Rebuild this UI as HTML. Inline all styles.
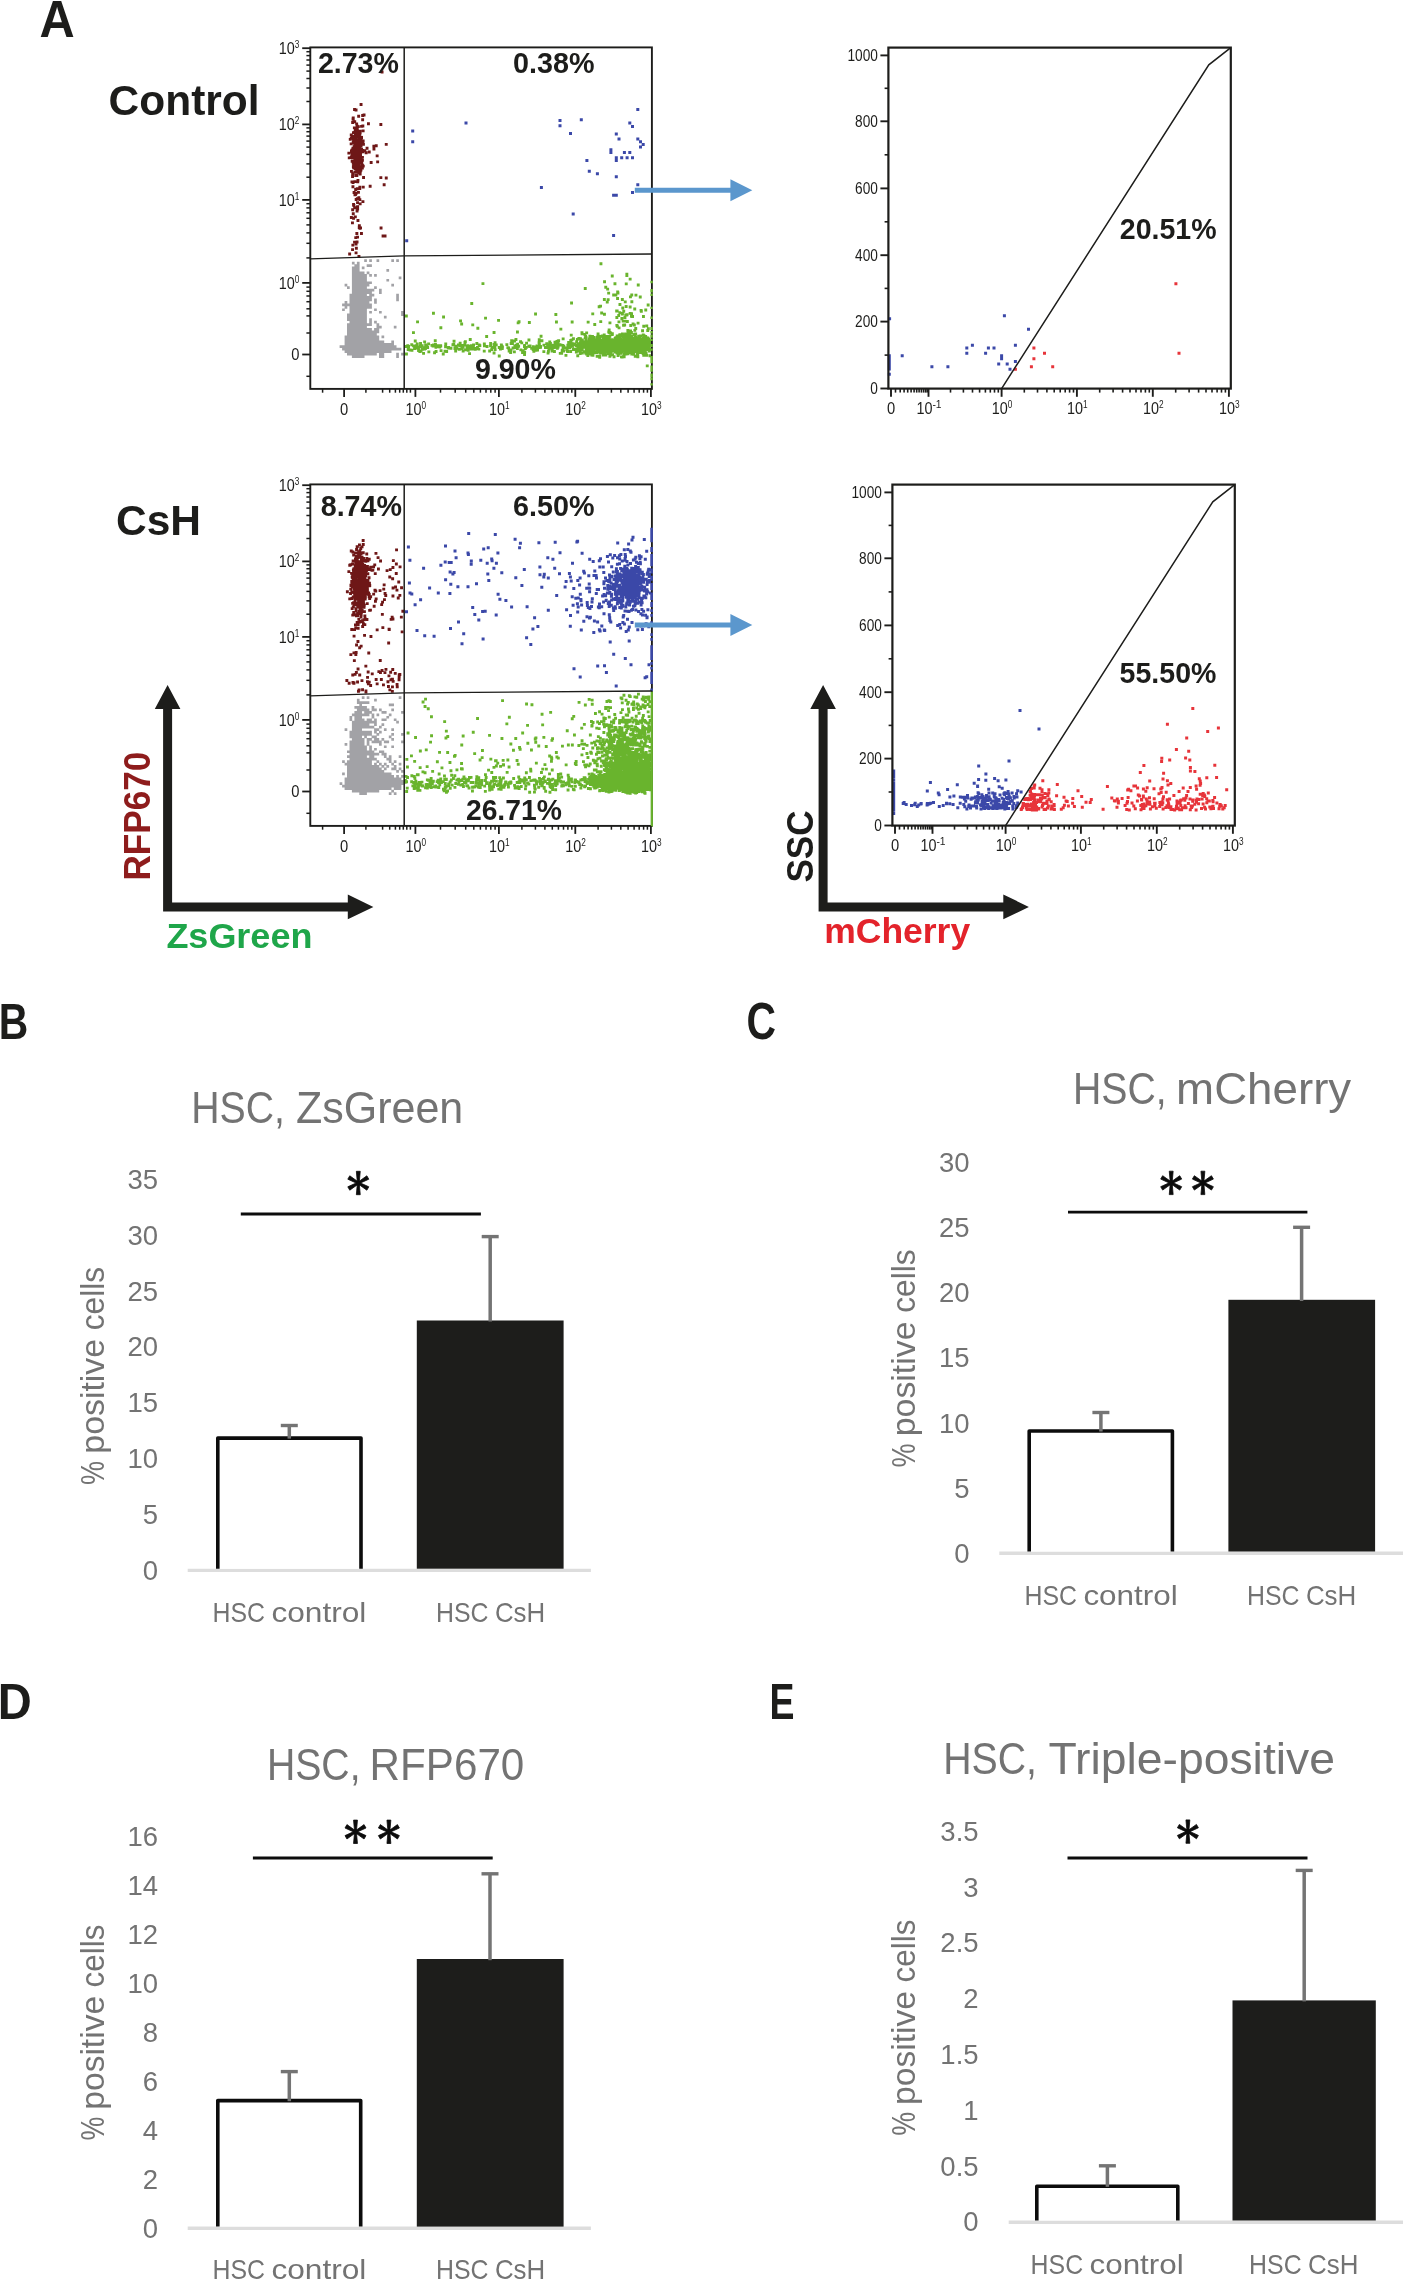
<!DOCTYPE html>
<html><head><meta charset="utf-8"><title>Figure</title>
<style>html,body{margin:0;padding:0;background:#fff}svg{display:block;will-change:transform;opacity:0.999}text{font-family:"Liberation Sans",sans-serif}</style>
</head><body>
<svg width="1403" height="2280" viewBox="0 0 1403 2280">
<rect width="1403" height="2280" fill="#fff"/>
<text x="39.4" y="36.8" font-size="51" fill="#1d1d1b" font-weight="bold" textLength="35.2" lengthAdjust="spacingAndGlyphs">A</text>
<text x="108.6" y="115.3" font-size="42.5" fill="#1d1d1b" font-weight="bold" textLength="151" lengthAdjust="spacingAndGlyphs">Control</text>
<text x="116" y="535" font-size="42.5" fill="#1d1d1b" font-weight="bold" textLength="85" lengthAdjust="spacingAndGlyphs">CsH</text>
<path fill="#a2a2a6" d="M364.2 259.2h2.7v2.7h-2.7zM369.2 259.2h2.7v2.7h-2.7zM376.5 259.2h2.7v2.7h-2.7zM391.3 259.2h2.7v2.7h-2.7zM396.2 259.2h2.7v2.7h-2.7zM351.9 261.7h2.7v2.7h-2.7zM356.9 261.7h2.7v2.7h-2.7zM354.4 264.2h2.7v2.7h-2.7zM356.9 264.2h2.7v2.7h-2.7zM366.7 264.2h2.7v2.7h-2.7zM369.2 264.2h2.7v2.7h-2.7zM351.9 266.6h2.7v2.7h-2.7zM354.4 266.6h2.7v2.7h-2.7zM356.9 266.6h2.7v2.7h-2.7zM361.8 266.6h2.7v2.7h-2.7zM351.9 269.1h2.7v2.7h-2.7zM354.4 269.1h2.7v2.7h-2.7zM356.9 269.1h2.7v2.7h-2.7zM386.4 269.1h2.7v2.7h-2.7zM351.9 271.5h2.7v2.7h-2.7zM354.4 271.5h2.7v2.7h-2.7zM356.9 271.5h2.7v2.7h-2.7zM359.3 271.5h2.7v2.7h-2.7zM361.8 271.5h2.7v2.7h-2.7zM366.7 271.5h2.7v2.7h-2.7zM351.9 274h2.7v2.7h-2.7zM354.4 274h2.7v2.7h-2.7zM356.9 274h2.7v2.7h-2.7zM359.3 274h2.7v2.7h-2.7zM361.8 274h2.7v2.7h-2.7zM364.2 274h2.7v2.7h-2.7zM369.2 274h2.7v2.7h-2.7zM374.1 274h2.7v2.7h-2.7zM351.9 276.5h2.7v2.7h-2.7zM354.4 276.5h2.7v2.7h-2.7zM356.9 276.5h2.7v2.7h-2.7zM359.3 276.5h2.7v2.7h-2.7zM361.8 276.5h2.7v2.7h-2.7zM364.2 276.5h2.7v2.7h-2.7zM398.7 276.5h2.7v2.7h-2.7zM351.9 278.9h2.7v2.7h-2.7zM354.4 278.9h2.7v2.7h-2.7zM356.9 278.9h2.7v2.7h-2.7zM359.3 278.9h2.7v2.7h-2.7zM361.8 278.9h2.7v2.7h-2.7zM364.2 278.9h2.7v2.7h-2.7zM386.4 278.9h2.7v2.7h-2.7zM351.9 281.4h2.7v2.7h-2.7zM354.4 281.4h2.7v2.7h-2.7zM356.9 281.4h2.7v2.7h-2.7zM359.3 281.4h2.7v2.7h-2.7zM361.8 281.4h2.7v2.7h-2.7zM364.2 281.4h2.7v2.7h-2.7zM366.7 281.4h2.7v2.7h-2.7zM369.2 281.4h2.7v2.7h-2.7zM344.6 283.8h2.7v2.7h-2.7zM351.9 283.8h2.7v2.7h-2.7zM354.4 283.8h2.7v2.7h-2.7zM356.9 283.8h2.7v2.7h-2.7zM359.3 283.8h2.7v2.7h-2.7zM361.8 283.8h2.7v2.7h-2.7zM364.2 283.8h2.7v2.7h-2.7zM366.7 283.8h2.7v2.7h-2.7zM391.3 283.8h2.7v2.7h-2.7zM347 286.3h2.7v2.7h-2.7zM351.9 286.3h2.7v2.7h-2.7zM354.4 286.3h2.7v2.7h-2.7zM356.9 286.3h2.7v2.7h-2.7zM359.3 286.3h2.7v2.7h-2.7zM361.8 286.3h2.7v2.7h-2.7zM364.2 286.3h2.7v2.7h-2.7zM374.1 286.3h2.7v2.7h-2.7zM351.9 288.8h2.7v2.7h-2.7zM354.4 288.8h2.7v2.7h-2.7zM356.9 288.8h2.7v2.7h-2.7zM359.3 288.8h2.7v2.7h-2.7zM361.8 288.8h2.7v2.7h-2.7zM364.2 288.8h2.7v2.7h-2.7zM366.7 288.8h2.7v2.7h-2.7zM369.2 288.8h2.7v2.7h-2.7zM371.6 288.8h2.7v2.7h-2.7zM379 288.8h2.7v2.7h-2.7zM351.9 291.2h2.7v2.7h-2.7zM354.4 291.2h2.7v2.7h-2.7zM356.9 291.2h2.7v2.7h-2.7zM359.3 291.2h2.7v2.7h-2.7zM361.8 291.2h2.7v2.7h-2.7zM364.2 291.2h2.7v2.7h-2.7zM366.7 291.2h2.7v2.7h-2.7zM369.2 291.2h2.7v2.7h-2.7zM379 291.2h2.7v2.7h-2.7zM349.5 293.7h2.7v2.7h-2.7zM351.9 293.7h2.7v2.7h-2.7zM354.4 293.7h2.7v2.7h-2.7zM356.9 293.7h2.7v2.7h-2.7zM359.3 293.7h2.7v2.7h-2.7zM361.8 293.7h2.7v2.7h-2.7zM364.2 293.7h2.7v2.7h-2.7zM369.2 293.7h2.7v2.7h-2.7zM371.6 293.7h2.7v2.7h-2.7zM396.2 293.7h2.7v2.7h-2.7zM349.5 296.1h2.7v2.7h-2.7zM351.9 296.1h2.7v2.7h-2.7zM354.4 296.1h2.7v2.7h-2.7zM356.9 296.1h2.7v2.7h-2.7zM359.3 296.1h2.7v2.7h-2.7zM361.8 296.1h2.7v2.7h-2.7zM364.2 296.1h2.7v2.7h-2.7zM366.7 296.1h2.7v2.7h-2.7zM369.2 296.1h2.7v2.7h-2.7zM396.2 296.1h2.7v2.7h-2.7zM349.5 298.6h2.7v2.7h-2.7zM351.9 298.6h2.7v2.7h-2.7zM354.4 298.6h2.7v2.7h-2.7zM356.9 298.6h2.7v2.7h-2.7zM359.3 298.6h2.7v2.7h-2.7zM361.8 298.6h2.7v2.7h-2.7zM364.2 298.6h2.7v2.7h-2.7zM366.7 298.6h2.7v2.7h-2.7zM369.2 298.6h2.7v2.7h-2.7zM374.1 298.6h2.7v2.7h-2.7zM396.2 298.6h2.7v2.7h-2.7zM344.6 301.1h2.7v2.7h-2.7zM349.5 301.1h2.7v2.7h-2.7zM351.9 301.1h2.7v2.7h-2.7zM354.4 301.1h2.7v2.7h-2.7zM356.9 301.1h2.7v2.7h-2.7zM359.3 301.1h2.7v2.7h-2.7zM361.8 301.1h2.7v2.7h-2.7zM364.2 301.1h2.7v2.7h-2.7zM366.7 301.1h2.7v2.7h-2.7zM374.1 301.1h2.7v2.7h-2.7zM342.1 303.5h2.7v2.7h-2.7zM344.6 303.5h2.7v2.7h-2.7zM347 303.5h2.7v2.7h-2.7zM349.5 303.5h2.7v2.7h-2.7zM351.9 303.5h2.7v2.7h-2.7zM354.4 303.5h2.7v2.7h-2.7zM356.9 303.5h2.7v2.7h-2.7zM359.3 303.5h2.7v2.7h-2.7zM361.8 303.5h2.7v2.7h-2.7zM364.2 303.5h2.7v2.7h-2.7zM366.7 303.5h2.7v2.7h-2.7zM369.2 303.5h2.7v2.7h-2.7zM344.6 306h2.7v2.7h-2.7zM349.5 306h2.7v2.7h-2.7zM351.9 306h2.7v2.7h-2.7zM354.4 306h2.7v2.7h-2.7zM356.9 306h2.7v2.7h-2.7zM359.3 306h2.7v2.7h-2.7zM361.8 306h2.7v2.7h-2.7zM364.2 306h2.7v2.7h-2.7zM366.7 306h2.7v2.7h-2.7zM369.2 306h2.7v2.7h-2.7zM342.1 308.4h2.7v2.7h-2.7zM349.5 308.4h2.7v2.7h-2.7zM351.9 308.4h2.7v2.7h-2.7zM354.4 308.4h2.7v2.7h-2.7zM356.9 308.4h2.7v2.7h-2.7zM359.3 308.4h2.7v2.7h-2.7zM361.8 308.4h2.7v2.7h-2.7zM364.2 308.4h2.7v2.7h-2.7zM374.1 308.4h2.7v2.7h-2.7zM349.5 310.9h2.7v2.7h-2.7zM351.9 310.9h2.7v2.7h-2.7zM354.4 310.9h2.7v2.7h-2.7zM356.9 310.9h2.7v2.7h-2.7zM359.3 310.9h2.7v2.7h-2.7zM361.8 310.9h2.7v2.7h-2.7zM364.2 310.9h2.7v2.7h-2.7zM369.2 310.9h2.7v2.7h-2.7zM379 310.9h2.7v2.7h-2.7zM401.1 310.9h2.7v2.7h-2.7zM347 313.4h2.7v2.7h-2.7zM349.5 313.4h2.7v2.7h-2.7zM351.9 313.4h2.7v2.7h-2.7zM354.4 313.4h2.7v2.7h-2.7zM356.9 313.4h2.7v2.7h-2.7zM359.3 313.4h2.7v2.7h-2.7zM361.8 313.4h2.7v2.7h-2.7zM364.2 313.4h2.7v2.7h-2.7zM401.1 313.4h2.7v2.7h-2.7zM347 315.8h2.7v2.7h-2.7zM349.5 315.8h2.7v2.7h-2.7zM351.9 315.8h2.7v2.7h-2.7zM354.4 315.8h2.7v2.7h-2.7zM356.9 315.8h2.7v2.7h-2.7zM359.3 315.8h2.7v2.7h-2.7zM361.8 315.8h2.7v2.7h-2.7zM364.2 315.8h2.7v2.7h-2.7zM383.9 315.8h2.7v2.7h-2.7zM347 318.3h2.7v2.7h-2.7zM349.5 318.3h2.7v2.7h-2.7zM351.9 318.3h2.7v2.7h-2.7zM354.4 318.3h2.7v2.7h-2.7zM356.9 318.3h2.7v2.7h-2.7zM359.3 318.3h2.7v2.7h-2.7zM361.8 318.3h2.7v2.7h-2.7zM364.2 318.3h2.7v2.7h-2.7zM369.2 318.3h2.7v2.7h-2.7zM349.5 320.7h2.7v2.7h-2.7zM351.9 320.7h2.7v2.7h-2.7zM354.4 320.7h2.7v2.7h-2.7zM356.9 320.7h2.7v2.7h-2.7zM359.3 320.7h2.7v2.7h-2.7zM361.8 320.7h2.7v2.7h-2.7zM364.2 320.7h2.7v2.7h-2.7zM369.2 320.7h2.7v2.7h-2.7zM374.1 320.7h2.7v2.7h-2.7zM347 323.2h2.7v2.7h-2.7zM349.5 323.2h2.7v2.7h-2.7zM351.9 323.2h2.7v2.7h-2.7zM354.4 323.2h2.7v2.7h-2.7zM356.9 323.2h2.7v2.7h-2.7zM359.3 323.2h2.7v2.7h-2.7zM361.8 323.2h2.7v2.7h-2.7zM364.2 323.2h2.7v2.7h-2.7zM366.7 323.2h2.7v2.7h-2.7zM369.2 323.2h2.7v2.7h-2.7zM376.5 323.2h2.7v2.7h-2.7zM347 325.7h2.7v2.7h-2.7zM349.5 325.7h2.7v2.7h-2.7zM351.9 325.7h2.7v2.7h-2.7zM354.4 325.7h2.7v2.7h-2.7zM356.9 325.7h2.7v2.7h-2.7zM359.3 325.7h2.7v2.7h-2.7zM361.8 325.7h2.7v2.7h-2.7zM364.2 325.7h2.7v2.7h-2.7zM376.5 325.7h2.7v2.7h-2.7zM379 325.7h2.7v2.7h-2.7zM393.8 325.7h2.7v2.7h-2.7zM347 328.1h2.7v2.7h-2.7zM349.5 328.1h2.7v2.7h-2.7zM351.9 328.1h2.7v2.7h-2.7zM354.4 328.1h2.7v2.7h-2.7zM356.9 328.1h2.7v2.7h-2.7zM359.3 328.1h2.7v2.7h-2.7zM361.8 328.1h2.7v2.7h-2.7zM364.2 328.1h2.7v2.7h-2.7zM366.7 328.1h2.7v2.7h-2.7zM369.2 328.1h2.7v2.7h-2.7zM374.1 328.1h2.7v2.7h-2.7zM376.5 328.1h2.7v2.7h-2.7zM347 330.6h2.7v2.7h-2.7zM349.5 330.6h2.7v2.7h-2.7zM351.9 330.6h2.7v2.7h-2.7zM354.4 330.6h2.7v2.7h-2.7zM356.9 330.6h2.7v2.7h-2.7zM359.3 330.6h2.7v2.7h-2.7zM361.8 330.6h2.7v2.7h-2.7zM364.2 330.6h2.7v2.7h-2.7zM366.7 330.6h2.7v2.7h-2.7zM369.2 330.6h2.7v2.7h-2.7zM371.6 330.6h2.7v2.7h-2.7zM374.1 330.6h2.7v2.7h-2.7zM376.5 330.6h2.7v2.7h-2.7zM347 333h2.7v2.7h-2.7zM349.5 333h2.7v2.7h-2.7zM351.9 333h2.7v2.7h-2.7zM354.4 333h2.7v2.7h-2.7zM356.9 333h2.7v2.7h-2.7zM359.3 333h2.7v2.7h-2.7zM361.8 333h2.7v2.7h-2.7zM364.2 333h2.7v2.7h-2.7zM366.7 333h2.7v2.7h-2.7zM369.2 333h2.7v2.7h-2.7zM371.6 333h2.7v2.7h-2.7zM374.1 333h2.7v2.7h-2.7zM344.6 335.5h2.7v2.7h-2.7zM347 335.5h2.7v2.7h-2.7zM349.5 335.5h2.7v2.7h-2.7zM351.9 335.5h2.7v2.7h-2.7zM354.4 335.5h2.7v2.7h-2.7zM356.9 335.5h2.7v2.7h-2.7zM359.3 335.5h2.7v2.7h-2.7zM361.8 335.5h2.7v2.7h-2.7zM364.2 335.5h2.7v2.7h-2.7zM366.7 335.5h2.7v2.7h-2.7zM369.2 335.5h2.7v2.7h-2.7zM371.6 335.5h2.7v2.7h-2.7zM374.1 335.5h2.7v2.7h-2.7zM376.5 335.5h2.7v2.7h-2.7zM381.5 335.5h2.7v2.7h-2.7zM344.6 338h2.7v2.7h-2.7zM347 338h2.7v2.7h-2.7zM349.5 338h2.7v2.7h-2.7zM351.9 338h2.7v2.7h-2.7zM354.4 338h2.7v2.7h-2.7zM356.9 338h2.7v2.7h-2.7zM359.3 338h2.7v2.7h-2.7zM361.8 338h2.7v2.7h-2.7zM364.2 338h2.7v2.7h-2.7zM366.7 338h2.7v2.7h-2.7zM369.2 338h2.7v2.7h-2.7zM371.6 338h2.7v2.7h-2.7zM374.1 338h2.7v2.7h-2.7zM376.5 338h2.7v2.7h-2.7zM344.6 340.4h2.7v2.7h-2.7zM347 340.4h2.7v2.7h-2.7zM349.5 340.4h2.7v2.7h-2.7zM351.9 340.4h2.7v2.7h-2.7zM354.4 340.4h2.7v2.7h-2.7zM356.9 340.4h2.7v2.7h-2.7zM359.3 340.4h2.7v2.7h-2.7zM361.8 340.4h2.7v2.7h-2.7zM364.2 340.4h2.7v2.7h-2.7zM366.7 340.4h2.7v2.7h-2.7zM369.2 340.4h2.7v2.7h-2.7zM371.6 340.4h2.7v2.7h-2.7zM374.1 340.4h2.7v2.7h-2.7zM376.5 340.4h2.7v2.7h-2.7zM379 340.4h2.7v2.7h-2.7zM381.5 340.4h2.7v2.7h-2.7zM391.3 340.4h2.7v2.7h-2.7zM344.6 342.9h2.7v2.7h-2.7zM347 342.9h2.7v2.7h-2.7zM349.5 342.9h2.7v2.7h-2.7zM351.9 342.9h2.7v2.7h-2.7zM354.4 342.9h2.7v2.7h-2.7zM356.9 342.9h2.7v2.7h-2.7zM359.3 342.9h2.7v2.7h-2.7zM361.8 342.9h2.7v2.7h-2.7zM364.2 342.9h2.7v2.7h-2.7zM366.7 342.9h2.7v2.7h-2.7zM369.2 342.9h2.7v2.7h-2.7zM371.6 342.9h2.7v2.7h-2.7zM374.1 342.9h2.7v2.7h-2.7zM376.5 342.9h2.7v2.7h-2.7zM379 342.9h2.7v2.7h-2.7zM381.5 342.9h2.7v2.7h-2.7zM383.9 342.9h2.7v2.7h-2.7zM386.4 342.9h2.7v2.7h-2.7zM388.8 342.9h2.7v2.7h-2.7zM391.3 342.9h2.7v2.7h-2.7zM339.6 345.3h2.7v2.7h-2.7zM342.1 345.3h2.7v2.7h-2.7zM344.6 345.3h2.7v2.7h-2.7zM347 345.3h2.7v2.7h-2.7zM349.5 345.3h2.7v2.7h-2.7zM351.9 345.3h2.7v2.7h-2.7zM354.4 345.3h2.7v2.7h-2.7zM356.9 345.3h2.7v2.7h-2.7zM359.3 345.3h2.7v2.7h-2.7zM361.8 345.3h2.7v2.7h-2.7zM364.2 345.3h2.7v2.7h-2.7zM366.7 345.3h2.7v2.7h-2.7zM369.2 345.3h2.7v2.7h-2.7zM371.6 345.3h2.7v2.7h-2.7zM374.1 345.3h2.7v2.7h-2.7zM376.5 345.3h2.7v2.7h-2.7zM379 345.3h2.7v2.7h-2.7zM381.5 345.3h2.7v2.7h-2.7zM383.9 345.3h2.7v2.7h-2.7zM386.4 345.3h2.7v2.7h-2.7zM388.8 345.3h2.7v2.7h-2.7zM391.3 345.3h2.7v2.7h-2.7zM393.8 345.3h2.7v2.7h-2.7zM342.1 347.8h2.7v2.7h-2.7zM344.6 347.8h2.7v2.7h-2.7zM347 347.8h2.7v2.7h-2.7zM349.5 347.8h2.7v2.7h-2.7zM351.9 347.8h2.7v2.7h-2.7zM354.4 347.8h2.7v2.7h-2.7zM356.9 347.8h2.7v2.7h-2.7zM359.3 347.8h2.7v2.7h-2.7zM361.8 347.8h2.7v2.7h-2.7zM364.2 347.8h2.7v2.7h-2.7zM366.7 347.8h2.7v2.7h-2.7zM369.2 347.8h2.7v2.7h-2.7zM371.6 347.8h2.7v2.7h-2.7zM374.1 347.8h2.7v2.7h-2.7zM376.5 347.8h2.7v2.7h-2.7zM379 347.8h2.7v2.7h-2.7zM381.5 347.8h2.7v2.7h-2.7zM383.9 347.8h2.7v2.7h-2.7zM386.4 347.8h2.7v2.7h-2.7zM388.8 347.8h2.7v2.7h-2.7zM391.3 347.8h2.7v2.7h-2.7zM393.8 347.8h2.7v2.7h-2.7zM396.2 347.8h2.7v2.7h-2.7zM398.7 347.8h2.7v2.7h-2.7zM344.6 350.3h2.7v2.7h-2.7zM347 350.3h2.7v2.7h-2.7zM349.5 350.3h2.7v2.7h-2.7zM351.9 350.3h2.7v2.7h-2.7zM354.4 350.3h2.7v2.7h-2.7zM356.9 350.3h2.7v2.7h-2.7zM359.3 350.3h2.7v2.7h-2.7zM361.8 350.3h2.7v2.7h-2.7zM364.2 350.3h2.7v2.7h-2.7zM366.7 350.3h2.7v2.7h-2.7zM369.2 350.3h2.7v2.7h-2.7zM371.6 350.3h2.7v2.7h-2.7zM374.1 350.3h2.7v2.7h-2.7zM376.5 350.3h2.7v2.7h-2.7zM379 350.3h2.7v2.7h-2.7zM381.5 350.3h2.7v2.7h-2.7zM383.9 350.3h2.7v2.7h-2.7zM386.4 350.3h2.7v2.7h-2.7zM388.8 350.3h2.7v2.7h-2.7zM347 352.7h2.7v2.7h-2.7zM349.5 352.7h2.7v2.7h-2.7zM351.9 352.7h2.7v2.7h-2.7zM354.4 352.7h2.7v2.7h-2.7zM356.9 352.7h2.7v2.7h-2.7zM359.3 352.7h2.7v2.7h-2.7zM361.8 352.7h2.7v2.7h-2.7zM364.2 352.7h2.7v2.7h-2.7zM366.7 352.7h2.7v2.7h-2.7zM369.2 352.7h2.7v2.7h-2.7zM371.6 352.7h2.7v2.7h-2.7zM374.1 352.7h2.7v2.7h-2.7zM379 352.7h2.7v2.7h-2.7zM381.5 352.7h2.7v2.7h-2.7zM396.2 352.7h2.7v2.7h-2.7zM401.1 352.7h2.7v2.7h-2.7zM351.9 355.2h2.7v2.7h-2.7zM354.4 355.2h2.7v2.7h-2.7zM356.9 355.2h2.7v2.7h-2.7zM359.3 355.2h2.7v2.7h-2.7zM361.8 355.2h2.7v2.7h-2.7zM379 355.2h2.7v2.7h-2.7zM381.5 355.2h2.7v2.7h-2.7zM396.2 355.2h2.7v2.7h-2.7z"/>
<path fill="#6e1717" d="M356.8 150.2h2.9v2.9h-2.9zM356.1 150.5h2.9v2.9h-2.9zM357.4 161.7h2.9v2.9h-2.9zM354.6 145.3h2.9v2.9h-2.9zM348.8 137.9h2.9v2.9h-2.9zM350.7 159.9h2.9v2.9h-2.9zM352.1 140.5h2.9v2.9h-2.9zM357.2 164.4h2.9v2.9h-2.9zM359.3 138.3h2.9v2.9h-2.9zM356.2 165.5h2.9v2.9h-2.9zM352.8 147.1h2.9v2.9h-2.9zM351.7 141.3h2.9v2.9h-2.9zM357.7 151.7h2.9v2.9h-2.9zM354.4 142.4h2.9v2.9h-2.9zM360.3 161h2.9v2.9h-2.9zM351.6 181h2.9v2.9h-2.9zM354.2 148.2h2.9v2.9h-2.9zM354 142.3h2.9v2.9h-2.9zM357.5 129.9h2.9v2.9h-2.9zM355.6 145.8h2.9v2.9h-2.9zM361 155.9h2.9v2.9h-2.9zM356.9 157.8h2.9v2.9h-2.9zM357.4 152.1h2.9v2.9h-2.9zM347.8 156.4h2.9v2.9h-2.9zM354.5 160.3h2.9v2.9h-2.9zM356.5 142.7h2.9v2.9h-2.9zM352.7 136h2.9v2.9h-2.9zM356.4 148.9h2.9v2.9h-2.9zM352.7 145.2h2.9v2.9h-2.9zM356.6 141h2.9v2.9h-2.9zM355.1 141.8h2.9v2.9h-2.9zM347.4 151.7h2.9v2.9h-2.9zM355.7 161.8h2.9v2.9h-2.9zM359.6 140.2h2.9v2.9h-2.9zM357.4 154.2h2.9v2.9h-2.9zM355.8 162.1h2.9v2.9h-2.9zM358.2 132.5h2.9v2.9h-2.9zM360.1 147.9h2.9v2.9h-2.9zM353.4 140.6h2.9v2.9h-2.9zM354.8 134.6h2.9v2.9h-2.9zM358.9 156.4h2.9v2.9h-2.9zM352.7 162h2.9v2.9h-2.9zM356.3 151.6h2.9v2.9h-2.9zM358.5 149.1h2.9v2.9h-2.9zM354.7 157.5h2.9v2.9h-2.9zM349.8 133.5h2.9v2.9h-2.9zM357.1 165.5h2.9v2.9h-2.9zM350.3 150.6h2.9v2.9h-2.9zM353.4 146.4h2.9v2.9h-2.9zM357.4 171.4h2.9v2.9h-2.9zM361 163.7h2.9v2.9h-2.9zM357.5 152.4h2.9v2.9h-2.9zM349.7 156h2.9v2.9h-2.9zM351.8 134.7h2.9v2.9h-2.9zM355.9 128.2h2.9v2.9h-2.9zM361 158.9h2.9v2.9h-2.9zM356.7 157.2h2.9v2.9h-2.9zM356.3 151.3h2.9v2.9h-2.9zM357.7 141h2.9v2.9h-2.9zM356.4 152.8h2.9v2.9h-2.9zM357.9 134.9h2.9v2.9h-2.9zM356.3 148.6h2.9v2.9h-2.9zM357.5 158h2.9v2.9h-2.9zM356.1 156.9h2.9v2.9h-2.9zM356.9 169.6h2.9v2.9h-2.9zM356.5 158h2.9v2.9h-2.9zM352.6 147.5h2.9v2.9h-2.9zM357.9 165.2h2.9v2.9h-2.9zM352.5 149.9h2.9v2.9h-2.9zM354.7 151.2h2.9v2.9h-2.9zM354 144.5h2.9v2.9h-2.9zM355.3 152.2h2.9v2.9h-2.9zM358.7 138.5h2.9v2.9h-2.9zM352.5 161.5h2.9v2.9h-2.9zM357.1 147.8h2.9v2.9h-2.9zM351.9 165.2h2.9v2.9h-2.9zM352.2 166.3h2.9v2.9h-2.9zM356.3 148.3h2.9v2.9h-2.9zM355 161.9h2.9v2.9h-2.9zM355.6 126h2.9v2.9h-2.9zM353.3 120.3h2.9v2.9h-2.9zM356.8 163.4h2.9v2.9h-2.9zM358.7 131.5h2.9v2.9h-2.9zM362.1 176h2.9v2.9h-2.9zM355.2 122.5h2.9v2.9h-2.9zM352.8 165.1h2.9v2.9h-2.9zM362 142.9h2.9v2.9h-2.9zM349.8 136.9h2.9v2.9h-2.9zM361.5 150.4h2.9v2.9h-2.9zM351.2 121h2.9v2.9h-2.9zM357.5 161.7h2.9v2.9h-2.9zM354 147.6h2.9v2.9h-2.9zM355.8 145.6h2.9v2.9h-2.9zM353.8 142.3h2.9v2.9h-2.9zM353.7 167.7h2.9v2.9h-2.9zM356.8 164.8h2.9v2.9h-2.9zM361.2 118.3h2.9v2.9h-2.9zM355.3 163.9h2.9v2.9h-2.9zM354.9 142h2.9v2.9h-2.9zM356.8 143h2.9v2.9h-2.9zM352.9 146.1h2.9v2.9h-2.9zM355.7 150.6h2.9v2.9h-2.9zM358.3 150.7h2.9v2.9h-2.9zM354 193.2h2.9v2.9h-2.9zM354.8 146.6h2.9v2.9h-2.9zM355.1 140.6h2.9v2.9h-2.9zM350.6 153.1h2.9v2.9h-2.9zM360.1 124.9h2.9v2.9h-2.9zM353.2 156.4h2.9v2.9h-2.9zM353.4 157.8h2.9v2.9h-2.9zM355.4 135h2.9v2.9h-2.9zM354.8 143.2h2.9v2.9h-2.9zM357.2 114.8h2.9v2.9h-2.9zM356.8 169.1h2.9v2.9h-2.9zM356 153.7h2.9v2.9h-2.9zM353.9 155.1h2.9v2.9h-2.9zM355.1 132.4h2.9v2.9h-2.9zM351.8 117.9h2.9v2.9h-2.9zM356.9 152.8h2.9v2.9h-2.9zM358.9 154h2.9v2.9h-2.9zM357.7 131.6h2.9v2.9h-2.9zM349.7 142.4h2.9v2.9h-2.9zM354.5 155.5h2.9v2.9h-2.9zM355.1 148.1h2.9v2.9h-2.9zM355.6 154h2.9v2.9h-2.9zM356.1 154.9h2.9v2.9h-2.9zM354 149.1h2.9v2.9h-2.9zM350.9 134.8h2.9v2.9h-2.9zM354.7 156.4h2.9v2.9h-2.9zM353.2 130.7h2.9v2.9h-2.9zM358.5 138.7h2.9v2.9h-2.9zM350.2 136.8h2.9v2.9h-2.9zM351.8 116.5h2.9v2.9h-2.9zM354.3 174.1h2.9v2.9h-2.9zM353.2 138.9h2.9v2.9h-2.9zM359.1 151.6h2.9v2.9h-2.9zM355.2 169.5h2.9v2.9h-2.9zM351.9 149.6h2.9v2.9h-2.9zM357.1 153.2h2.9v2.9h-2.9zM351.9 137.4h2.9v2.9h-2.9zM361 149.1h2.9v2.9h-2.9zM354.7 165.5h2.9v2.9h-2.9zM350 149.6h2.9v2.9h-2.9zM350 169.9h2.9v2.9h-2.9zM352.4 152h2.9v2.9h-2.9zM352.7 152.2h2.9v2.9h-2.9zM356.5 150.5h2.9v2.9h-2.9zM354.5 153.9h2.9v2.9h-2.9zM354.8 143.4h2.9v2.9h-2.9zM357.5 162.4h2.9v2.9h-2.9zM351.3 136.3h2.9v2.9h-2.9zM353.1 154.6h2.9v2.9h-2.9zM351.2 172.2h2.9v2.9h-2.9zM355.7 152.6h2.9v2.9h-2.9zM358.2 140h2.9v2.9h-2.9zM356.7 156.1h2.9v2.9h-2.9zM359.5 135.8h2.9v2.9h-2.9zM359.8 158.8h2.9v2.9h-2.9zM356.3 165.4h2.9v2.9h-2.9zM354.8 147.8h2.9v2.9h-2.9zM358.1 145.6h2.9v2.9h-2.9zM358.9 169.7h2.9v2.9h-2.9zM356.2 153h2.9v2.9h-2.9zM353.5 137.7h2.9v2.9h-2.9zM360 136.1h2.9v2.9h-2.9zM355.8 154.6h2.9v2.9h-2.9zM352.8 141h2.9v2.9h-2.9zM353.4 180.2h2.9v2.9h-2.9zM356.7 170h2.9v2.9h-2.9zM361.8 164.7h2.9v2.9h-2.9zM359.6 144.4h2.9v2.9h-2.9zM353.4 170.9h2.9v2.9h-2.9zM360.1 136.3h2.9v2.9h-2.9zM359.1 154.7h2.9v2.9h-2.9zM358 164.1h2.9v2.9h-2.9zM361.4 141.9h2.9v2.9h-2.9zM355.6 168.3h2.9v2.9h-2.9zM354.8 158.3h2.9v2.9h-2.9zM355.3 126.9h2.9v2.9h-2.9zM353.9 163.1h2.9v2.9h-2.9zM353.9 129.2h2.9v2.9h-2.9zM354 152.1h2.9v2.9h-2.9zM357.1 155.4h2.9v2.9h-2.9zM357.2 136h2.9v2.9h-2.9zM353.7 140h2.9v2.9h-2.9zM354.2 156.9h2.9v2.9h-2.9zM359.7 147.5h2.9v2.9h-2.9zM358.9 166.3h2.9v2.9h-2.9zM352.1 139.4h2.9v2.9h-2.9zM356.1 131.5h2.9v2.9h-2.9zM361.4 124.6h2.9v2.9h-2.9zM351.8 161.7h2.9v2.9h-2.9zM353.3 160.8h2.9v2.9h-2.9zM352.6 165.6h2.9v2.9h-2.9zM353.8 161h2.9v2.9h-2.9zM358.7 129.9h2.9v2.9h-2.9zM352.9 126.4h2.9v2.9h-2.9zM352.2 163.7h2.9v2.9h-2.9zM355.5 162.7h2.9v2.9h-2.9zM360 165.4h2.9v2.9h-2.9zM357.9 144.9h2.9v2.9h-2.9zM354.4 155.4h2.9v2.9h-2.9zM358.3 166.1h2.9v2.9h-2.9zM356.6 146.9h2.9v2.9h-2.9zM355.4 174.2h2.9v2.9h-2.9zM356.5 178.9h2.9v2.9h-2.9zM353.4 163.2h2.9v2.9h-2.9zM356.3 161.6h2.9v2.9h-2.9zM353.3 155.7h2.9v2.9h-2.9zM355.4 147.1h2.9v2.9h-2.9zM352 131.2h2.9v2.9h-2.9zM354.6 158.7h2.9v2.9h-2.9zM356.5 154.4h2.9v2.9h-2.9zM356.7 132.2h2.9v2.9h-2.9zM358.9 152h2.9v2.9h-2.9zM353.3 143.4h2.9v2.9h-2.9zM358.7 153.7h2.9v2.9h-2.9zM350.5 180.4h2.9v2.9h-2.9zM351.1 175h2.9v2.9h-2.9zM358.3 137.1h2.9v2.9h-2.9zM359.5 168.6h2.9v2.9h-2.9zM358.9 160.1h2.9v2.9h-2.9zM356.7 154.1h2.9v2.9h-2.9zM354 154.9h2.9v2.9h-2.9zM359.6 149.6h2.9v2.9h-2.9zM361.7 129.4h2.9v2.9h-2.9zM355.8 130.4h2.9v2.9h-2.9zM350.3 154.7h2.9v2.9h-2.9zM354.7 143.4h2.9v2.9h-2.9zM352.4 147.8h2.9v2.9h-2.9zM350.7 148.4h2.9v2.9h-2.9zM354 133.7h2.9v2.9h-2.9zM356.9 125.2h2.9v2.9h-2.9zM357 154.8h2.9v2.9h-2.9zM357.3 153h2.9v2.9h-2.9zM358.1 147.5h2.9v2.9h-2.9zM352.3 156.4h2.9v2.9h-2.9zM353.2 146.1h2.9v2.9h-2.9zM356 138.2h2.9v2.9h-2.9zM358.7 129.7h2.9v2.9h-2.9zM359.5 150.7h2.9v2.9h-2.9zM360.9 166.6h2.9v2.9h-2.9zM357.8 155.2h2.9v2.9h-2.9zM356 132h2.9v2.9h-2.9zM354 138h2.9v2.9h-2.9zM353.5 149.3h2.9v2.9h-2.9zM353.2 153.1h2.9v2.9h-2.9zM354.9 144.6h2.9v2.9h-2.9zM356.9 157.6h2.9v2.9h-2.9zM351.5 146.8h2.9v2.9h-2.9zM364.7 151.3h2.9v2.9h-2.9zM357.1 138.8h2.9v2.9h-2.9zM358.7 172.5h2.9v2.9h-2.9zM357.5 149.3h2.9v2.9h-2.9zM355.8 124.7h2.9v2.9h-2.9zM357.5 146.9h2.9v2.9h-2.9zM356.9 156.3h2.9v2.9h-2.9zM356.3 180.4h2.9v2.9h-2.9zM358.5 142h2.9v2.9h-2.9zM357.6 159.9h2.9v2.9h-2.9zM355.8 170.8h2.9v2.9h-2.9zM354.5 126.8h2.9v2.9h-2.9zM352.4 156.5h2.9v2.9h-2.9zM352.6 153.2h2.9v2.9h-2.9zM351 156.5h2.9v2.9h-2.9zM354.9 138.5h2.9v2.9h-2.9zM354 147.4h2.9v2.9h-2.9zM358.5 154.4h2.9v2.9h-2.9zM355 153.3h2.9v2.9h-2.9zM358.4 157.6h2.9v2.9h-2.9zM359.6 103h2.9v2.9h-2.9zM353.1 108h2.9v2.9h-2.9zM354.6 108.5h2.9v2.9h-2.9zM362.6 113.5h2.9v2.9h-2.9zM351.6 117.5h2.9v2.9h-2.9zM361.8 185.7h2.9v2.9h-2.9zM353.2 206.4h2.9v2.9h-2.9zM353.5 193.4h2.9v2.9h-2.9zM357.8 226.1h2.9v2.9h-2.9zM357.4 196.2h2.9v2.9h-2.9zM352.6 191.1h2.9v2.9h-2.9zM361.5 200.2h2.9v2.9h-2.9zM356.1 235.7h2.9v2.9h-2.9zM355.9 197.2h2.9v2.9h-2.9zM354.1 206.3h2.9v2.9h-2.9zM356.2 205.4h2.9v2.9h-2.9zM349.9 216.1h2.9v2.9h-2.9zM353.1 240.7h2.9v2.9h-2.9zM358.7 202.4h2.9v2.9h-2.9zM358.5 226.8h2.9v2.9h-2.9zM348.2 252.6h2.9v2.9h-2.9zM357.5 254.9h2.9v2.9h-2.9zM354.7 198h2.9v2.9h-2.9zM356.1 205.3h2.9v2.9h-2.9zM353.9 215.4h2.9v2.9h-2.9zM358.4 198.2h2.9v2.9h-2.9zM351.1 248.2h2.9v2.9h-2.9zM358.3 187.2h2.9v2.9h-2.9zM352.4 204.1h2.9v2.9h-2.9zM354.6 251.4h2.9v2.9h-2.9zM359.1 226.4h2.9v2.9h-2.9zM356.1 201.2h2.9v2.9h-2.9zM354.3 236.2h2.9v2.9h-2.9zM354.2 188.1h2.9v2.9h-2.9zM357.7 187.2h2.9v2.9h-2.9zM351.8 212.3h2.9v2.9h-2.9zM357.9 224.2h2.9v2.9h-2.9zM355.4 232.1h2.9v2.9h-2.9zM356.2 207.7h2.9v2.9h-2.9zM352.1 203h2.9v2.9h-2.9zM355.7 187.3h2.9v2.9h-2.9zM354.7 191.8h2.9v2.9h-2.9zM358.4 185.7h2.9v2.9h-2.9zM354.9 246.8h2.9v2.9h-2.9zM355.6 209.5h2.9v2.9h-2.9zM351.5 185.3h2.9v2.9h-2.9zM357 190.9h2.9v2.9h-2.9zM356.5 219.1h2.9v2.9h-2.9zM351.2 208.3h2.9v2.9h-2.9zM355.6 240.6h2.9v2.9h-2.9zM351.4 243.7h2.9v2.9h-2.9zM360 232.1h2.9v2.9h-2.9zM352.1 216.8h2.9v2.9h-2.9zM351 221.4h2.9v2.9h-2.9zM354.6 242.5h2.9v2.9h-2.9zM382.7 183.3h2.9v2.9h-2.9zM376.2 160.4h2.9v2.9h-2.9zM375.7 154.4h2.9v2.9h-2.9zM372.4 144.7h2.9v2.9h-2.9zM369.7 161.1h2.9v2.9h-2.9zM374.8 144.3h2.9v2.9h-2.9zM363.4 149.2h2.9v2.9h-2.9zM379.4 123.1h2.9v2.9h-2.9zM367.8 150.5h2.9v2.9h-2.9zM365.6 146.8h2.9v2.9h-2.9zM379.4 176.2h2.9v2.9h-2.9zM367 122.3h2.9v2.9h-2.9zM361.7 139.5h2.9v2.9h-2.9zM361.2 114h2.9v2.9h-2.9zM384.8 142.9h2.9v2.9h-2.9zM372.5 147.6h2.9v2.9h-2.9zM368.7 184.8h2.9v2.9h-2.9zM384.8 176.5h2.9v2.9h-2.9zM381.6 234.6h2.9v2.9h-2.9zM383.6 234.6h2.9v2.9h-2.9zM379.6 226.6h2.9v2.9h-2.9zM380.6 70.5h2.9v2.9h-2.9z"/>
<path fill="#69b42d" d="M434 343.1h2.9v2.9h-2.9zM568.3 346.4h2.9v2.9h-2.9zM430.5 343.9h2.9v2.9h-2.9zM519.4 348.4h2.9v2.9h-2.9zM510.2 339.3h2.9v2.9h-2.9zM631.8 341.2h2.9v2.9h-2.9zM625.9 346.6h2.9v2.9h-2.9zM463.4 343.5h2.9v2.9h-2.9zM516.2 342.8h2.9v2.9h-2.9zM489.2 342.1h2.9v2.9h-2.9zM646.5 345.3h2.9v2.9h-2.9zM425.8 346.1h2.9v2.9h-2.9zM454.9 344.8h2.9v2.9h-2.9zM413.8 339.5h2.9v2.9h-2.9zM461.6 345.8h2.9v2.9h-2.9zM623.5 351.2h2.9v2.9h-2.9zM468.1 352.2h2.9v2.9h-2.9zM641.6 350.6h2.9v2.9h-2.9zM579.1 340.3h2.9v2.9h-2.9zM591.6 346.5h2.9v2.9h-2.9zM528.3 345h2.9v2.9h-2.9zM565.8 349.4h2.9v2.9h-2.9zM483 344.4h2.9v2.9h-2.9zM641.4 344.2h2.9v2.9h-2.9zM455.3 346.8h2.9v2.9h-2.9zM636.3 353.6h2.9v2.9h-2.9zM630.2 348.9h2.9v2.9h-2.9zM604.7 340.3h2.9v2.9h-2.9zM542.4 350.2h2.9v2.9h-2.9zM608.3 347.9h2.9v2.9h-2.9zM608.8 346.6h2.9v2.9h-2.9zM582.6 345.9h2.9v2.9h-2.9zM523.1 353.2h2.9v2.9h-2.9zM513.1 339.5h2.9v2.9h-2.9zM569.1 343h2.9v2.9h-2.9zM493.6 341.3h2.9v2.9h-2.9zM560.2 351.8h2.9v2.9h-2.9zM580.8 348.4h2.9v2.9h-2.9zM600.2 343.4h2.9v2.9h-2.9zM514.1 346.1h2.9v2.9h-2.9zM570.3 344.1h2.9v2.9h-2.9zM404.5 345.1h2.9v2.9h-2.9zM501 345.6h2.9v2.9h-2.9zM457.8 347.8h2.9v2.9h-2.9zM505.4 343.2h2.9v2.9h-2.9zM569.3 338.9h2.9v2.9h-2.9zM408.6 348.5h2.9v2.9h-2.9zM582.8 342.3h2.9v2.9h-2.9zM553.9 343.8h2.9v2.9h-2.9zM421 347.9h2.9v2.9h-2.9zM566.2 350.1h2.9v2.9h-2.9zM626.8 347.2h2.9v2.9h-2.9zM567.2 341h2.9v2.9h-2.9zM638.7 342h2.9v2.9h-2.9zM602.6 349.1h2.9v2.9h-2.9zM407.1 345.3h2.9v2.9h-2.9zM554.1 341.4h2.9v2.9h-2.9zM553.5 340.7h2.9v2.9h-2.9zM492.6 351.6h2.9v2.9h-2.9zM556.6 345.7h2.9v2.9h-2.9zM645 340.3h2.9v2.9h-2.9zM592.8 342.1h2.9v2.9h-2.9zM646.3 338.9h2.9v2.9h-2.9zM500.8 347.2h2.9v2.9h-2.9zM406.3 344.2h2.9v2.9h-2.9zM646.7 348.2h2.9v2.9h-2.9zM500.3 344.8h2.9v2.9h-2.9zM427.4 350.4h2.9v2.9h-2.9zM478.4 344.2h2.9v2.9h-2.9zM550.1 346.6h2.9v2.9h-2.9zM507.2 346.5h2.9v2.9h-2.9zM643 342.8h2.9v2.9h-2.9zM451.5 343.3h2.9v2.9h-2.9zM407 345.1h2.9v2.9h-2.9zM477.4 347.7h2.9v2.9h-2.9zM523.2 343.9h2.9v2.9h-2.9zM531.9 345.2h2.9v2.9h-2.9zM419.6 349.5h2.9v2.9h-2.9zM489.1 344.3h2.9v2.9h-2.9zM592.2 351.3h2.9v2.9h-2.9zM575.2 340.2h2.9v2.9h-2.9zM585.1 341.9h2.9v2.9h-2.9zM417.1 349.2h2.9v2.9h-2.9zM609.3 349.4h2.9v2.9h-2.9zM645.9 345.8h2.9v2.9h-2.9zM542.5 343.7h2.9v2.9h-2.9zM556.5 344.2h2.9v2.9h-2.9zM640.8 344.5h2.9v2.9h-2.9zM528.6 344.5h2.9v2.9h-2.9zM497.8 354.5h2.9v2.9h-2.9zM420.7 344.3h2.9v2.9h-2.9zM457 343.4h2.9v2.9h-2.9zM477.7 343.4h2.9v2.9h-2.9zM566.4 343.8h2.9v2.9h-2.9zM625.4 352.2h2.9v2.9h-2.9zM629.3 345.2h2.9v2.9h-2.9zM465.6 346.2h2.9v2.9h-2.9zM546.1 344.3h2.9v2.9h-2.9zM422.1 351.9h2.9v2.9h-2.9zM434.6 350.1h2.9v2.9h-2.9zM579.3 345.4h2.9v2.9h-2.9zM597.9 345.5h2.9v2.9h-2.9zM418.4 350h2.9v2.9h-2.9zM525.1 341.7h2.9v2.9h-2.9zM512.9 350.4h2.9v2.9h-2.9zM413.1 346.4h2.9v2.9h-2.9zM532.4 349.8h2.9v2.9h-2.9zM432.1 343.4h2.9v2.9h-2.9zM580.2 344.7h2.9v2.9h-2.9zM592.6 342.8h2.9v2.9h-2.9zM545.3 342.2h2.9v2.9h-2.9zM471.1 347.6h2.9v2.9h-2.9zM473.9 347.8h2.9v2.9h-2.9zM592.5 343.6h2.9v2.9h-2.9zM493.4 345.6h2.9v2.9h-2.9zM639.6 345.7h2.9v2.9h-2.9zM587.7 349.8h2.9v2.9h-2.9zM418.8 345.1h2.9v2.9h-2.9zM443.6 349.7h2.9v2.9h-2.9zM555.9 346.9h2.9v2.9h-2.9zM637.7 344.9h2.9v2.9h-2.9zM457.7 347.8h2.9v2.9h-2.9zM439.6 349.2h2.9v2.9h-2.9zM506.4 346.2h2.9v2.9h-2.9zM493.7 348.2h2.9v2.9h-2.9zM606.2 344.7h2.9v2.9h-2.9zM534 346.2h2.9v2.9h-2.9zM552.8 346h2.9v2.9h-2.9zM617.8 350.3h2.9v2.9h-2.9zM460.5 347.1h2.9v2.9h-2.9zM571.9 348.1h2.9v2.9h-2.9zM463.5 341.1h2.9v2.9h-2.9zM441.8 352.5h2.9v2.9h-2.9zM629.8 344.1h2.9v2.9h-2.9zM536.1 348.5h2.9v2.9h-2.9zM626.5 346.5h2.9v2.9h-2.9zM420 345.3h2.9v2.9h-2.9zM619.2 346.5h2.9v2.9h-2.9zM490.2 348.2h2.9v2.9h-2.9zM453.5 347h2.9v2.9h-2.9zM509.7 342.1h2.9v2.9h-2.9zM427.2 342.4h2.9v2.9h-2.9zM534.5 348.8h2.9v2.9h-2.9zM601.5 346.7h2.9v2.9h-2.9zM467.9 346.6h2.9v2.9h-2.9zM499.9 343.4h2.9v2.9h-2.9zM597.7 349.6h2.9v2.9h-2.9zM535 345.6h2.9v2.9h-2.9zM578.7 350.2h2.9v2.9h-2.9zM458.3 344h2.9v2.9h-2.9zM452.3 343h2.9v2.9h-2.9zM539.1 345.8h2.9v2.9h-2.9zM425.5 344.4h2.9v2.9h-2.9zM415.8 342.4h2.9v2.9h-2.9zM433.1 351.3h2.9v2.9h-2.9zM619.4 343.1h2.9v2.9h-2.9zM499 347.5h2.9v2.9h-2.9zM581.4 345.4h2.9v2.9h-2.9zM634.3 345.6h2.9v2.9h-2.9zM434.5 345.8h2.9v2.9h-2.9zM424 347h2.9v2.9h-2.9zM520.3 341.4h2.9v2.9h-2.9zM431.6 344.5h2.9v2.9h-2.9zM436.3 344.2h2.9v2.9h-2.9zM549 342h2.9v2.9h-2.9zM606.1 341h2.9v2.9h-2.9zM437.2 345h2.9v2.9h-2.9zM523.9 347.2h2.9v2.9h-2.9zM410.5 348.8h2.9v2.9h-2.9zM601.6 342h2.9v2.9h-2.9zM523.2 350.7h2.9v2.9h-2.9zM606.7 342.4h2.9v2.9h-2.9zM601 346.2h2.9v2.9h-2.9zM417.3 348.4h2.9v2.9h-2.9zM590.8 336.3h2.9v2.9h-2.9zM474.5 347.1h2.9v2.9h-2.9zM509.2 351.2h2.9v2.9h-2.9zM589 339.3h2.9v2.9h-2.9zM619.8 347.8h2.9v2.9h-2.9zM554.7 344.4h2.9v2.9h-2.9zM419.1 342h2.9v2.9h-2.9zM527.5 338.5h2.9v2.9h-2.9zM439.3 344.5h2.9v2.9h-2.9zM516.6 345.1h2.9v2.9h-2.9zM423.2 340.4h2.9v2.9h-2.9zM584.7 348.5h2.9v2.9h-2.9zM612.7 342.2h2.9v2.9h-2.9zM417 346.5h2.9v2.9h-2.9zM596.9 342.6h2.9v2.9h-2.9zM439.1 344.2h2.9v2.9h-2.9zM515.9 347h2.9v2.9h-2.9zM423 346.2h2.9v2.9h-2.9zM507.7 349.5h2.9v2.9h-2.9zM553 350.1h2.9v2.9h-2.9zM615.9 343.8h2.9v2.9h-2.9zM471.3 344.9h2.9v2.9h-2.9zM609.2 341.6h2.9v2.9h-2.9zM558.5 343.2h2.9v2.9h-2.9zM415.3 346.6h2.9v2.9h-2.9zM610.4 348.8h2.9v2.9h-2.9zM634.7 343.5h2.9v2.9h-2.9zM415 344.2h2.9v2.9h-2.9zM540.5 339.3h2.9v2.9h-2.9zM454.2 349.5h2.9v2.9h-2.9zM453.7 346.3h2.9v2.9h-2.9zM601.4 345.6h2.9v2.9h-2.9zM617 345.9h2.9v2.9h-2.9zM544.7 346h2.9v2.9h-2.9zM463.9 340.2h2.9v2.9h-2.9zM586.6 340.9h2.9v2.9h-2.9zM472.1 343.5h2.9v2.9h-2.9zM589.6 343.9h2.9v2.9h-2.9zM466.8 348.8h2.9v2.9h-2.9zM622.1 342h2.9v2.9h-2.9zM488.2 349.6h2.9v2.9h-2.9zM466.6 344.3h2.9v2.9h-2.9zM562 345h2.9v2.9h-2.9zM413.3 347h2.9v2.9h-2.9zM553.1 345.6h2.9v2.9h-2.9zM593.8 347h2.9v2.9h-2.9zM438.3 345.6h2.9v2.9h-2.9zM492.6 343h2.9v2.9h-2.9zM632 348.4h2.9v2.9h-2.9zM643.7 340.2h2.9v2.9h-2.9zM551.4 349.7h2.9v2.9h-2.9zM546.2 343.8h2.9v2.9h-2.9zM482.9 342.5h2.9v2.9h-2.9zM464.1 348.4h2.9v2.9h-2.9zM560.8 348.9h2.9v2.9h-2.9zM458.7 341.7h2.9v2.9h-2.9zM410.3 343.3h2.9v2.9h-2.9zM610.9 348.1h2.9v2.9h-2.9zM537.6 341.2h2.9v2.9h-2.9zM539 345.1h2.9v2.9h-2.9zM569.7 341.8h2.9v2.9h-2.9zM461.4 344.1h2.9v2.9h-2.9zM433.8 339.3h2.9v2.9h-2.9zM635.5 348h2.9v2.9h-2.9zM475.4 342.1h2.9v2.9h-2.9zM514.8 343.8h2.9v2.9h-2.9zM447.2 345.9h2.9v2.9h-2.9zM459.4 344.2h2.9v2.9h-2.9zM471.8 346.2h2.9v2.9h-2.9zM423.1 347.6h2.9v2.9h-2.9zM531.8 347.7h2.9v2.9h-2.9zM550.6 349.6h2.9v2.9h-2.9zM556.6 341.2h2.9v2.9h-2.9zM476 346.1h2.9v2.9h-2.9zM517.2 344.7h2.9v2.9h-2.9zM583.2 343.5h2.9v2.9h-2.9zM547 349.9h2.9v2.9h-2.9zM538 344.8h2.9v2.9h-2.9zM591.8 344.8h2.9v2.9h-2.9zM509.5 348.5h2.9v2.9h-2.9zM583.5 345.2h2.9v2.9h-2.9zM637.3 343.5h2.9v2.9h-2.9zM644.2 335h2.9v2.9h-2.9zM555.8 345.8h2.9v2.9h-2.9zM497.8 346.1h2.9v2.9h-2.9zM548.4 345.9h2.9v2.9h-2.9zM579.6 341.4h2.9v2.9h-2.9zM510.4 341.8h2.9v2.9h-2.9zM585.4 341.9h2.9v2.9h-2.9zM537.9 342.8h2.9v2.9h-2.9zM567 344.3h2.9v2.9h-2.9zM568.9 345h2.9v2.9h-2.9zM575.9 337.9h2.9v2.9h-2.9zM521.4 349.3h2.9v2.9h-2.9zM444.3 342.5h2.9v2.9h-2.9zM444.1 345.3h2.9v2.9h-2.9zM621.2 347.8h2.9v2.9h-2.9zM445.2 350.1h2.9v2.9h-2.9zM530.2 346.9h2.9v2.9h-2.9zM614 345.5h2.9v2.9h-2.9zM405 352.5h2.9v2.9h-2.9zM513.4 344.6h2.9v2.9h-2.9zM559.8 343.7h2.9v2.9h-2.9zM490.7 346h2.9v2.9h-2.9zM511.6 346.6h2.9v2.9h-2.9zM535.6 344.4h2.9v2.9h-2.9zM519.1 340.2h2.9v2.9h-2.9zM550.4 343.7h2.9v2.9h-2.9zM482.8 349.7h2.9v2.9h-2.9zM470 344.3h2.9v2.9h-2.9zM537.7 346.2h2.9v2.9h-2.9zM562.3 344.8h2.9v2.9h-2.9zM523 345.1h2.9v2.9h-2.9zM460.3 347.4h2.9v2.9h-2.9zM510.7 341.7h2.9v2.9h-2.9zM469.8 347.6h2.9v2.9h-2.9zM555.5 339.9h2.9v2.9h-2.9zM600.6 346.5h2.9v2.9h-2.9zM461.7 349.5h2.9v2.9h-2.9zM485.6 345h2.9v2.9h-2.9zM465.9 344.8h2.9v2.9h-2.9zM571.1 342.2h2.9v2.9h-2.9zM466.3 347.2h2.9v2.9h-2.9zM616.7 343.6h2.9v2.9h-2.9zM511 342.1h2.9v2.9h-2.9zM531.7 348h2.9v2.9h-2.9zM537.8 338.3h2.9v2.9h-2.9zM585.5 342.6h2.9v2.9h-2.9zM426.2 346.1h2.9v2.9h-2.9zM416.5 345.5h2.9v2.9h-2.9zM604.1 345.4h2.9v2.9h-2.9zM446.7 346.3h2.9v2.9h-2.9zM524.9 345.9h2.9v2.9h-2.9zM444.1 345h2.9v2.9h-2.9zM406.7 348.2h2.9v2.9h-2.9zM523.8 346.5h2.9v2.9h-2.9zM640.9 341.8h2.9v2.9h-2.9zM548.3 340.5h2.9v2.9h-2.9zM626.6 344.5h2.9v2.9h-2.9zM494.8 343.4h2.9v2.9h-2.9zM521.1 351.2h2.9v2.9h-2.9zM521.9 350.2h2.9v2.9h-2.9zM452.6 339.8h2.9v2.9h-2.9zM470.5 345.9h2.9v2.9h-2.9zM547.5 347.5h2.9v2.9h-2.9zM449.5 346.8h2.9v2.9h-2.9zM527.4 344.7h2.9v2.9h-2.9zM572.3 343.4h2.9v2.9h-2.9zM547.1 345.6h2.9v2.9h-2.9zM485.2 335h2.9v2.9h-2.9zM647.7 341.9h2.9v2.9h-2.9zM447.1 346.6h2.9v2.9h-2.9zM424.4 344.6h2.9v2.9h-2.9zM412.1 344.4h2.9v2.9h-2.9zM424.2 343.5h2.9v2.9h-2.9zM468.1 345h2.9v2.9h-2.9zM623.3 339.1h2.9v2.9h-2.9zM642.3 349.6h2.9v2.9h-2.9zM619.5 338.7h2.9v2.9h-2.9zM630.6 341.5h2.9v2.9h-2.9zM576.7 344.8h2.9v2.9h-2.9zM602.9 344.5h2.9v2.9h-2.9zM609.5 347.8h2.9v2.9h-2.9zM641.2 346.4h2.9v2.9h-2.9zM608.4 354.8h2.9v2.9h-2.9zM580.2 347.5h2.9v2.9h-2.9zM645.3 342.3h2.9v2.9h-2.9zM623.8 338.7h2.9v2.9h-2.9zM610.6 345.5h2.9v2.9h-2.9zM591.1 335.3h2.9v2.9h-2.9zM612.6 340.3h2.9v2.9h-2.9zM598.3 343.4h2.9v2.9h-2.9zM588.5 349h2.9v2.9h-2.9zM648 344.3h2.9v2.9h-2.9zM607.1 343.9h2.9v2.9h-2.9zM618.5 340.6h2.9v2.9h-2.9zM605.7 346h2.9v2.9h-2.9zM599.7 341.2h2.9v2.9h-2.9zM610.3 339.6h2.9v2.9h-2.9zM626.9 338.4h2.9v2.9h-2.9zM642.6 347.3h2.9v2.9h-2.9zM620.2 347.9h2.9v2.9h-2.9zM646.5 342.4h2.9v2.9h-2.9zM619.6 341.4h2.9v2.9h-2.9zM612.3 342.4h2.9v2.9h-2.9zM622.8 346.4h2.9v2.9h-2.9zM628.7 348.3h2.9v2.9h-2.9zM615.5 351.5h2.9v2.9h-2.9zM623.7 343.3h2.9v2.9h-2.9zM614.3 344.2h2.9v2.9h-2.9zM611.6 344.9h2.9v2.9h-2.9zM622.4 340.7h2.9v2.9h-2.9zM577.5 343.6h2.9v2.9h-2.9zM597.3 340.6h2.9v2.9h-2.9zM624.1 345.6h2.9v2.9h-2.9zM631.7 349.2h2.9v2.9h-2.9zM598.6 341.2h2.9v2.9h-2.9zM600.3 339.6h2.9v2.9h-2.9zM605.5 340.3h2.9v2.9h-2.9zM636.7 339.3h2.9v2.9h-2.9zM572.7 347.8h2.9v2.9h-2.9zM584.1 341.9h2.9v2.9h-2.9zM592.3 344.1h2.9v2.9h-2.9zM631.7 342.2h2.9v2.9h-2.9zM605.2 339.6h2.9v2.9h-2.9zM600.9 340.2h2.9v2.9h-2.9zM604.7 344.3h2.9v2.9h-2.9zM640.9 340.9h2.9v2.9h-2.9zM573.3 342.4h2.9v2.9h-2.9zM639.5 339.4h2.9v2.9h-2.9zM628.7 338.8h2.9v2.9h-2.9zM590.8 345h2.9v2.9h-2.9zM577.1 342.2h2.9v2.9h-2.9zM557.2 339.3h2.9v2.9h-2.9zM628.8 341.7h2.9v2.9h-2.9zM603.6 346.3h2.9v2.9h-2.9zM598.6 338.8h2.9v2.9h-2.9zM610.4 343.6h2.9v2.9h-2.9zM623.2 343.1h2.9v2.9h-2.9zM647.4 346.4h2.9v2.9h-2.9zM616.6 354.2h2.9v2.9h-2.9zM583.6 345h2.9v2.9h-2.9zM601.8 353.5h2.9v2.9h-2.9zM626.5 347.6h2.9v2.9h-2.9zM629 350.4h2.9v2.9h-2.9zM607.1 347.9h2.9v2.9h-2.9zM579.9 346.4h2.9v2.9h-2.9zM646.1 347.8h2.9v2.9h-2.9zM633.7 335.6h2.9v2.9h-2.9zM621.7 342.4h2.9v2.9h-2.9zM632.2 346.8h2.9v2.9h-2.9zM631.9 337.8h2.9v2.9h-2.9zM601 334.6h2.9v2.9h-2.9zM647.8 343h2.9v2.9h-2.9zM589.9 346.1h2.9v2.9h-2.9zM609.8 342.5h2.9v2.9h-2.9zM572 337.3h2.9v2.9h-2.9zM617.4 342.8h2.9v2.9h-2.9zM645.9 342.3h2.9v2.9h-2.9zM631.8 351.5h2.9v2.9h-2.9zM587.9 337.5h2.9v2.9h-2.9zM603.1 342.9h2.9v2.9h-2.9zM594.1 345h2.9v2.9h-2.9zM601.6 348.9h2.9v2.9h-2.9zM631.4 346.9h2.9v2.9h-2.9zM624.7 344.8h2.9v2.9h-2.9zM581.8 342.9h2.9v2.9h-2.9zM578.2 349.7h2.9v2.9h-2.9zM593.2 339.8h2.9v2.9h-2.9zM609 353.6h2.9v2.9h-2.9zM593.8 351.3h2.9v2.9h-2.9zM622.7 355.4h2.9v2.9h-2.9zM614.4 341.4h2.9v2.9h-2.9zM618.9 341.4h2.9v2.9h-2.9zM603 347h2.9v2.9h-2.9zM609 347.8h2.9v2.9h-2.9zM633.5 348h2.9v2.9h-2.9zM644.2 339.6h2.9v2.9h-2.9zM562.1 349.5h2.9v2.9h-2.9zM647.8 339.1h2.9v2.9h-2.9zM575.9 348.4h2.9v2.9h-2.9zM610 342.6h2.9v2.9h-2.9zM615.5 341.3h2.9v2.9h-2.9zM636.7 343.6h2.9v2.9h-2.9zM618.5 344.1h2.9v2.9h-2.9zM611.1 339.4h2.9v2.9h-2.9zM633.4 347.6h2.9v2.9h-2.9zM592.1 348.1h2.9v2.9h-2.9zM623.7 350.4h2.9v2.9h-2.9zM569.2 350h2.9v2.9h-2.9zM602.4 345.2h2.9v2.9h-2.9zM598.3 354.8h2.9v2.9h-2.9zM610.2 346.8h2.9v2.9h-2.9zM585.7 342.6h2.9v2.9h-2.9zM629.7 343.4h2.9v2.9h-2.9zM602.2 350.5h2.9v2.9h-2.9zM583.8 344.3h2.9v2.9h-2.9zM615.7 342.2h2.9v2.9h-2.9zM634.8 344.9h2.9v2.9h-2.9zM615.5 346.8h2.9v2.9h-2.9zM617.8 346.3h2.9v2.9h-2.9zM625.3 344.2h2.9v2.9h-2.9zM606.4 350.2h2.9v2.9h-2.9zM642.2 346.3h2.9v2.9h-2.9zM626.9 340.2h2.9v2.9h-2.9zM621.7 345.2h2.9v2.9h-2.9zM592.7 339.6h2.9v2.9h-2.9zM617.2 352.5h2.9v2.9h-2.9zM628.3 337.4h2.9v2.9h-2.9zM640.6 347.1h2.9v2.9h-2.9zM607.1 343.4h2.9v2.9h-2.9zM645.8 364.4h2.9v2.9h-2.9zM577.4 336.9h2.9v2.9h-2.9zM609.8 339.8h2.9v2.9h-2.9zM604.3 347.2h2.9v2.9h-2.9zM586.7 346.5h2.9v2.9h-2.9zM639.9 345.1h2.9v2.9h-2.9zM647.1 340.3h2.9v2.9h-2.9zM623.1 345.1h2.9v2.9h-2.9zM592 342.9h2.9v2.9h-2.9zM643.7 345.7h2.9v2.9h-2.9zM620.7 355.5h2.9v2.9h-2.9zM634.6 348.2h2.9v2.9h-2.9zM599.7 349.4h2.9v2.9h-2.9zM609.7 343.1h2.9v2.9h-2.9zM610.3 338.2h2.9v2.9h-2.9zM633.4 338.4h2.9v2.9h-2.9zM639.4 340.3h2.9v2.9h-2.9zM627.8 349.2h2.9v2.9h-2.9zM594.2 346.5h2.9v2.9h-2.9zM637.4 345.2h2.9v2.9h-2.9zM617.4 341.3h2.9v2.9h-2.9zM544 346.2h2.9v2.9h-2.9zM590.4 339.3h2.9v2.9h-2.9zM628.8 332.1h2.9v2.9h-2.9zM602.2 347h2.9v2.9h-2.9zM620.7 343h2.9v2.9h-2.9zM601.8 344.8h2.9v2.9h-2.9zM584 341.4h2.9v2.9h-2.9zM638.9 339.9h2.9v2.9h-2.9zM617.1 342.3h2.9v2.9h-2.9zM590.8 335.1h2.9v2.9h-2.9zM599.7 340.5h2.9v2.9h-2.9zM595.9 343.7h2.9v2.9h-2.9zM627.4 346.8h2.9v2.9h-2.9zM628.6 338.7h2.9v2.9h-2.9zM628.5 347.3h2.9v2.9h-2.9zM590.1 348.9h2.9v2.9h-2.9zM632.4 349h2.9v2.9h-2.9zM606.6 344.7h2.9v2.9h-2.9zM618.9 347h2.9v2.9h-2.9zM624 345.2h2.9v2.9h-2.9zM598.8 338.7h2.9v2.9h-2.9zM620 355.4h2.9v2.9h-2.9zM597.1 346.4h2.9v2.9h-2.9zM605.2 336.6h2.9v2.9h-2.9zM629 343.8h2.9v2.9h-2.9zM600 350.8h2.9v2.9h-2.9zM637.1 344h2.9v2.9h-2.9zM588 349.7h2.9v2.9h-2.9zM647.1 347.8h2.9v2.9h-2.9zM595.9 339.5h2.9v2.9h-2.9zM640.9 346h2.9v2.9h-2.9zM619.3 341.8h2.9v2.9h-2.9zM644.6 345.2h2.9v2.9h-2.9zM640.9 338.9h2.9v2.9h-2.9zM621.8 345.9h2.9v2.9h-2.9zM644.5 336.5h2.9v2.9h-2.9zM615.6 341.1h2.9v2.9h-2.9zM620.6 343.4h2.9v2.9h-2.9zM630.4 347.6h2.9v2.9h-2.9zM626.8 343.7h2.9v2.9h-2.9zM641.3 350.4h2.9v2.9h-2.9zM622 340.4h2.9v2.9h-2.9zM642.3 353.9h2.9v2.9h-2.9zM610.8 342.3h2.9v2.9h-2.9zM616.5 343.6h2.9v2.9h-2.9zM585.9 347.9h2.9v2.9h-2.9zM585.2 331.4h2.9v2.9h-2.9zM619.4 339.2h2.9v2.9h-2.9zM626.7 338.8h2.9v2.9h-2.9zM588.4 334.7h2.9v2.9h-2.9zM590.7 342.7h2.9v2.9h-2.9zM636.5 341.1h2.9v2.9h-2.9zM626.4 335.5h2.9v2.9h-2.9zM579 337.2h2.9v2.9h-2.9zM606.8 344.2h2.9v2.9h-2.9zM606 341.6h2.9v2.9h-2.9zM598.2 344.8h2.9v2.9h-2.9zM639.4 339.2h2.9v2.9h-2.9zM600.6 342.8h2.9v2.9h-2.9zM634.9 344.3h2.9v2.9h-2.9zM574.9 344.4h2.9v2.9h-2.9zM612.1 343.1h2.9v2.9h-2.9zM646.8 341.6h2.9v2.9h-2.9zM621.7 344.8h2.9v2.9h-2.9zM613.2 344.5h2.9v2.9h-2.9zM626.4 339.5h2.9v2.9h-2.9zM602.3 349.4h2.9v2.9h-2.9zM633.7 340.2h2.9v2.9h-2.9zM617.6 344.5h2.9v2.9h-2.9zM634.3 339.7h2.9v2.9h-2.9zM623 338.1h2.9v2.9h-2.9zM602.2 343h2.9v2.9h-2.9zM618.5 351.7h2.9v2.9h-2.9zM629.7 350h2.9v2.9h-2.9zM616.8 335.8h2.9v2.9h-2.9zM568.6 342.1h2.9v2.9h-2.9zM616.9 341.8h2.9v2.9h-2.9zM635.2 342.4h2.9v2.9h-2.9zM611.6 345h2.9v2.9h-2.9zM630.1 341.4h2.9v2.9h-2.9zM601.3 351.4h2.9v2.9h-2.9zM600 339.9h2.9v2.9h-2.9zM616.2 343.4h2.9v2.9h-2.9zM627.7 351.2h2.9v2.9h-2.9zM619.6 344.6h2.9v2.9h-2.9zM643.8 343.5h2.9v2.9h-2.9zM624.6 339.1h2.9v2.9h-2.9zM630.2 343.7h2.9v2.9h-2.9zM586.4 345.2h2.9v2.9h-2.9zM628.7 340.4h2.9v2.9h-2.9zM629.1 344.9h2.9v2.9h-2.9zM642.4 353.6h2.9v2.9h-2.9zM601.6 342.1h2.9v2.9h-2.9zM618.5 345h2.9v2.9h-2.9zM592.4 345.4h2.9v2.9h-2.9zM587.2 341.5h2.9v2.9h-2.9zM614.6 345.2h2.9v2.9h-2.9zM628.3 340.6h2.9v2.9h-2.9zM628.7 345.4h2.9v2.9h-2.9zM618.4 344.2h2.9v2.9h-2.9zM608.4 352.3h2.9v2.9h-2.9zM626.7 350.1h2.9v2.9h-2.9zM599.7 341.7h2.9v2.9h-2.9zM612.8 346.1h2.9v2.9h-2.9zM612.8 339.9h2.9v2.9h-2.9zM584.8 339h2.9v2.9h-2.9zM642.9 346.3h2.9v2.9h-2.9zM587 352.6h2.9v2.9h-2.9zM609 342h2.9v2.9h-2.9zM616.6 344.3h2.9v2.9h-2.9zM611.5 343.9h2.9v2.9h-2.9zM639.1 348.2h2.9v2.9h-2.9zM604.4 343.3h2.9v2.9h-2.9zM602.6 342.1h2.9v2.9h-2.9zM618.2 342.6h2.9v2.9h-2.9zM634.8 339.8h2.9v2.9h-2.9zM629.8 347.4h2.9v2.9h-2.9zM613.1 342.6h2.9v2.9h-2.9zM635 342.3h2.9v2.9h-2.9zM612.7 345h2.9v2.9h-2.9zM561.6 347.2h2.9v2.9h-2.9zM626.4 346.7h2.9v2.9h-2.9zM587.7 342.1h2.9v2.9h-2.9zM631.1 346.6h2.9v2.9h-2.9zM606.5 342h2.9v2.9h-2.9zM626.9 349.7h2.9v2.9h-2.9zM588.6 346h2.9v2.9h-2.9zM607.4 341.8h2.9v2.9h-2.9zM595.4 339.8h2.9v2.9h-2.9zM604 343h2.9v2.9h-2.9zM621.3 346h2.9v2.9h-2.9zM631.7 352.1h2.9v2.9h-2.9zM645.9 346.6h2.9v2.9h-2.9zM617.1 350.3h2.9v2.9h-2.9zM613.4 348.6h2.9v2.9h-2.9zM621.4 341.5h2.9v2.9h-2.9zM636.4 347.2h2.9v2.9h-2.9zM627.9 349h2.9v2.9h-2.9zM623.4 340.7h2.9v2.9h-2.9zM622.6 352.6h2.9v2.9h-2.9zM597.6 335.8h2.9v2.9h-2.9zM620.7 339.4h2.9v2.9h-2.9zM624.4 339.8h2.9v2.9h-2.9zM619.2 339.8h2.9v2.9h-2.9zM632.2 348.3h2.9v2.9h-2.9zM645.6 344h2.9v2.9h-2.9zM632.2 338.3h2.9v2.9h-2.9zM599.6 341.4h2.9v2.9h-2.9zM583.6 340.3h2.9v2.9h-2.9zM570.5 338.4h2.9v2.9h-2.9zM600.8 338.6h2.9v2.9h-2.9zM611.4 347.7h2.9v2.9h-2.9zM613.2 346h2.9v2.9h-2.9zM646.9 341.3h2.9v2.9h-2.9zM619.5 343.8h2.9v2.9h-2.9zM629.1 350.2h2.9v2.9h-2.9zM591.8 348.3h2.9v2.9h-2.9zM609.1 344.5h2.9v2.9h-2.9zM596.6 332.5h2.9v2.9h-2.9zM648.4 347.5h2.9v2.9h-2.9zM595.5 339.9h2.9v2.9h-2.9zM592 343.9h2.9v2.9h-2.9zM617.3 336.3h2.9v2.9h-2.9zM638.1 339.9h2.9v2.9h-2.9zM582.8 345.8h2.9v2.9h-2.9zM620.4 344.8h2.9v2.9h-2.9zM637.5 348.4h2.9v2.9h-2.9zM571 344.8h2.9v2.9h-2.9zM647.9 349.7h2.9v2.9h-2.9zM596 335.7h2.9v2.9h-2.9zM594.2 345.8h2.9v2.9h-2.9zM615.7 347.8h2.9v2.9h-2.9zM616.3 338.3h2.9v2.9h-2.9zM594.1 343h2.9v2.9h-2.9zM640.3 350.8h2.9v2.9h-2.9zM596.8 346.1h2.9v2.9h-2.9zM619 338.8h2.9v2.9h-2.9zM592.5 351.2h2.9v2.9h-2.9zM610.1 343.7h2.9v2.9h-2.9zM631.4 345.7h2.9v2.9h-2.9zM637 340.4h2.9v2.9h-2.9zM611.5 345.2h2.9v2.9h-2.9zM628.8 340.7h2.9v2.9h-2.9zM580 348h2.9v2.9h-2.9zM640.7 348.4h2.9v2.9h-2.9zM617.7 335.9h2.9v2.9h-2.9zM611.1 353.3h2.9v2.9h-2.9zM627.8 345.2h2.9v2.9h-2.9zM581.8 341.1h2.9v2.9h-2.9zM643.8 345.6h2.9v2.9h-2.9zM617.4 349.8h2.9v2.9h-2.9zM637.5 346.5h2.9v2.9h-2.9zM616.5 346h2.9v2.9h-2.9zM645.2 345.5h2.9v2.9h-2.9zM590.6 343.2h2.9v2.9h-2.9zM613.9 346h2.9v2.9h-2.9zM618.9 342.1h2.9v2.9h-2.9zM638.1 346.2h2.9v2.9h-2.9zM602 346.2h2.9v2.9h-2.9zM625.1 345.6h2.9v2.9h-2.9zM584.2 335h2.9v2.9h-2.9zM584.7 336.3h2.9v2.9h-2.9zM643.7 348.6h2.9v2.9h-2.9zM589.8 350.7h2.9v2.9h-2.9zM593.6 340.4h2.9v2.9h-2.9zM589.9 347.3h2.9v2.9h-2.9zM640.1 349.1h2.9v2.9h-2.9zM636.3 345.2h2.9v2.9h-2.9zM618.7 344.5h2.9v2.9h-2.9zM630.1 342.5h2.9v2.9h-2.9zM617.2 349.6h2.9v2.9h-2.9zM635 343.6h2.9v2.9h-2.9zM608.8 342.3h2.9v2.9h-2.9zM611.9 342.1h2.9v2.9h-2.9zM618.5 343h2.9v2.9h-2.9zM646.3 337.6h2.9v2.9h-2.9zM610.9 347.8h2.9v2.9h-2.9zM610.9 342.2h2.9v2.9h-2.9zM633.8 343.7h2.9v2.9h-2.9zM597.7 344.8h2.9v2.9h-2.9zM635.8 336.4h2.9v2.9h-2.9zM642.4 336.2h2.9v2.9h-2.9zM637.3 338.1h2.9v2.9h-2.9zM626.2 343.9h2.9v2.9h-2.9zM645.2 343.7h2.9v2.9h-2.9zM610.6 340.7h2.9v2.9h-2.9zM625.8 343h2.9v2.9h-2.9zM641.6 346h2.9v2.9h-2.9zM637.7 344.9h2.9v2.9h-2.9zM619.2 346.9h2.9v2.9h-2.9zM639 338h2.9v2.9h-2.9zM630.3 342.5h2.9v2.9h-2.9zM628.5 347.7h2.9v2.9h-2.9zM575.1 343.6h2.9v2.9h-2.9zM644.7 336.2h2.9v2.9h-2.9zM626.2 344.2h2.9v2.9h-2.9zM607.4 348.2h2.9v2.9h-2.9zM642.8 344.2h2.9v2.9h-2.9zM625.7 348h2.9v2.9h-2.9zM641.7 352h2.9v2.9h-2.9zM640.2 347.3h2.9v2.9h-2.9zM623.9 347.4h2.9v2.9h-2.9zM619.3 343.7h2.9v2.9h-2.9zM598.2 355.9h2.9v2.9h-2.9zM611.8 341.9h2.9v2.9h-2.9zM607.6 349.6h2.9v2.9h-2.9zM629.6 334.9h2.9v2.9h-2.9zM624.6 352.5h2.9v2.9h-2.9zM620.1 344.7h2.9v2.9h-2.9zM615.5 343.2h2.9v2.9h-2.9zM636.4 355.3h2.9v2.9h-2.9zM631.7 336.8h2.9v2.9h-2.9zM617.8 343.2h2.9v2.9h-2.9zM639.2 342.6h2.9v2.9h-2.9zM624.6 338.4h2.9v2.9h-2.9zM591.3 344.5h2.9v2.9h-2.9zM598.2 337h2.9v2.9h-2.9zM630.6 347.9h2.9v2.9h-2.9zM617.3 345.3h2.9v2.9h-2.9zM619.3 344.2h2.9v2.9h-2.9zM611.9 342.4h2.9v2.9h-2.9zM621.7 343.4h2.9v2.9h-2.9zM617.7 346h2.9v2.9h-2.9zM592.3 346.7h2.9v2.9h-2.9zM636.9 347.2h2.9v2.9h-2.9zM583.4 341.4h2.9v2.9h-2.9zM558.8 351.9h2.9v2.9h-2.9zM619.1 351.7h2.9v2.9h-2.9zM646 341.3h2.9v2.9h-2.9zM616.4 347.8h2.9v2.9h-2.9zM574.9 350.6h2.9v2.9h-2.9zM642.3 342.9h2.9v2.9h-2.9zM630.2 336.9h2.9v2.9h-2.9zM598.9 342.2h2.9v2.9h-2.9zM603.5 351.9h2.9v2.9h-2.9zM632.3 333.2h2.9v2.9h-2.9zM633.5 343.2h2.9v2.9h-2.9zM604.4 353.7h2.9v2.9h-2.9zM627.2 345.4h2.9v2.9h-2.9zM583.3 341.6h2.9v2.9h-2.9zM642.9 344.8h2.9v2.9h-2.9zM610.7 342.8h2.9v2.9h-2.9zM583.5 333h2.9v2.9h-2.9zM634.2 337.6h2.9v2.9h-2.9zM583.9 345.7h2.9v2.9h-2.9zM643.6 342.6h2.9v2.9h-2.9zM647.8 344.4h2.9v2.9h-2.9zM546.6 351.7h2.9v2.9h-2.9zM595.5 351.4h2.9v2.9h-2.9zM614.6 343.9h2.9v2.9h-2.9zM610.1 339.6h2.9v2.9h-2.9zM635.8 351.9h2.9v2.9h-2.9zM608.1 346.5h2.9v2.9h-2.9zM646.5 346.9h2.9v2.9h-2.9zM590.3 353.6h2.9v2.9h-2.9zM603.6 340.4h2.9v2.9h-2.9zM624.7 345.3h2.9v2.9h-2.9zM608 338.2h2.9v2.9h-2.9zM592.1 344.2h2.9v2.9h-2.9zM576.3 349.4h2.9v2.9h-2.9zM636.9 345.2h2.9v2.9h-2.9zM626.3 340.2h2.9v2.9h-2.9zM608 348.3h2.9v2.9h-2.9zM609 351.5h2.9v2.9h-2.9zM645.8 347.4h2.9v2.9h-2.9zM615.7 339.9h2.9v2.9h-2.9zM617.7 339.8h2.9v2.9h-2.9zM612.5 342.6h2.9v2.9h-2.9zM607.9 349.4h2.9v2.9h-2.9zM600.1 340.7h2.9v2.9h-2.9zM627.5 346.5h2.9v2.9h-2.9zM606.2 345.7h2.9v2.9h-2.9zM621.8 346.2h2.9v2.9h-2.9zM635.7 349.9h2.9v2.9h-2.9zM592.7 336.1h2.9v2.9h-2.9zM594.4 346.2h2.9v2.9h-2.9zM605.1 334.9h2.9v2.9h-2.9zM608.4 341.2h2.9v2.9h-2.9zM604.5 347.5h2.9v2.9h-2.9zM632.1 344.8h2.9v2.9h-2.9zM601.6 338.7h2.9v2.9h-2.9zM621.3 344h2.9v2.9h-2.9zM623.6 346.1h2.9v2.9h-2.9zM584.2 351.5h2.9v2.9h-2.9zM578.4 345.7h2.9v2.9h-2.9zM629.7 348h2.9v2.9h-2.9zM626.6 340.4h2.9v2.9h-2.9zM616.5 337.9h2.9v2.9h-2.9zM617.3 343.1h2.9v2.9h-2.9zM576.3 354.3h2.9v2.9h-2.9zM606.8 346.7h2.9v2.9h-2.9zM620.4 342.3h2.9v2.9h-2.9zM594.5 340.8h2.9v2.9h-2.9zM603.9 343.5h2.9v2.9h-2.9zM640.2 345.1h2.9v2.9h-2.9zM630.8 345.3h2.9v2.9h-2.9zM547.9 343.4h2.9v2.9h-2.9zM627.5 337.3h2.9v2.9h-2.9zM619.7 340.9h2.9v2.9h-2.9zM616 344h2.9v2.9h-2.9zM614.5 343.9h2.9v2.9h-2.9zM629.7 345.6h2.9v2.9h-2.9zM605.2 348.4h2.9v2.9h-2.9zM622.5 345.9h2.9v2.9h-2.9zM615.5 346.1h2.9v2.9h-2.9zM632.7 344.6h2.9v2.9h-2.9zM617.6 348h2.9v2.9h-2.9zM648.5 354.3h2.9v2.9h-2.9zM608.4 346.3h2.9v2.9h-2.9zM603.2 342.9h2.9v2.9h-2.9zM564.5 353.9h2.9v2.9h-2.9zM583 344.7h2.9v2.9h-2.9zM578.5 342.6h2.9v2.9h-2.9zM596.5 334.5h2.9v2.9h-2.9zM596.1 343.1h2.9v2.9h-2.9zM618.2 335.2h2.9v2.9h-2.9zM636.3 342.7h2.9v2.9h-2.9zM593.9 351.1h2.9v2.9h-2.9zM604.3 345.2h2.9v2.9h-2.9zM622.4 343.7h2.9v2.9h-2.9zM644.1 342.2h2.9v2.9h-2.9zM622.7 343.5h2.9v2.9h-2.9zM611.9 347.6h2.9v2.9h-2.9zM627.7 350.6h2.9v2.9h-2.9zM630.4 337.7h2.9v2.9h-2.9zM630.5 342.8h2.9v2.9h-2.9zM615 348.6h2.9v2.9h-2.9zM631 336.8h2.9v2.9h-2.9zM617.7 336.6h2.9v2.9h-2.9zM613.1 346.4h2.9v2.9h-2.9zM594.1 340.2h2.9v2.9h-2.9zM578.1 345.4h2.9v2.9h-2.9zM608.3 351.1h2.9v2.9h-2.9zM627.6 345.2h2.9v2.9h-2.9zM606.3 348.6h2.9v2.9h-2.9zM588 345.4h2.9v2.9h-2.9zM632.5 340.5h2.9v2.9h-2.9zM592.5 349.4h2.9v2.9h-2.9zM630.3 352.6h2.9v2.9h-2.9zM632 343.3h2.9v2.9h-2.9zM611.3 338.5h2.9v2.9h-2.9zM643 341.5h2.9v2.9h-2.9zM605.7 345.8h2.9v2.9h-2.9zM632.6 340.7h2.9v2.9h-2.9zM625.9 343.4h2.9v2.9h-2.9zM624.2 343.5h2.9v2.9h-2.9zM610.8 333h2.9v2.9h-2.9zM606.6 349.6h2.9v2.9h-2.9zM613 344.9h2.9v2.9h-2.9zM635.4 339.5h2.9v2.9h-2.9zM622.6 342.9h2.9v2.9h-2.9zM629.6 346.9h2.9v2.9h-2.9zM622.7 343.1h2.9v2.9h-2.9zM643.7 344.7h2.9v2.9h-2.9zM585.4 349.9h2.9v2.9h-2.9zM631.8 341.4h2.9v2.9h-2.9zM619.4 339.7h2.9v2.9h-2.9zM624.2 337.3h2.9v2.9h-2.9zM645 346.3h2.9v2.9h-2.9zM597 346.4h2.9v2.9h-2.9zM586 341.6h2.9v2.9h-2.9zM596.8 347.3h2.9v2.9h-2.9zM637.5 337.9h2.9v2.9h-2.9zM625.1 346.4h2.9v2.9h-2.9zM612.6 355.3h2.9v2.9h-2.9zM583.1 350.2h2.9v2.9h-2.9zM612.4 338.9h2.9v2.9h-2.9zM561.3 343.9h2.9v2.9h-2.9zM586.4 344h2.9v2.9h-2.9zM607 338.1h2.9v2.9h-2.9zM634.1 349.4h2.9v2.9h-2.9zM587.9 347.1h2.9v2.9h-2.9zM623 341h2.9v2.9h-2.9zM607.9 346.6h2.9v2.9h-2.9zM647.6 342.8h2.9v2.9h-2.9zM561.5 347.7h2.9v2.9h-2.9zM630.2 335.1h2.9v2.9h-2.9zM608.1 344h2.9v2.9h-2.9zM613.6 345.4h2.9v2.9h-2.9zM599.3 347h2.9v2.9h-2.9zM554.7 345.7h2.9v2.9h-2.9zM606.4 343.5h2.9v2.9h-2.9zM636.2 350.3h2.9v2.9h-2.9zM596 343.6h2.9v2.9h-2.9zM595.9 344.2h2.9v2.9h-2.9zM606.5 338.5h2.9v2.9h-2.9zM647.3 345.7h2.9v2.9h-2.9zM620.5 350.1h2.9v2.9h-2.9zM581 345.8h2.9v2.9h-2.9zM611.8 340h2.9v2.9h-2.9zM601.3 349.7h2.9v2.9h-2.9zM645.9 345.5h2.9v2.9h-2.9zM642.7 340.9h2.9v2.9h-2.9zM611.1 347.8h2.9v2.9h-2.9zM597.7 345h2.9v2.9h-2.9zM619.7 340.1h2.9v2.9h-2.9zM625.3 338.1h2.9v2.9h-2.9zM604.8 334.9h2.9v2.9h-2.9zM589.8 339.9h2.9v2.9h-2.9zM628.9 344h2.9v2.9h-2.9zM590 342.8h2.9v2.9h-2.9zM622 345.8h2.9v2.9h-2.9zM569.3 341.7h2.9v2.9h-2.9zM647.6 337.4h2.9v2.9h-2.9zM598.5 340.5h2.9v2.9h-2.9zM616.9 346.7h2.9v2.9h-2.9zM578 347.1h2.9v2.9h-2.9zM556.6 339.7h2.9v2.9h-2.9zM629.8 338.6h2.9v2.9h-2.9zM599.6 341.5h2.9v2.9h-2.9zM595.5 348.4h2.9v2.9h-2.9zM610.5 340.2h2.9v2.9h-2.9zM619.7 339.2h2.9v2.9h-2.9zM610.7 338.9h2.9v2.9h-2.9zM583.8 336.5h2.9v2.9h-2.9zM641.8 340.7h2.9v2.9h-2.9zM591.7 348.8h2.9v2.9h-2.9zM615.2 342.3h2.9v2.9h-2.9zM601.2 343.8h2.9v2.9h-2.9zM611.9 341.8h2.9v2.9h-2.9zM615.1 347.4h2.9v2.9h-2.9zM614.7 349.9h2.9v2.9h-2.9zM643 339.1h2.9v2.9h-2.9zM595.9 337.9h2.9v2.9h-2.9zM600.9 347.1h2.9v2.9h-2.9zM611.1 341.5h2.9v2.9h-2.9zM621.6 333.7h2.9v2.9h-2.9zM627 342.9h2.9v2.9h-2.9zM635.3 342.4h2.9v2.9h-2.9zM643.3 348.7h2.9v2.9h-2.9zM611.9 346.4h2.9v2.9h-2.9zM597.4 340.5h2.9v2.9h-2.9zM592.6 342.8h2.9v2.9h-2.9zM589.6 338.7h2.9v2.9h-2.9zM613.7 337h2.9v2.9h-2.9zM633.2 339.5h2.9v2.9h-2.9zM613 342.3h2.9v2.9h-2.9zM643.5 346.5h2.9v2.9h-2.9zM613.2 341h2.9v2.9h-2.9zM639.7 343.1h2.9v2.9h-2.9zM593.6 344.3h2.9v2.9h-2.9zM634.2 343.6h2.9v2.9h-2.9zM620.2 350.6h2.9v2.9h-2.9zM606.3 347.3h2.9v2.9h-2.9zM591.1 346.2h2.9v2.9h-2.9zM622.2 354.8h2.9v2.9h-2.9zM643.5 349.2h2.9v2.9h-2.9zM632.4 338.9h2.9v2.9h-2.9zM578 347.3h2.9v2.9h-2.9zM637.9 344.7h2.9v2.9h-2.9zM643.5 343.7h2.9v2.9h-2.9zM638.6 344.9h2.9v2.9h-2.9zM601.4 348.3h2.9v2.9h-2.9zM605.5 346.7h2.9v2.9h-2.9zM593.9 344.9h2.9v2.9h-2.9zM632.4 349.1h2.9v2.9h-2.9zM592.8 341.3h2.9v2.9h-2.9zM618.9 339h2.9v2.9h-2.9zM633.8 354.8h2.9v2.9h-2.9zM635.6 346.7h2.9v2.9h-2.9zM599.1 346.4h2.9v2.9h-2.9zM632.2 352.9h2.9v2.9h-2.9zM610.8 349.5h2.9v2.9h-2.9zM610.7 342.5h2.9v2.9h-2.9zM608.9 345.1h2.9v2.9h-2.9zM583.1 342.1h2.9v2.9h-2.9zM575.5 347.9h2.9v2.9h-2.9zM637.9 341.8h2.9v2.9h-2.9zM600.5 349.1h2.9v2.9h-2.9zM610.9 345.2h2.9v2.9h-2.9zM614 338.6h2.9v2.9h-2.9zM644.4 346.9h2.9v2.9h-2.9zM596.6 348.9h2.9v2.9h-2.9zM589.1 337.9h2.9v2.9h-2.9zM640.1 341.8h2.9v2.9h-2.9zM619.3 351.2h2.9v2.9h-2.9zM593.2 346.7h2.9v2.9h-2.9zM609.5 344.3h2.9v2.9h-2.9zM613.9 340.1h2.9v2.9h-2.9zM620.6 339.5h2.9v2.9h-2.9zM619.8 339.4h2.9v2.9h-2.9zM612.6 344.4h2.9v2.9h-2.9zM585.5 343.5h2.9v2.9h-2.9zM636.3 344.4h2.9v2.9h-2.9zM641.8 339.2h2.9v2.9h-2.9zM633.5 345.3h2.9v2.9h-2.9zM552.7 343.8h2.9v2.9h-2.9zM640.6 343.5h2.9v2.9h-2.9zM620.2 343.2h2.9v2.9h-2.9zM615.6 339h2.9v2.9h-2.9zM602.8 333.6h2.9v2.9h-2.9zM618.8 344.8h2.9v2.9h-2.9zM634.5 346.2h2.9v2.9h-2.9zM617.5 336.5h2.9v2.9h-2.9zM590.4 351.6h2.9v2.9h-2.9zM629.5 346.9h2.9v2.9h-2.9zM593.8 341.6h2.9v2.9h-2.9zM625.7 340.2h2.9v2.9h-2.9zM648.2 340.3h2.9v2.9h-2.9zM608.9 338.5h2.9v2.9h-2.9zM627.9 349.8h2.9v2.9h-2.9zM624.5 343.8h2.9v2.9h-2.9zM610.6 347.5h2.9v2.9h-2.9zM619.3 351.9h2.9v2.9h-2.9zM612.9 342.1h2.9v2.9h-2.9zM606.7 335h2.9v2.9h-2.9zM624.9 344.4h2.9v2.9h-2.9zM580.8 338.4h2.9v2.9h-2.9zM593.5 342.4h2.9v2.9h-2.9zM594.7 347.3h2.9v2.9h-2.9zM648.1 340.8h2.9v2.9h-2.9zM619.9 338.9h2.9v2.9h-2.9zM593.1 340.2h2.9v2.9h-2.9zM619.4 340.1h2.9v2.9h-2.9zM614.7 342.7h2.9v2.9h-2.9zM595.4 343.4h2.9v2.9h-2.9zM604.6 341.9h2.9v2.9h-2.9zM643.3 341.1h2.9v2.9h-2.9zM629.4 340.9h2.9v2.9h-2.9zM643.5 340.3h2.9v2.9h-2.9zM596 342.7h2.9v2.9h-2.9zM609.6 339.8h2.9v2.9h-2.9zM615.6 340.5h2.9v2.9h-2.9zM625.6 340.7h2.9v2.9h-2.9zM626.9 347.9h2.9v2.9h-2.9zM631.2 350.7h2.9v2.9h-2.9zM626.6 352.3h2.9v2.9h-2.9zM612.7 347.4h2.9v2.9h-2.9zM601.6 342.9h2.9v2.9h-2.9zM617.2 340.2h2.9v2.9h-2.9zM626.7 343.4h2.9v2.9h-2.9zM637.8 342.7h2.9v2.9h-2.9zM603.2 341.3h2.9v2.9h-2.9zM602.8 340.4h2.9v2.9h-2.9zM619.6 337.6h2.9v2.9h-2.9zM611.9 346.1h2.9v2.9h-2.9zM605.4 338.7h2.9v2.9h-2.9zM607.3 347.7h2.9v2.9h-2.9zM601 350.9h2.9v2.9h-2.9zM579.5 340.1h2.9v2.9h-2.9zM633.9 350h2.9v2.9h-2.9zM614.4 336.2h2.9v2.9h-2.9zM612.6 339.6h2.9v2.9h-2.9zM602.9 342.1h2.9v2.9h-2.9zM604.9 343.6h2.9v2.9h-2.9zM622.7 342.5h2.9v2.9h-2.9zM576.6 343h2.9v2.9h-2.9zM556.8 344.1h2.9v2.9h-2.9zM609.1 339.5h2.9v2.9h-2.9zM624.5 341.6h2.9v2.9h-2.9zM630.3 351.3h2.9v2.9h-2.9zM617.2 343.1h2.9v2.9h-2.9zM605.3 343.5h2.9v2.9h-2.9zM639.3 339.6h2.9v2.9h-2.9zM644.5 344.4h2.9v2.9h-2.9zM623.9 349.6h2.9v2.9h-2.9zM595.7 354.9h2.9v2.9h-2.9zM621.4 343.5h2.9v2.9h-2.9zM623.2 338.2h2.9v2.9h-2.9zM634 346.3h2.9v2.9h-2.9zM619.1 341.7h2.9v2.9h-2.9zM580.9 351.5h2.9v2.9h-2.9zM608.9 345.5h2.9v2.9h-2.9zM607.5 340.6h2.9v2.9h-2.9zM626.2 339.8h2.9v2.9h-2.9zM641.9 336.5h2.9v2.9h-2.9zM633.7 349.3h2.9v2.9h-2.9zM609 344.8h2.9v2.9h-2.9zM639.3 341.9h2.9v2.9h-2.9zM614.1 343h2.9v2.9h-2.9zM600 343.1h2.9v2.9h-2.9zM608.9 341.4h2.9v2.9h-2.9zM597.5 340.9h2.9v2.9h-2.9zM623.4 349.2h2.9v2.9h-2.9zM589 339.4h2.9v2.9h-2.9zM618.9 339.4h2.9v2.9h-2.9zM601.2 342.8h2.9v2.9h-2.9zM606.2 340h2.9v2.9h-2.9zM624.8 340.3h2.9v2.9h-2.9zM613.2 345.3h2.9v2.9h-2.9zM636.7 344.8h2.9v2.9h-2.9zM645.6 344.6h2.9v2.9h-2.9zM584.5 350.6h2.9v2.9h-2.9zM639 351.2h2.9v2.9h-2.9zM646 341.9h2.9v2.9h-2.9zM634.6 340.7h2.9v2.9h-2.9zM606.1 346.5h2.9v2.9h-2.9zM621.8 340.9h2.9v2.9h-2.9zM586 347.6h2.9v2.9h-2.9zM619.8 344.6h2.9v2.9h-2.9zM598.7 340.4h2.9v2.9h-2.9zM618.6 335.4h2.9v2.9h-2.9zM620.3 348.9h2.9v2.9h-2.9zM642.6 341.3h2.9v2.9h-2.9zM632 338.8h2.9v2.9h-2.9zM598.1 350h2.9v2.9h-2.9zM607.1 340.4h2.9v2.9h-2.9zM631.1 344h2.9v2.9h-2.9zM643 338.1h2.9v2.9h-2.9zM613.8 339h2.9v2.9h-2.9zM620.5 342.7h2.9v2.9h-2.9zM597.4 336h2.9v2.9h-2.9zM587.5 348.2h2.9v2.9h-2.9zM611.1 338.9h2.9v2.9h-2.9zM624 338.8h2.9v2.9h-2.9zM641.8 347.9h2.9v2.9h-2.9zM620.8 341.3h2.9v2.9h-2.9zM576.3 346.1h2.9v2.9h-2.9zM624.5 341.5h2.9v2.9h-2.9zM638.9 342.1h2.9v2.9h-2.9zM590.8 343.4h2.9v2.9h-2.9zM634.1 335.6h2.9v2.9h-2.9zM644.6 351.4h2.9v2.9h-2.9zM619.3 341.7h2.9v2.9h-2.9zM586 346.4h2.9v2.9h-2.9zM613.2 349.5h2.9v2.9h-2.9zM624.2 335.6h2.9v2.9h-2.9zM608.4 341.7h2.9v2.9h-2.9zM645.5 346.1h2.9v2.9h-2.9zM595 342.4h2.9v2.9h-2.9zM613.1 343.2h2.9v2.9h-2.9zM591.9 350.7h2.9v2.9h-2.9zM616.8 346.9h2.9v2.9h-2.9zM645.2 353.8h2.9v2.9h-2.9zM637.2 340.6h2.9v2.9h-2.9zM609.5 347.9h2.9v2.9h-2.9zM585.2 352.7h2.9v2.9h-2.9zM606.6 343.1h2.9v2.9h-2.9zM609.7 346.7h2.9v2.9h-2.9zM615.4 343.8h2.9v2.9h-2.9zM598 350.6h2.9v2.9h-2.9zM628.6 343.8h2.9v2.9h-2.9zM635.6 350.2h2.9v2.9h-2.9zM613.7 344.6h2.9v2.9h-2.9zM616.4 347.9h2.9v2.9h-2.9zM627 336.2h2.9v2.9h-2.9zM633.8 343h2.9v2.9h-2.9zM626.1 348.4h2.9v2.9h-2.9zM613.6 346.9h2.9v2.9h-2.9zM620.6 343.6h2.9v2.9h-2.9zM608.1 343.5h2.9v2.9h-2.9zM612.8 347.6h2.9v2.9h-2.9zM565.4 346.6h2.9v2.9h-2.9zM618.4 339.2h2.9v2.9h-2.9zM638.9 343.8h2.9v2.9h-2.9zM633.5 350.1h2.9v2.9h-2.9zM625.4 336.7h2.9v2.9h-2.9zM582.1 343.7h2.9v2.9h-2.9zM591.5 353.8h2.9v2.9h-2.9zM618 335.8h2.9v2.9h-2.9zM568.5 341.5h2.9v2.9h-2.9zM562.7 346.2h2.9v2.9h-2.9zM565.3 348h2.9v2.9h-2.9zM608.6 349.1h2.9v2.9h-2.9zM592.4 341.9h2.9v2.9h-2.9zM646.3 336.6h2.9v2.9h-2.9zM636.2 350.6h2.9v2.9h-2.9zM596.4 343.3h2.9v2.9h-2.9zM617.9 342.3h2.9v2.9h-2.9zM616.2 342.3h2.9v2.9h-2.9zM639.9 347.9h2.9v2.9h-2.9zM632.6 340.9h2.9v2.9h-2.9zM639 346.3h2.9v2.9h-2.9zM625.9 349.6h2.9v2.9h-2.9zM611.4 344.6h2.9v2.9h-2.9zM646.6 340.6h2.9v2.9h-2.9zM641.5 347.4h2.9v2.9h-2.9zM606.7 352.2h2.9v2.9h-2.9zM609.5 338.6h2.9v2.9h-2.9zM613.8 342.5h2.9v2.9h-2.9zM599.2 348.5h2.9v2.9h-2.9zM632.7 346.9h2.9v2.9h-2.9zM587.7 352.4h2.9v2.9h-2.9zM631.7 349.4h2.9v2.9h-2.9zM629 345.8h2.9v2.9h-2.9zM638.8 344.8h2.9v2.9h-2.9zM608.4 334.8h2.9v2.9h-2.9zM612.1 344h2.9v2.9h-2.9zM630.4 344.5h2.9v2.9h-2.9zM630.9 346.1h2.9v2.9h-2.9zM616.6 346.6h2.9v2.9h-2.9zM633.9 340.5h2.9v2.9h-2.9zM578.8 345.1h2.9v2.9h-2.9zM632.5 349h2.9v2.9h-2.9zM647.3 345.4h2.9v2.9h-2.9zM648.5 341.5h2.9v2.9h-2.9zM609.6 350.2h2.9v2.9h-2.9zM592.4 344h2.9v2.9h-2.9zM595.8 338.6h2.9v2.9h-2.9zM578.7 352.2h2.9v2.9h-2.9zM610 340.7h2.9v2.9h-2.9zM581.3 345.1h2.9v2.9h-2.9zM635.5 346.8h2.9v2.9h-2.9zM599.1 351.6h2.9v2.9h-2.9zM625.7 346.5h2.9v2.9h-2.9zM634.8 346.7h2.9v2.9h-2.9zM613.2 345.7h2.9v2.9h-2.9zM603.8 345.3h2.9v2.9h-2.9zM597.9 337.6h2.9v2.9h-2.9zM606.7 343.4h2.9v2.9h-2.9zM604.5 342.7h2.9v2.9h-2.9zM607.8 344.3h2.9v2.9h-2.9zM634.8 347.9h2.9v2.9h-2.9zM644.5 348h2.9v2.9h-2.9zM630.8 347.9h2.9v2.9h-2.9zM646.4 343.4h2.9v2.9h-2.9zM614.4 344h2.9v2.9h-2.9zM619.6 346.2h2.9v2.9h-2.9zM610.4 342.2h2.9v2.9h-2.9zM626.5 346.3h2.9v2.9h-2.9zM618.5 337.4h2.9v2.9h-2.9zM615.1 347.9h2.9v2.9h-2.9zM615.6 349.8h2.9v2.9h-2.9zM609 343h2.9v2.9h-2.9zM639.8 349.4h2.9v2.9h-2.9zM613.9 350.7h2.9v2.9h-2.9zM625.5 345.9h2.9v2.9h-2.9zM640.7 343.2h2.9v2.9h-2.9zM619.5 340h2.9v2.9h-2.9zM647.2 345.7h2.9v2.9h-2.9zM621.5 341.4h2.9v2.9h-2.9zM613.5 349.8h2.9v2.9h-2.9zM618.1 349.3h2.9v2.9h-2.9zM627 347.4h2.9v2.9h-2.9zM591.1 345.7h2.9v2.9h-2.9zM621.8 348.4h2.9v2.9h-2.9zM579.8 342.8h2.9v2.9h-2.9zM625 342h2.9v2.9h-2.9zM623.5 343.5h2.9v2.9h-2.9zM613.1 346.9h2.9v2.9h-2.9zM627.5 349.3h2.9v2.9h-2.9zM638.3 345.8h2.9v2.9h-2.9zM588.6 352.3h2.9v2.9h-2.9zM594.5 342.1h2.9v2.9h-2.9zM622.6 338.2h2.9v2.9h-2.9zM606.4 344.9h2.9v2.9h-2.9zM630.9 337.9h2.9v2.9h-2.9zM550.8 347.2h2.9v2.9h-2.9zM582.1 345.7h2.9v2.9h-2.9zM632.3 347.8h2.9v2.9h-2.9zM607.9 341.4h2.9v2.9h-2.9zM618.8 339.6h2.9v2.9h-2.9zM590.3 343h2.9v2.9h-2.9zM637.6 340.1h2.9v2.9h-2.9zM588.5 341.4h2.9v2.9h-2.9zM620.6 345.5h2.9v2.9h-2.9zM632.7 349.2h2.9v2.9h-2.9zM589.7 337.2h2.9v2.9h-2.9zM618.9 346.8h2.9v2.9h-2.9zM608 345.4h2.9v2.9h-2.9zM619 349.4h2.9v2.9h-2.9zM616 342.1h2.9v2.9h-2.9zM633 348.7h2.9v2.9h-2.9zM605.8 343.7h2.9v2.9h-2.9zM604 339h2.9v2.9h-2.9zM606.8 342.7h2.9v2.9h-2.9zM613.1 340.4h2.9v2.9h-2.9zM617.9 343.7h2.9v2.9h-2.9zM629.9 341.6h2.9v2.9h-2.9zM587.8 343.5h2.9v2.9h-2.9zM637.7 349.9h2.9v2.9h-2.9zM619.1 342.9h2.9v2.9h-2.9zM603.5 350.9h2.9v2.9h-2.9zM607 341.8h2.9v2.9h-2.9zM619.9 343.1h2.9v2.9h-2.9zM622.6 346h2.9v2.9h-2.9zM633 346.1h2.9v2.9h-2.9zM586.4 354.2h2.9v2.9h-2.9zM633.3 348.2h2.9v2.9h-2.9zM613.4 343.8h2.9v2.9h-2.9zM612.1 343.4h2.9v2.9h-2.9zM611.6 347.7h2.9v2.9h-2.9zM646.3 344h2.9v2.9h-2.9zM614 348h2.9v2.9h-2.9zM616.1 346.7h2.9v2.9h-2.9zM605.7 350.5h2.9v2.9h-2.9zM613.2 339.5h2.9v2.9h-2.9zM630.4 300.3h2.9v2.9h-2.9zM616.5 291.6h2.9v2.9h-2.9zM614.4 293.5h2.9v2.9h-2.9zM618.5 303.1h2.9v2.9h-2.9zM634.5 293.7h2.9v2.9h-2.9zM622.1 323.8h2.9v2.9h-2.9zM642.5 334.3h2.9v2.9h-2.9zM644.3 308.6h2.9v2.9h-2.9zM624 334.3h2.9v2.9h-2.9zM621 312.1h2.9v2.9h-2.9zM628.7 311.9h2.9v2.9h-2.9zM618.4 311.3h2.9v2.9h-2.9zM627.3 330.8h2.9v2.9h-2.9zM599.3 320.2h2.9v2.9h-2.9zM642 315h2.9v2.9h-2.9zM642.7 336.3h2.9v2.9h-2.9zM629 295.4h2.9v2.9h-2.9zM624.3 313.6h2.9v2.9h-2.9zM633.4 328.9h2.9v2.9h-2.9zM596.9 340.2h2.9v2.9h-2.9zM626.7 339.4h2.9v2.9h-2.9zM620.5 317.1h2.9v2.9h-2.9zM639 334.4h2.9v2.9h-2.9zM619.7 340h2.9v2.9h-2.9zM629.1 329.4h2.9v2.9h-2.9zM634.2 332.4h2.9v2.9h-2.9zM629.3 335.9h2.9v2.9h-2.9zM645.3 324.4h2.9v2.9h-2.9zM605.8 300.7h2.9v2.9h-2.9zM620.5 334.1h2.9v2.9h-2.9zM630 314.8h2.9v2.9h-2.9zM593.1 338.5h2.9v2.9h-2.9zM641.8 333.4h2.9v2.9h-2.9zM606.2 287.7h2.9v2.9h-2.9zM595.8 336.7h2.9v2.9h-2.9zM622.3 309.8h2.9v2.9h-2.9zM626.4 329h2.9v2.9h-2.9zM617.3 314.1h2.9v2.9h-2.9zM610.9 332.3h2.9v2.9h-2.9zM599.5 262.3h2.9v2.9h-2.9zM629.1 335h2.9v2.9h-2.9zM621.7 335.5h2.9v2.9h-2.9zM615.2 309.5h2.9v2.9h-2.9zM636.8 283.5h2.9v2.9h-2.9zM625.6 313.3h2.9v2.9h-2.9zM604.3 285.8h2.9v2.9h-2.9zM621 332.5h2.9v2.9h-2.9zM634.3 327h2.9v2.9h-2.9zM612.2 293.6h2.9v2.9h-2.9zM621 312.6h2.9v2.9h-2.9zM603 312.8h2.9v2.9h-2.9zM633.3 307.5h2.9v2.9h-2.9zM607.7 335.5h2.9v2.9h-2.9zM631.1 315h2.9v2.9h-2.9zM606.1 339.4h2.9v2.9h-2.9zM646.7 303.5h2.9v2.9h-2.9zM638.8 295.5h2.9v2.9h-2.9zM615.7 334.4h2.9v2.9h-2.9zM626.7 334.5h2.9v2.9h-2.9zM616.4 339.9h2.9v2.9h-2.9zM642.3 324.8h2.9v2.9h-2.9zM621.7 319.7h2.9v2.9h-2.9zM638.1 336.8h2.9v2.9h-2.9zM602 336.3h2.9v2.9h-2.9zM625.4 333.5h2.9v2.9h-2.9zM625.9 320.1h2.9v2.9h-2.9zM633.3 332.8h2.9v2.9h-2.9zM619.6 338.7h2.9v2.9h-2.9zM628.7 277.7h2.9v2.9h-2.9zM603.3 336.9h2.9v2.9h-2.9zM622.9 339.4h2.9v2.9h-2.9zM615.9 324.8h2.9v2.9h-2.9zM639.6 308.9h2.9v2.9h-2.9zM596.6 338.8h2.9v2.9h-2.9zM609.2 331.5h2.9v2.9h-2.9zM617.6 326.4h2.9v2.9h-2.9zM639.8 337.6h2.9v2.9h-2.9zM624.7 339.1h2.9v2.9h-2.9zM624.9 313.5h2.9v2.9h-2.9zM642.8 334.8h2.9v2.9h-2.9zM615.4 316h2.9v2.9h-2.9zM606.7 298.2h2.9v2.9h-2.9zM621 332.6h2.9v2.9h-2.9zM618.8 333.3h2.9v2.9h-2.9zM625.4 274h2.9v2.9h-2.9zM593.3 323h2.9v2.9h-2.9zM624.1 332.5h2.9v2.9h-2.9zM608.2 331h2.9v2.9h-2.9zM636.6 321.7h2.9v2.9h-2.9zM637.2 337.4h2.9v2.9h-2.9zM623.2 323.6h2.9v2.9h-2.9zM583.8 287h2.9v2.9h-2.9zM613.5 282.3h2.9v2.9h-2.9zM607.2 291.7h2.9v2.9h-2.9zM625.4 337.3h2.9v2.9h-2.9zM616.1 297h2.9v2.9h-2.9zM624.7 305h2.9v2.9h-2.9zM630.3 293.5h2.9v2.9h-2.9zM615.7 309.5h2.9v2.9h-2.9zM602.9 298h2.9v2.9h-2.9zM615.4 323.9h2.9v2.9h-2.9zM607.7 328.6h2.9v2.9h-2.9zM603.1 280.3h2.9v2.9h-2.9zM616.2 290.5h2.9v2.9h-2.9zM607.3 330.6h2.9v2.9h-2.9zM630.1 312.2h2.9v2.9h-2.9zM608.5 321.4h2.9v2.9h-2.9zM600.2 311.6h2.9v2.9h-2.9zM639.9 309.8h2.9v2.9h-2.9zM621.3 306.6h2.9v2.9h-2.9zM625.4 272.7h2.9v2.9h-2.9zM597.6 334.8h2.9v2.9h-2.9zM598.9 335.1h2.9v2.9h-2.9zM624.8 282.4h2.9v2.9h-2.9zM641.1 329.3h2.9v2.9h-2.9zM607.5 339.4h2.9v2.9h-2.9zM631.6 322.5h2.9v2.9h-2.9zM626.6 331.1h2.9v2.9h-2.9zM587.3 340.2h2.9v2.9h-2.9zM646.9 327.3h2.9v2.9h-2.9zM591.3 312.4h2.9v2.9h-2.9zM623.5 316h2.9v2.9h-2.9zM646.3 329h2.9v2.9h-2.9zM616.9 335.4h2.9v2.9h-2.9zM586.7 320.7h2.9v2.9h-2.9zM617.5 320.4h2.9v2.9h-2.9zM622.3 333.5h2.9v2.9h-2.9zM630 331.1h2.9v2.9h-2.9zM580.6 332.3h2.9v2.9h-2.9zM627.7 333.8h2.9v2.9h-2.9zM618.2 333.6h2.9v2.9h-2.9zM580.5 331.3h2.9v2.9h-2.9zM615.4 338h2.9v2.9h-2.9zM623.6 319.7h2.9v2.9h-2.9zM620.9 298h2.9v2.9h-2.9zM632.9 323.5h2.9v2.9h-2.9zM597.7 305.3h2.9v2.9h-2.9zM610.8 274.5h2.9v2.9h-2.9zM628.7 305.5h2.9v2.9h-2.9zM619 339.9h2.9v2.9h-2.9zM630.1 336.9h2.9v2.9h-2.9zM629.5 336.3h2.9v2.9h-2.9zM623.8 300.4h2.9v2.9h-2.9zM599.1 304.7h2.9v2.9h-2.9zM620.4 317.3h2.9v2.9h-2.9zM637.2 334.7h2.9v2.9h-2.9zM629.3 324h2.9v2.9h-2.9zM569.8 333.7h2.9v2.9h-2.9zM459.1 319.4h2.9v2.9h-2.9zM516 330.5h2.9v2.9h-2.9zM471.3 323.4h2.9v2.9h-2.9zM561.7 337.4h2.9v2.9h-2.9zM555 320.6h2.9v2.9h-2.9zM559.4 327.7h2.9v2.9h-2.9zM514.5 338h2.9v2.9h-2.9zM442.1 315.5h2.9v2.9h-2.9zM460.2 322.5h2.9v2.9h-2.9zM570.7 320.5h2.9v2.9h-2.9zM517.6 320.3h2.9v2.9h-2.9zM468.8 338h2.9v2.9h-2.9zM476.4 326.8h2.9v2.9h-2.9zM439.4 326.3h2.9v2.9h-2.9zM492.6 331.1h2.9v2.9h-2.9zM497.1 318.9h2.9v2.9h-2.9zM470.3 302.1h2.9v2.9h-2.9zM481.5 282.2h2.9v2.9h-2.9zM534.1 312.6h2.9v2.9h-2.9zM432 311.8h2.9v2.9h-2.9zM570.1 301.6h2.9v2.9h-2.9zM412 331.2h2.9v2.9h-2.9zM404.9 314.5h2.9v2.9h-2.9zM554.4 313h2.9v2.9h-2.9zM516.7 321.4h2.9v2.9h-2.9zM527.9 321.1h2.9v2.9h-2.9zM539.6 334.8h2.9v2.9h-2.9zM484.1 316.7h2.9v2.9h-2.9zM416.1 320.4h2.9v2.9h-2.9z"/>
<path fill="#3b48a8" d="M411.2 129.4h3v3h-3zM411.2 140.2h3v3h-3zM464.5 121.6h3v3h-3zM558.5 118.9h3v3h-3zM558.5 124.3h3v3h-3zM569 132.1h3v3h-3zM579.8 118.3h3v3h-3zM539.9 186h3v3h-3zM585.4 159h3v3h-3zM587.8 169.8h3v3h-3zM595.9 172.2h3v3h-3zM571.7 212.6h3v3h-3zM612.1 233.9h3v3h-3zM405.2 239.3h3v3h-3zM636.3 108.1h3v3h-3zM628.3 121.6h3v3h-3zM631 124.9h3v3h-3zM614.8 132.4h3v3h-3zM617.5 137.5h3v3h-3zM636.3 137.5h3v3h-3zM639 140.2h3v3h-3zM641.7 142.9h3v3h-3zM639 145.6h3v3h-3zM609.4 148.3h3v3h-3zM609.4 151h3v3h-3zM622.9 151h3v3h-3zM628.3 151h3v3h-3zM614.8 156.3h3v3h-3zM614.8 159h3v3h-3zM620.2 156.3h3v3h-3zM625.6 156.3h3v3h-3zM631 156.3h3v3h-3zM614.8 175.2h3v3h-3zM612.1 193.8h3v3h-3zM614.8 193.8h3v3h-3zM636.3 183.3h3v3h-3zM631 191.1h3v3h-3z"/>
<rect x="310.3" y="47.4" width="341.6" height="341.5" fill="none" stroke="#1d1d1b" stroke-width="1.9"/>
<path fill="#69b42d" d="M650.4 377.8h2.4v2.4h-2.4zM650.4 290.1h2.4v2.4h-2.4zM650.4 358.6h2.4v2.4h-2.4zM650.4 357h2.4v2.4h-2.4zM650.4 375.1h2.4v2.4h-2.4zM650.4 383.2h2.4v2.4h-2.4zM650.4 348.4h2.4v2.4h-2.4zM650.4 344.1h2.4v2.4h-2.4zM650.4 331.1h2.4v2.4h-2.4zM650.4 327.4h2.4v2.4h-2.4zM650.4 344.6h2.4v2.4h-2.4zM650.4 316.6h2.4v2.4h-2.4zM650.4 365.4h2.4v2.4h-2.4zM650.4 338.7h2.4v2.4h-2.4zM650.4 326.9h2.4v2.4h-2.4zM650.4 335.4h2.4v2.4h-2.4zM650.4 356h2.4v2.4h-2.4zM650.4 369.4h2.4v2.4h-2.4zM650.4 367.2h2.4v2.4h-2.4zM650.4 356h2.4v2.4h-2.4zM650.4 306.7h2.4v2.4h-2.4zM650.4 280.8h2.4v2.4h-2.4zM650.4 293.6h2.4v2.4h-2.4zM650.4 289.7h2.4v2.4h-2.4zM650.4 334.6h2.4v2.4h-2.4zM650.4 289h2.4v2.4h-2.4zM650.4 331h2.4v2.4h-2.4zM650.4 360.9h2.4v2.4h-2.4zM650.4 327.5h2.4v2.4h-2.4zM650.4 373.4h2.4v2.4h-2.4z"/>
<line x1="404.2" y1="47.4" x2="404.2" y2="388.9" stroke="#1d1d1b" stroke-width="1.5"/>
<polyline fill="none" stroke="#1d1d1b" stroke-width="1.4" points="310.3,258.9 404.2,255.9 651.9,254"/>
<line x1="302.2" y1="48.2" x2="310.3" y2="48.2" stroke="#1d1d1b" stroke-width="1.8"/>
<line x1="302.2" y1="124.4" x2="310.3" y2="124.4" stroke="#1d1d1b" stroke-width="1.8"/>
<line x1="302.2" y1="199.9" x2="310.3" y2="199.9" stroke="#1d1d1b" stroke-width="1.8"/>
<line x1="302.2" y1="282.9" x2="310.3" y2="282.9" stroke="#1d1d1b" stroke-width="1.8"/>
<line x1="302.2" y1="354.5" x2="310.3" y2="354.5" stroke="#1d1d1b" stroke-width="1.8"/>
<line x1="306.4" y1="101.5" x2="310.3" y2="101.5" stroke="#1d1d1b" stroke-width="1.5"/>
<line x1="306.4" y1="88" x2="310.3" y2="88" stroke="#1d1d1b" stroke-width="1.5"/>
<line x1="306.4" y1="78.5" x2="310.3" y2="78.5" stroke="#1d1d1b" stroke-width="1.5"/>
<line x1="306.4" y1="71.1" x2="310.3" y2="71.1" stroke="#1d1d1b" stroke-width="1.5"/>
<line x1="306.4" y1="65.1" x2="310.3" y2="65.1" stroke="#1d1d1b" stroke-width="1.5"/>
<line x1="306.4" y1="60" x2="310.3" y2="60" stroke="#1d1d1b" stroke-width="1.5"/>
<line x1="306.4" y1="55.6" x2="310.3" y2="55.6" stroke="#1d1d1b" stroke-width="1.5"/>
<line x1="306.4" y1="51.7" x2="310.3" y2="51.7" stroke="#1d1d1b" stroke-width="1.5"/>
<line x1="306.4" y1="177.2" x2="310.3" y2="177.2" stroke="#1d1d1b" stroke-width="1.5"/>
<line x1="306.4" y1="163.9" x2="310.3" y2="163.9" stroke="#1d1d1b" stroke-width="1.5"/>
<line x1="306.4" y1="154.4" x2="310.3" y2="154.4" stroke="#1d1d1b" stroke-width="1.5"/>
<line x1="306.4" y1="147.1" x2="310.3" y2="147.1" stroke="#1d1d1b" stroke-width="1.5"/>
<line x1="306.4" y1="141.1" x2="310.3" y2="141.1" stroke="#1d1d1b" stroke-width="1.5"/>
<line x1="306.4" y1="136.1" x2="310.3" y2="136.1" stroke="#1d1d1b" stroke-width="1.5"/>
<line x1="306.4" y1="131.7" x2="310.3" y2="131.7" stroke="#1d1d1b" stroke-width="1.5"/>
<line x1="306.4" y1="127.9" x2="310.3" y2="127.9" stroke="#1d1d1b" stroke-width="1.5"/>
<line x1="306.4" y1="257.9" x2="310.3" y2="257.9" stroke="#1d1d1b" stroke-width="1.5"/>
<line x1="306.4" y1="243.3" x2="310.3" y2="243.3" stroke="#1d1d1b" stroke-width="1.5"/>
<line x1="306.4" y1="232.9" x2="310.3" y2="232.9" stroke="#1d1d1b" stroke-width="1.5"/>
<line x1="306.4" y1="224.9" x2="310.3" y2="224.9" stroke="#1d1d1b" stroke-width="1.5"/>
<line x1="306.4" y1="218.3" x2="310.3" y2="218.3" stroke="#1d1d1b" stroke-width="1.5"/>
<line x1="306.4" y1="212.8" x2="310.3" y2="212.8" stroke="#1d1d1b" stroke-width="1.5"/>
<line x1="306.4" y1="207.9" x2="310.3" y2="207.9" stroke="#1d1d1b" stroke-width="1.5"/>
<line x1="306.4" y1="203.7" x2="310.3" y2="203.7" stroke="#1d1d1b" stroke-width="1.5"/>
<line x1="306.4" y1="287.1" x2="310.3" y2="287.1" stroke="#1d1d1b" stroke-width="1.5"/>
<line x1="306.4" y1="291.3" x2="310.3" y2="291.3" stroke="#1d1d1b" stroke-width="1.5"/>
<line x1="306.4" y1="296" x2="310.3" y2="296" stroke="#1d1d1b" stroke-width="1.5"/>
<line x1="306.4" y1="301.7" x2="310.3" y2="301.7" stroke="#1d1d1b" stroke-width="1.5"/>
<line x1="306.4" y1="308.8" x2="310.3" y2="308.8" stroke="#1d1d1b" stroke-width="1.5"/>
<line x1="306.4" y1="315.9" x2="310.3" y2="315.9" stroke="#1d1d1b" stroke-width="1.5"/>
<line x1="306.4" y1="333" x2="310.3" y2="333" stroke="#1d1d1b" stroke-width="1.5"/>
<line x1="306.4" y1="376.3" x2="310.3" y2="376.3" stroke="#1d1d1b" stroke-width="1.5"/>
<line x1="344.1" y1="388.9" x2="344.1" y2="396.9" stroke="#1d1d1b" stroke-width="1.8"/>
<line x1="415.4" y1="388.9" x2="415.4" y2="396.9" stroke="#1d1d1b" stroke-width="1.8"/>
<line x1="498.9" y1="388.9" x2="498.9" y2="396.9" stroke="#1d1d1b" stroke-width="1.8"/>
<line x1="575.3" y1="388.9" x2="575.3" y2="396.9" stroke="#1d1d1b" stroke-width="1.8"/>
<line x1="650.9" y1="388.9" x2="650.9" y2="396.9" stroke="#1d1d1b" stroke-width="1.8"/>
<line x1="322.6" y1="388.9" x2="322.6" y2="392.7" stroke="#1d1d1b" stroke-width="1.5"/>
<line x1="365.9" y1="388.9" x2="365.9" y2="392.7" stroke="#1d1d1b" stroke-width="1.5"/>
<line x1="382.6" y1="388.9" x2="382.6" y2="392.7" stroke="#1d1d1b" stroke-width="1.5"/>
<line x1="389.7" y1="388.9" x2="389.7" y2="392.7" stroke="#1d1d1b" stroke-width="1.5"/>
<line x1="395.4" y1="388.9" x2="395.4" y2="392.7" stroke="#1d1d1b" stroke-width="1.5"/>
<line x1="399.7" y1="388.9" x2="399.7" y2="392.7" stroke="#1d1d1b" stroke-width="1.5"/>
<line x1="403.3" y1="388.9" x2="403.3" y2="392.7" stroke="#1d1d1b" stroke-width="1.5"/>
<line x1="406.8" y1="388.9" x2="406.8" y2="392.7" stroke="#1d1d1b" stroke-width="1.5"/>
<line x1="410.4" y1="388.9" x2="410.4" y2="392.7" stroke="#1d1d1b" stroke-width="1.5"/>
<line x1="440.5" y1="388.9" x2="440.5" y2="392.7" stroke="#1d1d1b" stroke-width="1.5"/>
<line x1="455.2" y1="388.9" x2="455.2" y2="392.7" stroke="#1d1d1b" stroke-width="1.5"/>
<line x1="465.7" y1="388.9" x2="465.7" y2="392.7" stroke="#1d1d1b" stroke-width="1.5"/>
<line x1="473.8" y1="388.9" x2="473.8" y2="392.7" stroke="#1d1d1b" stroke-width="1.5"/>
<line x1="480.4" y1="388.9" x2="480.4" y2="392.7" stroke="#1d1d1b" stroke-width="1.5"/>
<line x1="486" y1="388.9" x2="486" y2="392.7" stroke="#1d1d1b" stroke-width="1.5"/>
<line x1="490.8" y1="388.9" x2="490.8" y2="392.7" stroke="#1d1d1b" stroke-width="1.5"/>
<line x1="495.1" y1="388.9" x2="495.1" y2="392.7" stroke="#1d1d1b" stroke-width="1.5"/>
<line x1="521.9" y1="388.9" x2="521.9" y2="392.7" stroke="#1d1d1b" stroke-width="1.5"/>
<line x1="535.4" y1="388.9" x2="535.4" y2="392.7" stroke="#1d1d1b" stroke-width="1.5"/>
<line x1="544.9" y1="388.9" x2="544.9" y2="392.7" stroke="#1d1d1b" stroke-width="1.5"/>
<line x1="552.3" y1="388.9" x2="552.3" y2="392.7" stroke="#1d1d1b" stroke-width="1.5"/>
<line x1="558.4" y1="388.9" x2="558.4" y2="392.7" stroke="#1d1d1b" stroke-width="1.5"/>
<line x1="563.5" y1="388.9" x2="563.5" y2="392.7" stroke="#1d1d1b" stroke-width="1.5"/>
<line x1="567.9" y1="388.9" x2="567.9" y2="392.7" stroke="#1d1d1b" stroke-width="1.5"/>
<line x1="571.8" y1="388.9" x2="571.8" y2="392.7" stroke="#1d1d1b" stroke-width="1.5"/>
<line x1="598.1" y1="388.9" x2="598.1" y2="392.7" stroke="#1d1d1b" stroke-width="1.5"/>
<line x1="611.4" y1="388.9" x2="611.4" y2="392.7" stroke="#1d1d1b" stroke-width="1.5"/>
<line x1="620.8" y1="388.9" x2="620.8" y2="392.7" stroke="#1d1d1b" stroke-width="1.5"/>
<line x1="628.1" y1="388.9" x2="628.1" y2="392.7" stroke="#1d1d1b" stroke-width="1.5"/>
<line x1="634.1" y1="388.9" x2="634.1" y2="392.7" stroke="#1d1d1b" stroke-width="1.5"/>
<line x1="639.2" y1="388.9" x2="639.2" y2="392.7" stroke="#1d1d1b" stroke-width="1.5"/>
<line x1="643.6" y1="388.9" x2="643.6" y2="392.7" stroke="#1d1d1b" stroke-width="1.5"/>
<line x1="647.4" y1="388.9" x2="647.4" y2="392.7" stroke="#1d1d1b" stroke-width="1.5"/>
<text x="278.8" y="53.9" font-size="16" fill="#1d1d1b" textLength="16" lengthAdjust="spacingAndGlyphs">10</text>
<text x="294.8" y="47.8" font-size="10" fill="#1d1d1b" textLength="4.6" lengthAdjust="spacingAndGlyphs">3</text>
<text x="278.8" y="130.1" font-size="16" fill="#1d1d1b" textLength="16" lengthAdjust="spacingAndGlyphs">10</text>
<text x="294.8" y="124" font-size="10" fill="#1d1d1b" textLength="4.6" lengthAdjust="spacingAndGlyphs">2</text>
<text x="278.8" y="205.6" font-size="16" fill="#1d1d1b" textLength="16" lengthAdjust="spacingAndGlyphs">10</text>
<text x="294.8" y="199.5" font-size="10" fill="#1d1d1b" textLength="4.6" lengthAdjust="spacingAndGlyphs">1</text>
<text x="278.8" y="288.6" font-size="16" fill="#1d1d1b" textLength="16" lengthAdjust="spacingAndGlyphs">10</text>
<text x="294.8" y="282.5" font-size="10" fill="#1d1d1b" textLength="4.6" lengthAdjust="spacingAndGlyphs">0</text>
<text x="291.2" y="360.2" font-size="16" fill="#1d1d1b" textLength="8.2" lengthAdjust="spacingAndGlyphs">0</text>
<text x="340" y="415.1" font-size="16" fill="#1d1d1b" textLength="8.2" lengthAdjust="spacingAndGlyphs">0</text>
<text x="405.4" y="415.1" font-size="16" fill="#1d1d1b" textLength="16" lengthAdjust="spacingAndGlyphs">10</text>
<text x="421.4" y="409" font-size="10" fill="#1d1d1b" textLength="4.6" lengthAdjust="spacingAndGlyphs">0</text>
<text x="488.9" y="415.1" font-size="16" fill="#1d1d1b" textLength="16" lengthAdjust="spacingAndGlyphs">10</text>
<text x="504.9" y="409" font-size="10" fill="#1d1d1b" textLength="4.6" lengthAdjust="spacingAndGlyphs">1</text>
<text x="565.3" y="415.1" font-size="16" fill="#1d1d1b" textLength="16" lengthAdjust="spacingAndGlyphs">10</text>
<text x="581.3" y="409" font-size="10" fill="#1d1d1b" textLength="4.6" lengthAdjust="spacingAndGlyphs">2</text>
<text x="640.9" y="415.1" font-size="16" fill="#1d1d1b" textLength="16" lengthAdjust="spacingAndGlyphs">10</text>
<text x="656.9" y="409" font-size="10" fill="#1d1d1b" textLength="4.6" lengthAdjust="spacingAndGlyphs">3</text>
<text x="317.9" y="72.6" font-size="30" fill="#1d1d1b" font-weight="bold" textLength="81" lengthAdjust="spacingAndGlyphs">2.73%</text>
<text x="513" y="72.6" font-size="30" fill="#1d1d1b" font-weight="bold" textLength="81.5" lengthAdjust="spacingAndGlyphs">0.38%</text>
<text x="474.9" y="378.9" font-size="30" fill="#1d1d1b" font-weight="bold" textLength="81" lengthAdjust="spacingAndGlyphs">9.90%</text>
<path fill="#a2a2a6" d="M361.8 696.2h2.7v2.7h-2.7zM366.7 696.2h2.7v2.7h-2.7zM398.7 696.2h2.7v2.7h-2.7zM356.9 698.7h2.7v2.7h-2.7zM374.1 698.7h2.7v2.7h-2.7zM356.9 701.2h2.7v2.7h-2.7zM359.3 701.2h2.7v2.7h-2.7zM361.8 701.2h2.7v2.7h-2.7zM364.2 701.2h2.7v2.7h-2.7zM366.7 701.2h2.7v2.7h-2.7zM359.3 703.6h2.7v2.7h-2.7zM388.8 703.6h2.7v2.7h-2.7zM391.3 703.6h2.7v2.7h-2.7zM354.4 706.1h2.7v2.7h-2.7zM356.9 706.1h2.7v2.7h-2.7zM359.3 706.1h2.7v2.7h-2.7zM361.8 706.1h2.7v2.7h-2.7zM364.2 706.1h2.7v2.7h-2.7zM371.6 706.1h2.7v2.7h-2.7zM356.9 708.5h2.7v2.7h-2.7zM359.3 708.5h2.7v2.7h-2.7zM361.8 708.5h2.7v2.7h-2.7zM364.2 708.5h2.7v2.7h-2.7zM366.7 708.5h2.7v2.7h-2.7zM371.6 708.5h2.7v2.7h-2.7zM374.1 708.5h2.7v2.7h-2.7zM379 708.5h2.7v2.7h-2.7zM391.3 708.5h2.7v2.7h-2.7zM354.4 711h2.7v2.7h-2.7zM356.9 711h2.7v2.7h-2.7zM359.3 711h2.7v2.7h-2.7zM364.2 711h2.7v2.7h-2.7zM366.7 711h2.7v2.7h-2.7zM369.2 711h2.7v2.7h-2.7zM381.5 711h2.7v2.7h-2.7zM383.9 711h2.7v2.7h-2.7zM401.1 711h2.7v2.7h-2.7zM351.9 713.5h2.7v2.7h-2.7zM354.4 713.5h2.7v2.7h-2.7zM356.9 713.5h2.7v2.7h-2.7zM359.3 713.5h2.7v2.7h-2.7zM361.8 713.5h2.7v2.7h-2.7zM364.2 713.5h2.7v2.7h-2.7zM366.7 713.5h2.7v2.7h-2.7zM371.6 713.5h2.7v2.7h-2.7zM376.5 713.5h2.7v2.7h-2.7zM388.8 713.5h2.7v2.7h-2.7zM349.5 715.9h2.7v2.7h-2.7zM354.4 715.9h2.7v2.7h-2.7zM356.9 715.9h2.7v2.7h-2.7zM359.3 715.9h2.7v2.7h-2.7zM371.6 715.9h2.7v2.7h-2.7zM386.4 715.9h2.7v2.7h-2.7zM349.5 718.4h2.7v2.7h-2.7zM354.4 718.4h2.7v2.7h-2.7zM356.9 718.4h2.7v2.7h-2.7zM359.3 718.4h2.7v2.7h-2.7zM361.8 718.4h2.7v2.7h-2.7zM366.7 718.4h2.7v2.7h-2.7zM369.2 718.4h2.7v2.7h-2.7zM374.1 718.4h2.7v2.7h-2.7zM381.5 718.4h2.7v2.7h-2.7zM383.9 718.4h2.7v2.7h-2.7zM393.8 718.4h2.7v2.7h-2.7zM351.9 720.8h2.7v2.7h-2.7zM354.4 720.8h2.7v2.7h-2.7zM356.9 720.8h2.7v2.7h-2.7zM359.3 720.8h2.7v2.7h-2.7zM361.8 720.8h2.7v2.7h-2.7zM364.2 720.8h2.7v2.7h-2.7zM366.7 720.8h2.7v2.7h-2.7zM369.2 720.8h2.7v2.7h-2.7zM371.6 720.8h2.7v2.7h-2.7zM374.1 720.8h2.7v2.7h-2.7zM396.2 720.8h2.7v2.7h-2.7zM351.9 723.3h2.7v2.7h-2.7zM354.4 723.3h2.7v2.7h-2.7zM356.9 723.3h2.7v2.7h-2.7zM359.3 723.3h2.7v2.7h-2.7zM361.8 723.3h2.7v2.7h-2.7zM364.2 723.3h2.7v2.7h-2.7zM366.7 723.3h2.7v2.7h-2.7zM374.1 723.3h2.7v2.7h-2.7zM381.5 723.3h2.7v2.7h-2.7zM351.9 725.8h2.7v2.7h-2.7zM354.4 725.8h2.7v2.7h-2.7zM356.9 725.8h2.7v2.7h-2.7zM359.3 725.8h2.7v2.7h-2.7zM361.8 725.8h2.7v2.7h-2.7zM364.2 725.8h2.7v2.7h-2.7zM366.7 725.8h2.7v2.7h-2.7zM369.2 725.8h2.7v2.7h-2.7zM371.6 725.8h2.7v2.7h-2.7zM379 725.8h2.7v2.7h-2.7zM344.6 728.2h2.7v2.7h-2.7zM351.9 728.2h2.7v2.7h-2.7zM354.4 728.2h2.7v2.7h-2.7zM356.9 728.2h2.7v2.7h-2.7zM359.3 728.2h2.7v2.7h-2.7zM374.1 728.2h2.7v2.7h-2.7zM376.5 728.2h2.7v2.7h-2.7zM383.9 728.2h2.7v2.7h-2.7zM391.3 728.2h2.7v2.7h-2.7zM349.5 730.7h2.7v2.7h-2.7zM351.9 730.7h2.7v2.7h-2.7zM354.4 730.7h2.7v2.7h-2.7zM356.9 730.7h2.7v2.7h-2.7zM359.3 730.7h2.7v2.7h-2.7zM361.8 730.7h2.7v2.7h-2.7zM364.2 730.7h2.7v2.7h-2.7zM366.7 730.7h2.7v2.7h-2.7zM369.2 730.7h2.7v2.7h-2.7zM374.1 730.7h2.7v2.7h-2.7zM379 730.7h2.7v2.7h-2.7zM349.5 733.1h2.7v2.7h-2.7zM351.9 733.1h2.7v2.7h-2.7zM354.4 733.1h2.7v2.7h-2.7zM356.9 733.1h2.7v2.7h-2.7zM359.3 733.1h2.7v2.7h-2.7zM361.8 733.1h2.7v2.7h-2.7zM364.2 733.1h2.7v2.7h-2.7zM366.7 733.1h2.7v2.7h-2.7zM369.2 733.1h2.7v2.7h-2.7zM376.5 733.1h2.7v2.7h-2.7zM391.3 733.1h2.7v2.7h-2.7zM401.1 733.1h2.7v2.7h-2.7zM349.5 735.6h2.7v2.7h-2.7zM351.9 735.6h2.7v2.7h-2.7zM354.4 735.6h2.7v2.7h-2.7zM356.9 735.6h2.7v2.7h-2.7zM359.3 735.6h2.7v2.7h-2.7zM364.2 735.6h2.7v2.7h-2.7zM371.6 735.6h2.7v2.7h-2.7zM374.1 735.6h2.7v2.7h-2.7zM388.8 735.6h2.7v2.7h-2.7zM351.9 738.1h2.7v2.7h-2.7zM354.4 738.1h2.7v2.7h-2.7zM356.9 738.1h2.7v2.7h-2.7zM359.3 738.1h2.7v2.7h-2.7zM361.8 738.1h2.7v2.7h-2.7zM366.7 738.1h2.7v2.7h-2.7zM369.2 738.1h2.7v2.7h-2.7zM374.1 738.1h2.7v2.7h-2.7zM376.5 738.1h2.7v2.7h-2.7zM381.5 738.1h2.7v2.7h-2.7zM391.3 738.1h2.7v2.7h-2.7zM349.5 740.5h2.7v2.7h-2.7zM351.9 740.5h2.7v2.7h-2.7zM354.4 740.5h2.7v2.7h-2.7zM356.9 740.5h2.7v2.7h-2.7zM359.3 740.5h2.7v2.7h-2.7zM361.8 740.5h2.7v2.7h-2.7zM366.7 740.5h2.7v2.7h-2.7zM371.6 740.5h2.7v2.7h-2.7zM374.1 740.5h2.7v2.7h-2.7zM376.5 740.5h2.7v2.7h-2.7zM379 740.5h2.7v2.7h-2.7zM383.9 740.5h2.7v2.7h-2.7zM386.4 740.5h2.7v2.7h-2.7zM401.1 740.5h2.7v2.7h-2.7zM344.6 743h2.7v2.7h-2.7zM349.5 743h2.7v2.7h-2.7zM351.9 743h2.7v2.7h-2.7zM354.4 743h2.7v2.7h-2.7zM356.9 743h2.7v2.7h-2.7zM359.3 743h2.7v2.7h-2.7zM361.8 743h2.7v2.7h-2.7zM366.7 743h2.7v2.7h-2.7zM379 743h2.7v2.7h-2.7zM349.5 745.4h2.7v2.7h-2.7zM351.9 745.4h2.7v2.7h-2.7zM354.4 745.4h2.7v2.7h-2.7zM356.9 745.4h2.7v2.7h-2.7zM359.3 745.4h2.7v2.7h-2.7zM361.8 745.4h2.7v2.7h-2.7zM364.2 745.4h2.7v2.7h-2.7zM369.2 745.4h2.7v2.7h-2.7zM383.9 745.4h2.7v2.7h-2.7zM391.3 745.4h2.7v2.7h-2.7zM349.5 747.9h2.7v2.7h-2.7zM351.9 747.9h2.7v2.7h-2.7zM354.4 747.9h2.7v2.7h-2.7zM356.9 747.9h2.7v2.7h-2.7zM359.3 747.9h2.7v2.7h-2.7zM361.8 747.9h2.7v2.7h-2.7zM364.2 747.9h2.7v2.7h-2.7zM369.2 747.9h2.7v2.7h-2.7zM374.1 747.9h2.7v2.7h-2.7zM347 750.4h2.7v2.7h-2.7zM349.5 750.4h2.7v2.7h-2.7zM351.9 750.4h2.7v2.7h-2.7zM354.4 750.4h2.7v2.7h-2.7zM356.9 750.4h2.7v2.7h-2.7zM359.3 750.4h2.7v2.7h-2.7zM361.8 750.4h2.7v2.7h-2.7zM364.2 750.4h2.7v2.7h-2.7zM366.7 750.4h2.7v2.7h-2.7zM369.2 750.4h2.7v2.7h-2.7zM371.6 750.4h2.7v2.7h-2.7zM379 750.4h2.7v2.7h-2.7zM381.5 750.4h2.7v2.7h-2.7zM349.5 752.8h2.7v2.7h-2.7zM351.9 752.8h2.7v2.7h-2.7zM354.4 752.8h2.7v2.7h-2.7zM356.9 752.8h2.7v2.7h-2.7zM359.3 752.8h2.7v2.7h-2.7zM361.8 752.8h2.7v2.7h-2.7zM364.2 752.8h2.7v2.7h-2.7zM366.7 752.8h2.7v2.7h-2.7zM369.2 752.8h2.7v2.7h-2.7zM371.6 752.8h2.7v2.7h-2.7zM374.1 752.8h2.7v2.7h-2.7zM376.5 752.8h2.7v2.7h-2.7zM381.5 752.8h2.7v2.7h-2.7zM383.9 752.8h2.7v2.7h-2.7zM347 755.3h2.7v2.7h-2.7zM349.5 755.3h2.7v2.7h-2.7zM351.9 755.3h2.7v2.7h-2.7zM354.4 755.3h2.7v2.7h-2.7zM356.9 755.3h2.7v2.7h-2.7zM359.3 755.3h2.7v2.7h-2.7zM361.8 755.3h2.7v2.7h-2.7zM364.2 755.3h2.7v2.7h-2.7zM369.2 755.3h2.7v2.7h-2.7zM371.6 755.3h2.7v2.7h-2.7zM383.9 755.3h2.7v2.7h-2.7zM388.8 755.3h2.7v2.7h-2.7zM398.7 755.3h2.7v2.7h-2.7zM349.5 757.7h2.7v2.7h-2.7zM351.9 757.7h2.7v2.7h-2.7zM354.4 757.7h2.7v2.7h-2.7zM356.9 757.7h2.7v2.7h-2.7zM359.3 757.7h2.7v2.7h-2.7zM361.8 757.7h2.7v2.7h-2.7zM364.2 757.7h2.7v2.7h-2.7zM366.7 757.7h2.7v2.7h-2.7zM369.2 757.7h2.7v2.7h-2.7zM371.6 757.7h2.7v2.7h-2.7zM374.1 757.7h2.7v2.7h-2.7zM386.4 757.7h2.7v2.7h-2.7zM388.8 757.7h2.7v2.7h-2.7zM342.1 760.2h2.7v2.7h-2.7zM347 760.2h2.7v2.7h-2.7zM349.5 760.2h2.7v2.7h-2.7zM351.9 760.2h2.7v2.7h-2.7zM354.4 760.2h2.7v2.7h-2.7zM356.9 760.2h2.7v2.7h-2.7zM359.3 760.2h2.7v2.7h-2.7zM361.8 760.2h2.7v2.7h-2.7zM364.2 760.2h2.7v2.7h-2.7zM366.7 760.2h2.7v2.7h-2.7zM369.2 760.2h2.7v2.7h-2.7zM376.5 760.2h2.7v2.7h-2.7zM388.8 760.2h2.7v2.7h-2.7zM393.8 760.2h2.7v2.7h-2.7zM344.6 762.7h2.7v2.7h-2.7zM347 762.7h2.7v2.7h-2.7zM349.5 762.7h2.7v2.7h-2.7zM351.9 762.7h2.7v2.7h-2.7zM354.4 762.7h2.7v2.7h-2.7zM356.9 762.7h2.7v2.7h-2.7zM359.3 762.7h2.7v2.7h-2.7zM361.8 762.7h2.7v2.7h-2.7zM364.2 762.7h2.7v2.7h-2.7zM366.7 762.7h2.7v2.7h-2.7zM369.2 762.7h2.7v2.7h-2.7zM374.1 762.7h2.7v2.7h-2.7zM379 762.7h2.7v2.7h-2.7zM383.9 762.7h2.7v2.7h-2.7zM391.3 762.7h2.7v2.7h-2.7zM398.7 762.7h2.7v2.7h-2.7zM347 765.1h2.7v2.7h-2.7zM349.5 765.1h2.7v2.7h-2.7zM351.9 765.1h2.7v2.7h-2.7zM354.4 765.1h2.7v2.7h-2.7zM356.9 765.1h2.7v2.7h-2.7zM359.3 765.1h2.7v2.7h-2.7zM361.8 765.1h2.7v2.7h-2.7zM364.2 765.1h2.7v2.7h-2.7zM366.7 765.1h2.7v2.7h-2.7zM369.2 765.1h2.7v2.7h-2.7zM371.6 765.1h2.7v2.7h-2.7zM374.1 765.1h2.7v2.7h-2.7zM376.5 765.1h2.7v2.7h-2.7zM381.5 765.1h2.7v2.7h-2.7zM386.4 765.1h2.7v2.7h-2.7zM393.8 765.1h2.7v2.7h-2.7zM347 767.6h2.7v2.7h-2.7zM349.5 767.6h2.7v2.7h-2.7zM351.9 767.6h2.7v2.7h-2.7zM354.4 767.6h2.7v2.7h-2.7zM356.9 767.6h2.7v2.7h-2.7zM359.3 767.6h2.7v2.7h-2.7zM361.8 767.6h2.7v2.7h-2.7zM364.2 767.6h2.7v2.7h-2.7zM366.7 767.6h2.7v2.7h-2.7zM369.2 767.6h2.7v2.7h-2.7zM371.6 767.6h2.7v2.7h-2.7zM374.1 767.6h2.7v2.7h-2.7zM376.5 767.6h2.7v2.7h-2.7zM379 767.6h2.7v2.7h-2.7zM383.9 767.6h2.7v2.7h-2.7zM391.3 767.6h2.7v2.7h-2.7zM393.8 767.6h2.7v2.7h-2.7zM398.7 767.6h2.7v2.7h-2.7zM347 770h2.7v2.7h-2.7zM349.5 770h2.7v2.7h-2.7zM351.9 770h2.7v2.7h-2.7zM354.4 770h2.7v2.7h-2.7zM356.9 770h2.7v2.7h-2.7zM359.3 770h2.7v2.7h-2.7zM361.8 770h2.7v2.7h-2.7zM364.2 770h2.7v2.7h-2.7zM366.7 770h2.7v2.7h-2.7zM369.2 770h2.7v2.7h-2.7zM371.6 770h2.7v2.7h-2.7zM374.1 770h2.7v2.7h-2.7zM376.5 770h2.7v2.7h-2.7zM379 770h2.7v2.7h-2.7zM381.5 770h2.7v2.7h-2.7zM396.2 770h2.7v2.7h-2.7zM401.1 770h2.7v2.7h-2.7zM342.1 772.5h2.7v2.7h-2.7zM347 772.5h2.7v2.7h-2.7zM349.5 772.5h2.7v2.7h-2.7zM351.9 772.5h2.7v2.7h-2.7zM354.4 772.5h2.7v2.7h-2.7zM356.9 772.5h2.7v2.7h-2.7zM359.3 772.5h2.7v2.7h-2.7zM361.8 772.5h2.7v2.7h-2.7zM364.2 772.5h2.7v2.7h-2.7zM366.7 772.5h2.7v2.7h-2.7zM369.2 772.5h2.7v2.7h-2.7zM371.6 772.5h2.7v2.7h-2.7zM374.1 772.5h2.7v2.7h-2.7zM376.5 772.5h2.7v2.7h-2.7zM379 772.5h2.7v2.7h-2.7zM381.5 772.5h2.7v2.7h-2.7zM383.9 772.5h2.7v2.7h-2.7zM386.4 772.5h2.7v2.7h-2.7zM388.8 772.5h2.7v2.7h-2.7zM347 775h2.7v2.7h-2.7zM349.5 775h2.7v2.7h-2.7zM351.9 775h2.7v2.7h-2.7zM354.4 775h2.7v2.7h-2.7zM356.9 775h2.7v2.7h-2.7zM359.3 775h2.7v2.7h-2.7zM361.8 775h2.7v2.7h-2.7zM364.2 775h2.7v2.7h-2.7zM366.7 775h2.7v2.7h-2.7zM369.2 775h2.7v2.7h-2.7zM371.6 775h2.7v2.7h-2.7zM374.1 775h2.7v2.7h-2.7zM376.5 775h2.7v2.7h-2.7zM379 775h2.7v2.7h-2.7zM381.5 775h2.7v2.7h-2.7zM383.9 775h2.7v2.7h-2.7zM386.4 775h2.7v2.7h-2.7zM388.8 775h2.7v2.7h-2.7zM391.3 775h2.7v2.7h-2.7zM396.2 775h2.7v2.7h-2.7zM401.1 775h2.7v2.7h-2.7zM344.6 777.4h2.7v2.7h-2.7zM347 777.4h2.7v2.7h-2.7zM349.5 777.4h2.7v2.7h-2.7zM351.9 777.4h2.7v2.7h-2.7zM354.4 777.4h2.7v2.7h-2.7zM356.9 777.4h2.7v2.7h-2.7zM359.3 777.4h2.7v2.7h-2.7zM361.8 777.4h2.7v2.7h-2.7zM364.2 777.4h2.7v2.7h-2.7zM366.7 777.4h2.7v2.7h-2.7zM369.2 777.4h2.7v2.7h-2.7zM371.6 777.4h2.7v2.7h-2.7zM374.1 777.4h2.7v2.7h-2.7zM376.5 777.4h2.7v2.7h-2.7zM379 777.4h2.7v2.7h-2.7zM381.5 777.4h2.7v2.7h-2.7zM383.9 777.4h2.7v2.7h-2.7zM386.4 777.4h2.7v2.7h-2.7zM388.8 777.4h2.7v2.7h-2.7zM391.3 777.4h2.7v2.7h-2.7zM393.8 777.4h2.7v2.7h-2.7zM396.2 777.4h2.7v2.7h-2.7zM398.7 777.4h2.7v2.7h-2.7zM344.6 779.9h2.7v2.7h-2.7zM347 779.9h2.7v2.7h-2.7zM349.5 779.9h2.7v2.7h-2.7zM351.9 779.9h2.7v2.7h-2.7zM354.4 779.9h2.7v2.7h-2.7zM356.9 779.9h2.7v2.7h-2.7zM359.3 779.9h2.7v2.7h-2.7zM361.8 779.9h2.7v2.7h-2.7zM364.2 779.9h2.7v2.7h-2.7zM366.7 779.9h2.7v2.7h-2.7zM369.2 779.9h2.7v2.7h-2.7zM371.6 779.9h2.7v2.7h-2.7zM374.1 779.9h2.7v2.7h-2.7zM376.5 779.9h2.7v2.7h-2.7zM379 779.9h2.7v2.7h-2.7zM381.5 779.9h2.7v2.7h-2.7zM383.9 779.9h2.7v2.7h-2.7zM386.4 779.9h2.7v2.7h-2.7zM388.8 779.9h2.7v2.7h-2.7zM391.3 779.9h2.7v2.7h-2.7zM393.8 779.9h2.7v2.7h-2.7zM396.2 779.9h2.7v2.7h-2.7zM398.7 779.9h2.7v2.7h-2.7zM401.1 779.9h2.7v2.7h-2.7zM339.6 782.3h2.7v2.7h-2.7zM344.6 782.3h2.7v2.7h-2.7zM347 782.3h2.7v2.7h-2.7zM349.5 782.3h2.7v2.7h-2.7zM351.9 782.3h2.7v2.7h-2.7zM354.4 782.3h2.7v2.7h-2.7zM356.9 782.3h2.7v2.7h-2.7zM359.3 782.3h2.7v2.7h-2.7zM361.8 782.3h2.7v2.7h-2.7zM364.2 782.3h2.7v2.7h-2.7zM366.7 782.3h2.7v2.7h-2.7zM369.2 782.3h2.7v2.7h-2.7zM371.6 782.3h2.7v2.7h-2.7zM374.1 782.3h2.7v2.7h-2.7zM376.5 782.3h2.7v2.7h-2.7zM379 782.3h2.7v2.7h-2.7zM381.5 782.3h2.7v2.7h-2.7zM383.9 782.3h2.7v2.7h-2.7zM386.4 782.3h2.7v2.7h-2.7zM388.8 782.3h2.7v2.7h-2.7zM391.3 782.3h2.7v2.7h-2.7zM393.8 782.3h2.7v2.7h-2.7zM396.2 782.3h2.7v2.7h-2.7zM398.7 782.3h2.7v2.7h-2.7zM401.1 782.3h2.7v2.7h-2.7zM342.1 784.8h2.7v2.7h-2.7zM344.6 784.8h2.7v2.7h-2.7zM347 784.8h2.7v2.7h-2.7zM349.5 784.8h2.7v2.7h-2.7zM351.9 784.8h2.7v2.7h-2.7zM354.4 784.8h2.7v2.7h-2.7zM356.9 784.8h2.7v2.7h-2.7zM359.3 784.8h2.7v2.7h-2.7zM361.8 784.8h2.7v2.7h-2.7zM364.2 784.8h2.7v2.7h-2.7zM366.7 784.8h2.7v2.7h-2.7zM369.2 784.8h2.7v2.7h-2.7zM371.6 784.8h2.7v2.7h-2.7zM374.1 784.8h2.7v2.7h-2.7zM376.5 784.8h2.7v2.7h-2.7zM379 784.8h2.7v2.7h-2.7zM381.5 784.8h2.7v2.7h-2.7zM383.9 784.8h2.7v2.7h-2.7zM386.4 784.8h2.7v2.7h-2.7zM388.8 784.8h2.7v2.7h-2.7zM391.3 784.8h2.7v2.7h-2.7zM393.8 784.8h2.7v2.7h-2.7zM396.2 784.8h2.7v2.7h-2.7zM398.7 784.8h2.7v2.7h-2.7zM344.6 787.3h2.7v2.7h-2.7zM347 787.3h2.7v2.7h-2.7zM349.5 787.3h2.7v2.7h-2.7zM351.9 787.3h2.7v2.7h-2.7zM354.4 787.3h2.7v2.7h-2.7zM356.9 787.3h2.7v2.7h-2.7zM359.3 787.3h2.7v2.7h-2.7zM361.8 787.3h2.7v2.7h-2.7zM364.2 787.3h2.7v2.7h-2.7zM366.7 787.3h2.7v2.7h-2.7zM369.2 787.3h2.7v2.7h-2.7zM371.6 787.3h2.7v2.7h-2.7zM374.1 787.3h2.7v2.7h-2.7zM376.5 787.3h2.7v2.7h-2.7zM379 787.3h2.7v2.7h-2.7zM381.5 787.3h2.7v2.7h-2.7zM383.9 787.3h2.7v2.7h-2.7zM386.4 787.3h2.7v2.7h-2.7zM388.8 787.3h2.7v2.7h-2.7zM393.8 787.3h2.7v2.7h-2.7zM396.2 787.3h2.7v2.7h-2.7zM398.7 787.3h2.7v2.7h-2.7zM351.9 789.7h2.7v2.7h-2.7zM354.4 789.7h2.7v2.7h-2.7zM356.9 789.7h2.7v2.7h-2.7zM359.3 789.7h2.7v2.7h-2.7zM361.8 789.7h2.7v2.7h-2.7zM364.2 789.7h2.7v2.7h-2.7zM366.7 789.7h2.7v2.7h-2.7zM369.2 789.7h2.7v2.7h-2.7zM371.6 789.7h2.7v2.7h-2.7zM374.1 789.7h2.7v2.7h-2.7zM376.5 789.7h2.7v2.7h-2.7zM391.3 789.7h2.7v2.7h-2.7zM359.3 792.2h2.7v2.7h-2.7zM361.8 792.2h2.7v2.7h-2.7zM364.2 792.2h2.7v2.7h-2.7zM388.8 792.2h2.7v2.7h-2.7zM393.8 792.2h2.7v2.7h-2.7z"/>
<path fill="#6e1717" d="M351.2 576.1h2.9v2.9h-2.9zM359.1 570.4h2.9v2.9h-2.9zM357.8 555h2.9v2.9h-2.9zM355.1 595.7h2.9v2.9h-2.9zM353.7 587.8h2.9v2.9h-2.9zM347.4 570.2h2.9v2.9h-2.9zM357.8 553.2h2.9v2.9h-2.9zM349.3 563.3h2.9v2.9h-2.9zM358.3 594.4h2.9v2.9h-2.9zM362.9 564.1h2.9v2.9h-2.9zM364.5 591.8h2.9v2.9h-2.9zM356.7 565.4h2.9v2.9h-2.9zM356.7 595.7h2.9v2.9h-2.9zM359 582.7h2.9v2.9h-2.9zM358.5 580.5h2.9v2.9h-2.9zM357.7 586.1h2.9v2.9h-2.9zM355.7 558.7h2.9v2.9h-2.9zM352.8 587.3h2.9v2.9h-2.9zM365.9 587.9h2.9v2.9h-2.9zM360.2 603h2.9v2.9h-2.9zM353.5 596.1h2.9v2.9h-2.9zM362.5 575.7h2.9v2.9h-2.9zM359.3 595.3h2.9v2.9h-2.9zM357.5 601.7h2.9v2.9h-2.9zM367.8 557.8h2.9v2.9h-2.9zM355.1 556.1h2.9v2.9h-2.9zM360.7 582.7h2.9v2.9h-2.9zM362.5 618.3h2.9v2.9h-2.9zM361.8 551.3h2.9v2.9h-2.9zM355.9 595.5h2.9v2.9h-2.9zM360.1 581.8h2.9v2.9h-2.9zM355.2 575.3h2.9v2.9h-2.9zM365.7 590h2.9v2.9h-2.9zM353.4 569.7h2.9v2.9h-2.9zM356.8 578.4h2.9v2.9h-2.9zM357.1 589.1h2.9v2.9h-2.9zM358.5 607.9h2.9v2.9h-2.9zM357.7 573.7h2.9v2.9h-2.9zM357.6 581.2h2.9v2.9h-2.9zM356.3 556h2.9v2.9h-2.9zM354.7 613.7h2.9v2.9h-2.9zM356.3 604.2h2.9v2.9h-2.9zM359.6 606.8h2.9v2.9h-2.9zM356.7 572.5h2.9v2.9h-2.9zM356.2 572.2h2.9v2.9h-2.9zM356.2 611.9h2.9v2.9h-2.9zM367.6 576.3h2.9v2.9h-2.9zM359.1 583.1h2.9v2.9h-2.9zM359.5 590.5h2.9v2.9h-2.9zM360.3 605.7h2.9v2.9h-2.9zM361 568.2h2.9v2.9h-2.9zM360.7 567.7h2.9v2.9h-2.9zM362.6 587.8h2.9v2.9h-2.9zM361.3 576.7h2.9v2.9h-2.9zM351.5 574.1h2.9v2.9h-2.9zM359.3 566.1h2.9v2.9h-2.9zM358.7 604.5h2.9v2.9h-2.9zM355.6 594.2h2.9v2.9h-2.9zM358.7 576h2.9v2.9h-2.9zM357.9 590.2h2.9v2.9h-2.9zM355.9 578.7h2.9v2.9h-2.9zM354.3 551.6h2.9v2.9h-2.9zM364 567.6h2.9v2.9h-2.9zM361.6 581.7h2.9v2.9h-2.9zM362 581.8h2.9v2.9h-2.9zM363.8 617.5h2.9v2.9h-2.9zM358.1 590.6h2.9v2.9h-2.9zM357.4 582.6h2.9v2.9h-2.9zM359.9 595.7h2.9v2.9h-2.9zM362.8 594.4h2.9v2.9h-2.9zM360.1 560.3h2.9v2.9h-2.9zM357.6 566.8h2.9v2.9h-2.9zM355.7 585.6h2.9v2.9h-2.9zM358.3 574h2.9v2.9h-2.9zM359.6 563.2h2.9v2.9h-2.9zM351.2 574.3h2.9v2.9h-2.9zM356.5 592.1h2.9v2.9h-2.9zM358.6 581.2h2.9v2.9h-2.9zM357.3 599.9h2.9v2.9h-2.9zM353.3 589.3h2.9v2.9h-2.9zM357.1 586.2h2.9v2.9h-2.9zM360.7 609.1h2.9v2.9h-2.9zM361.6 584.5h2.9v2.9h-2.9zM356.1 574.2h2.9v2.9h-2.9zM363.7 586.5h2.9v2.9h-2.9zM349.8 549.5h2.9v2.9h-2.9zM354.9 555.2h2.9v2.9h-2.9zM355.8 596.3h2.9v2.9h-2.9zM355.2 563h2.9v2.9h-2.9zM351 590.6h2.9v2.9h-2.9zM358.4 563.7h2.9v2.9h-2.9zM360.4 588.7h2.9v2.9h-2.9zM361.6 590h2.9v2.9h-2.9zM358.7 596.8h2.9v2.9h-2.9zM357.5 550.2h2.9v2.9h-2.9zM355.7 587.9h2.9v2.9h-2.9zM364.2 565h2.9v2.9h-2.9zM361.7 539h2.9v2.9h-2.9zM358.9 611.2h2.9v2.9h-2.9zM358 583.5h2.9v2.9h-2.9zM360.2 602.7h2.9v2.9h-2.9zM360.7 576.8h2.9v2.9h-2.9zM359.5 615.7h2.9v2.9h-2.9zM358.2 576.8h2.9v2.9h-2.9zM356.9 604.9h2.9v2.9h-2.9zM361.1 568.3h2.9v2.9h-2.9zM354.4 585.3h2.9v2.9h-2.9zM359.3 547.1h2.9v2.9h-2.9zM356.7 623h2.9v2.9h-2.9zM356.9 591.3h2.9v2.9h-2.9zM358.9 580.3h2.9v2.9h-2.9zM354.2 561.3h2.9v2.9h-2.9zM360 584.8h2.9v2.9h-2.9zM356.5 590.5h2.9v2.9h-2.9zM355.1 548h2.9v2.9h-2.9zM353.1 585.6h2.9v2.9h-2.9zM359.7 588.6h2.9v2.9h-2.9zM350.4 582.3h2.9v2.9h-2.9zM358.3 589.4h2.9v2.9h-2.9zM356.6 583.3h2.9v2.9h-2.9zM364 572.9h2.9v2.9h-2.9zM357.4 617.9h2.9v2.9h-2.9zM355.3 590.2h2.9v2.9h-2.9zM363 569.5h2.9v2.9h-2.9zM368.5 567.4h2.9v2.9h-2.9zM362.8 603.8h2.9v2.9h-2.9zM358.9 609.4h2.9v2.9h-2.9zM359.9 593.6h2.9v2.9h-2.9zM356.2 584.1h2.9v2.9h-2.9zM358.5 555.9h2.9v2.9h-2.9zM359.4 574.1h2.9v2.9h-2.9zM358.2 590.8h2.9v2.9h-2.9zM360.3 593.6h2.9v2.9h-2.9zM366 588.5h2.9v2.9h-2.9zM349.6 584.1h2.9v2.9h-2.9zM357.7 595.3h2.9v2.9h-2.9zM360.4 575.9h2.9v2.9h-2.9zM353.6 597.3h2.9v2.9h-2.9zM354.6 574.4h2.9v2.9h-2.9zM358.2 562.2h2.9v2.9h-2.9zM357.3 586.5h2.9v2.9h-2.9zM360.5 576.3h2.9v2.9h-2.9zM353.9 564.4h2.9v2.9h-2.9zM359.9 558.2h2.9v2.9h-2.9zM357.1 572.5h2.9v2.9h-2.9zM350.8 585.7h2.9v2.9h-2.9zM354.5 607.3h2.9v2.9h-2.9zM353.7 573.3h2.9v2.9h-2.9zM354.7 562.4h2.9v2.9h-2.9zM357.7 583.5h2.9v2.9h-2.9zM361.8 591.5h2.9v2.9h-2.9zM363.7 597.6h2.9v2.9h-2.9zM353.6 600.3h2.9v2.9h-2.9zM353 567.6h2.9v2.9h-2.9zM352.9 568.9h2.9v2.9h-2.9zM355.7 569.6h2.9v2.9h-2.9zM357.7 561.4h2.9v2.9h-2.9zM354.4 580.2h2.9v2.9h-2.9zM362.1 579.6h2.9v2.9h-2.9zM360.7 583.5h2.9v2.9h-2.9zM361.7 585.7h2.9v2.9h-2.9zM357.9 610h2.9v2.9h-2.9zM357.3 568.4h2.9v2.9h-2.9zM356.6 589.1h2.9v2.9h-2.9zM352.5 575.5h2.9v2.9h-2.9zM350.7 607.2h2.9v2.9h-2.9zM363.7 585.7h2.9v2.9h-2.9zM365.4 557h2.9v2.9h-2.9zM355.2 580.4h2.9v2.9h-2.9zM354.8 581.1h2.9v2.9h-2.9zM361.2 587.1h2.9v2.9h-2.9zM360.4 578.4h2.9v2.9h-2.9zM357.5 571.5h2.9v2.9h-2.9zM352.5 573.6h2.9v2.9h-2.9zM362.5 579.2h2.9v2.9h-2.9zM357.6 580.4h2.9v2.9h-2.9zM355.6 597.5h2.9v2.9h-2.9zM359 551.6h2.9v2.9h-2.9zM355.2 566.2h2.9v2.9h-2.9zM362.9 569.9h2.9v2.9h-2.9zM350.4 597h2.9v2.9h-2.9zM352.2 580.7h2.9v2.9h-2.9zM363.9 595.9h2.9v2.9h-2.9zM355.3 556.7h2.9v2.9h-2.9zM359.5 573.7h2.9v2.9h-2.9zM361.2 597.5h2.9v2.9h-2.9zM358.9 599.9h2.9v2.9h-2.9zM356.9 575.3h2.9v2.9h-2.9zM362 600.4h2.9v2.9h-2.9zM358.2 603.4h2.9v2.9h-2.9zM358.6 575.9h2.9v2.9h-2.9zM357.5 572.1h2.9v2.9h-2.9zM360.6 564h2.9v2.9h-2.9zM353.9 575.4h2.9v2.9h-2.9zM361.3 562.3h2.9v2.9h-2.9zM358 611.6h2.9v2.9h-2.9zM359.9 562.3h2.9v2.9h-2.9zM358.3 570.8h2.9v2.9h-2.9zM362.1 584.4h2.9v2.9h-2.9zM352.7 603.6h2.9v2.9h-2.9zM359.6 552.3h2.9v2.9h-2.9zM366.8 584h2.9v2.9h-2.9zM355.5 582.4h2.9v2.9h-2.9zM357.2 583.8h2.9v2.9h-2.9zM362.1 556.9h2.9v2.9h-2.9zM362.7 591.1h2.9v2.9h-2.9zM352.7 579.9h2.9v2.9h-2.9zM351.9 613.4h2.9v2.9h-2.9zM359.4 575.3h2.9v2.9h-2.9zM354.5 573.1h2.9v2.9h-2.9zM354.4 613.3h2.9v2.9h-2.9zM354.1 582.5h2.9v2.9h-2.9zM355.5 595.9h2.9v2.9h-2.9zM359.4 600.3h2.9v2.9h-2.9zM363.2 577h2.9v2.9h-2.9zM362.1 587.3h2.9v2.9h-2.9zM358.9 576.4h2.9v2.9h-2.9zM358.7 576h2.9v2.9h-2.9zM357.2 578h2.9v2.9h-2.9zM360.8 569.5h2.9v2.9h-2.9zM361.8 570.5h2.9v2.9h-2.9zM369.2 565.7h2.9v2.9h-2.9zM365.3 552.6h2.9v2.9h-2.9zM351.1 562.5h2.9v2.9h-2.9zM359 566.2h2.9v2.9h-2.9zM356.9 582.1h2.9v2.9h-2.9zM354.1 579.7h2.9v2.9h-2.9zM348.3 563.8h2.9v2.9h-2.9zM353.4 601.2h2.9v2.9h-2.9zM351.7 595.5h2.9v2.9h-2.9zM360 571.8h2.9v2.9h-2.9zM358 543.5h2.9v2.9h-2.9zM357.7 568.8h2.9v2.9h-2.9zM353.6 585.1h2.9v2.9h-2.9zM362.8 587h2.9v2.9h-2.9zM357.9 602.7h2.9v2.9h-2.9zM363.1 586.7h2.9v2.9h-2.9zM367.5 581.8h2.9v2.9h-2.9zM360.2 620.1h2.9v2.9h-2.9zM362.1 586.1h2.9v2.9h-2.9zM359.3 573.8h2.9v2.9h-2.9zM363.7 569.2h2.9v2.9h-2.9zM356 593.5h2.9v2.9h-2.9zM365.4 591.3h2.9v2.9h-2.9zM356 593.5h2.9v2.9h-2.9zM359 592.3h2.9v2.9h-2.9zM353.7 571.2h2.9v2.9h-2.9zM354.3 585.4h2.9v2.9h-2.9zM357.8 587.3h2.9v2.9h-2.9zM354.8 582.8h2.9v2.9h-2.9zM354.7 587.5h2.9v2.9h-2.9zM361.4 587.9h2.9v2.9h-2.9zM355.9 569.5h2.9v2.9h-2.9zM363.2 582.6h2.9v2.9h-2.9zM354.8 603.1h2.9v2.9h-2.9zM360.9 557.7h2.9v2.9h-2.9zM362.8 590h2.9v2.9h-2.9zM365.5 579h2.9v2.9h-2.9zM356.3 601.8h2.9v2.9h-2.9zM351.7 577.5h2.9v2.9h-2.9zM356.8 561.4h2.9v2.9h-2.9zM364.8 582.1h2.9v2.9h-2.9zM359 582.7h2.9v2.9h-2.9zM358 584.4h2.9v2.9h-2.9zM362 573.4h2.9v2.9h-2.9zM362.1 584.9h2.9v2.9h-2.9zM359.6 596.4h2.9v2.9h-2.9zM363 610.2h2.9v2.9h-2.9zM358.3 583.5h2.9v2.9h-2.9zM359.7 596.4h2.9v2.9h-2.9zM354 558.4h2.9v2.9h-2.9zM353.6 597.2h2.9v2.9h-2.9zM354.5 571.8h2.9v2.9h-2.9zM351.4 550.6h2.9v2.9h-2.9zM361.2 587.8h2.9v2.9h-2.9zM363.8 593.7h2.9v2.9h-2.9zM357.6 569.6h2.9v2.9h-2.9zM359.7 613.5h2.9v2.9h-2.9zM352.2 591h2.9v2.9h-2.9zM365.5 618h2.9v2.9h-2.9zM359.2 567.6h2.9v2.9h-2.9zM359.3 577.7h2.9v2.9h-2.9zM362.1 602.4h2.9v2.9h-2.9zM359.8 570.4h2.9v2.9h-2.9zM360.3 589.4h2.9v2.9h-2.9zM365 587.1h2.9v2.9h-2.9zM356.7 574.7h2.9v2.9h-2.9zM357.4 550.7h2.9v2.9h-2.9zM354.6 593.1h2.9v2.9h-2.9zM366.8 592.9h2.9v2.9h-2.9zM363.4 593.2h2.9v2.9h-2.9zM360.2 580.6h2.9v2.9h-2.9zM360.9 577.5h2.9v2.9h-2.9zM363.2 564.2h2.9v2.9h-2.9zM358.4 553h2.9v2.9h-2.9zM349.5 583.8h2.9v2.9h-2.9zM363.6 577.9h2.9v2.9h-2.9zM354.3 580.4h2.9v2.9h-2.9zM354.5 561.5h2.9v2.9h-2.9zM360.4 589.1h2.9v2.9h-2.9zM351.2 601.9h2.9v2.9h-2.9zM354.8 582.7h2.9v2.9h-2.9zM357.5 587.8h2.9v2.9h-2.9zM351.3 584.9h2.9v2.9h-2.9zM366 579.4h2.9v2.9h-2.9zM358.8 577.4h2.9v2.9h-2.9zM356.2 595.3h2.9v2.9h-2.9zM355.9 545.2h2.9v2.9h-2.9zM352.6 587h2.9v2.9h-2.9zM361.3 568.4h2.9v2.9h-2.9zM353.6 578h2.9v2.9h-2.9zM361.8 591.3h2.9v2.9h-2.9zM359.2 586.4h2.9v2.9h-2.9zM355.9 559.5h2.9v2.9h-2.9zM362.9 571.8h2.9v2.9h-2.9zM356.2 584.2h2.9v2.9h-2.9zM351.7 559.4h2.9v2.9h-2.9zM352.1 569.3h2.9v2.9h-2.9zM358.2 561.4h2.9v2.9h-2.9zM355.4 584.7h2.9v2.9h-2.9zM353.9 591.6h2.9v2.9h-2.9zM360 578.1h2.9v2.9h-2.9zM366.4 572.3h2.9v2.9h-2.9zM359 588.8h2.9v2.9h-2.9zM365.9 586.3h2.9v2.9h-2.9zM356.2 614.4h2.9v2.9h-2.9zM354.6 569.4h2.9v2.9h-2.9zM356.5 564.3h2.9v2.9h-2.9zM361 590h2.9v2.9h-2.9zM354.7 588.7h2.9v2.9h-2.9zM354.2 589.2h2.9v2.9h-2.9zM363.9 591.2h2.9v2.9h-2.9zM361.2 596.6h2.9v2.9h-2.9zM366.1 567.8h2.9v2.9h-2.9zM363.1 633.9h2.9v2.9h-2.9zM355.7 582.6h2.9v2.9h-2.9zM356.9 575.1h2.9v2.9h-2.9zM358.9 610.6h2.9v2.9h-2.9zM362.9 574.4h2.9v2.9h-2.9zM360.2 598.1h2.9v2.9h-2.9zM349.1 592h2.9v2.9h-2.9zM354 578.2h2.9v2.9h-2.9zM365 580h2.9v2.9h-2.9zM352.2 601.3h2.9v2.9h-2.9zM354.8 609.7h2.9v2.9h-2.9zM361 594.8h2.9v2.9h-2.9zM364.9 582h2.9v2.9h-2.9zM350.1 571.9h2.9v2.9h-2.9zM357.6 569.7h2.9v2.9h-2.9zM358.5 620.7h2.9v2.9h-2.9zM351.8 605.4h2.9v2.9h-2.9zM355.3 585h2.9v2.9h-2.9zM358 588.3h2.9v2.9h-2.9zM361.7 585.3h2.9v2.9h-2.9zM358.5 568.9h2.9v2.9h-2.9zM354.1 588.1h2.9v2.9h-2.9zM361.2 591.9h2.9v2.9h-2.9zM360.6 555.7h2.9v2.9h-2.9zM356.6 582.4h2.9v2.9h-2.9zM354.6 594.5h2.9v2.9h-2.9zM358.1 583.9h2.9v2.9h-2.9zM352.5 567.2h2.9v2.9h-2.9zM345.9 590.3h2.9v2.9h-2.9zM357.3 572.2h2.9v2.9h-2.9zM356.1 580.2h2.9v2.9h-2.9zM364.4 559.8h2.9v2.9h-2.9zM360.9 566h2.9v2.9h-2.9zM357 594h2.9v2.9h-2.9zM357.6 572.9h2.9v2.9h-2.9zM352.2 553.7h2.9v2.9h-2.9zM360.4 568.5h2.9v2.9h-2.9zM353 591.1h2.9v2.9h-2.9zM358.2 588.8h2.9v2.9h-2.9zM353.9 551.4h2.9v2.9h-2.9zM360.4 605.8h2.9v2.9h-2.9zM357 595.8h2.9v2.9h-2.9zM354.3 581.8h2.9v2.9h-2.9zM356.2 584.9h2.9v2.9h-2.9zM363 589.4h2.9v2.9h-2.9zM360 574.4h2.9v2.9h-2.9zM356.6 584.2h2.9v2.9h-2.9zM356 603.3h2.9v2.9h-2.9zM353.6 590.3h2.9v2.9h-2.9zM358.5 552.8h2.9v2.9h-2.9zM361 619.3h2.9v2.9h-2.9zM364.1 569.5h2.9v2.9h-2.9zM358.3 577.5h2.9v2.9h-2.9zM360.1 578h2.9v2.9h-2.9zM355.9 581.7h2.9v2.9h-2.9zM362.8 566.8h2.9v2.9h-2.9zM357.6 583.3h2.9v2.9h-2.9zM360.2 581.9h2.9v2.9h-2.9zM359.2 589h2.9v2.9h-2.9zM364.3 566.9h2.9v2.9h-2.9zM359.5 607.8h2.9v2.9h-2.9zM367.7 595.4h2.9v2.9h-2.9zM358.5 549.2h2.9v2.9h-2.9zM358.1 588.4h2.9v2.9h-2.9zM354 557.4h2.9v2.9h-2.9zM359.8 581.9h2.9v2.9h-2.9zM357.5 602.3h2.9v2.9h-2.9zM354.9 568.3h2.9v2.9h-2.9zM362 582.3h2.9v2.9h-2.9zM360.3 558.2h2.9v2.9h-2.9zM364.1 572.4h2.9v2.9h-2.9zM353.7 583.9h2.9v2.9h-2.9zM357.1 552.9h2.9v2.9h-2.9zM356.5 592.5h2.9v2.9h-2.9zM356.4 591.5h2.9v2.9h-2.9zM352.1 583.1h2.9v2.9h-2.9zM358.1 560.3h2.9v2.9h-2.9zM359.7 602.4h2.9v2.9h-2.9zM358.5 567h2.9v2.9h-2.9zM358.9 591.2h2.9v2.9h-2.9zM352.3 611.1h2.9v2.9h-2.9zM360.3 586.5h2.9v2.9h-2.9zM359.2 561.2h2.9v2.9h-2.9zM361.7 592.6h2.9v2.9h-2.9zM352.5 571.8h2.9v2.9h-2.9zM364.5 568.7h2.9v2.9h-2.9zM361.2 590.1h2.9v2.9h-2.9zM366 565h2.9v2.9h-2.9zM358.1 573.6h2.9v2.9h-2.9zM357.8 583h2.9v2.9h-2.9zM356.6 589.9h2.9v2.9h-2.9zM359 585h2.9v2.9h-2.9zM356.4 593.8h2.9v2.9h-2.9zM362 622.2h2.9v2.9h-2.9zM358.6 603.2h2.9v2.9h-2.9zM359.3 573.1h2.9v2.9h-2.9zM355.6 593.3h2.9v2.9h-2.9zM361.2 585.7h2.9v2.9h-2.9zM356.5 605.5h2.9v2.9h-2.9zM365.8 602.2h2.9v2.9h-2.9zM353.6 572.9h2.9v2.9h-2.9zM353.6 594.4h2.9v2.9h-2.9zM356 587.5h2.9v2.9h-2.9zM356.7 593.7h2.9v2.9h-2.9zM353.1 575.5h2.9v2.9h-2.9zM363.4 614.6h2.9v2.9h-2.9zM351.9 568.4h2.9v2.9h-2.9zM350.3 580h2.9v2.9h-2.9zM357.1 599.8h2.9v2.9h-2.9zM353.8 585.9h2.9v2.9h-2.9zM357 551.3h2.9v2.9h-2.9zM350.7 575.7h2.9v2.9h-2.9zM357.7 582.1h2.9v2.9h-2.9zM360.1 610.7h2.9v2.9h-2.9zM364.3 574.6h2.9v2.9h-2.9zM360.3 558.8h2.9v2.9h-2.9zM352.4 581.4h2.9v2.9h-2.9zM356.1 585h2.9v2.9h-2.9zM360.6 582.7h2.9v2.9h-2.9zM363.7 595.5h2.9v2.9h-2.9zM364 584.8h2.9v2.9h-2.9zM359.4 594.8h2.9v2.9h-2.9zM362.8 559.1h2.9v2.9h-2.9zM357.2 576.9h2.9v2.9h-2.9zM360.8 584.7h2.9v2.9h-2.9zM362.4 581.6h2.9v2.9h-2.9zM356.9 612.4h2.9v2.9h-2.9zM355.7 570.6h2.9v2.9h-2.9zM362.1 588h2.9v2.9h-2.9zM356.8 590.1h2.9v2.9h-2.9zM355 614.3h2.9v2.9h-2.9zM355.9 559.6h2.9v2.9h-2.9zM361.8 543.1h2.9v2.9h-2.9zM354.9 571.1h2.9v2.9h-2.9zM357.8 599.9h2.9v2.9h-2.9zM360.7 604.5h2.9v2.9h-2.9zM355.2 567.4h2.9v2.9h-2.9zM353.8 564.3h2.9v2.9h-2.9zM354.3 589.4h2.9v2.9h-2.9zM351.3 613.7h2.9v2.9h-2.9zM359.9 563.5h2.9v2.9h-2.9zM361.4 583.9h2.9v2.9h-2.9zM361.5 580.1h2.9v2.9h-2.9zM355.7 588.1h2.9v2.9h-2.9zM355.7 545.3h2.9v2.9h-2.9zM357.8 586.7h2.9v2.9h-2.9zM349.3 587.7h2.9v2.9h-2.9zM355.1 587.1h2.9v2.9h-2.9zM360.8 576.9h2.9v2.9h-2.9zM354.8 554.9h2.9v2.9h-2.9zM350.4 590.5h2.9v2.9h-2.9zM361 566.2h2.9v2.9h-2.9zM368.2 595.5h2.9v2.9h-2.9zM356.8 597.6h2.9v2.9h-2.9zM358.7 571.2h2.9v2.9h-2.9zM360.9 563.8h2.9v2.9h-2.9zM360.3 578.8h2.9v2.9h-2.9zM362.6 605.8h2.9v2.9h-2.9zM360.2 558.6h2.9v2.9h-2.9zM354 593.9h2.9v2.9h-2.9zM359.9 578.6h2.9v2.9h-2.9zM364.6 584.4h2.9v2.9h-2.9zM361.9 570.5h2.9v2.9h-2.9zM360.6 545.4h2.9v2.9h-2.9zM361.8 575.1h2.9v2.9h-2.9zM357.4 585.7h2.9v2.9h-2.9zM352.2 570.3h2.9v2.9h-2.9zM358.1 593.7h2.9v2.9h-2.9zM359.7 586h2.9v2.9h-2.9zM356.6 579.1h2.9v2.9h-2.9zM360.8 583.9h2.9v2.9h-2.9zM367.2 591.4h2.9v2.9h-2.9zM353.6 590h2.9v2.9h-2.9zM356.6 604h2.9v2.9h-2.9zM359.4 599.2h2.9v2.9h-2.9zM350.3 628h2.9v2.9h-2.9zM357.6 565h2.9v2.9h-2.9zM355.2 579.4h2.9v2.9h-2.9zM361.8 569.3h2.9v2.9h-2.9zM359.6 595.2h2.9v2.9h-2.9zM353.2 594.1h2.9v2.9h-2.9zM362.2 603.1h2.9v2.9h-2.9zM358.4 598.4h2.9v2.9h-2.9zM348.3 597.4h2.9v2.9h-2.9zM354.9 588.4h2.9v2.9h-2.9zM347.7 681.8h2.9v2.9h-2.9zM354.9 671.1h2.9v2.9h-2.9zM354.4 653.1h2.9v2.9h-2.9zM354 623.4h2.9v2.9h-2.9zM355.7 621.1h2.9v2.9h-2.9zM352.6 634.7h2.9v2.9h-2.9zM349.4 653.2h2.9v2.9h-2.9zM357 689.8h2.9v2.9h-2.9zM354.7 651h2.9v2.9h-2.9zM355.1 643.5h2.9v2.9h-2.9zM352.9 659.2h2.9v2.9h-2.9zM352.5 651.4h2.9v2.9h-2.9zM356.6 667.6h2.9v2.9h-2.9zM361.2 625h2.9v2.9h-2.9zM356.5 640h2.9v2.9h-2.9zM351.3 673.5h2.9v2.9h-2.9zM357.7 688.5h2.9v2.9h-2.9zM356.7 626.8h2.9v2.9h-2.9zM353.1 628.2h2.9v2.9h-2.9zM360.5 679.2h2.9v2.9h-2.9zM354.3 626.5h2.9v2.9h-2.9zM351.5 680.9h2.9v2.9h-2.9zM370.8 672.4h2.9v2.9h-2.9zM358.2 646.3h2.9v2.9h-2.9zM358.2 673.7h2.9v2.9h-2.9zM345.4 679.1h2.9v2.9h-2.9zM367.3 651.5h2.9v2.9h-2.9zM364.5 690.7h2.9v2.9h-2.9zM374.5 551.9h2.9v2.9h-2.9zM387.6 627.7h2.9v2.9h-2.9zM385.6 569.2h2.9v2.9h-2.9zM367.8 584.4h2.9v2.9h-2.9zM381.1 600.7h2.9v2.9h-2.9zM391.5 617.5h2.9v2.9h-2.9zM380.2 603.2h2.9v2.9h-2.9zM376.6 556.2h2.9v2.9h-2.9zM364.2 591h2.9v2.9h-2.9zM372.7 604.8h2.9v2.9h-2.9zM395.5 588.7h2.9v2.9h-2.9zM394.1 585.6h2.9v2.9h-2.9zM371.4 568.7h2.9v2.9h-2.9zM382.7 583.4h2.9v2.9h-2.9zM369.5 635.1h2.9v2.9h-2.9zM384.3 594h2.9v2.9h-2.9zM370.5 568.8h2.9v2.9h-2.9zM396.8 596.6h2.9v2.9h-2.9zM394.9 562.5h2.9v2.9h-2.9zM374 599.8h2.9v2.9h-2.9zM391.5 594.5h2.9v2.9h-2.9zM367.8 592.9h2.9v2.9h-2.9zM391.5 566.1h2.9v2.9h-2.9zM377 567.6h2.9v2.9h-2.9zM400.7 630.4h2.9v2.9h-2.9zM378.6 589.2h2.9v2.9h-2.9zM369 608.7h2.9v2.9h-2.9zM367.6 568.2h2.9v2.9h-2.9zM388.3 575.6h2.9v2.9h-2.9zM398.4 593.9h2.9v2.9h-2.9zM380.9 612.9h2.9v2.9h-2.9zM366.5 559.3h2.9v2.9h-2.9zM382.3 587.7h2.9v2.9h-2.9zM364.7 565.9h2.9v2.9h-2.9zM391.9 559.2h2.9v2.9h-2.9zM394.8 572h2.9v2.9h-2.9zM364.4 664.7h2.9v2.9h-2.9zM372.2 592.7h2.9v2.9h-2.9zM359.7 644.7h2.9v2.9h-2.9zM366.5 579h2.9v2.9h-2.9zM387.8 628.1h2.9v2.9h-2.9zM368.2 597.2h2.9v2.9h-2.9zM364.3 567.9h2.9v2.9h-2.9zM397.3 580.6h2.9v2.9h-2.9zM373.6 588.7h2.9v2.9h-2.9zM399.9 615.7h2.9v2.9h-2.9zM373.5 588.9h2.9v2.9h-2.9zM374.3 589.7h2.9v2.9h-2.9zM387.2 641.6h2.9v2.9h-2.9zM395.1 548.4h2.9v2.9h-2.9zM381.4 626.2h2.9v2.9h-2.9zM368 581.7h2.9v2.9h-2.9zM374.7 597.4h2.9v2.9h-2.9zM373.3 563.4h2.9v2.9h-2.9zM391.6 586.6h2.9v2.9h-2.9zM368.2 608.9h2.9v2.9h-2.9zM379.1 559.6h2.9v2.9h-2.9zM375.7 628.4h2.9v2.9h-2.9zM398.6 565.4h2.9v2.9h-2.9zM383.6 592h2.9v2.9h-2.9zM363.4 623.2h2.9v2.9h-2.9zM378.8 659h2.9v2.9h-2.9zM369.2 595.3h2.9v2.9h-2.9zM390.7 615.7h2.9v2.9h-2.9zM400.1 586.3h2.9v2.9h-2.9zM391.2 577.3h2.9v2.9h-2.9zM373.8 572.2h2.9v2.9h-2.9zM389.7 617.9h2.9v2.9h-2.9zM365 569.1h2.9v2.9h-2.9zM372.1 565.4h2.9v2.9h-2.9zM383 598.2h2.9v2.9h-2.9zM368.3 584h2.9v2.9h-2.9zM388.8 568.2h2.9v2.9h-2.9zM401.4 609.8h2.9v2.9h-2.9zM397.7 675.4h2.9v2.9h-2.9zM364.5 689.6h2.9v2.9h-2.9zM391 677.7h2.9v2.9h-2.9zM375.7 682.4h2.9v2.9h-2.9zM366.7 670.5h2.9v2.9h-2.9zM382 683.4h2.9v2.9h-2.9zM374.7 678h2.9v2.9h-2.9zM366.1 675.9h2.9v2.9h-2.9zM366.9 682.4h2.9v2.9h-2.9zM384.5 667.9h2.9v2.9h-2.9zM393.8 671.9h2.9v2.9h-2.9zM352.3 681.9h2.9v2.9h-2.9zM369.2 684h2.9v2.9h-2.9zM366 680.3h2.9v2.9h-2.9zM397.6 678.3h2.9v2.9h-2.9zM379 671h2.9v2.9h-2.9zM397.8 673.6h2.9v2.9h-2.9zM395.6 682.9h2.9v2.9h-2.9zM377.4 670.2h2.9v2.9h-2.9zM388.4 688.4h2.9v2.9h-2.9zM391 685.4h2.9v2.9h-2.9zM389.2 670.8h2.9v2.9h-2.9zM361.1 688.3h2.9v2.9h-2.9zM352.6 681.5h2.9v2.9h-2.9zM391.3 668h2.9v2.9h-2.9zM387.5 674.4h2.9v2.9h-2.9zM386.5 680.3h2.9v2.9h-2.9zM387 685.1h2.9v2.9h-2.9zM356.1 680.6h2.9v2.9h-2.9zM390.9 689.9h2.9v2.9h-2.9zM383.5 671.2h2.9v2.9h-2.9zM380.6 669.1h2.9v2.9h-2.9zM379.9 678.1h2.9v2.9h-2.9zM389.5 678.3h2.9v2.9h-2.9zM395.8 685.4h2.9v2.9h-2.9zM398.4 673h2.9v2.9h-2.9zM391.7 679.9h2.9v2.9h-2.9zM367.8 680.7h2.9v2.9h-2.9zM353.7 672.9h2.9v2.9h-2.9zM358.3 673.4h2.9v2.9h-2.9z"/>
<path fill="#69b42d" d="M561.1 783.7h2.9v2.9h-2.9zM575 780.1h2.9v2.9h-2.9zM567.2 780.3h2.9v2.9h-2.9zM532.2 778.8h2.9v2.9h-2.9zM517.7 787.1h2.9v2.9h-2.9zM477.4 785.8h2.9v2.9h-2.9zM428.6 779.5h2.9v2.9h-2.9zM572.7 788.4h2.9v2.9h-2.9zM442.7 789.4h2.9v2.9h-2.9zM406.1 776h2.9v2.9h-2.9zM474.4 784.3h2.9v2.9h-2.9zM526.1 781.4h2.9v2.9h-2.9zM512.2 777h2.9v2.9h-2.9zM544.2 789.8h2.9v2.9h-2.9zM567.2 782.3h2.9v2.9h-2.9zM595.9 785.6h2.9v2.9h-2.9zM443.4 787.5h2.9v2.9h-2.9zM579.4 786.5h2.9v2.9h-2.9zM420.7 784.3h2.9v2.9h-2.9zM410.2 780.3h2.9v2.9h-2.9zM535.4 781.7h2.9v2.9h-2.9zM528.2 790.8h2.9v2.9h-2.9zM559.6 780.5h2.9v2.9h-2.9zM556.9 776.3h2.9v2.9h-2.9zM555.6 782.1h2.9v2.9h-2.9zM425.5 783.1h2.9v2.9h-2.9zM413.2 782.8h2.9v2.9h-2.9zM463 781.3h2.9v2.9h-2.9zM432.3 785.3h2.9v2.9h-2.9zM466.7 779.4h2.9v2.9h-2.9zM549.9 786h2.9v2.9h-2.9zM557.2 778.8h2.9v2.9h-2.9zM425.2 784.4h2.9v2.9h-2.9zM430.9 782h2.9v2.9h-2.9zM567.9 784.3h2.9v2.9h-2.9zM501.5 784.7h2.9v2.9h-2.9zM443.8 785.3h2.9v2.9h-2.9zM547.9 782.4h2.9v2.9h-2.9zM443.8 782.1h2.9v2.9h-2.9zM427.4 783.9h2.9v2.9h-2.9zM584.1 784.4h2.9v2.9h-2.9zM524.9 771.3h2.9v2.9h-2.9zM527.4 782.6h2.9v2.9h-2.9zM417.7 781.1h2.9v2.9h-2.9zM593.1 778.1h2.9v2.9h-2.9zM471.1 785.8h2.9v2.9h-2.9zM504.3 780.5h2.9v2.9h-2.9zM554.3 784.2h2.9v2.9h-2.9zM593.1 783.5h2.9v2.9h-2.9zM507 785.5h2.9v2.9h-2.9zM434.4 785.7h2.9v2.9h-2.9zM493.4 782.7h2.9v2.9h-2.9zM547.1 777.7h2.9v2.9h-2.9zM469.7 781h2.9v2.9h-2.9zM542 777h2.9v2.9h-2.9zM574.1 778.8h2.9v2.9h-2.9zM488.2 787.3h2.9v2.9h-2.9zM447.4 784h2.9v2.9h-2.9zM523.3 776.4h2.9v2.9h-2.9zM492.5 783.2h2.9v2.9h-2.9zM460.2 778.9h2.9v2.9h-2.9zM410.4 774.3h2.9v2.9h-2.9zM596.7 780.5h2.9v2.9h-2.9zM499.7 787.8h2.9v2.9h-2.9zM418.5 788.9h2.9v2.9h-2.9zM429.8 786.2h2.9v2.9h-2.9zM462.5 775.5h2.9v2.9h-2.9zM592.4 779.9h2.9v2.9h-2.9zM540.3 784.4h2.9v2.9h-2.9zM435.7 780.2h2.9v2.9h-2.9zM545.9 781.9h2.9v2.9h-2.9zM579 783.2h2.9v2.9h-2.9zM471 789.5h2.9v2.9h-2.9zM591.2 779.6h2.9v2.9h-2.9zM465.4 784.2h2.9v2.9h-2.9zM504.5 781.4h2.9v2.9h-2.9zM445.2 784.7h2.9v2.9h-2.9zM434.5 784.6h2.9v2.9h-2.9zM509.5 781.2h2.9v2.9h-2.9zM540.3 781h2.9v2.9h-2.9zM533 790.7h2.9v2.9h-2.9zM437.3 786h2.9v2.9h-2.9zM533.1 778.5h2.9v2.9h-2.9zM439.1 779.6h2.9v2.9h-2.9zM501.5 785.1h2.9v2.9h-2.9zM415.8 782.5h2.9v2.9h-2.9zM543.4 780.1h2.9v2.9h-2.9zM517.9 780.6h2.9v2.9h-2.9zM570 777.4h2.9v2.9h-2.9zM593.2 786.6h2.9v2.9h-2.9zM419 781.6h2.9v2.9h-2.9zM490.7 787.9h2.9v2.9h-2.9zM436.7 778.7h2.9v2.9h-2.9zM499 778.5h2.9v2.9h-2.9zM439.3 777.5h2.9v2.9h-2.9zM581.1 778.3h2.9v2.9h-2.9zM494.2 776.1h2.9v2.9h-2.9zM565.9 781.5h2.9v2.9h-2.9zM554.2 788.3h2.9v2.9h-2.9zM439.7 780.6h2.9v2.9h-2.9zM549.6 778.5h2.9v2.9h-2.9zM591.7 778.2h2.9v2.9h-2.9zM441.9 780.2h2.9v2.9h-2.9zM535.1 782.5h2.9v2.9h-2.9zM540.8 784.3h2.9v2.9h-2.9zM499.6 779.3h2.9v2.9h-2.9zM573.9 784.9h2.9v2.9h-2.9zM591.5 778.4h2.9v2.9h-2.9zM561.9 784.4h2.9v2.9h-2.9zM573.7 778.5h2.9v2.9h-2.9zM555.5 782.5h2.9v2.9h-2.9zM534.8 779.7h2.9v2.9h-2.9zM455.4 778.5h2.9v2.9h-2.9zM472.6 785.5h2.9v2.9h-2.9zM524.4 784.4h2.9v2.9h-2.9zM513.7 786.7h2.9v2.9h-2.9zM416.9 788h2.9v2.9h-2.9zM457.1 777.8h2.9v2.9h-2.9zM503.5 783h2.9v2.9h-2.9zM423.6 771.3h2.9v2.9h-2.9zM492.6 779h2.9v2.9h-2.9zM571.9 787.9h2.9v2.9h-2.9zM463.3 781.1h2.9v2.9h-2.9zM473.4 785.4h2.9v2.9h-2.9zM464.9 778.8h2.9v2.9h-2.9zM538 776.9h2.9v2.9h-2.9zM438.3 783.4h2.9v2.9h-2.9zM421.2 784.6h2.9v2.9h-2.9zM417 783.5h2.9v2.9h-2.9zM478.5 780.7h2.9v2.9h-2.9zM453.5 785.9h2.9v2.9h-2.9zM499.1 785.2h2.9v2.9h-2.9zM480.2 783.3h2.9v2.9h-2.9zM480.2 782h2.9v2.9h-2.9zM461.4 777.7h2.9v2.9h-2.9zM598.3 780.1h2.9v2.9h-2.9zM533.3 786.5h2.9v2.9h-2.9zM520.5 779.5h2.9v2.9h-2.9zM411.4 784.4h2.9v2.9h-2.9zM449.9 778.5h2.9v2.9h-2.9zM586.9 787h2.9v2.9h-2.9zM598.2 781.8h2.9v2.9h-2.9zM496 784.1h2.9v2.9h-2.9zM490.1 779.7h2.9v2.9h-2.9zM569.6 778.5h2.9v2.9h-2.9zM564.3 781.9h2.9v2.9h-2.9zM518.2 778h2.9v2.9h-2.9zM442.8 789.1h2.9v2.9h-2.9zM437.1 781.2h2.9v2.9h-2.9zM415.1 786.5h2.9v2.9h-2.9zM414.4 779.8h2.9v2.9h-2.9zM579.4 778.6h2.9v2.9h-2.9zM466.3 784.6h2.9v2.9h-2.9zM448.8 786.9h2.9v2.9h-2.9zM559.3 779.7h2.9v2.9h-2.9zM539.3 778.1h2.9v2.9h-2.9zM508.4 781.9h2.9v2.9h-2.9zM522.9 781.6h2.9v2.9h-2.9zM405.2 790.1h2.9v2.9h-2.9zM440 781.2h2.9v2.9h-2.9zM488.9 781.5h2.9v2.9h-2.9zM445 790.8h2.9v2.9h-2.9zM578.3 783.2h2.9v2.9h-2.9zM550.3 778.4h2.9v2.9h-2.9zM551.2 785h2.9v2.9h-2.9zM429.1 783.8h2.9v2.9h-2.9zM431.9 779.8h2.9v2.9h-2.9zM548.6 784.6h2.9v2.9h-2.9zM452 777h2.9v2.9h-2.9zM581.2 777.9h2.9v2.9h-2.9zM494.9 779.7h2.9v2.9h-2.9zM446.1 789.6h2.9v2.9h-2.9zM462 785h2.9v2.9h-2.9zM542.7 786.1h2.9v2.9h-2.9zM442 787.8h2.9v2.9h-2.9zM533 783.8h2.9v2.9h-2.9zM566.6 788.5h2.9v2.9h-2.9zM570.5 784.9h2.9v2.9h-2.9zM573.5 781.3h2.9v2.9h-2.9zM516.2 785.3h2.9v2.9h-2.9zM461.3 783h2.9v2.9h-2.9zM403.8 780.9h2.9v2.9h-2.9zM467.2 777.9h2.9v2.9h-2.9zM458.7 778.7h2.9v2.9h-2.9zM508.8 781.9h2.9v2.9h-2.9zM542.8 786.8h2.9v2.9h-2.9zM463.8 777.5h2.9v2.9h-2.9zM444.9 777.8h2.9v2.9h-2.9zM426.2 784.1h2.9v2.9h-2.9zM427.2 785.4h2.9v2.9h-2.9zM513.1 783.9h2.9v2.9h-2.9zM465.8 779.2h2.9v2.9h-2.9zM595.9 777.3h2.9v2.9h-2.9zM507.7 781.2h2.9v2.9h-2.9zM518.4 781h2.9v2.9h-2.9zM560.2 775.7h2.9v2.9h-2.9zM488.2 788.5h2.9v2.9h-2.9zM457.5 780.5h2.9v2.9h-2.9zM546.9 778.1h2.9v2.9h-2.9zM478.8 786h2.9v2.9h-2.9zM488.4 783.5h2.9v2.9h-2.9zM405.1 780.3h2.9v2.9h-2.9zM562.2 780.5h2.9v2.9h-2.9zM502.5 785.8h2.9v2.9h-2.9zM465.7 779.2h2.9v2.9h-2.9zM515.8 786.6h2.9v2.9h-2.9zM424.7 783.2h2.9v2.9h-2.9zM428.5 782.3h2.9v2.9h-2.9zM550.7 782.9h2.9v2.9h-2.9zM477.7 782.3h2.9v2.9h-2.9zM541.3 781.3h2.9v2.9h-2.9zM558 776.7h2.9v2.9h-2.9zM595.6 784.7h2.9v2.9h-2.9zM477.3 776.3h2.9v2.9h-2.9zM471.5 781h2.9v2.9h-2.9zM586.2 781h2.9v2.9h-2.9zM523.4 778.5h2.9v2.9h-2.9zM503.1 783.8h2.9v2.9h-2.9zM548.9 785.3h2.9v2.9h-2.9zM554.1 782.5h2.9v2.9h-2.9zM551.4 777.7h2.9v2.9h-2.9zM413.4 776.8h2.9v2.9h-2.9zM483.9 789.9h2.9v2.9h-2.9zM598 777.2h2.9v2.9h-2.9zM567.6 783.2h2.9v2.9h-2.9zM554.6 781h2.9v2.9h-2.9zM551.2 788h2.9v2.9h-2.9zM584 777.6h2.9v2.9h-2.9zM467.6 786.6h2.9v2.9h-2.9zM412.2 781h2.9v2.9h-2.9zM413.9 785.1h2.9v2.9h-2.9zM533.7 778.7h2.9v2.9h-2.9zM450.2 773.8h2.9v2.9h-2.9zM431.1 780h2.9v2.9h-2.9zM499.8 778.3h2.9v2.9h-2.9zM477 785.3h2.9v2.9h-2.9zM448.7 780.5h2.9v2.9h-2.9zM485.4 781.5h2.9v2.9h-2.9zM483.2 784.7h2.9v2.9h-2.9zM577.3 781.4h2.9v2.9h-2.9zM430.9 780.6h2.9v2.9h-2.9zM485.1 782h2.9v2.9h-2.9zM570.4 780.4h2.9v2.9h-2.9zM539 782.4h2.9v2.9h-2.9zM425.4 785.2h2.9v2.9h-2.9zM485.8 781.2h2.9v2.9h-2.9zM533.8 787.7h2.9v2.9h-2.9zM580.5 783.9h2.9v2.9h-2.9zM484.7 776.1h2.9v2.9h-2.9zM484 779.1h2.9v2.9h-2.9zM492.1 785.4h2.9v2.9h-2.9zM450.7 783.7h2.9v2.9h-2.9zM554 779.2h2.9v2.9h-2.9zM425.9 786.6h2.9v2.9h-2.9zM418.9 783.7h2.9v2.9h-2.9zM550.9 786.5h2.9v2.9h-2.9zM456.9 782.9h2.9v2.9h-2.9zM474.8 781h2.9v2.9h-2.9zM564.3 783.4h2.9v2.9h-2.9zM478.5 781.8h2.9v2.9h-2.9zM588.2 776.7h2.9v2.9h-2.9zM498.3 780h2.9v2.9h-2.9zM492 775.9h2.9v2.9h-2.9zM425.9 778.4h2.9v2.9h-2.9zM420.5 780.7h2.9v2.9h-2.9zM517.3 775.6h2.9v2.9h-2.9zM417 785.7h2.9v2.9h-2.9zM476.8 781.9h2.9v2.9h-2.9zM548.3 780.7h2.9v2.9h-2.9zM560.3 784.6h2.9v2.9h-2.9zM528 776h2.9v2.9h-2.9zM429.7 777.1h2.9v2.9h-2.9zM537.2 785.8h2.9v2.9h-2.9zM444.7 778h2.9v2.9h-2.9zM412.8 787h2.9v2.9h-2.9zM577.4 780.6h2.9v2.9h-2.9zM529.4 779.2h2.9v2.9h-2.9zM444.4 785.8h2.9v2.9h-2.9zM517 780.7h2.9v2.9h-2.9zM480.7 779h2.9v2.9h-2.9zM584.7 780.3h2.9v2.9h-2.9zM519.8 785.1h2.9v2.9h-2.9zM491.2 779.9h2.9v2.9h-2.9zM597.5 778.8h2.9v2.9h-2.9zM548.5 790.8h2.9v2.9h-2.9zM497.2 782.8h2.9v2.9h-2.9zM490.8 785.3h2.9v2.9h-2.9zM463.5 777.5h2.9v2.9h-2.9zM556.4 779.3h2.9v2.9h-2.9zM499.4 782.2h2.9v2.9h-2.9zM416.3 788.8h2.9v2.9h-2.9zM550.1 785.2h2.9v2.9h-2.9zM502.1 785.4h2.9v2.9h-2.9zM517.4 786h2.9v2.9h-2.9zM578.6 782.4h2.9v2.9h-2.9zM585.9 782.1h2.9v2.9h-2.9zM412.7 786.7h2.9v2.9h-2.9zM502 776.5h2.9v2.9h-2.9zM584.9 780.5h2.9v2.9h-2.9zM447.2 782.6h2.9v2.9h-2.9zM504.1 781.2h2.9v2.9h-2.9zM492.2 777h2.9v2.9h-2.9zM468 776.1h2.9v2.9h-2.9zM542.9 775.4h2.9v2.9h-2.9zM592.6 781.7h2.9v2.9h-2.9zM475.1 778.3h2.9v2.9h-2.9zM587.5 787.2h2.9v2.9h-2.9zM460.3 779h2.9v2.9h-2.9zM509.3 780.4h2.9v2.9h-2.9zM447.4 783.1h2.9v2.9h-2.9zM524.9 778.2h2.9v2.9h-2.9zM476.5 781.9h2.9v2.9h-2.9zM464.5 781.2h2.9v2.9h-2.9zM566.7 773.7h2.9v2.9h-2.9zM553.5 781.8h2.9v2.9h-2.9zM477.7 778.9h2.9v2.9h-2.9zM592.1 776.7h2.9v2.9h-2.9zM426.9 778.8h2.9v2.9h-2.9zM583.2 785.3h2.9v2.9h-2.9zM555.8 781.9h2.9v2.9h-2.9zM589 787.3h2.9v2.9h-2.9zM538.3 779.9h2.9v2.9h-2.9zM497.3 787.7h2.9v2.9h-2.9zM535.3 780.5h2.9v2.9h-2.9zM524 787.4h2.9v2.9h-2.9zM520.4 778.6h2.9v2.9h-2.9zM515.7 781h2.9v2.9h-2.9zM488 784.3h2.9v2.9h-2.9zM567.2 777.8h2.9v2.9h-2.9zM543.9 779.6h2.9v2.9h-2.9zM443.3 778.1h2.9v2.9h-2.9zM405.8 786.7h2.9v2.9h-2.9zM535.1 781.3h2.9v2.9h-2.9zM542 780.6h2.9v2.9h-2.9zM454.3 782.1h2.9v2.9h-2.9zM459.4 783.7h2.9v2.9h-2.9zM403.9 778.9h2.9v2.9h-2.9zM500.2 784.6h2.9v2.9h-2.9zM506.7 782.9h2.9v2.9h-2.9zM424.1 786.3h2.9v2.9h-2.9zM611.4 777.1h2.9v2.9h-2.9zM621.8 782.8h2.9v2.9h-2.9zM623.5 777.1h2.9v2.9h-2.9zM645.9 778.1h2.9v2.9h-2.9zM622.1 781h2.9v2.9h-2.9zM637.7 787.1h2.9v2.9h-2.9zM625.9 779.8h2.9v2.9h-2.9zM623.8 782.3h2.9v2.9h-2.9zM647.4 765.3h2.9v2.9h-2.9zM622.9 778.9h2.9v2.9h-2.9zM623.7 777.8h2.9v2.9h-2.9zM640.4 785h2.9v2.9h-2.9zM630.7 778.9h2.9v2.9h-2.9zM623.4 775.2h2.9v2.9h-2.9zM640.4 774.7h2.9v2.9h-2.9zM645.8 776.5h2.9v2.9h-2.9zM630.4 780h2.9v2.9h-2.9zM627.7 771.2h2.9v2.9h-2.9zM642.5 783.2h2.9v2.9h-2.9zM626 780.9h2.9v2.9h-2.9zM605.7 778.7h2.9v2.9h-2.9zM633.6 781.8h2.9v2.9h-2.9zM618.4 783.8h2.9v2.9h-2.9zM625.5 780.5h2.9v2.9h-2.9zM594.2 777.6h2.9v2.9h-2.9zM621.8 783.6h2.9v2.9h-2.9zM632 782.8h2.9v2.9h-2.9zM612.7 780.3h2.9v2.9h-2.9zM643.5 774.4h2.9v2.9h-2.9zM592.7 777h2.9v2.9h-2.9zM628.4 774.4h2.9v2.9h-2.9zM615 772.7h2.9v2.9h-2.9zM619.6 780.6h2.9v2.9h-2.9zM602.7 779.6h2.9v2.9h-2.9zM624 778.4h2.9v2.9h-2.9zM643.9 779.7h2.9v2.9h-2.9zM609.4 779.2h2.9v2.9h-2.9zM648.8 779.1h2.9v2.9h-2.9zM645.7 777.1h2.9v2.9h-2.9zM617.9 776.4h2.9v2.9h-2.9zM629.4 785.6h2.9v2.9h-2.9zM612.4 778h2.9v2.9h-2.9zM626.6 780.8h2.9v2.9h-2.9zM624.8 780h2.9v2.9h-2.9zM621.5 780.2h2.9v2.9h-2.9zM644.2 769.5h2.9v2.9h-2.9zM621.2 767.4h2.9v2.9h-2.9zM637.3 784.1h2.9v2.9h-2.9zM644.2 778.6h2.9v2.9h-2.9zM628.1 777.2h2.9v2.9h-2.9zM608.6 782.6h2.9v2.9h-2.9zM639.2 775h2.9v2.9h-2.9zM613.7 779.5h2.9v2.9h-2.9zM648.8 775.5h2.9v2.9h-2.9zM614.8 775.1h2.9v2.9h-2.9zM615.9 780.5h2.9v2.9h-2.9zM638.8 775.4h2.9v2.9h-2.9zM631.4 781.1h2.9v2.9h-2.9zM601.3 781.2h2.9v2.9h-2.9zM632.3 776.5h2.9v2.9h-2.9zM605.3 767.7h2.9v2.9h-2.9zM600.5 776h2.9v2.9h-2.9zM628.3 776.4h2.9v2.9h-2.9zM644.2 785.4h2.9v2.9h-2.9zM623.1 769.6h2.9v2.9h-2.9zM637 779.7h2.9v2.9h-2.9zM615.8 784.6h2.9v2.9h-2.9zM625.7 787.3h2.9v2.9h-2.9zM637.8 778.5h2.9v2.9h-2.9zM641.4 776.6h2.9v2.9h-2.9zM603.8 778.8h2.9v2.9h-2.9zM624.5 778.2h2.9v2.9h-2.9zM644.3 780.9h2.9v2.9h-2.9zM591.1 780h2.9v2.9h-2.9zM628.7 774.9h2.9v2.9h-2.9zM638.2 776.3h2.9v2.9h-2.9zM627.9 784.9h2.9v2.9h-2.9zM622 776.4h2.9v2.9h-2.9zM620.5 779.8h2.9v2.9h-2.9zM646.7 773h2.9v2.9h-2.9zM612.8 778.4h2.9v2.9h-2.9zM610.9 775.2h2.9v2.9h-2.9zM612.3 775.9h2.9v2.9h-2.9zM618.5 784.8h2.9v2.9h-2.9zM627 771.7h2.9v2.9h-2.9zM644.8 777.1h2.9v2.9h-2.9zM611.6 779.3h2.9v2.9h-2.9zM627.9 784.9h2.9v2.9h-2.9zM625.9 778.9h2.9v2.9h-2.9zM625.9 783.6h2.9v2.9h-2.9zM641.9 784h2.9v2.9h-2.9zM604.9 773.3h2.9v2.9h-2.9zM630.4 780.3h2.9v2.9h-2.9zM634.8 777.3h2.9v2.9h-2.9zM624.9 785.8h2.9v2.9h-2.9zM627.3 782.4h2.9v2.9h-2.9zM638 780.1h2.9v2.9h-2.9zM610 782h2.9v2.9h-2.9zM643.9 778h2.9v2.9h-2.9zM613.9 773.6h2.9v2.9h-2.9zM622.3 783.9h2.9v2.9h-2.9zM639.1 779.3h2.9v2.9h-2.9zM624 783.1h2.9v2.9h-2.9zM599.7 781.5h2.9v2.9h-2.9zM627.3 783.5h2.9v2.9h-2.9zM643.1 782.9h2.9v2.9h-2.9zM646.8 772.3h2.9v2.9h-2.9zM630.7 777.1h2.9v2.9h-2.9zM647.2 774.9h2.9v2.9h-2.9zM616.3 778.7h2.9v2.9h-2.9zM623.2 779.1h2.9v2.9h-2.9zM646.3 776.7h2.9v2.9h-2.9zM634.8 777.3h2.9v2.9h-2.9zM611.8 780.8h2.9v2.9h-2.9zM638.1 772.2h2.9v2.9h-2.9zM613.2 775.8h2.9v2.9h-2.9zM621.2 783.6h2.9v2.9h-2.9zM621 775.1h2.9v2.9h-2.9zM627.3 779.1h2.9v2.9h-2.9zM640.2 778h2.9v2.9h-2.9zM622.1 779.1h2.9v2.9h-2.9zM643.5 775.1h2.9v2.9h-2.9zM639.4 783h2.9v2.9h-2.9zM644.9 776.8h2.9v2.9h-2.9zM628 776.3h2.9v2.9h-2.9zM616.4 778.9h2.9v2.9h-2.9zM623.2 785.3h2.9v2.9h-2.9zM648.6 771h2.9v2.9h-2.9zM610.1 783.4h2.9v2.9h-2.9zM642.2 781.7h2.9v2.9h-2.9zM632 781.9h2.9v2.9h-2.9zM604.8 774.9h2.9v2.9h-2.9zM645.2 777.3h2.9v2.9h-2.9zM632.9 776.8h2.9v2.9h-2.9zM636.1 779.4h2.9v2.9h-2.9zM621.9 780h2.9v2.9h-2.9zM622.3 784.4h2.9v2.9h-2.9zM608.5 774.8h2.9v2.9h-2.9zM618.3 773.2h2.9v2.9h-2.9zM619.2 773.7h2.9v2.9h-2.9zM615.7 780.5h2.9v2.9h-2.9zM612.5 774.5h2.9v2.9h-2.9zM614.4 774h2.9v2.9h-2.9zM611.2 778.8h2.9v2.9h-2.9zM635.1 765.9h2.9v2.9h-2.9zM609.1 780.8h2.9v2.9h-2.9zM641.1 779.2h2.9v2.9h-2.9zM645.7 769.6h2.9v2.9h-2.9zM617.8 766.2h2.9v2.9h-2.9zM607.3 780.7h2.9v2.9h-2.9zM610.7 789.6h2.9v2.9h-2.9zM643.8 775.3h2.9v2.9h-2.9zM625.9 787.9h2.9v2.9h-2.9zM621.3 781.3h2.9v2.9h-2.9zM611.7 781.7h2.9v2.9h-2.9zM607.2 784.3h2.9v2.9h-2.9zM603.4 772.9h2.9v2.9h-2.9zM618.1 770.3h2.9v2.9h-2.9zM628.9 775.9h2.9v2.9h-2.9zM621.8 777.3h2.9v2.9h-2.9zM630.7 788.7h2.9v2.9h-2.9zM616.9 779.7h2.9v2.9h-2.9zM630.5 775.1h2.9v2.9h-2.9zM646.7 780.3h2.9v2.9h-2.9zM636.9 778.2h2.9v2.9h-2.9zM647.4 779h2.9v2.9h-2.9zM636.4 782.6h2.9v2.9h-2.9zM627.3 775.1h2.9v2.9h-2.9zM635.8 770.6h2.9v2.9h-2.9zM632.4 783.4h2.9v2.9h-2.9zM631.4 779.3h2.9v2.9h-2.9zM617.6 778.9h2.9v2.9h-2.9zM642.3 778.1h2.9v2.9h-2.9zM608 773.4h2.9v2.9h-2.9zM640.8 780.5h2.9v2.9h-2.9zM614 782h2.9v2.9h-2.9zM626.6 776.9h2.9v2.9h-2.9zM633.8 781.4h2.9v2.9h-2.9zM623 776h2.9v2.9h-2.9zM628.4 788.2h2.9v2.9h-2.9zM629.7 784.1h2.9v2.9h-2.9zM637.5 778.6h2.9v2.9h-2.9zM625.3 785.7h2.9v2.9h-2.9zM602.9 780.4h2.9v2.9h-2.9zM626 772.6h2.9v2.9h-2.9zM615.2 781.4h2.9v2.9h-2.9zM609.8 787.6h2.9v2.9h-2.9zM632.9 789.4h2.9v2.9h-2.9zM637 772.2h2.9v2.9h-2.9zM592.9 779.7h2.9v2.9h-2.9zM620.4 784.8h2.9v2.9h-2.9zM630.7 781.5h2.9v2.9h-2.9zM605.3 780.6h2.9v2.9h-2.9zM630.7 782.1h2.9v2.9h-2.9zM634.7 774.1h2.9v2.9h-2.9zM631.1 782.1h2.9v2.9h-2.9zM639.3 785.1h2.9v2.9h-2.9zM640 777.7h2.9v2.9h-2.9zM618.1 781.7h2.9v2.9h-2.9zM640.8 769.6h2.9v2.9h-2.9zM593.9 780.5h2.9v2.9h-2.9zM640.8 781.1h2.9v2.9h-2.9zM642.5 770h2.9v2.9h-2.9zM617.9 779.9h2.9v2.9h-2.9zM606.6 781.9h2.9v2.9h-2.9zM613.5 775.8h2.9v2.9h-2.9zM612.9 781.8h2.9v2.9h-2.9zM629.6 785.6h2.9v2.9h-2.9zM636.3 783.9h2.9v2.9h-2.9zM594.3 786.4h2.9v2.9h-2.9zM631.5 778.5h2.9v2.9h-2.9zM629.8 787h2.9v2.9h-2.9zM637.5 778.1h2.9v2.9h-2.9zM635.4 782.3h2.9v2.9h-2.9zM602.2 781.1h2.9v2.9h-2.9zM633.4 778.8h2.9v2.9h-2.9zM615.5 773.8h2.9v2.9h-2.9zM624.4 778.8h2.9v2.9h-2.9zM611.4 775.3h2.9v2.9h-2.9zM621.4 765.7h2.9v2.9h-2.9zM619.7 779.8h2.9v2.9h-2.9zM629 775.8h2.9v2.9h-2.9zM614.6 783.8h2.9v2.9h-2.9zM626.5 778.9h2.9v2.9h-2.9zM625.2 778.8h2.9v2.9h-2.9zM646.7 779.5h2.9v2.9h-2.9zM634.5 785.7h2.9v2.9h-2.9zM644.9 779.1h2.9v2.9h-2.9zM609.9 775.1h2.9v2.9h-2.9zM636 784.6h2.9v2.9h-2.9zM639.9 778.1h2.9v2.9h-2.9zM609.4 778h2.9v2.9h-2.9zM627.1 777.4h2.9v2.9h-2.9zM614.8 780.4h2.9v2.9h-2.9zM610.4 781.8h2.9v2.9h-2.9zM637.6 786h2.9v2.9h-2.9zM626.4 779.5h2.9v2.9h-2.9zM626.3 781.6h2.9v2.9h-2.9zM646.7 780.3h2.9v2.9h-2.9zM627.8 785.8h2.9v2.9h-2.9zM636.8 770.2h2.9v2.9h-2.9zM638.2 783.4h2.9v2.9h-2.9zM627.9 780.1h2.9v2.9h-2.9zM604.7 788h2.9v2.9h-2.9zM640.2 778.1h2.9v2.9h-2.9zM621.9 774.1h2.9v2.9h-2.9zM637.8 778.1h2.9v2.9h-2.9zM626 777.6h2.9v2.9h-2.9zM621.4 778.9h2.9v2.9h-2.9zM648.8 774.7h2.9v2.9h-2.9zM614.3 775h2.9v2.9h-2.9zM642 780.7h2.9v2.9h-2.9zM620.1 783.1h2.9v2.9h-2.9zM624.2 780.9h2.9v2.9h-2.9zM638.5 783.6h2.9v2.9h-2.9zM647.4 776h2.9v2.9h-2.9zM631.4 781.3h2.9v2.9h-2.9zM604.4 777.9h2.9v2.9h-2.9zM619.2 776h2.9v2.9h-2.9zM618 776.4h2.9v2.9h-2.9zM647.3 770.2h2.9v2.9h-2.9zM648.1 774.9h2.9v2.9h-2.9zM644.6 774.1h2.9v2.9h-2.9zM631.8 778.8h2.9v2.9h-2.9zM625.8 778h2.9v2.9h-2.9zM621.3 777.6h2.9v2.9h-2.9zM623 774.1h2.9v2.9h-2.9zM619.8 784.7h2.9v2.9h-2.9zM616.4 777.2h2.9v2.9h-2.9zM616.4 780.1h2.9v2.9h-2.9zM636.3 781.7h2.9v2.9h-2.9zM623.9 782.4h2.9v2.9h-2.9zM626.3 786.2h2.9v2.9h-2.9zM628 776.1h2.9v2.9h-2.9zM619.9 787h2.9v2.9h-2.9zM646 783.7h2.9v2.9h-2.9zM630.1 779.3h2.9v2.9h-2.9zM619.3 788.1h2.9v2.9h-2.9zM623.1 777.9h2.9v2.9h-2.9zM606.9 783.1h2.9v2.9h-2.9zM621.2 779.9h2.9v2.9h-2.9zM643.9 785h2.9v2.9h-2.9zM640.6 776.1h2.9v2.9h-2.9zM638.4 784.8h2.9v2.9h-2.9zM630.7 790.1h2.9v2.9h-2.9zM626.7 774.7h2.9v2.9h-2.9zM615.9 780h2.9v2.9h-2.9zM634.9 787.5h2.9v2.9h-2.9zM611.7 782.7h2.9v2.9h-2.9zM608.6 782.5h2.9v2.9h-2.9zM629.3 777.1h2.9v2.9h-2.9zM620.8 779h2.9v2.9h-2.9zM630 784.6h2.9v2.9h-2.9zM630.3 783.1h2.9v2.9h-2.9zM642.9 788.6h2.9v2.9h-2.9zM618.9 784.9h2.9v2.9h-2.9zM590.2 778.6h2.9v2.9h-2.9zM648.2 771.5h2.9v2.9h-2.9zM594.3 780.7h2.9v2.9h-2.9zM621.3 779.8h2.9v2.9h-2.9zM626 781.5h2.9v2.9h-2.9zM618 785.1h2.9v2.9h-2.9zM620.5 780.7h2.9v2.9h-2.9zM624.3 771.8h2.9v2.9h-2.9zM637.9 783h2.9v2.9h-2.9zM637.5 773.7h2.9v2.9h-2.9zM631.7 775.8h2.9v2.9h-2.9zM607.8 778.8h2.9v2.9h-2.9zM613.2 769.8h2.9v2.9h-2.9zM612.1 777.2h2.9v2.9h-2.9zM625.2 772.8h2.9v2.9h-2.9zM626.1 781.9h2.9v2.9h-2.9zM628.5 780.8h2.9v2.9h-2.9zM627.7 786.4h2.9v2.9h-2.9zM605.3 777.5h2.9v2.9h-2.9zM631.8 774h2.9v2.9h-2.9zM623.4 783.7h2.9v2.9h-2.9zM624 781.3h2.9v2.9h-2.9zM619.5 788.1h2.9v2.9h-2.9zM640 773h2.9v2.9h-2.9zM632.8 780.1h2.9v2.9h-2.9zM640.2 775.8h2.9v2.9h-2.9zM619.7 779.9h2.9v2.9h-2.9zM636.4 779h2.9v2.9h-2.9zM622.7 779.5h2.9v2.9h-2.9zM629.7 778.3h2.9v2.9h-2.9zM636.7 784.5h2.9v2.9h-2.9zM621.2 788.7h2.9v2.9h-2.9zM617.3 777.9h2.9v2.9h-2.9zM636.6 785.4h2.9v2.9h-2.9zM647.2 783h2.9v2.9h-2.9zM634.9 775.8h2.9v2.9h-2.9zM600.9 781.6h2.9v2.9h-2.9zM634.8 790.3h2.9v2.9h-2.9zM644.6 774.7h2.9v2.9h-2.9zM641.7 781h2.9v2.9h-2.9zM631.6 771h2.9v2.9h-2.9zM622.8 781.2h2.9v2.9h-2.9zM623.4 781.4h2.9v2.9h-2.9zM636.5 775.6h2.9v2.9h-2.9zM642.4 780.3h2.9v2.9h-2.9zM609.5 775.6h2.9v2.9h-2.9zM635.7 772.6h2.9v2.9h-2.9zM632.4 782.7h2.9v2.9h-2.9zM625.7 785.5h2.9v2.9h-2.9zM641.6 785.7h2.9v2.9h-2.9zM634.4 783h2.9v2.9h-2.9zM644.5 785.3h2.9v2.9h-2.9zM606.5 782.7h2.9v2.9h-2.9zM625.1 773.2h2.9v2.9h-2.9zM624.4 780h2.9v2.9h-2.9zM614.7 781.5h2.9v2.9h-2.9zM641.8 781.3h2.9v2.9h-2.9zM648.9 784.8h2.9v2.9h-2.9zM627.5 772.5h2.9v2.9h-2.9zM607.4 782.7h2.9v2.9h-2.9zM648.3 775.8h2.9v2.9h-2.9zM627.5 783.6h2.9v2.9h-2.9zM629.1 771.5h2.9v2.9h-2.9zM625.8 772.9h2.9v2.9h-2.9zM638.5 778h2.9v2.9h-2.9zM602.2 783.2h2.9v2.9h-2.9zM626.1 778.3h2.9v2.9h-2.9zM624 777.4h2.9v2.9h-2.9zM608.2 777.2h2.9v2.9h-2.9zM635.8 778.1h2.9v2.9h-2.9zM632.3 776.6h2.9v2.9h-2.9zM625 783.2h2.9v2.9h-2.9zM646 781.7h2.9v2.9h-2.9zM630.3 780.8h2.9v2.9h-2.9zM638.5 780.4h2.9v2.9h-2.9zM621.3 777h2.9v2.9h-2.9zM611.8 784h2.9v2.9h-2.9zM624.6 772.1h2.9v2.9h-2.9zM618.4 780.2h2.9v2.9h-2.9zM593.5 780.2h2.9v2.9h-2.9zM624.2 779.8h2.9v2.9h-2.9zM627.9 781.4h2.9v2.9h-2.9zM622 787.9h2.9v2.9h-2.9zM628.7 781.5h2.9v2.9h-2.9zM619.9 783.5h2.9v2.9h-2.9zM630.7 780.8h2.9v2.9h-2.9zM625 781.1h2.9v2.9h-2.9zM618.5 786.1h2.9v2.9h-2.9zM604 785.6h2.9v2.9h-2.9zM617.1 783.2h2.9v2.9h-2.9zM617.4 780.1h2.9v2.9h-2.9zM635.8 784.1h2.9v2.9h-2.9zM635.7 783.3h2.9v2.9h-2.9zM614.2 785.2h2.9v2.9h-2.9zM639.6 782.3h2.9v2.9h-2.9zM621.8 777.5h2.9v2.9h-2.9zM629.3 764.4h2.9v2.9h-2.9zM628.6 782h2.9v2.9h-2.9zM621.9 775.2h2.9v2.9h-2.9zM647 784.4h2.9v2.9h-2.9zM607.5 790.7h2.9v2.9h-2.9zM633.4 775.3h2.9v2.9h-2.9zM624.2 771h2.9v2.9h-2.9zM629.3 771.5h2.9v2.9h-2.9zM641.5 779.9h2.9v2.9h-2.9zM628.3 780.1h2.9v2.9h-2.9zM642 785.6h2.9v2.9h-2.9zM621.2 776.6h2.9v2.9h-2.9zM647.9 779.7h2.9v2.9h-2.9zM635.1 775.4h2.9v2.9h-2.9zM645.4 776.4h2.9v2.9h-2.9zM623.6 780h2.9v2.9h-2.9zM642.5 781.5h2.9v2.9h-2.9zM630.7 783h2.9v2.9h-2.9zM638.4 775.6h2.9v2.9h-2.9zM595.1 779.4h2.9v2.9h-2.9zM633.3 783.2h2.9v2.9h-2.9zM602.9 779.3h2.9v2.9h-2.9zM623.1 777.7h2.9v2.9h-2.9zM598.7 784.7h2.9v2.9h-2.9zM613.5 785.6h2.9v2.9h-2.9zM633 775.1h2.9v2.9h-2.9zM622.4 774.1h2.9v2.9h-2.9zM639.7 782h2.9v2.9h-2.9zM633.4 784.3h2.9v2.9h-2.9zM628 778.6h2.9v2.9h-2.9zM623.4 783.6h2.9v2.9h-2.9zM623.3 781.3h2.9v2.9h-2.9zM619.1 781h2.9v2.9h-2.9zM634.8 775.8h2.9v2.9h-2.9zM605.5 782.5h2.9v2.9h-2.9zM640.6 780.4h2.9v2.9h-2.9zM608.1 777.7h2.9v2.9h-2.9zM607.9 770.1h2.9v2.9h-2.9zM615.6 782.7h2.9v2.9h-2.9zM615.9 785.6h2.9v2.9h-2.9zM623.1 774.4h2.9v2.9h-2.9zM601.8 785.7h2.9v2.9h-2.9zM629.4 775.2h2.9v2.9h-2.9zM629.1 779.9h2.9v2.9h-2.9zM643.8 781.1h2.9v2.9h-2.9zM620.3 781h2.9v2.9h-2.9zM590.9 774.4h2.9v2.9h-2.9zM623.6 778.2h2.9v2.9h-2.9zM619.6 777.2h2.9v2.9h-2.9zM643.8 774.1h2.9v2.9h-2.9zM619.2 785.5h2.9v2.9h-2.9zM623.2 787.2h2.9v2.9h-2.9zM638.9 777.7h2.9v2.9h-2.9zM648.7 776.8h2.9v2.9h-2.9zM626.1 779.6h2.9v2.9h-2.9zM637.5 775.5h2.9v2.9h-2.9zM641.6 780.5h2.9v2.9h-2.9zM600.9 777.5h2.9v2.9h-2.9zM626.1 786.8h2.9v2.9h-2.9zM614.8 783.3h2.9v2.9h-2.9zM615.9 776h2.9v2.9h-2.9zM648 781.1h2.9v2.9h-2.9zM621.1 785.8h2.9v2.9h-2.9zM642.7 780.4h2.9v2.9h-2.9zM643.3 779.8h2.9v2.9h-2.9zM611.6 783.6h2.9v2.9h-2.9zM613.1 776.1h2.9v2.9h-2.9zM616.5 774.6h2.9v2.9h-2.9zM625.4 782.8h2.9v2.9h-2.9zM600.3 774.6h2.9v2.9h-2.9zM604.3 785.8h2.9v2.9h-2.9zM630.4 770.8h2.9v2.9h-2.9zM617.3 784.9h2.9v2.9h-2.9zM640.5 774.7h2.9v2.9h-2.9zM631.3 780.6h2.9v2.9h-2.9zM635.9 777.9h2.9v2.9h-2.9zM622.9 779.2h2.9v2.9h-2.9zM645.1 781.8h2.9v2.9h-2.9zM624.8 778.6h2.9v2.9h-2.9zM638.9 785.4h2.9v2.9h-2.9zM621.8 782.5h2.9v2.9h-2.9zM643.1 780.3h2.9v2.9h-2.9zM649 780h2.9v2.9h-2.9zM644.3 776.2h2.9v2.9h-2.9zM618.4 774.4h2.9v2.9h-2.9zM592.3 784.8h2.9v2.9h-2.9zM618.1 777.7h2.9v2.9h-2.9zM629.8 785.3h2.9v2.9h-2.9zM617.7 779.2h2.9v2.9h-2.9zM615.2 777h2.9v2.9h-2.9zM622.8 781.8h2.9v2.9h-2.9zM633.5 776.5h2.9v2.9h-2.9zM620.4 775.3h2.9v2.9h-2.9zM636.8 785.3h2.9v2.9h-2.9zM643 790.8h2.9v2.9h-2.9zM614.3 783.8h2.9v2.9h-2.9zM634.7 784.6h2.9v2.9h-2.9zM626.7 775.2h2.9v2.9h-2.9zM634.5 778.1h2.9v2.9h-2.9zM617.1 777.5h2.9v2.9h-2.9zM608.6 777.4h2.9v2.9h-2.9zM608.5 774.7h2.9v2.9h-2.9zM618.4 786.9h2.9v2.9h-2.9zM632.8 780.7h2.9v2.9h-2.9zM630.7 779h2.9v2.9h-2.9zM623.6 785.8h2.9v2.9h-2.9zM625.9 781.7h2.9v2.9h-2.9zM638 787.7h2.9v2.9h-2.9zM624.7 782.6h2.9v2.9h-2.9zM622 770.9h2.9v2.9h-2.9zM643.6 784.9h2.9v2.9h-2.9zM610.2 778h2.9v2.9h-2.9zM635.6 784.1h2.9v2.9h-2.9zM614.6 788.8h2.9v2.9h-2.9zM635.6 782.2h2.9v2.9h-2.9zM648.8 780.1h2.9v2.9h-2.9zM605.1 775.9h2.9v2.9h-2.9zM627.3 775.1h2.9v2.9h-2.9zM628 785.7h2.9v2.9h-2.9zM606.6 781.7h2.9v2.9h-2.9zM622.1 777.6h2.9v2.9h-2.9zM599.8 783h2.9v2.9h-2.9zM634.6 774.3h2.9v2.9h-2.9zM620.4 783.7h2.9v2.9h-2.9zM620.8 767.8h2.9v2.9h-2.9zM642 780.9h2.9v2.9h-2.9zM634.2 769.4h2.9v2.9h-2.9zM617.9 784.7h2.9v2.9h-2.9zM623.7 779.8h2.9v2.9h-2.9zM618.5 775.7h2.9v2.9h-2.9zM611.5 774.5h2.9v2.9h-2.9zM632.1 783h2.9v2.9h-2.9zM625.1 777.6h2.9v2.9h-2.9zM638.4 779.6h2.9v2.9h-2.9zM593.7 780.7h2.9v2.9h-2.9zM630.4 779.9h2.9v2.9h-2.9zM628 779.2h2.9v2.9h-2.9zM624.7 784.8h2.9v2.9h-2.9zM628.4 776.9h2.9v2.9h-2.9zM611.7 779.2h2.9v2.9h-2.9zM618.6 783.7h2.9v2.9h-2.9zM613.6 781.4h2.9v2.9h-2.9zM639.2 779.9h2.9v2.9h-2.9zM610.4 788.3h2.9v2.9h-2.9zM604.6 781.7h2.9v2.9h-2.9zM644.3 781.2h2.9v2.9h-2.9zM625.9 784.1h2.9v2.9h-2.9zM631.4 784h2.9v2.9h-2.9zM640.5 781.1h2.9v2.9h-2.9zM615.2 778.5h2.9v2.9h-2.9zM625.6 778.9h2.9v2.9h-2.9zM642.3 775.4h2.9v2.9h-2.9zM639.6 781.5h2.9v2.9h-2.9zM626.9 776.3h2.9v2.9h-2.9zM633.3 775.7h2.9v2.9h-2.9zM632.1 776.9h2.9v2.9h-2.9zM646.6 776.6h2.9v2.9h-2.9zM615.1 775.6h2.9v2.9h-2.9zM644.4 782.4h2.9v2.9h-2.9zM615.3 780.8h2.9v2.9h-2.9zM591.9 776.2h2.9v2.9h-2.9zM622.8 788h2.9v2.9h-2.9zM628.4 777.4h2.9v2.9h-2.9zM627.5 779h2.9v2.9h-2.9zM638.4 788.7h2.9v2.9h-2.9zM642.4 781.5h2.9v2.9h-2.9zM627 775.9h2.9v2.9h-2.9zM636.3 772.5h2.9v2.9h-2.9zM605.9 784.3h2.9v2.9h-2.9zM621 781.5h2.9v2.9h-2.9zM631.3 783.6h2.9v2.9h-2.9zM615.2 784.9h2.9v2.9h-2.9zM628.4 776h2.9v2.9h-2.9zM615.5 782.8h2.9v2.9h-2.9zM640 787.4h2.9v2.9h-2.9zM633.8 772.6h2.9v2.9h-2.9zM638.6 774.8h2.9v2.9h-2.9zM629.1 782.6h2.9v2.9h-2.9zM642.1 777.2h2.9v2.9h-2.9zM626.5 784.2h2.9v2.9h-2.9zM646.7 781.5h2.9v2.9h-2.9zM635.1 781.9h2.9v2.9h-2.9zM619.9 779.9h2.9v2.9h-2.9zM623.8 787.1h2.9v2.9h-2.9zM631.4 785.4h2.9v2.9h-2.9zM647 780.3h2.9v2.9h-2.9zM626.5 774.1h2.9v2.9h-2.9zM648.7 774.9h2.9v2.9h-2.9zM635.6 780.9h2.9v2.9h-2.9zM637.4 777.4h2.9v2.9h-2.9zM643.5 776.6h2.9v2.9h-2.9zM614.3 782.2h2.9v2.9h-2.9zM644.2 778.1h2.9v2.9h-2.9zM643.9 780.4h2.9v2.9h-2.9zM611.2 778.9h2.9v2.9h-2.9zM637.1 782h2.9v2.9h-2.9zM623.3 787.4h2.9v2.9h-2.9zM632.1 781.5h2.9v2.9h-2.9zM620.6 780.8h2.9v2.9h-2.9zM634.9 778.5h2.9v2.9h-2.9zM597.8 782.3h2.9v2.9h-2.9zM602.9 777h2.9v2.9h-2.9zM622.1 773.8h2.9v2.9h-2.9zM634.7 783.8h2.9v2.9h-2.9zM630.7 778h2.9v2.9h-2.9zM632.8 775.2h2.9v2.9h-2.9zM636.2 771.8h2.9v2.9h-2.9zM615.1 776.3h2.9v2.9h-2.9zM646 784h2.9v2.9h-2.9zM617.1 781h2.9v2.9h-2.9zM629.3 779.9h2.9v2.9h-2.9zM613 788.7h2.9v2.9h-2.9zM601.6 789.2h2.9v2.9h-2.9zM629.7 775.9h2.9v2.9h-2.9zM649 785h2.9v2.9h-2.9zM627.4 778.5h2.9v2.9h-2.9zM621.2 780.1h2.9v2.9h-2.9zM640.1 780h2.9v2.9h-2.9zM598.9 777.8h2.9v2.9h-2.9zM648 780.4h2.9v2.9h-2.9zM637.2 778.5h2.9v2.9h-2.9zM641.1 772.3h2.9v2.9h-2.9zM591.4 783.3h2.9v2.9h-2.9zM625.4 779.9h2.9v2.9h-2.9zM614.8 777.1h2.9v2.9h-2.9zM601.1 787.6h2.9v2.9h-2.9zM646 773.1h2.9v2.9h-2.9zM608.7 777.6h2.9v2.9h-2.9zM644 775.5h2.9v2.9h-2.9zM648.2 775.3h2.9v2.9h-2.9zM643.5 775.8h2.9v2.9h-2.9zM637.8 781.4h2.9v2.9h-2.9zM632.1 779.4h2.9v2.9h-2.9zM629.8 782.1h2.9v2.9h-2.9zM632.3 775.5h2.9v2.9h-2.9zM643.4 781.4h2.9v2.9h-2.9zM620.7 778.7h2.9v2.9h-2.9zM606.8 777h2.9v2.9h-2.9zM634.3 776.4h2.9v2.9h-2.9zM643.8 785.2h2.9v2.9h-2.9zM620.1 780.9h2.9v2.9h-2.9zM616.9 783.8h2.9v2.9h-2.9zM640.8 774.8h2.9v2.9h-2.9zM608.8 781h2.9v2.9h-2.9zM624.1 780.2h2.9v2.9h-2.9zM616.2 772h2.9v2.9h-2.9zM625.5 773.9h2.9v2.9h-2.9zM623.2 783.6h2.9v2.9h-2.9zM635.2 791.2h2.9v2.9h-2.9zM606.9 784.2h2.9v2.9h-2.9zM617.1 782.7h2.9v2.9h-2.9zM647.1 783.6h2.9v2.9h-2.9zM628.7 778.3h2.9v2.9h-2.9zM638.8 786.8h2.9v2.9h-2.9zM631 772.3h2.9v2.9h-2.9zM622.9 781.5h2.9v2.9h-2.9zM647.5 783.1h2.9v2.9h-2.9zM625.4 772.8h2.9v2.9h-2.9zM623.6 779.2h2.9v2.9h-2.9zM612.6 779.7h2.9v2.9h-2.9zM642.6 776.8h2.9v2.9h-2.9zM620 784.1h2.9v2.9h-2.9zM645.8 773.8h2.9v2.9h-2.9zM646.6 779.9h2.9v2.9h-2.9zM612.5 775.6h2.9v2.9h-2.9zM619.7 779.4h2.9v2.9h-2.9zM640.1 778h2.9v2.9h-2.9zM633.2 775.7h2.9v2.9h-2.9zM633.6 786.7h2.9v2.9h-2.9zM622.2 775.6h2.9v2.9h-2.9zM619.4 770.5h2.9v2.9h-2.9zM635.1 779.7h2.9v2.9h-2.9zM608.4 786.1h2.9v2.9h-2.9zM624.5 777.4h2.9v2.9h-2.9zM610.7 780.5h2.9v2.9h-2.9zM615.9 780.2h2.9v2.9h-2.9zM633.9 783.1h2.9v2.9h-2.9zM637.5 788h2.9v2.9h-2.9zM635.4 776h2.9v2.9h-2.9zM626.2 786.4h2.9v2.9h-2.9zM637.1 787.7h2.9v2.9h-2.9zM619.6 767.3h2.9v2.9h-2.9zM631.6 784.9h2.9v2.9h-2.9zM635 774.5h2.9v2.9h-2.9zM630.1 781.3h2.9v2.9h-2.9zM623.8 778.1h2.9v2.9h-2.9zM634 776.5h2.9v2.9h-2.9zM643.5 772.4h2.9v2.9h-2.9zM612.9 772.4h2.9v2.9h-2.9zM648.1 788h2.9v2.9h-2.9zM639 787.8h2.9v2.9h-2.9zM623.6 779.4h2.9v2.9h-2.9zM627.2 782.1h2.9v2.9h-2.9zM632 780.6h2.9v2.9h-2.9zM627.6 775.2h2.9v2.9h-2.9zM636.4 786.3h2.9v2.9h-2.9zM616.9 779.3h2.9v2.9h-2.9zM637.1 782.2h2.9v2.9h-2.9zM628.3 788.1h2.9v2.9h-2.9zM635.8 780h2.9v2.9h-2.9zM632.5 777.5h2.9v2.9h-2.9zM625.7 778.7h2.9v2.9h-2.9zM613.9 782.4h2.9v2.9h-2.9zM591.1 781.9h2.9v2.9h-2.9zM631.2 778.6h2.9v2.9h-2.9zM625 780.8h2.9v2.9h-2.9zM639.6 779.7h2.9v2.9h-2.9zM624.6 778.2h2.9v2.9h-2.9zM640.4 771.9h2.9v2.9h-2.9zM645.4 775h2.9v2.9h-2.9zM633.1 785h2.9v2.9h-2.9zM643.8 774.7h2.9v2.9h-2.9zM632.4 775.4h2.9v2.9h-2.9zM636.6 776h2.9v2.9h-2.9zM647 786.4h2.9v2.9h-2.9zM618.4 777.7h2.9v2.9h-2.9zM639.4 782.3h2.9v2.9h-2.9zM638.7 785h2.9v2.9h-2.9zM595.7 776.1h2.9v2.9h-2.9zM609.4 785.1h2.9v2.9h-2.9zM644.9 776.1h2.9v2.9h-2.9zM632.5 790.9h2.9v2.9h-2.9zM624.4 780.1h2.9v2.9h-2.9zM644.2 780.5h2.9v2.9h-2.9zM644.9 774.8h2.9v2.9h-2.9zM624.4 771.3h2.9v2.9h-2.9zM645.7 783.9h2.9v2.9h-2.9zM638.1 776.9h2.9v2.9h-2.9zM594.2 784.9h2.9v2.9h-2.9zM633 774.7h2.9v2.9h-2.9zM618.1 787.5h2.9v2.9h-2.9zM617 779.3h2.9v2.9h-2.9zM628.6 785.4h2.9v2.9h-2.9zM627.5 786.9h2.9v2.9h-2.9zM628.7 777.1h2.9v2.9h-2.9zM641.8 778.9h2.9v2.9h-2.9zM601.8 779.5h2.9v2.9h-2.9zM604.1 769h2.9v2.9h-2.9zM622.3 782.8h2.9v2.9h-2.9zM627.7 777h2.9v2.9h-2.9zM616.6 777.8h2.9v2.9h-2.9zM627.2 781.5h2.9v2.9h-2.9zM625.4 777.3h2.9v2.9h-2.9zM624.7 778.9h2.9v2.9h-2.9zM616.2 780.4h2.9v2.9h-2.9zM639.3 774.4h2.9v2.9h-2.9zM592.6 773.6h2.9v2.9h-2.9zM643.7 777.6h2.9v2.9h-2.9zM627.6 773.3h2.9v2.9h-2.9zM622.9 773.8h2.9v2.9h-2.9zM624.5 777.8h2.9v2.9h-2.9zM616.3 780.4h2.9v2.9h-2.9zM635.2 781.5h2.9v2.9h-2.9zM648 785.6h2.9v2.9h-2.9zM621.6 783.1h2.9v2.9h-2.9zM616.3 779h2.9v2.9h-2.9zM624 779.8h2.9v2.9h-2.9zM606.2 785.8h2.9v2.9h-2.9zM612.8 774.1h2.9v2.9h-2.9zM642.1 779.3h2.9v2.9h-2.9zM622 776.8h2.9v2.9h-2.9zM615.4 780.5h2.9v2.9h-2.9zM619.9 783.6h2.9v2.9h-2.9zM630.4 776.7h2.9v2.9h-2.9zM646.8 777.4h2.9v2.9h-2.9zM648.4 782.9h2.9v2.9h-2.9zM615.8 774.6h2.9v2.9h-2.9zM648.4 778h2.9v2.9h-2.9zM625.2 788.8h2.9v2.9h-2.9zM624.2 771.8h2.9v2.9h-2.9zM615.7 776.9h2.9v2.9h-2.9zM642 779.5h2.9v2.9h-2.9zM611.4 771.8h2.9v2.9h-2.9zM615.4 783.9h2.9v2.9h-2.9zM607 780h2.9v2.9h-2.9zM600.7 788.4h2.9v2.9h-2.9zM626.8 771.9h2.9v2.9h-2.9zM628.7 781.7h2.9v2.9h-2.9zM634 778.7h2.9v2.9h-2.9zM627.2 789.8h2.9v2.9h-2.9zM632.4 780.4h2.9v2.9h-2.9zM640.2 776.5h2.9v2.9h-2.9zM617.9 782.3h2.9v2.9h-2.9zM606.2 786.7h2.9v2.9h-2.9zM634.9 778.2h2.9v2.9h-2.9zM646.7 776.2h2.9v2.9h-2.9zM630 779h2.9v2.9h-2.9zM629.8 780.4h2.9v2.9h-2.9zM613.4 783.7h2.9v2.9h-2.9zM604.1 783h2.9v2.9h-2.9zM620.5 773.6h2.9v2.9h-2.9zM627.4 780.4h2.9v2.9h-2.9zM618.4 786.1h2.9v2.9h-2.9zM621.6 771.2h2.9v2.9h-2.9zM641.3 774.1h2.9v2.9h-2.9zM617.4 769.7h2.9v2.9h-2.9zM635.4 780.1h2.9v2.9h-2.9zM640.3 782.1h2.9v2.9h-2.9zM606.8 776.4h2.9v2.9h-2.9zM620.9 780.7h2.9v2.9h-2.9zM631.3 776.6h2.9v2.9h-2.9zM612.9 782.6h2.9v2.9h-2.9zM630.8 785.2h2.9v2.9h-2.9zM622.4 778.3h2.9v2.9h-2.9zM648.3 776.4h2.9v2.9h-2.9zM622.5 777.1h2.9v2.9h-2.9zM620.8 780h2.9v2.9h-2.9zM636.2 782.7h2.9v2.9h-2.9zM623.2 779.6h2.9v2.9h-2.9zM633.6 782.7h2.9v2.9h-2.9zM626.1 768.3h2.9v2.9h-2.9zM641.6 778.7h2.9v2.9h-2.9zM629.8 776.1h2.9v2.9h-2.9zM605.9 787.6h2.9v2.9h-2.9zM621.6 776.8h2.9v2.9h-2.9zM643.1 778.6h2.9v2.9h-2.9zM639.7 781.2h2.9v2.9h-2.9zM619 773.5h2.9v2.9h-2.9zM625.3 786.5h2.9v2.9h-2.9zM625.5 776.8h2.9v2.9h-2.9zM601.4 776h2.9v2.9h-2.9zM636.8 780.2h2.9v2.9h-2.9zM636.7 776.8h2.9v2.9h-2.9zM637.3 775.9h2.9v2.9h-2.9zM606.4 782.9h2.9v2.9h-2.9zM631.2 772.6h2.9v2.9h-2.9zM630.2 782h2.9v2.9h-2.9zM620 783.1h2.9v2.9h-2.9zM607.1 781.3h2.9v2.9h-2.9zM647.5 780.5h2.9v2.9h-2.9zM617 782.5h2.9v2.9h-2.9zM623.9 786.4h2.9v2.9h-2.9zM633.7 783.4h2.9v2.9h-2.9zM626 771.5h2.9v2.9h-2.9zM627.9 786.5h2.9v2.9h-2.9zM646.2 780.2h2.9v2.9h-2.9zM603.4 782.5h2.9v2.9h-2.9zM644.8 776.6h2.9v2.9h-2.9zM610.1 772.9h2.9v2.9h-2.9zM643.9 784.2h2.9v2.9h-2.9zM605.2 776.7h2.9v2.9h-2.9zM640.1 784.6h2.9v2.9h-2.9zM616.9 781.9h2.9v2.9h-2.9zM621.3 780.3h2.9v2.9h-2.9zM635.9 781.4h2.9v2.9h-2.9zM630.6 782.3h2.9v2.9h-2.9zM632.9 785.9h2.9v2.9h-2.9zM603.5 788.5h2.9v2.9h-2.9zM635.3 780.8h2.9v2.9h-2.9zM625.4 780.8h2.9v2.9h-2.9zM628.5 782.6h2.9v2.9h-2.9zM643.1 766.1h2.9v2.9h-2.9zM625.8 781.2h2.9v2.9h-2.9zM636.7 788.5h2.9v2.9h-2.9zM605.3 784.7h2.9v2.9h-2.9zM641.5 784.3h2.9v2.9h-2.9zM627.1 775h2.9v2.9h-2.9zM646.7 786h2.9v2.9h-2.9zM601.6 777.9h2.9v2.9h-2.9zM600.5 778.1h2.9v2.9h-2.9zM613.3 780.4h2.9v2.9h-2.9zM616.2 784h2.9v2.9h-2.9zM616.6 776.7h2.9v2.9h-2.9zM634.8 778.7h2.9v2.9h-2.9zM613.5 783.2h2.9v2.9h-2.9zM597 783.4h2.9v2.9h-2.9zM630.7 767.9h2.9v2.9h-2.9zM623 773.1h2.9v2.9h-2.9zM617.3 781.9h2.9v2.9h-2.9zM615.1 781.5h2.9v2.9h-2.9zM639.8 780.9h2.9v2.9h-2.9zM609 774.2h2.9v2.9h-2.9zM627.5 787.1h2.9v2.9h-2.9zM624.1 773h2.9v2.9h-2.9zM628 785.8h2.9v2.9h-2.9zM616.2 771.3h2.9v2.9h-2.9zM609.5 773.7h2.9v2.9h-2.9zM627 778.4h2.9v2.9h-2.9zM640.2 776.9h2.9v2.9h-2.9zM590.8 772.5h2.9v2.9h-2.9zM627.6 779.4h2.9v2.9h-2.9zM648.1 776.1h2.9v2.9h-2.9zM635.7 774.5h2.9v2.9h-2.9zM610.1 780.8h2.9v2.9h-2.9zM600.9 780.4h2.9v2.9h-2.9zM613.2 777h2.9v2.9h-2.9zM619.6 785.6h2.9v2.9h-2.9zM634.1 780.8h2.9v2.9h-2.9zM633.8 779.6h2.9v2.9h-2.9zM633.1 779.4h2.9v2.9h-2.9zM647.1 777.7h2.9v2.9h-2.9zM619.4 786h2.9v2.9h-2.9zM627.8 779.9h2.9v2.9h-2.9zM638.6 779.2h2.9v2.9h-2.9zM636.1 778.7h2.9v2.9h-2.9zM625.8 785.7h2.9v2.9h-2.9zM624.4 790.9h2.9v2.9h-2.9zM614.6 778.7h2.9v2.9h-2.9zM641.7 779.4h2.9v2.9h-2.9zM638.4 778.2h2.9v2.9h-2.9zM641.9 778.4h2.9v2.9h-2.9zM638.7 779.7h2.9v2.9h-2.9zM634.6 765.6h2.9v2.9h-2.9zM647.8 773.7h2.9v2.9h-2.9zM626.8 776h2.9v2.9h-2.9zM633.7 778.7h2.9v2.9h-2.9zM623.9 774.7h2.9v2.9h-2.9zM610.3 776.3h2.9v2.9h-2.9zM627.4 780.8h2.9v2.9h-2.9zM643.1 787.4h2.9v2.9h-2.9zM638.7 776.2h2.9v2.9h-2.9zM591.3 782h2.9v2.9h-2.9zM617.7 779h2.9v2.9h-2.9zM628.6 786.6h2.9v2.9h-2.9zM620.4 776.2h2.9v2.9h-2.9zM646.8 774.8h2.9v2.9h-2.9zM621.8 784.8h2.9v2.9h-2.9zM607.9 773h2.9v2.9h-2.9zM620.7 785h2.9v2.9h-2.9zM639.2 779.1h2.9v2.9h-2.9zM631.7 775.7h2.9v2.9h-2.9zM618.9 778.4h2.9v2.9h-2.9zM621.2 780.4h2.9v2.9h-2.9zM625.6 785.3h2.9v2.9h-2.9zM644.1 787.4h2.9v2.9h-2.9zM616.3 772.6h2.9v2.9h-2.9zM621.9 778.4h2.9v2.9h-2.9zM638.5 783.5h2.9v2.9h-2.9zM634.3 778.2h2.9v2.9h-2.9zM630.8 775.9h2.9v2.9h-2.9zM645.9 775.5h2.9v2.9h-2.9zM619.5 778.2h2.9v2.9h-2.9zM641.3 779.1h2.9v2.9h-2.9zM636.9 777h2.9v2.9h-2.9zM631.8 782.5h2.9v2.9h-2.9zM612.6 786.4h2.9v2.9h-2.9zM634.8 779.2h2.9v2.9h-2.9zM629.1 777.8h2.9v2.9h-2.9zM589 783h2.9v2.9h-2.9zM637.6 776.8h2.9v2.9h-2.9zM641 782.3h2.9v2.9h-2.9zM647.9 771.3h2.9v2.9h-2.9zM637.6 785h2.9v2.9h-2.9zM623.7 780.2h2.9v2.9h-2.9zM626.3 780.2h2.9v2.9h-2.9zM636 782.3h2.9v2.9h-2.9zM636.4 783.4h2.9v2.9h-2.9zM641.2 777.3h2.9v2.9h-2.9zM634.5 775.2h2.9v2.9h-2.9zM596.9 782.7h2.9v2.9h-2.9zM606 771.4h2.9v2.9h-2.9zM632.1 781.6h2.9v2.9h-2.9zM634.5 776.8h2.9v2.9h-2.9zM646.4 777.1h2.9v2.9h-2.9zM640.9 780.3h2.9v2.9h-2.9zM613.2 779.4h2.9v2.9h-2.9zM596.4 781.8h2.9v2.9h-2.9zM644.1 771.8h2.9v2.9h-2.9zM616.5 777.7h2.9v2.9h-2.9zM622.7 780.8h2.9v2.9h-2.9zM634.3 780.8h2.9v2.9h-2.9zM614.7 780.6h2.9v2.9h-2.9zM631 777.7h2.9v2.9h-2.9zM635.8 780.2h2.9v2.9h-2.9zM615.7 784.9h2.9v2.9h-2.9zM622 789.8h2.9v2.9h-2.9zM599 774.4h2.9v2.9h-2.9zM635.5 775.3h2.9v2.9h-2.9zM596 779.1h2.9v2.9h-2.9zM635.7 777.6h2.9v2.9h-2.9zM609.6 769h2.9v2.9h-2.9zM619 773.7h2.9v2.9h-2.9zM642.8 770.1h2.9v2.9h-2.9zM613.4 784.2h2.9v2.9h-2.9zM639.6 774.3h2.9v2.9h-2.9zM604.8 789.9h2.9v2.9h-2.9zM622.5 771.3h2.9v2.9h-2.9zM628.1 777h2.9v2.9h-2.9zM620.6 777.4h2.9v2.9h-2.9zM637.5 780.4h2.9v2.9h-2.9zM596.6 777h2.9v2.9h-2.9zM624.1 786.1h2.9v2.9h-2.9zM594.6 781.3h2.9v2.9h-2.9zM600.9 784.8h2.9v2.9h-2.9zM635.8 781.9h2.9v2.9h-2.9zM595 782.1h2.9v2.9h-2.9zM620.2 788h2.9v2.9h-2.9zM629 775.9h2.9v2.9h-2.9zM642.8 788.1h2.9v2.9h-2.9zM648.1 777.7h2.9v2.9h-2.9zM635.9 772.4h2.9v2.9h-2.9zM609.5 781.6h2.9v2.9h-2.9zM644 781.2h2.9v2.9h-2.9zM632.8 776.7h2.9v2.9h-2.9zM613.9 776.8h2.9v2.9h-2.9zM628.4 787.6h2.9v2.9h-2.9zM608.2 783.7h2.9v2.9h-2.9zM628.5 786.5h2.9v2.9h-2.9zM623.1 788.8h2.9v2.9h-2.9zM635.9 775.6h2.9v2.9h-2.9zM620.4 774.2h2.9v2.9h-2.9zM649 781h2.9v2.9h-2.9zM644.7 787.8h2.9v2.9h-2.9zM621.8 775.1h2.9v2.9h-2.9zM594.9 783.4h2.9v2.9h-2.9zM606.4 785h2.9v2.9h-2.9zM642.7 781.2h2.9v2.9h-2.9zM645.4 775.4h2.9v2.9h-2.9zM639 779.6h2.9v2.9h-2.9zM646.4 785.5h2.9v2.9h-2.9zM630.2 787.5h2.9v2.9h-2.9zM619.3 782.7h2.9v2.9h-2.9zM604 773.4h2.9v2.9h-2.9zM645.7 776.9h2.9v2.9h-2.9zM608.4 772.4h2.9v2.9h-2.9zM640.2 786.2h2.9v2.9h-2.9zM611.1 781.8h2.9v2.9h-2.9zM634.6 772.1h2.9v2.9h-2.9zM623.6 782.5h2.9v2.9h-2.9zM604 781.6h2.9v2.9h-2.9zM632.8 779.8h2.9v2.9h-2.9zM630.7 783.5h2.9v2.9h-2.9zM631.6 785.9h2.9v2.9h-2.9zM602 776h2.9v2.9h-2.9zM649 784.9h2.9v2.9h-2.9zM642.7 776.2h2.9v2.9h-2.9zM619.7 774.4h2.9v2.9h-2.9zM627.6 782.6h2.9v2.9h-2.9zM637.1 783.9h2.9v2.9h-2.9zM609.6 775.5h2.9v2.9h-2.9zM641 790.3h2.9v2.9h-2.9zM647.5 785.6h2.9v2.9h-2.9zM622.5 781.4h2.9v2.9h-2.9zM637.2 779.9h2.9v2.9h-2.9zM623 784.7h2.9v2.9h-2.9zM643.2 777.8h2.9v2.9h-2.9zM644.8 777.1h2.9v2.9h-2.9zM627 779.6h2.9v2.9h-2.9zM633.6 778.7h2.9v2.9h-2.9zM614.5 769.1h2.9v2.9h-2.9zM640.8 771.1h2.9v2.9h-2.9zM640.2 779.4h2.9v2.9h-2.9zM620.9 782.8h2.9v2.9h-2.9zM640.7 776.7h2.9v2.9h-2.9zM632.4 775.4h2.9v2.9h-2.9zM633.6 780.3h2.9v2.9h-2.9zM643.6 777.2h2.9v2.9h-2.9zM583.4 776.2h2.9v2.9h-2.9zM640.5 781.5h2.9v2.9h-2.9zM643.1 779.8h2.9v2.9h-2.9zM611.7 775.3h2.9v2.9h-2.9zM634.7 781.5h2.9v2.9h-2.9zM625.1 780.7h2.9v2.9h-2.9zM618.5 778.5h2.9v2.9h-2.9zM634.1 774.3h2.9v2.9h-2.9zM636.7 783h2.9v2.9h-2.9zM611.9 783h2.9v2.9h-2.9zM604 787.6h2.9v2.9h-2.9zM638.8 780.6h2.9v2.9h-2.9zM637.1 771.6h2.9v2.9h-2.9zM641.3 770.9h2.9v2.9h-2.9zM596.8 777.2h2.9v2.9h-2.9zM611 783.3h2.9v2.9h-2.9zM636.4 779.9h2.9v2.9h-2.9zM617.9 782.4h2.9v2.9h-2.9zM638.8 775.9h2.9v2.9h-2.9zM642 783.5h2.9v2.9h-2.9zM624.8 778.5h2.9v2.9h-2.9zM641.2 782.4h2.9v2.9h-2.9zM618.9 782.4h2.9v2.9h-2.9zM636.2 781.1h2.9v2.9h-2.9zM637.2 784.3h2.9v2.9h-2.9zM629.9 771h2.9v2.9h-2.9zM622.3 780.9h2.9v2.9h-2.9zM610.6 774.4h2.9v2.9h-2.9zM609.9 777.8h2.9v2.9h-2.9zM624.4 782.6h2.9v2.9h-2.9zM629.1 777h2.9v2.9h-2.9zM627.2 778.9h2.9v2.9h-2.9zM626.2 779.5h2.9v2.9h-2.9zM635.3 782.7h2.9v2.9h-2.9zM637.8 790.1h2.9v2.9h-2.9zM642.3 770.6h2.9v2.9h-2.9zM625 785.9h2.9v2.9h-2.9zM606.7 779.4h2.9v2.9h-2.9zM642 777.5h2.9v2.9h-2.9zM603.4 784.3h2.9v2.9h-2.9zM634.6 787.2h2.9v2.9h-2.9zM642.7 781.3h2.9v2.9h-2.9zM643.6 776.8h2.9v2.9h-2.9zM623.9 781.4h2.9v2.9h-2.9zM646.2 786.6h2.9v2.9h-2.9zM613.1 777h2.9v2.9h-2.9zM635.7 771.5h2.9v2.9h-2.9zM620.2 774.2h2.9v2.9h-2.9zM640.5 775.3h2.9v2.9h-2.9zM632.8 781.2h2.9v2.9h-2.9zM626.8 775.2h2.9v2.9h-2.9zM646.8 773.5h2.9v2.9h-2.9zM632.4 778.3h2.9v2.9h-2.9zM607.2 772h2.9v2.9h-2.9zM621.3 776.9h2.9v2.9h-2.9zM620.2 785.7h2.9v2.9h-2.9zM648.2 784.1h2.9v2.9h-2.9zM643.8 782.6h2.9v2.9h-2.9zM600.9 783.1h2.9v2.9h-2.9zM632.4 772.5h2.9v2.9h-2.9zM587.4 787.1h2.9v2.9h-2.9zM642.3 785.6h2.9v2.9h-2.9zM624.8 778.7h2.9v2.9h-2.9zM629.2 784.2h2.9v2.9h-2.9zM625 774.1h2.9v2.9h-2.9zM635 782.8h2.9v2.9h-2.9zM631 770.2h2.9v2.9h-2.9zM603.1 773.6h2.9v2.9h-2.9zM646.4 774.5h2.9v2.9h-2.9zM626.7 789.8h2.9v2.9h-2.9zM622.8 780h2.9v2.9h-2.9zM631.7 779.5h2.9v2.9h-2.9zM633.4 773.5h2.9v2.9h-2.9zM635.2 777h2.9v2.9h-2.9zM609.1 780.8h2.9v2.9h-2.9zM635.3 782.4h2.9v2.9h-2.9zM594 778.5h2.9v2.9h-2.9zM630.4 777.8h2.9v2.9h-2.9zM627.4 783.3h2.9v2.9h-2.9zM622 777.1h2.9v2.9h-2.9zM628.5 782.4h2.9v2.9h-2.9zM625.4 782.2h2.9v2.9h-2.9zM643.8 783h2.9v2.9h-2.9zM648.6 781.6h2.9v2.9h-2.9zM622.7 778.6h2.9v2.9h-2.9zM639.6 778.5h2.9v2.9h-2.9zM630.2 776.1h2.9v2.9h-2.9zM640.1 781.7h2.9v2.9h-2.9zM643.9 777.1h2.9v2.9h-2.9zM628.5 776.7h2.9v2.9h-2.9zM648.9 779.7h2.9v2.9h-2.9zM623.3 785.1h2.9v2.9h-2.9zM618.9 774.6h2.9v2.9h-2.9zM635 785h2.9v2.9h-2.9zM616.2 783.9h2.9v2.9h-2.9zM639.7 778.2h2.9v2.9h-2.9zM637.2 782.1h2.9v2.9h-2.9zM631.7 786.3h2.9v2.9h-2.9zM637.6 776h2.9v2.9h-2.9zM632.5 781.8h2.9v2.9h-2.9zM619.7 783.3h2.9v2.9h-2.9zM630.9 775.8h2.9v2.9h-2.9zM630.3 787.4h2.9v2.9h-2.9zM613.2 781.7h2.9v2.9h-2.9zM631 778.6h2.9v2.9h-2.9zM638.8 773.9h2.9v2.9h-2.9zM613.7 781h2.9v2.9h-2.9zM608.3 775.9h2.9v2.9h-2.9zM635.4 782.6h2.9v2.9h-2.9zM620.2 778.6h2.9v2.9h-2.9zM635.3 783.8h2.9v2.9h-2.9zM616 780.4h2.9v2.9h-2.9zM617.7 779.6h2.9v2.9h-2.9zM613.9 788h2.9v2.9h-2.9zM630.3 772.1h2.9v2.9h-2.9zM614.9 780.6h2.9v2.9h-2.9zM611.8 778.9h2.9v2.9h-2.9zM583.6 780.2h2.9v2.9h-2.9zM648.2 780.5h2.9v2.9h-2.9zM619.1 783.4h2.9v2.9h-2.9zM601.2 780.3h2.9v2.9h-2.9zM648.8 772.3h2.9v2.9h-2.9zM621.6 783.8h2.9v2.9h-2.9zM617.4 770.9h2.9v2.9h-2.9zM641.8 781.8h2.9v2.9h-2.9zM630.5 784.3h2.9v2.9h-2.9zM648 784.2h2.9v2.9h-2.9zM621.2 780h2.9v2.9h-2.9zM614.8 780.8h2.9v2.9h-2.9zM628.9 777.6h2.9v2.9h-2.9zM627.9 782.3h2.9v2.9h-2.9zM642.1 776h2.9v2.9h-2.9zM639.4 774.7h2.9v2.9h-2.9zM628.5 776.7h2.9v2.9h-2.9zM646.1 777.2h2.9v2.9h-2.9zM632.8 779.4h2.9v2.9h-2.9zM621.6 780.8h2.9v2.9h-2.9zM624.1 787.4h2.9v2.9h-2.9zM624.2 787.8h2.9v2.9h-2.9zM640 780h2.9v2.9h-2.9zM606.9 778.3h2.9v2.9h-2.9zM602.9 777.5h2.9v2.9h-2.9zM631.3 781.1h2.9v2.9h-2.9zM609.8 790.1h2.9v2.9h-2.9zM637.5 776.9h2.9v2.9h-2.9zM642.9 778.1h2.9v2.9h-2.9zM646.4 777.9h2.9v2.9h-2.9zM612 779.3h2.9v2.9h-2.9zM606.7 772.5h2.9v2.9h-2.9zM622.4 780.8h2.9v2.9h-2.9zM633.5 779.3h2.9v2.9h-2.9zM626.6 780.3h2.9v2.9h-2.9zM614.9 767h2.9v2.9h-2.9zM628.1 789.3h2.9v2.9h-2.9zM604 774.9h2.9v2.9h-2.9zM636.7 783.3h2.9v2.9h-2.9zM637.3 788.4h2.9v2.9h-2.9zM625.6 777h2.9v2.9h-2.9zM627.5 771.6h2.9v2.9h-2.9zM599 788.9h2.9v2.9h-2.9zM628 782h2.9v2.9h-2.9zM641.4 774.9h2.9v2.9h-2.9zM615.6 778.1h2.9v2.9h-2.9zM612.9 783.4h2.9v2.9h-2.9zM625.8 776.1h2.9v2.9h-2.9zM618.1 784.2h2.9v2.9h-2.9zM640.4 779.3h2.9v2.9h-2.9zM647 783.6h2.9v2.9h-2.9zM610.8 779.9h2.9v2.9h-2.9zM625.9 781.7h2.9v2.9h-2.9zM635 774.6h2.9v2.9h-2.9zM647.8 781.1h2.9v2.9h-2.9zM642.6 774.4h2.9v2.9h-2.9zM629.5 780.1h2.9v2.9h-2.9zM644.5 780.5h2.9v2.9h-2.9zM630.8 782.4h2.9v2.9h-2.9zM634.6 771.8h2.9v2.9h-2.9zM635.7 777.4h2.9v2.9h-2.9zM600.1 782.6h2.9v2.9h-2.9zM624.8 786.1h2.9v2.9h-2.9zM619.3 773.3h2.9v2.9h-2.9zM621.9 784h2.9v2.9h-2.9zM635.6 778.5h2.9v2.9h-2.9zM644.8 785.4h2.9v2.9h-2.9zM621.4 790.2h2.9v2.9h-2.9zM613.2 782.4h2.9v2.9h-2.9zM619 777.9h2.9v2.9h-2.9zM616.6 777.8h2.9v2.9h-2.9zM634 767.7h2.9v2.9h-2.9zM618.2 776h2.9v2.9h-2.9zM638.5 783.9h2.9v2.9h-2.9zM620.9 774.8h2.9v2.9h-2.9zM629.4 778.3h2.9v2.9h-2.9zM630.6 780.6h2.9v2.9h-2.9zM631.4 779.6h2.9v2.9h-2.9zM625.9 773.5h2.9v2.9h-2.9zM635.8 777.5h2.9v2.9h-2.9zM642.9 786.2h2.9v2.9h-2.9zM641.2 771.4h2.9v2.9h-2.9zM626 785.5h2.9v2.9h-2.9zM637.9 777.8h2.9v2.9h-2.9zM637.7 778.7h2.9v2.9h-2.9zM638.5 777.5h2.9v2.9h-2.9zM610.3 785.9h2.9v2.9h-2.9zM640.5 784.6h2.9v2.9h-2.9zM638.5 783.3h2.9v2.9h-2.9zM595.9 770.4h2.9v2.9h-2.9zM617.3 776.5h2.9v2.9h-2.9zM620.2 781h2.9v2.9h-2.9zM628.7 777.5h2.9v2.9h-2.9zM625.6 782.3h2.9v2.9h-2.9zM632.9 778.3h2.9v2.9h-2.9zM622.4 777.4h2.9v2.9h-2.9zM634.8 779.7h2.9v2.9h-2.9zM621.9 778h2.9v2.9h-2.9zM626.7 774h2.9v2.9h-2.9zM637.8 786.2h2.9v2.9h-2.9zM637.2 784.3h2.9v2.9h-2.9zM623.5 776.2h2.9v2.9h-2.9zM629.7 780.5h2.9v2.9h-2.9zM648.2 777.9h2.9v2.9h-2.9zM623.3 785.1h2.9v2.9h-2.9zM647.6 771.3h2.9v2.9h-2.9zM617.5 781.4h2.9v2.9h-2.9zM625.8 786.6h2.9v2.9h-2.9zM635.3 782.8h2.9v2.9h-2.9zM608 779.3h2.9v2.9h-2.9zM615.3 764.5h2.9v2.9h-2.9zM625.4 779.9h2.9v2.9h-2.9zM640 780.1h2.9v2.9h-2.9zM626.8 779h2.9v2.9h-2.9zM625.7 771.4h2.9v2.9h-2.9zM610.7 775.7h2.9v2.9h-2.9zM644.1 779.2h2.9v2.9h-2.9zM643.2 782.9h2.9v2.9h-2.9zM641.5 780.4h2.9v2.9h-2.9zM633.7 784.5h2.9v2.9h-2.9zM637.7 773.6h2.9v2.9h-2.9zM616 784.6h2.9v2.9h-2.9zM610.7 777.5h2.9v2.9h-2.9zM616.1 784.8h2.9v2.9h-2.9zM606.9 777.4h2.9v2.9h-2.9zM645.2 779.3h2.9v2.9h-2.9zM607.4 778.7h2.9v2.9h-2.9zM611.6 778h2.9v2.9h-2.9zM629.6 775.7h2.9v2.9h-2.9zM628.8 779.7h2.9v2.9h-2.9zM621.5 784h2.9v2.9h-2.9zM614.9 783.3h2.9v2.9h-2.9zM602.2 777.1h2.9v2.9h-2.9zM610.2 786.6h2.9v2.9h-2.9zM646 778h2.9v2.9h-2.9zM624.8 770.6h2.9v2.9h-2.9zM600.7 777.3h2.9v2.9h-2.9zM642.8 775.7h2.9v2.9h-2.9zM607.6 775.8h2.9v2.9h-2.9zM631.4 776.9h2.9v2.9h-2.9zM638.9 784.7h2.9v2.9h-2.9zM607.9 785.8h2.9v2.9h-2.9zM641.1 779.7h2.9v2.9h-2.9zM628.5 779.7h2.9v2.9h-2.9zM620.7 776.1h2.9v2.9h-2.9zM631.6 786h2.9v2.9h-2.9zM607.8 781.4h2.9v2.9h-2.9zM615.5 772.1h2.9v2.9h-2.9zM605.5 787.6h2.9v2.9h-2.9zM623.9 777.6h2.9v2.9h-2.9zM648.7 773.2h2.9v2.9h-2.9zM618.7 782.7h2.9v2.9h-2.9zM642.2 776.8h2.9v2.9h-2.9zM619 783.2h2.9v2.9h-2.9zM624.3 776.5h2.9v2.9h-2.9zM596 776.9h2.9v2.9h-2.9zM594.4 782.2h2.9v2.9h-2.9zM622.6 787.5h2.9v2.9h-2.9zM641.7 780.1h2.9v2.9h-2.9zM630.7 776.7h2.9v2.9h-2.9zM644.6 779.2h2.9v2.9h-2.9zM605.3 777.7h2.9v2.9h-2.9zM624.5 777.2h2.9v2.9h-2.9zM621.5 780.2h2.9v2.9h-2.9zM610.3 777.1h2.9v2.9h-2.9zM632.9 789.9h2.9v2.9h-2.9zM626 777.4h2.9v2.9h-2.9zM600.8 785.8h2.9v2.9h-2.9zM614.8 779.7h2.9v2.9h-2.9zM635.9 776.5h2.9v2.9h-2.9zM611.1 777.7h2.9v2.9h-2.9zM632 779.8h2.9v2.9h-2.9zM628.9 774.5h2.9v2.9h-2.9zM611.8 777h2.9v2.9h-2.9zM627.2 780.5h2.9v2.9h-2.9zM626.5 781h2.9v2.9h-2.9zM634 784.5h2.9v2.9h-2.9zM648.9 781.1h2.9v2.9h-2.9zM611.7 781.8h2.9v2.9h-2.9zM622.6 775.4h2.9v2.9h-2.9zM634.5 784.1h2.9v2.9h-2.9zM622.7 781.9h2.9v2.9h-2.9zM644 782.9h2.9v2.9h-2.9zM639.8 771.7h2.9v2.9h-2.9zM631.5 779.8h2.9v2.9h-2.9zM645.3 783.1h2.9v2.9h-2.9zM643.4 775.2h2.9v2.9h-2.9zM638.9 777.6h2.9v2.9h-2.9zM630.3 774.4h2.9v2.9h-2.9zM634.4 777.9h2.9v2.9h-2.9zM617.7 778.7h2.9v2.9h-2.9zM618.1 781.6h2.9v2.9h-2.9zM645.1 783h2.9v2.9h-2.9zM643.7 785h2.9v2.9h-2.9zM625.5 782.8h2.9v2.9h-2.9zM633.5 770.4h2.9v2.9h-2.9zM630.3 779.4h2.9v2.9h-2.9zM603.6 780.9h2.9v2.9h-2.9zM588.5 776.1h2.9v2.9h-2.9zM641.6 783.9h2.9v2.9h-2.9zM633.8 783.9h2.9v2.9h-2.9zM648.3 778.2h2.9v2.9h-2.9zM643 778.5h2.9v2.9h-2.9zM637.5 772.4h2.9v2.9h-2.9zM644.3 785.4h2.9v2.9h-2.9zM604.2 783.8h2.9v2.9h-2.9zM592.7 781h2.9v2.9h-2.9zM615.9 776.5h2.9v2.9h-2.9zM642.3 773.7h2.9v2.9h-2.9zM620.3 776.1h2.9v2.9h-2.9zM638.6 773.3h2.9v2.9h-2.9zM621.3 777.6h2.9v2.9h-2.9zM642 763.8h2.9v2.9h-2.9zM635.4 769.2h2.9v2.9h-2.9zM630.6 779.3h2.9v2.9h-2.9zM598.9 779.5h2.9v2.9h-2.9zM590.8 773.3h2.9v2.9h-2.9zM634.1 780.7h2.9v2.9h-2.9zM630 785.9h2.9v2.9h-2.9zM648.8 778.5h2.9v2.9h-2.9zM632.1 773.8h2.9v2.9h-2.9zM615 773h2.9v2.9h-2.9zM640.5 787.6h2.9v2.9h-2.9zM620.9 785.4h2.9v2.9h-2.9zM645.4 785.4h2.9v2.9h-2.9zM639.7 787.2h2.9v2.9h-2.9zM626.3 771.8h2.9v2.9h-2.9zM624.1 780.1h2.9v2.9h-2.9zM629.3 782.5h2.9v2.9h-2.9zM623.3 783.6h2.9v2.9h-2.9zM628 774.2h2.9v2.9h-2.9zM613 781.8h2.9v2.9h-2.9zM616.8 776.3h2.9v2.9h-2.9zM626.6 780h2.9v2.9h-2.9zM621.1 772h2.9v2.9h-2.9zM643.1 781.2h2.9v2.9h-2.9zM622.9 776h2.9v2.9h-2.9zM622 777.3h2.9v2.9h-2.9zM616.7 774.9h2.9v2.9h-2.9zM619.1 787.3h2.9v2.9h-2.9zM616.6 781.2h2.9v2.9h-2.9zM606.5 780.7h2.9v2.9h-2.9zM611.4 777.3h2.9v2.9h-2.9zM616.4 779.1h2.9v2.9h-2.9zM593.4 779.7h2.9v2.9h-2.9zM643 774.6h2.9v2.9h-2.9zM634.7 776h2.9v2.9h-2.9zM620 773.2h2.9v2.9h-2.9zM626.2 782.1h2.9v2.9h-2.9zM628.1 773.1h2.9v2.9h-2.9zM617 772.9h2.9v2.9h-2.9zM611.3 772.8h2.9v2.9h-2.9zM636.8 784.7h2.9v2.9h-2.9zM639.9 774.1h2.9v2.9h-2.9zM639.3 782.4h2.9v2.9h-2.9zM635.1 775.6h2.9v2.9h-2.9zM621.2 780.9h2.9v2.9h-2.9zM646 777.2h2.9v2.9h-2.9zM599.6 770.2h2.9v2.9h-2.9zM633 781.9h2.9v2.9h-2.9zM621 777h2.9v2.9h-2.9zM639.9 783.1h2.9v2.9h-2.9zM603.6 783.7h2.9v2.9h-2.9zM630.8 786.1h2.9v2.9h-2.9zM616 777.6h2.9v2.9h-2.9zM640.8 780.7h2.9v2.9h-2.9zM630 778.7h2.9v2.9h-2.9zM594.2 774.9h2.9v2.9h-2.9zM634.7 783.2h2.9v2.9h-2.9zM592.7 780.4h2.9v2.9h-2.9zM642.5 787h2.9v2.9h-2.9zM638.5 781.4h2.9v2.9h-2.9zM638 779.2h2.9v2.9h-2.9zM637.1 780.5h2.9v2.9h-2.9zM629 769h2.9v2.9h-2.9zM598.7 771.7h2.9v2.9h-2.9zM645.9 780.2h2.9v2.9h-2.9zM639.1 775.8h2.9v2.9h-2.9zM648.7 775.2h2.9v2.9h-2.9zM612.4 774.8h2.9v2.9h-2.9zM623.6 776.2h2.9v2.9h-2.9zM639.2 782h2.9v2.9h-2.9zM597 782h2.9v2.9h-2.9zM622.4 781.7h2.9v2.9h-2.9zM582.7 776.3h2.9v2.9h-2.9zM625.7 781.7h2.9v2.9h-2.9zM645.4 781.7h2.9v2.9h-2.9zM632.2 788.3h2.9v2.9h-2.9zM637.2 773.6h2.9v2.9h-2.9zM601.2 773.8h2.9v2.9h-2.9zM607.2 773.8h2.9v2.9h-2.9zM616.3 782.1h2.9v2.9h-2.9zM631.1 783.3h2.9v2.9h-2.9zM621.6 782.4h2.9v2.9h-2.9zM622 778.7h2.9v2.9h-2.9zM641.3 786.9h2.9v2.9h-2.9zM628.9 775.8h2.9v2.9h-2.9zM599 784h2.9v2.9h-2.9zM641.9 781.1h2.9v2.9h-2.9zM647.8 777.1h2.9v2.9h-2.9zM628.8 779.4h2.9v2.9h-2.9zM644.6 783.2h2.9v2.9h-2.9zM620.5 782.8h2.9v2.9h-2.9zM640.9 775.7h2.9v2.9h-2.9zM632.5 782.6h2.9v2.9h-2.9zM630.1 781.8h2.9v2.9h-2.9zM626.7 781.9h2.9v2.9h-2.9zM626.1 776h2.9v2.9h-2.9zM641.6 781.6h2.9v2.9h-2.9zM643.9 784.1h2.9v2.9h-2.9zM596.5 781.2h2.9v2.9h-2.9zM629.8 775.3h2.9v2.9h-2.9zM648.6 778h2.9v2.9h-2.9zM611.9 780.1h2.9v2.9h-2.9zM631.1 771h2.9v2.9h-2.9zM644.7 786.8h2.9v2.9h-2.9zM641.1 775.5h2.9v2.9h-2.9zM616.6 773.8h2.9v2.9h-2.9zM616.7 773.2h2.9v2.9h-2.9zM630.7 775.8h2.9v2.9h-2.9zM620.6 774.6h2.9v2.9h-2.9zM643.5 782.1h2.9v2.9h-2.9zM646.4 780.7h2.9v2.9h-2.9zM640.5 774.7h2.9v2.9h-2.9zM623.4 776.6h2.9v2.9h-2.9zM602.2 777.4h2.9v2.9h-2.9zM641.4 777h2.9v2.9h-2.9zM620.8 786.1h2.9v2.9h-2.9zM613.2 778.7h2.9v2.9h-2.9zM627.1 773.5h2.9v2.9h-2.9zM637.5 778.4h2.9v2.9h-2.9zM602.9 768.3h2.9v2.9h-2.9zM643.5 780.6h2.9v2.9h-2.9zM618.6 775.1h2.9v2.9h-2.9zM625.8 787.1h2.9v2.9h-2.9zM611.8 780.7h2.9v2.9h-2.9zM619 770.7h2.9v2.9h-2.9zM590.4 775.2h2.9v2.9h-2.9zM606.6 787.1h2.9v2.9h-2.9zM638.1 780.9h2.9v2.9h-2.9zM626.7 780.5h2.9v2.9h-2.9zM643.4 780.6h2.9v2.9h-2.9zM634 785.3h2.9v2.9h-2.9zM629.3 781.3h2.9v2.9h-2.9zM646.6 783.2h2.9v2.9h-2.9zM639.4 779.4h2.9v2.9h-2.9zM638.8 782.6h2.9v2.9h-2.9zM605.4 769.8h2.9v2.9h-2.9zM625 779.2h2.9v2.9h-2.9zM611.2 773.1h2.9v2.9h-2.9zM622.8 775.8h2.9v2.9h-2.9zM587.1 777.9h2.9v2.9h-2.9zM633 781.5h2.9v2.9h-2.9zM608.5 782.9h2.9v2.9h-2.9zM634.9 784.2h2.9v2.9h-2.9zM624.7 781h2.9v2.9h-2.9zM631.6 772.1h2.9v2.9h-2.9zM645.9 780.9h2.9v2.9h-2.9zM628.1 771.3h2.9v2.9h-2.9zM614.5 784.9h2.9v2.9h-2.9zM640.3 783.7h2.9v2.9h-2.9zM635.2 781.9h2.9v2.9h-2.9zM614.7 773.6h2.9v2.9h-2.9zM638.2 781.4h2.9v2.9h-2.9zM608.5 783.4h2.9v2.9h-2.9zM623 779.5h2.9v2.9h-2.9zM622.9 783.3h2.9v2.9h-2.9zM638.3 788.2h2.9v2.9h-2.9zM626.3 783.8h2.9v2.9h-2.9zM636 778.4h2.9v2.9h-2.9zM615.7 779.3h2.9v2.9h-2.9zM621 775.5h2.9v2.9h-2.9zM613.6 786.9h2.9v2.9h-2.9zM628.8 791.8h2.9v2.9h-2.9zM615.7 779.6h2.9v2.9h-2.9zM627.5 789.7h2.9v2.9h-2.9zM614.4 778.3h2.9v2.9h-2.9zM613.5 784.3h2.9v2.9h-2.9zM612.8 786.9h2.9v2.9h-2.9zM622 780.2h2.9v2.9h-2.9zM642.5 780.2h2.9v2.9h-2.9zM634 784.7h2.9v2.9h-2.9zM632 778.9h2.9v2.9h-2.9zM639.3 780.3h2.9v2.9h-2.9zM632.6 776h2.9v2.9h-2.9zM632.9 781.4h2.9v2.9h-2.9zM606.5 780.9h2.9v2.9h-2.9zM624 788.2h2.9v2.9h-2.9zM616.8 781.7h2.9v2.9h-2.9zM646.8 783h2.9v2.9h-2.9zM626.8 783.2h2.9v2.9h-2.9zM631.3 787.3h2.9v2.9h-2.9zM637.2 782h2.9v2.9h-2.9zM621 775.7h2.9v2.9h-2.9zM621.2 771.4h2.9v2.9h-2.9zM637 774.9h2.9v2.9h-2.9zM642.7 785.7h2.9v2.9h-2.9zM612.5 776.3h2.9v2.9h-2.9zM622 775.4h2.9v2.9h-2.9zM642 778.2h2.9v2.9h-2.9zM632.4 778.5h2.9v2.9h-2.9zM643.9 785.1h2.9v2.9h-2.9zM631.6 785.1h2.9v2.9h-2.9zM623.4 768.3h2.9v2.9h-2.9zM638.6 778.1h2.9v2.9h-2.9zM608.6 780.2h2.9v2.9h-2.9zM619.4 782.8h2.9v2.9h-2.9zM647.7 783.1h2.9v2.9h-2.9zM615.7 770.4h2.9v2.9h-2.9zM623.7 783.5h2.9v2.9h-2.9zM646.7 776.9h2.9v2.9h-2.9zM633.4 783.7h2.9v2.9h-2.9zM615.6 769.6h2.9v2.9h-2.9zM614.3 786.3h2.9v2.9h-2.9zM628.2 777.1h2.9v2.9h-2.9zM623.5 777.5h2.9v2.9h-2.9zM648.3 779.9h2.9v2.9h-2.9zM587.7 772.7h2.9v2.9h-2.9zM626.9 778.8h2.9v2.9h-2.9zM618.6 777.3h2.9v2.9h-2.9zM647 782.4h2.9v2.9h-2.9zM633.9 771.4h2.9v2.9h-2.9zM622.4 786.7h2.9v2.9h-2.9zM617.6 777.3h2.9v2.9h-2.9zM634.3 781.8h2.9v2.9h-2.9zM636.8 777h2.9v2.9h-2.9zM621.8 778.9h2.9v2.9h-2.9zM594.4 777.7h2.9v2.9h-2.9zM633.5 779.6h2.9v2.9h-2.9zM632.1 780.4h2.9v2.9h-2.9zM644.2 783.8h2.9v2.9h-2.9zM624.6 783.8h2.9v2.9h-2.9zM628.2 778.4h2.9v2.9h-2.9zM629.4 778.8h2.9v2.9h-2.9zM625.6 780.8h2.9v2.9h-2.9zM624 786.9h2.9v2.9h-2.9zM624.5 777h2.9v2.9h-2.9zM639.9 783.5h2.9v2.9h-2.9zM631.6 777.2h2.9v2.9h-2.9zM644.5 785.5h2.9v2.9h-2.9zM623.3 778.9h2.9v2.9h-2.9zM639.3 776.9h2.9v2.9h-2.9zM621.6 775.4h2.9v2.9h-2.9zM644.1 776.4h2.9v2.9h-2.9zM623.1 781.5h2.9v2.9h-2.9zM634.6 783.8h2.9v2.9h-2.9zM641.3 771.8h2.9v2.9h-2.9zM636.3 781.3h2.9v2.9h-2.9zM611.6 769.5h2.9v2.9h-2.9zM603.4 783.7h2.9v2.9h-2.9zM624.4 776.5h2.9v2.9h-2.9zM637.3 774.9h2.9v2.9h-2.9zM626.7 783.6h2.9v2.9h-2.9zM645.2 785.3h2.9v2.9h-2.9zM595.8 777.8h2.9v2.9h-2.9zM622.4 773.4h2.9v2.9h-2.9zM620.1 783.8h2.9v2.9h-2.9zM624.5 787.8h2.9v2.9h-2.9zM622.1 780.8h2.9v2.9h-2.9zM636.1 781.5h2.9v2.9h-2.9zM636.2 785.3h2.9v2.9h-2.9zM619.2 779.6h2.9v2.9h-2.9zM618.3 781.2h2.9v2.9h-2.9zM617.1 775.4h2.9v2.9h-2.9zM611.7 779.4h2.9v2.9h-2.9zM640.7 783h2.9v2.9h-2.9zM628.3 779.7h2.9v2.9h-2.9zM618 779.3h2.9v2.9h-2.9zM633.3 780.8h2.9v2.9h-2.9zM633.8 782.1h2.9v2.9h-2.9zM638.1 782.6h2.9v2.9h-2.9zM644.2 776.9h2.9v2.9h-2.9zM609.7 783.8h2.9v2.9h-2.9zM605.4 775.6h2.9v2.9h-2.9zM630.6 778.7h2.9v2.9h-2.9zM621.8 777.6h2.9v2.9h-2.9zM636.2 770.3h2.9v2.9h-2.9zM637.3 777h2.9v2.9h-2.9zM628.2 776.1h2.9v2.9h-2.9zM629.1 781.5h2.9v2.9h-2.9zM629.6 782.1h2.9v2.9h-2.9zM639.5 778.9h2.9v2.9h-2.9zM644 776.7h2.9v2.9h-2.9zM635.8 782.5h2.9v2.9h-2.9zM605.8 783.4h2.9v2.9h-2.9zM642 784.7h2.9v2.9h-2.9zM606.8 777.2h2.9v2.9h-2.9zM598.5 777.8h2.9v2.9h-2.9zM641 782.4h2.9v2.9h-2.9zM612 771.2h2.9v2.9h-2.9zM636.1 782.1h2.9v2.9h-2.9zM627.1 787.3h2.9v2.9h-2.9zM614.1 775.9h2.9v2.9h-2.9zM603.2 778.6h2.9v2.9h-2.9zM604.6 778.7h2.9v2.9h-2.9zM623.7 773.6h2.9v2.9h-2.9zM634 776.9h2.9v2.9h-2.9zM631.1 785.8h2.9v2.9h-2.9zM616.9 786.9h2.9v2.9h-2.9zM634.3 779.7h2.9v2.9h-2.9zM596.9 779.2h2.9v2.9h-2.9zM642.5 777.7h2.9v2.9h-2.9zM593.6 779.6h2.9v2.9h-2.9zM622.8 789.4h2.9v2.9h-2.9zM646.4 785.8h2.9v2.9h-2.9zM613.4 788.6h2.9v2.9h-2.9zM619.6 780.6h2.9v2.9h-2.9zM616.9 785.1h2.9v2.9h-2.9zM623.4 784.4h2.9v2.9h-2.9zM613.8 785.2h2.9v2.9h-2.9zM644.9 775.8h2.9v2.9h-2.9zM638.8 780.8h2.9v2.9h-2.9zM615.2 776.2h2.9v2.9h-2.9zM634.5 777.6h2.9v2.9h-2.9zM609.6 778.9h2.9v2.9h-2.9zM620.9 781.7h2.9v2.9h-2.9zM638.1 774.6h2.9v2.9h-2.9zM641.6 778.2h2.9v2.9h-2.9zM619.3 779.6h2.9v2.9h-2.9zM625.3 785h2.9v2.9h-2.9zM632.8 772.2h2.9v2.9h-2.9zM611.3 780.7h2.9v2.9h-2.9zM608.3 788.1h2.9v2.9h-2.9zM638.4 787.2h2.9v2.9h-2.9zM597.1 776.6h2.9v2.9h-2.9zM637.2 777h2.9v2.9h-2.9zM644.2 775.8h2.9v2.9h-2.9zM622.2 787.1h2.9v2.9h-2.9zM602.3 780.2h2.9v2.9h-2.9zM612.4 773h2.9v2.9h-2.9zM616.3 772.2h2.9v2.9h-2.9zM642.5 779.7h2.9v2.9h-2.9zM621.9 780.8h2.9v2.9h-2.9zM642.8 784.5h2.9v2.9h-2.9zM618.7 778.8h2.9v2.9h-2.9zM626.4 776.7h2.9v2.9h-2.9zM610.9 778.1h2.9v2.9h-2.9zM640.6 777.8h2.9v2.9h-2.9zM639.4 780.6h2.9v2.9h-2.9zM638.5 779.9h2.9v2.9h-2.9zM626.2 782.5h2.9v2.9h-2.9zM615.8 779.6h2.9v2.9h-2.9zM624.5 786.7h2.9v2.9h-2.9zM631.9 782.5h2.9v2.9h-2.9zM616.2 782.3h2.9v2.9h-2.9zM646.2 778.3h2.9v2.9h-2.9zM599.4 775.3h2.9v2.9h-2.9zM645.8 782.3h2.9v2.9h-2.9zM613.6 782.8h2.9v2.9h-2.9zM638.5 788.9h2.9v2.9h-2.9zM638.4 774.5h2.9v2.9h-2.9zM623.2 782.4h2.9v2.9h-2.9zM626.5 785.3h2.9v2.9h-2.9zM608.6 789.4h2.9v2.9h-2.9zM609.8 787.4h2.9v2.9h-2.9zM614.3 769.7h2.9v2.9h-2.9zM628.4 786.5h2.9v2.9h-2.9zM606.5 778.8h2.9v2.9h-2.9zM627 781h2.9v2.9h-2.9zM625.9 780.1h2.9v2.9h-2.9zM639.8 775.7h2.9v2.9h-2.9zM634.7 775.1h2.9v2.9h-2.9zM638.3 769.4h2.9v2.9h-2.9zM637.9 768.6h2.9v2.9h-2.9zM639.5 785.7h2.9v2.9h-2.9zM607.5 777.3h2.9v2.9h-2.9zM643.5 777.6h2.9v2.9h-2.9zM625.7 771.1h2.9v2.9h-2.9zM630 787.7h2.9v2.9h-2.9zM627.9 773.3h2.9v2.9h-2.9zM636.2 781.6h2.9v2.9h-2.9zM630 781.3h2.9v2.9h-2.9zM634 788h2.9v2.9h-2.9zM641.2 779h2.9v2.9h-2.9zM627.1 784.4h2.9v2.9h-2.9zM595.3 781.6h2.9v2.9h-2.9zM628.8 785.8h2.9v2.9h-2.9zM643.5 779.1h2.9v2.9h-2.9zM625.7 779.1h2.9v2.9h-2.9zM643.8 780.9h2.9v2.9h-2.9zM620 779.3h2.9v2.9h-2.9zM597.5 777.1h2.9v2.9h-2.9zM631.2 784.1h2.9v2.9h-2.9zM616.9 780.4h2.9v2.9h-2.9zM638.9 777.2h2.9v2.9h-2.9zM646.5 779.5h2.9v2.9h-2.9zM616.3 777.2h2.9v2.9h-2.9zM642.8 779.3h2.9v2.9h-2.9zM615.9 779.9h2.9v2.9h-2.9zM629.7 775.5h2.9v2.9h-2.9zM614.7 780.6h2.9v2.9h-2.9zM616.4 781.3h2.9v2.9h-2.9zM625.8 770.9h2.9v2.9h-2.9zM616.3 777.4h2.9v2.9h-2.9zM622.4 778.4h2.9v2.9h-2.9zM620.7 782.3h2.9v2.9h-2.9zM634.5 772.5h2.9v2.9h-2.9zM615.8 775.1h2.9v2.9h-2.9zM629.2 783.7h2.9v2.9h-2.9zM633.1 782.8h2.9v2.9h-2.9zM647.7 773.6h2.9v2.9h-2.9zM604.1 782h2.9v2.9h-2.9zM615.1 773.7h2.9v2.9h-2.9zM611 783.9h2.9v2.9h-2.9zM611.8 786.2h2.9v2.9h-2.9zM595.7 777.7h2.9v2.9h-2.9zM615.4 778.7h2.9v2.9h-2.9zM630.7 786.8h2.9v2.9h-2.9zM639.1 779.2h2.9v2.9h-2.9zM614.6 786.2h2.9v2.9h-2.9zM632.5 778.7h2.9v2.9h-2.9zM637.8 778.1h2.9v2.9h-2.9zM602.1 778.7h2.9v2.9h-2.9zM615.4 778.6h2.9v2.9h-2.9zM628.7 776.9h2.9v2.9h-2.9zM611.8 775.2h2.9v2.9h-2.9zM631.5 786.5h2.9v2.9h-2.9zM626 776.6h2.9v2.9h-2.9zM633 777.7h2.9v2.9h-2.9zM620.1 771.8h2.9v2.9h-2.9zM627 776.5h2.9v2.9h-2.9zM633.4 776.7h2.9v2.9h-2.9zM643.2 781.8h2.9v2.9h-2.9zM614.2 782.4h2.9v2.9h-2.9zM625 782.3h2.9v2.9h-2.9zM634.8 782.1h2.9v2.9h-2.9zM610.9 780.1h2.9v2.9h-2.9zM633.2 776.8h2.9v2.9h-2.9zM608.8 781.5h2.9v2.9h-2.9zM609 779.7h2.9v2.9h-2.9zM622.4 785.1h2.9v2.9h-2.9zM615.5 784.5h2.9v2.9h-2.9zM641.2 778.8h2.9v2.9h-2.9zM639.5 776h2.9v2.9h-2.9zM637.7 774.9h2.9v2.9h-2.9zM635.8 774.9h2.9v2.9h-2.9zM629.4 776.4h2.9v2.9h-2.9zM633.4 785.9h2.9v2.9h-2.9zM633.1 782h2.9v2.9h-2.9zM615.1 778h2.9v2.9h-2.9zM619.1 783.6h2.9v2.9h-2.9zM620.4 781.3h2.9v2.9h-2.9zM617 773.6h2.9v2.9h-2.9zM610.9 777.3h2.9v2.9h-2.9zM615.9 785.5h2.9v2.9h-2.9zM618 774.3h2.9v2.9h-2.9zM612.7 777.5h2.9v2.9h-2.9zM625 779.2h2.9v2.9h-2.9zM629.9 781.4h2.9v2.9h-2.9zM618.1 782.1h2.9v2.9h-2.9zM636.6 784.1h2.9v2.9h-2.9zM646.8 772.6h2.9v2.9h-2.9zM633.4 775.7h2.9v2.9h-2.9zM625.3 782.6h2.9v2.9h-2.9zM640.4 781.9h2.9v2.9h-2.9zM612 775.3h2.9v2.9h-2.9zM637.1 777.2h2.9v2.9h-2.9zM619.7 781.3h2.9v2.9h-2.9zM624.7 781.2h2.9v2.9h-2.9zM617.7 779.9h2.9v2.9h-2.9zM642.6 780.2h2.9v2.9h-2.9zM637.7 784.5h2.9v2.9h-2.9zM633.9 784.9h2.9v2.9h-2.9zM626.4 777.8h2.9v2.9h-2.9zM623.2 777.4h2.9v2.9h-2.9zM639.1 785.8h2.9v2.9h-2.9zM612.2 785.1h2.9v2.9h-2.9zM629.2 786.6h2.9v2.9h-2.9zM642.8 782.3h2.9v2.9h-2.9zM623.4 785.8h2.9v2.9h-2.9zM639.2 775.2h2.9v2.9h-2.9zM630.4 781.5h2.9v2.9h-2.9zM609.3 784.8h2.9v2.9h-2.9zM636.5 777.3h2.9v2.9h-2.9zM626.9 785.1h2.9v2.9h-2.9zM645.2 781.7h2.9v2.9h-2.9zM615.9 782.7h2.9v2.9h-2.9zM620.9 787.4h2.9v2.9h-2.9zM612.5 775.3h2.9v2.9h-2.9zM637.7 773.8h2.9v2.9h-2.9zM641.5 781h2.9v2.9h-2.9zM621.9 777.4h2.9v2.9h-2.9zM640.4 780.1h2.9v2.9h-2.9zM610.7 782h2.9v2.9h-2.9zM614.4 778.6h2.9v2.9h-2.9zM631.8 789.1h2.9v2.9h-2.9zM631.2 782.2h2.9v2.9h-2.9zM644.9 782.5h2.9v2.9h-2.9zM640.8 776.3h2.9v2.9h-2.9zM634.7 783.4h2.9v2.9h-2.9zM611.4 774.8h2.9v2.9h-2.9zM639.7 777.9h2.9v2.9h-2.9zM635.2 778.6h2.9v2.9h-2.9zM631 789.8h2.9v2.9h-2.9zM640.8 770.4h2.9v2.9h-2.9zM603.4 774.1h2.9v2.9h-2.9zM622.6 779.6h2.9v2.9h-2.9zM612.2 784.7h2.9v2.9h-2.9zM606.5 783.2h2.9v2.9h-2.9zM616.7 783.3h2.9v2.9h-2.9zM629.4 787.1h2.9v2.9h-2.9zM641.3 783.1h2.9v2.9h-2.9zM630.8 782h2.9v2.9h-2.9zM597.7 775.1h2.9v2.9h-2.9zM627.7 772.1h2.9v2.9h-2.9zM609.9 783.6h2.9v2.9h-2.9zM642.9 778.4h2.9v2.9h-2.9zM639.5 783.4h2.9v2.9h-2.9zM608.9 776.3h2.9v2.9h-2.9zM629.6 783.9h2.9v2.9h-2.9zM610.7 781.7h2.9v2.9h-2.9zM635.8 785.9h2.9v2.9h-2.9zM627.2 777h2.9v2.9h-2.9zM600.5 774.1h2.9v2.9h-2.9zM638.5 785h2.9v2.9h-2.9zM635.4 783.6h2.9v2.9h-2.9zM618 789.1h2.9v2.9h-2.9zM635.1 782.2h2.9v2.9h-2.9zM634 783.6h2.9v2.9h-2.9zM628.4 781.8h2.9v2.9h-2.9zM624.5 779.4h2.9v2.9h-2.9zM637.3 779.9h2.9v2.9h-2.9zM639.9 778h2.9v2.9h-2.9zM639.9 786.9h2.9v2.9h-2.9zM619.8 775.9h2.9v2.9h-2.9zM604.3 788.6h2.9v2.9h-2.9zM623.3 775.5h2.9v2.9h-2.9zM633.9 784.3h2.9v2.9h-2.9zM638.6 768.4h2.9v2.9h-2.9zM645.8 781.2h2.9v2.9h-2.9zM640.6 777.1h2.9v2.9h-2.9zM623.5 780.2h2.9v2.9h-2.9zM606.1 782.1h2.9v2.9h-2.9zM621.7 775.4h2.9v2.9h-2.9zM634.1 778.7h2.9v2.9h-2.9zM629.3 783h2.9v2.9h-2.9zM617.5 774.8h2.9v2.9h-2.9zM646.9 774.9h2.9v2.9h-2.9zM647.7 776.3h2.9v2.9h-2.9zM628.3 778.8h2.9v2.9h-2.9zM639.1 786.1h2.9v2.9h-2.9zM613 784.5h2.9v2.9h-2.9zM637.3 779.3h2.9v2.9h-2.9zM621.3 780.1h2.9v2.9h-2.9zM624 782.9h2.9v2.9h-2.9zM618.3 781h2.9v2.9h-2.9zM620.5 776.5h2.9v2.9h-2.9zM645.3 777.5h2.9v2.9h-2.9zM633 775.1h2.9v2.9h-2.9zM647.5 777.2h2.9v2.9h-2.9zM624.5 773.5h2.9v2.9h-2.9zM638.2 778.6h2.9v2.9h-2.9zM618.4 782.1h2.9v2.9h-2.9zM640.8 783.1h2.9v2.9h-2.9zM624.7 775.2h2.9v2.9h-2.9zM626.7 769.7h2.9v2.9h-2.9zM644.6 774.9h2.9v2.9h-2.9zM634.3 777.2h2.9v2.9h-2.9zM618.8 785.1h2.9v2.9h-2.9zM641.7 779h2.9v2.9h-2.9zM618.8 781h2.9v2.9h-2.9zM633.3 788.4h2.9v2.9h-2.9zM595.6 783.2h2.9v2.9h-2.9zM618.2 780.4h2.9v2.9h-2.9zM634.3 784.1h2.9v2.9h-2.9zM644.4 784.1h2.9v2.9h-2.9zM637.5 785.3h2.9v2.9h-2.9zM648.4 775.1h2.9v2.9h-2.9zM631.4 781.7h2.9v2.9h-2.9zM593.5 780.7h2.9v2.9h-2.9zM635.8 781.9h2.9v2.9h-2.9zM608.9 786.2h2.9v2.9h-2.9zM630.4 779.8h2.9v2.9h-2.9zM641.6 782.7h2.9v2.9h-2.9zM637.2 776h2.9v2.9h-2.9zM625.2 775.9h2.9v2.9h-2.9zM631.7 786.3h2.9v2.9h-2.9zM645.3 785h2.9v2.9h-2.9zM623.4 776.2h2.9v2.9h-2.9zM630.4 775.5h2.9v2.9h-2.9zM607.9 777.2h2.9v2.9h-2.9zM626.8 779.6h2.9v2.9h-2.9zM601.7 780.9h2.9v2.9h-2.9zM624.6 773.5h2.9v2.9h-2.9zM597.4 778.4h2.9v2.9h-2.9zM635.1 781.5h2.9v2.9h-2.9zM616.5 781.2h2.9v2.9h-2.9zM599.3 785.2h2.9v2.9h-2.9zM644.5 786.1h2.9v2.9h-2.9zM633.2 777.2h2.9v2.9h-2.9zM621.1 782.3h2.9v2.9h-2.9zM639.1 777.6h2.9v2.9h-2.9zM631.1 778.9h2.9v2.9h-2.9zM645.3 773.4h2.9v2.9h-2.9zM599.8 782.8h2.9v2.9h-2.9zM623.3 774.9h2.9v2.9h-2.9zM639.8 774.9h2.9v2.9h-2.9zM609.9 785.4h2.9v2.9h-2.9zM638.6 779.3h2.9v2.9h-2.9zM645.4 787.1h2.9v2.9h-2.9zM626.7 784.2h2.9v2.9h-2.9zM641.2 771.2h2.9v2.9h-2.9zM614 788.3h2.9v2.9h-2.9zM648.1 777.4h2.9v2.9h-2.9zM647.9 778.8h2.9v2.9h-2.9zM622.3 779.8h2.9v2.9h-2.9zM606.9 780.8h2.9v2.9h-2.9zM606.2 781h2.9v2.9h-2.9zM644 771.5h2.9v2.9h-2.9zM626.7 779.4h2.9v2.9h-2.9zM595.5 778.7h2.9v2.9h-2.9zM643.2 774.7h2.9v2.9h-2.9zM594.5 777h2.9v2.9h-2.9zM606.5 781.5h2.9v2.9h-2.9zM636.3 775.7h2.9v2.9h-2.9zM642.1 778.4h2.9v2.9h-2.9zM626.7 777.3h2.9v2.9h-2.9zM637.1 782.8h2.9v2.9h-2.9zM621.1 783.2h2.9v2.9h-2.9zM646.3 784.3h2.9v2.9h-2.9zM635.4 776.5h2.9v2.9h-2.9zM618.5 777.1h2.9v2.9h-2.9zM640.9 779.9h2.9v2.9h-2.9zM627.7 784.7h2.9v2.9h-2.9zM606.1 775.4h2.9v2.9h-2.9zM624.3 781.5h2.9v2.9h-2.9zM613.6 781.8h2.9v2.9h-2.9zM627.4 783.6h2.9v2.9h-2.9zM620.3 779.6h2.9v2.9h-2.9zM632.7 777.3h2.9v2.9h-2.9zM624.1 785.3h2.9v2.9h-2.9zM649 783.2h2.9v2.9h-2.9zM635.5 778.8h2.9v2.9h-2.9zM616.8 786.9h2.9v2.9h-2.9zM644.7 785.2h2.9v2.9h-2.9zM635.9 779.6h2.9v2.9h-2.9zM631.4 781.1h2.9v2.9h-2.9zM645.1 769.1h2.9v2.9h-2.9zM641.1 779.5h2.9v2.9h-2.9zM637.6 772.5h2.9v2.9h-2.9zM643.6 778.7h2.9v2.9h-2.9zM631.5 777.1h2.9v2.9h-2.9zM647.1 779.9h2.9v2.9h-2.9zM647.5 776.7h2.9v2.9h-2.9zM640.3 768.5h2.9v2.9h-2.9zM602.7 784.2h2.9v2.9h-2.9zM636.4 771.7h2.9v2.9h-2.9zM642.8 787.9h2.9v2.9h-2.9zM625.7 783.1h2.9v2.9h-2.9zM613.7 779h2.9v2.9h-2.9zM647.8 783.7h2.9v2.9h-2.9zM632.9 778.7h2.9v2.9h-2.9zM618 785.5h2.9v2.9h-2.9zM624.3 779.4h2.9v2.9h-2.9zM603.9 777.2h2.9v2.9h-2.9zM628.1 777.6h2.9v2.9h-2.9zM627.3 778.7h2.9v2.9h-2.9zM618.3 776.6h2.9v2.9h-2.9zM632.6 787.8h2.9v2.9h-2.9zM638.6 780.3h2.9v2.9h-2.9zM638.7 788.9h2.9v2.9h-2.9zM639.2 776.6h2.9v2.9h-2.9zM637.7 783.9h2.9v2.9h-2.9zM633.3 781.5h2.9v2.9h-2.9zM616.1 776.5h2.9v2.9h-2.9zM616.6 770.7h2.9v2.9h-2.9zM631.6 783.2h2.9v2.9h-2.9zM632.5 779.3h2.9v2.9h-2.9zM641.5 775.2h2.9v2.9h-2.9zM630.6 773.5h2.9v2.9h-2.9zM626.1 783.5h2.9v2.9h-2.9zM609.2 773.3h2.9v2.9h-2.9zM642.8 768.7h2.9v2.9h-2.9zM608.7 778.4h2.9v2.9h-2.9zM635.1 770.5h2.9v2.9h-2.9zM638.2 779.2h2.9v2.9h-2.9zM634.5 778h2.9v2.9h-2.9zM591.4 776.3h2.9v2.9h-2.9zM601.5 774h2.9v2.9h-2.9zM628.2 776.7h2.9v2.9h-2.9zM631.1 779.7h2.9v2.9h-2.9zM608.7 776.8h2.9v2.9h-2.9zM623.7 775.6h2.9v2.9h-2.9zM630.9 773.7h2.9v2.9h-2.9zM627.6 775.7h2.9v2.9h-2.9zM649 773.1h2.9v2.9h-2.9zM635.3 783.1h2.9v2.9h-2.9zM643.4 779.5h2.9v2.9h-2.9zM648.2 774.6h2.9v2.9h-2.9zM634.4 780.4h2.9v2.9h-2.9zM639.3 778.2h2.9v2.9h-2.9zM598.2 789.3h2.9v2.9h-2.9zM647.1 774.5h2.9v2.9h-2.9zM609.4 774.7h2.9v2.9h-2.9zM630.6 778.6h2.9v2.9h-2.9zM640.6 785h2.9v2.9h-2.9zM632.4 786h2.9v2.9h-2.9zM641.8 784.6h2.9v2.9h-2.9zM617.6 773.8h2.9v2.9h-2.9zM639 774.8h2.9v2.9h-2.9zM619.2 773.5h2.9v2.9h-2.9zM630.8 783.1h2.9v2.9h-2.9zM608.1 775.3h2.9v2.9h-2.9zM638.8 780.5h2.9v2.9h-2.9zM616.4 781h2.9v2.9h-2.9zM643.5 778.3h2.9v2.9h-2.9zM618.7 774.4h2.9v2.9h-2.9zM620.3 777.6h2.9v2.9h-2.9zM641.7 781.3h2.9v2.9h-2.9zM618.5 781.2h2.9v2.9h-2.9zM614.4 788.6h2.9v2.9h-2.9zM631.1 777.5h2.9v2.9h-2.9zM629.8 776.9h2.9v2.9h-2.9zM644.8 780.3h2.9v2.9h-2.9zM647 788h2.9v2.9h-2.9zM626.6 783.3h2.9v2.9h-2.9zM643.1 780.4h2.9v2.9h-2.9zM632.2 775.1h2.9v2.9h-2.9zM632.4 771.8h2.9v2.9h-2.9zM626.7 774h2.9v2.9h-2.9zM616.4 779.4h2.9v2.9h-2.9zM634.3 780.6h2.9v2.9h-2.9zM624.3 783h2.9v2.9h-2.9zM635 778.5h2.9v2.9h-2.9zM636.7 769.8h2.9v2.9h-2.9zM633.8 774h2.9v2.9h-2.9zM648.7 776.4h2.9v2.9h-2.9zM604.9 779.6h2.9v2.9h-2.9zM640.1 777h2.9v2.9h-2.9zM634.3 777.7h2.9v2.9h-2.9zM624.3 773.4h2.9v2.9h-2.9zM620.5 779.4h2.9v2.9h-2.9zM644 778.4h2.9v2.9h-2.9zM639.4 782.5h2.9v2.9h-2.9zM629.8 779.8h2.9v2.9h-2.9zM649 788.3h2.9v2.9h-2.9zM603.5 784.2h2.9v2.9h-2.9zM645.7 770.9h2.9v2.9h-2.9zM631.2 779.5h2.9v2.9h-2.9zM621.5 779.5h2.9v2.9h-2.9zM632.1 779.5h2.9v2.9h-2.9zM644 788.3h2.9v2.9h-2.9zM630.1 785.9h2.9v2.9h-2.9zM624.8 773.6h2.9v2.9h-2.9zM630.7 779.7h2.9v2.9h-2.9zM617.4 776.6h2.9v2.9h-2.9zM629.8 776.3h2.9v2.9h-2.9zM631.1 789.1h2.9v2.9h-2.9zM614.1 767.5h2.9v2.9h-2.9zM642.7 787.9h2.9v2.9h-2.9zM634.3 778.2h2.9v2.9h-2.9zM621 781.5h2.9v2.9h-2.9zM624.9 776.1h2.9v2.9h-2.9zM628.4 778.2h2.9v2.9h-2.9zM630.9 770.7h2.9v2.9h-2.9zM623.6 778.7h2.9v2.9h-2.9zM630.5 778.8h2.9v2.9h-2.9zM630.7 770.1h2.9v2.9h-2.9zM639.4 786.1h2.9v2.9h-2.9zM646.7 771.7h2.9v2.9h-2.9zM640.7 780h2.9v2.9h-2.9zM647 775.5h2.9v2.9h-2.9zM609.5 779.5h2.9v2.9h-2.9zM624 780.4h2.9v2.9h-2.9zM630.3 777h2.9v2.9h-2.9zM638.8 788h2.9v2.9h-2.9zM614.4 780.9h2.9v2.9h-2.9zM625.1 782.7h2.9v2.9h-2.9zM623.1 773.8h2.9v2.9h-2.9zM602.6 774.3h2.9v2.9h-2.9zM613.6 779.2h2.9v2.9h-2.9zM604.3 787.3h2.9v2.9h-2.9zM628.4 775h2.9v2.9h-2.9zM621.2 779.6h2.9v2.9h-2.9zM629 779.2h2.9v2.9h-2.9zM643.5 772.6h2.9v2.9h-2.9zM621.6 776.9h2.9v2.9h-2.9zM608.8 779.5h2.9v2.9h-2.9zM638.8 783.1h2.9v2.9h-2.9zM598.4 784.5h2.9v2.9h-2.9zM645.4 774.5h2.9v2.9h-2.9zM631.8 780h2.9v2.9h-2.9zM627.1 785.8h2.9v2.9h-2.9zM640.8 781.7h2.9v2.9h-2.9zM603.9 779.1h2.9v2.9h-2.9zM616.3 775.9h2.9v2.9h-2.9zM630.9 788.1h2.9v2.9h-2.9zM621.6 778.8h2.9v2.9h-2.9zM619.3 775h2.9v2.9h-2.9zM622.5 773.5h2.9v2.9h-2.9zM619.1 777h2.9v2.9h-2.9zM638.3 782.5h2.9v2.9h-2.9zM635.5 777.9h2.9v2.9h-2.9zM648.2 778.6h2.9v2.9h-2.9zM626.4 780.9h2.9v2.9h-2.9zM620.6 782.1h2.9v2.9h-2.9zM640.5 776h2.9v2.9h-2.9zM615.6 774.8h2.9v2.9h-2.9zM627.8 784.9h2.9v2.9h-2.9zM619.9 783.3h2.9v2.9h-2.9zM634.9 783.4h2.9v2.9h-2.9zM642.8 782.9h2.9v2.9h-2.9zM638.6 780.9h2.9v2.9h-2.9zM630.4 778.9h2.9v2.9h-2.9zM619.3 778.4h2.9v2.9h-2.9zM589.8 777.9h2.9v2.9h-2.9zM631.3 776.6h2.9v2.9h-2.9zM626.1 784.2h2.9v2.9h-2.9zM632.9 776.7h2.9v2.9h-2.9zM623.2 779.5h2.9v2.9h-2.9zM626 777.7h2.9v2.9h-2.9zM635.9 779h2.9v2.9h-2.9zM613.7 781.6h2.9v2.9h-2.9zM623.6 777.6h2.9v2.9h-2.9zM626.4 775h2.9v2.9h-2.9zM621.5 782.8h2.9v2.9h-2.9zM632.7 778.6h2.9v2.9h-2.9zM639.9 783.1h2.9v2.9h-2.9zM634.2 791.7h2.9v2.9h-2.9zM633.4 780.7h2.9v2.9h-2.9zM623.4 778.7h2.9v2.9h-2.9zM627.1 772.5h2.9v2.9h-2.9zM596.8 779.7h2.9v2.9h-2.9zM619.5 771.6h2.9v2.9h-2.9zM642 775.2h2.9v2.9h-2.9zM611.4 785h2.9v2.9h-2.9zM642.9 772.7h2.9v2.9h-2.9zM638.6 775.9h2.9v2.9h-2.9zM636.3 777.8h2.9v2.9h-2.9zM643.4 776.9h2.9v2.9h-2.9zM639 784.9h2.9v2.9h-2.9zM623.7 786.6h2.9v2.9h-2.9zM634 773.9h2.9v2.9h-2.9zM627.3 775.2h2.9v2.9h-2.9zM635.8 781.8h2.9v2.9h-2.9zM594.2 778.2h2.9v2.9h-2.9zM633.8 777.3h2.9v2.9h-2.9zM637.2 780.2h2.9v2.9h-2.9zM630.8 785.6h2.9v2.9h-2.9zM634.8 786.4h2.9v2.9h-2.9zM638.7 777.4h2.9v2.9h-2.9zM594.5 783.4h2.9v2.9h-2.9zM623.7 770.7h2.9v2.9h-2.9zM619.1 770.6h2.9v2.9h-2.9zM647.5 780.2h2.9v2.9h-2.9zM623.6 774.7h2.9v2.9h-2.9zM614.8 783.6h2.9v2.9h-2.9zM639.3 782.1h2.9v2.9h-2.9zM606.5 777.7h2.9v2.9h-2.9zM617.1 784.1h2.9v2.9h-2.9zM631.3 782.8h2.9v2.9h-2.9zM631.9 787.1h2.9v2.9h-2.9zM609.7 778.6h2.9v2.9h-2.9zM604.6 785.1h2.9v2.9h-2.9zM645.3 782.2h2.9v2.9h-2.9zM601.6 776.5h2.9v2.9h-2.9zM622.1 779h2.9v2.9h-2.9zM630.4 785.6h2.9v2.9h-2.9zM609.8 775.6h2.9v2.9h-2.9zM621.7 780.5h2.9v2.9h-2.9zM648.8 774.8h2.9v2.9h-2.9zM628.8 786.4h2.9v2.9h-2.9zM592.4 783.8h2.9v2.9h-2.9zM597.8 770.2h2.9v2.9h-2.9zM626.7 776.1h2.9v2.9h-2.9zM641.9 782.7h2.9v2.9h-2.9zM621.5 774h2.9v2.9h-2.9zM644.7 784.8h2.9v2.9h-2.9zM627.3 776.9h2.9v2.9h-2.9zM618.3 780.9h2.9v2.9h-2.9zM629.9 782.4h2.9v2.9h-2.9zM629.3 782.1h2.9v2.9h-2.9zM618 773.8h2.9v2.9h-2.9zM633.5 776.2h2.9v2.9h-2.9zM635.7 771.7h2.9v2.9h-2.9zM637.4 790.1h2.9v2.9h-2.9zM620 776h2.9v2.9h-2.9zM629.8 782h2.9v2.9h-2.9zM595.7 781.6h2.9v2.9h-2.9zM603.3 782.5h2.9v2.9h-2.9zM647.6 776h2.9v2.9h-2.9zM613.2 779.4h2.9v2.9h-2.9zM614.8 770h2.9v2.9h-2.9zM615.7 774.6h2.9v2.9h-2.9zM626.3 777h2.9v2.9h-2.9zM626.2 776.6h2.9v2.9h-2.9zM625.1 779.3h2.9v2.9h-2.9zM644.5 775.4h2.9v2.9h-2.9zM645.2 781.4h2.9v2.9h-2.9zM644.8 781.3h2.9v2.9h-2.9zM621.4 777.6h2.9v2.9h-2.9zM643.6 784.4h2.9v2.9h-2.9zM638.4 779h2.9v2.9h-2.9zM615.2 778.1h2.9v2.9h-2.9zM615.9 783.3h2.9v2.9h-2.9zM601.7 785.1h2.9v2.9h-2.9zM638.8 776.8h2.9v2.9h-2.9zM640.9 777.4h2.9v2.9h-2.9zM639.4 771.9h2.9v2.9h-2.9zM619.1 780h2.9v2.9h-2.9zM629.9 779.5h2.9v2.9h-2.9zM614.6 776.7h2.9v2.9h-2.9zM641 777.3h2.9v2.9h-2.9zM633 779.9h2.9v2.9h-2.9zM629.3 777.5h2.9v2.9h-2.9zM610.4 788.8h2.9v2.9h-2.9zM634.9 780.8h2.9v2.9h-2.9zM621.6 780.2h2.9v2.9h-2.9zM637 780.1h2.9v2.9h-2.9zM612.1 778.4h2.9v2.9h-2.9zM634 783.4h2.9v2.9h-2.9zM593.1 775.2h2.9v2.9h-2.9zM642.7 775.2h2.9v2.9h-2.9zM624.1 774.2h2.9v2.9h-2.9zM637.3 783.8h2.9v2.9h-2.9zM605.8 776.7h2.9v2.9h-2.9zM633.8 780.7h2.9v2.9h-2.9zM634.3 770h2.9v2.9h-2.9zM628.8 782.2h2.9v2.9h-2.9zM619.8 785h2.9v2.9h-2.9zM632.9 770.6h2.9v2.9h-2.9zM601.5 776.1h2.9v2.9h-2.9zM617.5 781.5h2.9v2.9h-2.9zM626.2 791.5h2.9v2.9h-2.9zM615.7 780.4h2.9v2.9h-2.9zM639.6 784.6h2.9v2.9h-2.9zM621.2 782.5h2.9v2.9h-2.9zM629 773.5h2.9v2.9h-2.9zM639.3 775h2.9v2.9h-2.9zM610.2 778.9h2.9v2.9h-2.9zM646.7 781.7h2.9v2.9h-2.9zM645.8 782.2h2.9v2.9h-2.9zM616.7 771.8h2.9v2.9h-2.9zM636.8 782.6h2.9v2.9h-2.9zM628 779.7h2.9v2.9h-2.9zM630.4 789.3h2.9v2.9h-2.9zM621.1 780.8h2.9v2.9h-2.9zM589.9 783.1h2.9v2.9h-2.9zM608 789.3h2.9v2.9h-2.9zM627.4 780.9h2.9v2.9h-2.9zM628.8 786h2.9v2.9h-2.9zM642.7 774.9h2.9v2.9h-2.9zM634.4 786.7h2.9v2.9h-2.9zM602.1 780.7h2.9v2.9h-2.9zM643.4 777.7h2.9v2.9h-2.9zM627.6 781.9h2.9v2.9h-2.9zM641.2 775.6h2.9v2.9h-2.9zM632 775.5h2.9v2.9h-2.9zM610.1 785.1h2.9v2.9h-2.9zM589.6 774.8h2.9v2.9h-2.9zM624 782.6h2.9v2.9h-2.9zM628.8 783.7h2.9v2.9h-2.9zM623 784.6h2.9v2.9h-2.9zM608.8 776.3h2.9v2.9h-2.9zM644.2 775.8h2.9v2.9h-2.9zM644.8 775.1h2.9v2.9h-2.9zM641.3 788.4h2.9v2.9h-2.9zM619.6 780.4h2.9v2.9h-2.9zM617.9 785h2.9v2.9h-2.9zM626.4 785.4h2.9v2.9h-2.9zM608.5 780.3h2.9v2.9h-2.9zM639.5 776.7h2.9v2.9h-2.9zM645.9 787.8h2.9v2.9h-2.9zM630.9 778.8h2.9v2.9h-2.9zM643.6 791.9h2.9v2.9h-2.9zM644.6 778.6h2.9v2.9h-2.9zM636 776.4h2.9v2.9h-2.9zM603.8 784.7h2.9v2.9h-2.9zM630.3 783.3h2.9v2.9h-2.9zM609.2 782.8h2.9v2.9h-2.9zM623.9 771.9h2.9v2.9h-2.9zM622.9 780.2h2.9v2.9h-2.9zM639.3 773.8h2.9v2.9h-2.9zM647.9 772.4h2.9v2.9h-2.9zM632.4 777.5h2.9v2.9h-2.9zM616.6 782.1h2.9v2.9h-2.9zM638.4 773h2.9v2.9h-2.9zM640.9 774.1h2.9v2.9h-2.9zM644.4 773.1h2.9v2.9h-2.9zM628.4 784.7h2.9v2.9h-2.9zM648.4 780.9h2.9v2.9h-2.9zM647.4 785.4h2.9v2.9h-2.9zM614.9 775.7h2.9v2.9h-2.9zM641.5 776.6h2.9v2.9h-2.9zM642.8 772.9h2.9v2.9h-2.9zM633 780.6h2.9v2.9h-2.9zM607.3 780h2.9v2.9h-2.9zM644 781.5h2.9v2.9h-2.9zM618 783.7h2.9v2.9h-2.9zM617.4 770.8h2.9v2.9h-2.9zM643.5 786.6h2.9v2.9h-2.9zM634.2 777.9h2.9v2.9h-2.9zM619.3 775.6h2.9v2.9h-2.9zM626.6 770.1h2.9v2.9h-2.9zM588.4 780.4h2.9v2.9h-2.9zM634.1 779h2.9v2.9h-2.9zM627.1 779.3h2.9v2.9h-2.9zM623.8 778.1h2.9v2.9h-2.9zM629.8 775.7h2.9v2.9h-2.9zM633.5 781.3h2.9v2.9h-2.9zM635.5 775h2.9v2.9h-2.9zM618.6 780.7h2.9v2.9h-2.9zM631.7 776.5h2.9v2.9h-2.9zM610.4 784.9h2.9v2.9h-2.9zM614.9 778.1h2.9v2.9h-2.9zM634.8 774.5h2.9v2.9h-2.9zM645.4 775.4h2.9v2.9h-2.9zM628.9 784h2.9v2.9h-2.9zM629.7 783.6h2.9v2.9h-2.9zM645.5 779.5h2.9v2.9h-2.9zM617.6 777.3h2.9v2.9h-2.9zM633.2 787.8h2.9v2.9h-2.9zM625.4 781.7h2.9v2.9h-2.9zM618.9 783.4h2.9v2.9h-2.9zM648 781.6h2.9v2.9h-2.9zM623.2 774.7h2.9v2.9h-2.9zM644.5 773.1h2.9v2.9h-2.9zM626 782.1h2.9v2.9h-2.9zM621.3 782.6h2.9v2.9h-2.9zM618.5 787.2h2.9v2.9h-2.9zM620 779h2.9v2.9h-2.9zM628.3 774.3h2.9v2.9h-2.9zM622.8 775.8h2.9v2.9h-2.9zM614.9 780.6h2.9v2.9h-2.9zM611.6 782.3h2.9v2.9h-2.9zM630.5 771.1h2.9v2.9h-2.9zM635.3 786.4h2.9v2.9h-2.9zM595.4 779.9h2.9v2.9h-2.9zM599.3 777.4h2.9v2.9h-2.9zM627.9 776.5h2.9v2.9h-2.9zM615.2 779.9h2.9v2.9h-2.9zM597.8 780.4h2.9v2.9h-2.9zM609.3 778.8h2.9v2.9h-2.9zM631.3 780.5h2.9v2.9h-2.9zM616.3 786.8h2.9v2.9h-2.9zM640.2 776.5h2.9v2.9h-2.9zM639.2 778.3h2.9v2.9h-2.9zM640.6 771.9h2.9v2.9h-2.9zM613.6 779.6h2.9v2.9h-2.9zM615.6 784h2.9v2.9h-2.9zM629.7 778h2.9v2.9h-2.9zM634 772.5h2.9v2.9h-2.9zM613.2 778.9h2.9v2.9h-2.9zM633.9 776.6h2.9v2.9h-2.9zM630.2 779.6h2.9v2.9h-2.9zM624.5 778.2h2.9v2.9h-2.9zM635.8 781.7h2.9v2.9h-2.9zM625.5 778.7h2.9v2.9h-2.9zM638.1 771.5h2.9v2.9h-2.9zM628 776h2.9v2.9h-2.9zM648.6 774.6h2.9v2.9h-2.9zM638.5 787.9h2.9v2.9h-2.9zM614.7 770.7h2.9v2.9h-2.9zM630.5 788.9h2.9v2.9h-2.9zM626.6 786.3h2.9v2.9h-2.9zM594.8 759.4h2.9v2.9h-2.9zM647.7 737h2.9v2.9h-2.9zM638.3 757.8h2.9v2.9h-2.9zM635.4 734h2.9v2.9h-2.9zM623.3 738.4h2.9v2.9h-2.9zM644.8 736.8h2.9v2.9h-2.9zM628.6 762.9h2.9v2.9h-2.9zM634.2 751.7h2.9v2.9h-2.9zM616.3 766h2.9v2.9h-2.9zM602.9 759.5h2.9v2.9h-2.9zM617.7 756h2.9v2.9h-2.9zM619.1 753h2.9v2.9h-2.9zM634.4 763.9h2.9v2.9h-2.9zM637.5 752.7h2.9v2.9h-2.9zM640.8 763.7h2.9v2.9h-2.9zM619.5 732.5h2.9v2.9h-2.9zM638.4 769.3h2.9v2.9h-2.9zM628.3 748.4h2.9v2.9h-2.9zM618.9 739h2.9v2.9h-2.9zM603.6 749.2h2.9v2.9h-2.9zM608 756.9h2.9v2.9h-2.9zM616.3 760.5h2.9v2.9h-2.9zM601.4 743.7h2.9v2.9h-2.9zM615 746.5h2.9v2.9h-2.9zM646.7 758.4h2.9v2.9h-2.9zM601.8 761.1h2.9v2.9h-2.9zM626.4 727h2.9v2.9h-2.9zM614 749.1h2.9v2.9h-2.9zM641.1 755.7h2.9v2.9h-2.9zM627.7 768.4h2.9v2.9h-2.9zM646 753.8h2.9v2.9h-2.9zM629.8 738.3h2.9v2.9h-2.9zM592.9 768.6h2.9v2.9h-2.9zM644 757.4h2.9v2.9h-2.9zM619.4 759.3h2.9v2.9h-2.9zM624.4 720.9h2.9v2.9h-2.9zM615 751.4h2.9v2.9h-2.9zM645.8 755.3h2.9v2.9h-2.9zM641.4 767.9h2.9v2.9h-2.9zM620 747.1h2.9v2.9h-2.9zM594.1 743.7h2.9v2.9h-2.9zM645.1 764.2h2.9v2.9h-2.9zM624 750.9h2.9v2.9h-2.9zM638.1 734.3h2.9v2.9h-2.9zM595.5 739.6h2.9v2.9h-2.9zM618.9 758.8h2.9v2.9h-2.9zM643.8 755.2h2.9v2.9h-2.9zM627.7 725.5h2.9v2.9h-2.9zM641.2 751.1h2.9v2.9h-2.9zM595 752.8h2.9v2.9h-2.9zM601.9 738.3h2.9v2.9h-2.9zM629.3 766.4h2.9v2.9h-2.9zM628.3 766h2.9v2.9h-2.9zM632.6 757.4h2.9v2.9h-2.9zM633 735.6h2.9v2.9h-2.9zM624.9 748.5h2.9v2.9h-2.9zM615.6 764.9h2.9v2.9h-2.9zM637.7 733.3h2.9v2.9h-2.9zM614.5 726.3h2.9v2.9h-2.9zM632 769.3h2.9v2.9h-2.9zM620.6 761.7h2.9v2.9h-2.9zM573 733.5h2.9v2.9h-2.9zM638.6 762h2.9v2.9h-2.9zM622.5 763.5h2.9v2.9h-2.9zM627.3 757.7h2.9v2.9h-2.9zM648.5 767.9h2.9v2.9h-2.9zM617.5 729.4h2.9v2.9h-2.9zM634.2 737.8h2.9v2.9h-2.9zM614.6 765.1h2.9v2.9h-2.9zM637.7 742.7h2.9v2.9h-2.9zM621.1 763.6h2.9v2.9h-2.9zM626.4 749.2h2.9v2.9h-2.9zM620.5 729.9h2.9v2.9h-2.9zM610 764.4h2.9v2.9h-2.9zM615.1 756.7h2.9v2.9h-2.9zM621 742.6h2.9v2.9h-2.9zM646 744.9h2.9v2.9h-2.9zM632 736.9h2.9v2.9h-2.9zM612.9 748h2.9v2.9h-2.9zM641.4 729.7h2.9v2.9h-2.9zM603.1 741.2h2.9v2.9h-2.9zM624.9 748.5h2.9v2.9h-2.9zM620.2 744h2.9v2.9h-2.9zM624 745.6h2.9v2.9h-2.9zM647 730.5h2.9v2.9h-2.9zM621.9 760.3h2.9v2.9h-2.9zM621.8 757h2.9v2.9h-2.9zM613.5 744.6h2.9v2.9h-2.9zM607.8 768.4h2.9v2.9h-2.9zM625.4 751h2.9v2.9h-2.9zM610.8 767.9h2.9v2.9h-2.9zM640.3 764.1h2.9v2.9h-2.9zM647.4 759.4h2.9v2.9h-2.9zM624.5 742.4h2.9v2.9h-2.9zM639.2 760.4h2.9v2.9h-2.9zM618.3 726h2.9v2.9h-2.9zM619.9 766.6h2.9v2.9h-2.9zM615.8 763.6h2.9v2.9h-2.9zM638.5 758.2h2.9v2.9h-2.9zM606.3 732.2h2.9v2.9h-2.9zM636.4 743h2.9v2.9h-2.9zM631 759.2h2.9v2.9h-2.9zM648.5 764.6h2.9v2.9h-2.9zM603.7 764h2.9v2.9h-2.9zM625.4 763.1h2.9v2.9h-2.9zM626.8 724.9h2.9v2.9h-2.9zM614.7 754.8h2.9v2.9h-2.9zM643.7 732.2h2.9v2.9h-2.9zM582 760.2h2.9v2.9h-2.9zM629.7 760.6h2.9v2.9h-2.9zM636.8 722.1h2.9v2.9h-2.9zM629.6 758.8h2.9v2.9h-2.9zM620.3 720.4h2.9v2.9h-2.9zM628.6 754.5h2.9v2.9h-2.9zM637.7 743.3h2.9v2.9h-2.9zM640.8 719.1h2.9v2.9h-2.9zM622.8 748.8h2.9v2.9h-2.9zM620.9 738.6h2.9v2.9h-2.9zM642.5 743.4h2.9v2.9h-2.9zM645.4 766.7h2.9v2.9h-2.9zM645.2 759.8h2.9v2.9h-2.9zM608.8 736.6h2.9v2.9h-2.9zM641.8 764.3h2.9v2.9h-2.9zM613.9 766.5h2.9v2.9h-2.9zM648.6 737.9h2.9v2.9h-2.9zM610.4 725.7h2.9v2.9h-2.9zM622.7 760.4h2.9v2.9h-2.9zM635.3 752.4h2.9v2.9h-2.9zM647.5 769.5h2.9v2.9h-2.9zM616.9 730.7h2.9v2.9h-2.9zM617.3 742.4h2.9v2.9h-2.9zM627.4 746.7h2.9v2.9h-2.9zM624.4 768.7h2.9v2.9h-2.9zM609.9 759.3h2.9v2.9h-2.9zM648.5 740h2.9v2.9h-2.9zM610.9 739.7h2.9v2.9h-2.9zM635.1 726.9h2.9v2.9h-2.9zM637.6 765.3h2.9v2.9h-2.9zM640.5 763.1h2.9v2.9h-2.9zM600.6 750.8h2.9v2.9h-2.9zM622 748.3h2.9v2.9h-2.9zM616.1 741.6h2.9v2.9h-2.9zM648.5 753.2h2.9v2.9h-2.9zM636.1 763.2h2.9v2.9h-2.9zM618.9 750.4h2.9v2.9h-2.9zM614.2 767.3h2.9v2.9h-2.9zM637.1 735h2.9v2.9h-2.9zM648.4 745.9h2.9v2.9h-2.9zM600 720.2h2.9v2.9h-2.9zM626.9 751.8h2.9v2.9h-2.9zM632.5 742.2h2.9v2.9h-2.9zM608.9 745.7h2.9v2.9h-2.9zM613.7 767.1h2.9v2.9h-2.9zM610.4 756.2h2.9v2.9h-2.9zM626.2 718.7h2.9v2.9h-2.9zM599.8 764.8h2.9v2.9h-2.9zM627.9 766.9h2.9v2.9h-2.9zM629.7 737.6h2.9v2.9h-2.9zM645.4 767.5h2.9v2.9h-2.9zM606.9 764.2h2.9v2.9h-2.9zM616.7 758.9h2.9v2.9h-2.9zM614.1 760.7h2.9v2.9h-2.9zM618.2 748.8h2.9v2.9h-2.9zM631.1 767.7h2.9v2.9h-2.9zM608.7 750.8h2.9v2.9h-2.9zM618.7 756.5h2.9v2.9h-2.9zM632.8 762.7h2.9v2.9h-2.9zM635.2 722h2.9v2.9h-2.9zM624.5 761.7h2.9v2.9h-2.9zM612.6 764.5h2.9v2.9h-2.9zM602.7 762.1h2.9v2.9h-2.9zM588.9 733.6h2.9v2.9h-2.9zM634.2 749.7h2.9v2.9h-2.9zM641.5 753.6h2.9v2.9h-2.9zM611.1 748.2h2.9v2.9h-2.9zM643.9 720.1h2.9v2.9h-2.9zM646.8 769.2h2.9v2.9h-2.9zM612.2 721.4h2.9v2.9h-2.9zM624.6 736.2h2.9v2.9h-2.9zM641.9 728.5h2.9v2.9h-2.9zM630.6 716.7h2.9v2.9h-2.9zM628 749.8h2.9v2.9h-2.9zM612.4 762.2h2.9v2.9h-2.9zM635.4 741.5h2.9v2.9h-2.9zM624.5 759.5h2.9v2.9h-2.9zM617.2 736h2.9v2.9h-2.9zM622.9 735h2.9v2.9h-2.9zM639.7 759.8h2.9v2.9h-2.9zM648.6 755.4h2.9v2.9h-2.9zM602.8 748.3h2.9v2.9h-2.9zM647.8 764.3h2.9v2.9h-2.9zM639.4 756.1h2.9v2.9h-2.9zM613.9 749.7h2.9v2.9h-2.9zM626.2 760.9h2.9v2.9h-2.9zM629.8 765.8h2.9v2.9h-2.9zM633.5 740.6h2.9v2.9h-2.9zM623.4 747.4h2.9v2.9h-2.9zM632 765.7h2.9v2.9h-2.9zM628.5 759.1h2.9v2.9h-2.9zM628.4 740.7h2.9v2.9h-2.9zM638.8 744.4h2.9v2.9h-2.9zM630.8 753h2.9v2.9h-2.9zM640.4 755.3h2.9v2.9h-2.9zM603 725.3h2.9v2.9h-2.9zM601.2 740.1h2.9v2.9h-2.9zM631.7 763.8h2.9v2.9h-2.9zM646.3 735.2h2.9v2.9h-2.9zM635.9 727.6h2.9v2.9h-2.9zM588.8 762.6h2.9v2.9h-2.9zM633.2 755.7h2.9v2.9h-2.9zM643.3 719.1h2.9v2.9h-2.9zM638.7 765.2h2.9v2.9h-2.9zM625.9 750.2h2.9v2.9h-2.9zM623.5 755.9h2.9v2.9h-2.9zM610.2 766.8h2.9v2.9h-2.9zM625.8 718.9h2.9v2.9h-2.9zM610.8 745.9h2.9v2.9h-2.9zM629.7 742.5h2.9v2.9h-2.9zM640.2 761.6h2.9v2.9h-2.9zM611.3 729h2.9v2.9h-2.9zM612 747.7h2.9v2.9h-2.9zM613.7 769h2.9v2.9h-2.9zM627.3 762.4h2.9v2.9h-2.9zM618 747.9h2.9v2.9h-2.9zM618.1 721.5h2.9v2.9h-2.9zM617.2 750h2.9v2.9h-2.9zM599.4 742.4h2.9v2.9h-2.9zM583.3 763.4h2.9v2.9h-2.9zM595.8 763.3h2.9v2.9h-2.9zM604.7 765.8h2.9v2.9h-2.9zM590.4 724.6h2.9v2.9h-2.9zM621 740.4h2.9v2.9h-2.9zM642.5 755.7h2.9v2.9h-2.9zM602.6 743.2h2.9v2.9h-2.9zM608 747.1h2.9v2.9h-2.9zM639.9 740.3h2.9v2.9h-2.9zM611.6 736.2h2.9v2.9h-2.9zM648.9 758.6h2.9v2.9h-2.9zM620.8 750.6h2.9v2.9h-2.9zM628.8 764.6h2.9v2.9h-2.9zM645.8 767.2h2.9v2.9h-2.9zM639.9 735.2h2.9v2.9h-2.9zM605.1 767.8h2.9v2.9h-2.9zM620.4 728.8h2.9v2.9h-2.9zM635.7 755.1h2.9v2.9h-2.9zM628.3 752.9h2.9v2.9h-2.9zM639.9 758.9h2.9v2.9h-2.9zM626 763.3h2.9v2.9h-2.9zM645.2 727.2h2.9v2.9h-2.9zM622 763.3h2.9v2.9h-2.9zM593.6 760.3h2.9v2.9h-2.9zM613.5 755h2.9v2.9h-2.9zM633.4 734.5h2.9v2.9h-2.9zM640.2 766.4h2.9v2.9h-2.9zM620.4 719h2.9v2.9h-2.9zM621.5 767.4h2.9v2.9h-2.9zM623.4 765.2h2.9v2.9h-2.9zM635.8 765.7h2.9v2.9h-2.9zM628 762h2.9v2.9h-2.9zM631 757.3h2.9v2.9h-2.9zM601 754.5h2.9v2.9h-2.9zM605 769.2h2.9v2.9h-2.9zM640.2 754.9h2.9v2.9h-2.9zM621.7 752.9h2.9v2.9h-2.9zM620.3 763.3h2.9v2.9h-2.9zM641.2 751.6h2.9v2.9h-2.9zM634.1 742.3h2.9v2.9h-2.9zM610.8 744h2.9v2.9h-2.9zM628.4 761.1h2.9v2.9h-2.9zM640.3 721.4h2.9v2.9h-2.9zM635.5 763.5h2.9v2.9h-2.9zM622.7 758.8h2.9v2.9h-2.9zM625.3 768.7h2.9v2.9h-2.9zM607.9 735.1h2.9v2.9h-2.9zM608 764.7h2.9v2.9h-2.9zM614.6 746.6h2.9v2.9h-2.9zM641.1 731.8h2.9v2.9h-2.9zM639.3 736.7h2.9v2.9h-2.9zM609.7 769.5h2.9v2.9h-2.9zM620.6 757.8h2.9v2.9h-2.9zM639.5 747.4h2.9v2.9h-2.9zM614.2 763.6h2.9v2.9h-2.9zM615.4 764.6h2.9v2.9h-2.9zM639.9 757.5h2.9v2.9h-2.9zM643.7 741.5h2.9v2.9h-2.9zM636.5 768.6h2.9v2.9h-2.9zM622.9 751h2.9v2.9h-2.9zM607.5 726.9h2.9v2.9h-2.9zM641.4 747.8h2.9v2.9h-2.9zM645.8 760.9h2.9v2.9h-2.9zM645.2 761h2.9v2.9h-2.9zM634 758.2h2.9v2.9h-2.9zM636.8 768.7h2.9v2.9h-2.9zM626.4 742.8h2.9v2.9h-2.9zM628.5 747.4h2.9v2.9h-2.9zM591.3 746.6h2.9v2.9h-2.9zM643.4 765.1h2.9v2.9h-2.9zM632.8 767h2.9v2.9h-2.9zM623.6 752.6h2.9v2.9h-2.9zM605.4 761.7h2.9v2.9h-2.9zM607.5 750.9h2.9v2.9h-2.9zM643.4 729.5h2.9v2.9h-2.9zM619.6 729.2h2.9v2.9h-2.9zM640.6 720.2h2.9v2.9h-2.9zM625.2 760.8h2.9v2.9h-2.9zM614.6 753h2.9v2.9h-2.9zM622.4 720.6h2.9v2.9h-2.9zM622.9 767.8h2.9v2.9h-2.9zM646.1 756.1h2.9v2.9h-2.9zM626.1 749.9h2.9v2.9h-2.9zM605.3 738.4h2.9v2.9h-2.9zM628.8 732.7h2.9v2.9h-2.9zM632.4 751.7h2.9v2.9h-2.9zM634 758.1h2.9v2.9h-2.9zM643.7 753.8h2.9v2.9h-2.9zM639.2 748.2h2.9v2.9h-2.9zM626.4 755.4h2.9v2.9h-2.9zM620.5 746.8h2.9v2.9h-2.9zM607.8 742.2h2.9v2.9h-2.9zM617.6 763.4h2.9v2.9h-2.9zM607.8 730.7h2.9v2.9h-2.9zM620.7 764h2.9v2.9h-2.9zM643.3 756.6h2.9v2.9h-2.9zM643.3 737.2h2.9v2.9h-2.9zM638.5 761.8h2.9v2.9h-2.9zM617.8 761h2.9v2.9h-2.9zM587.5 764.4h2.9v2.9h-2.9zM614.4 765.6h2.9v2.9h-2.9zM628.2 754.3h2.9v2.9h-2.9zM639.4 731.1h2.9v2.9h-2.9zM630.9 765h2.9v2.9h-2.9zM628.6 760.4h2.9v2.9h-2.9zM649 758h2.9v2.9h-2.9zM619.6 763.1h2.9v2.9h-2.9zM625.7 736.7h2.9v2.9h-2.9zM603.8 768.5h2.9v2.9h-2.9zM613.1 733.5h2.9v2.9h-2.9zM632.6 766.8h2.9v2.9h-2.9zM626.1 762.9h2.9v2.9h-2.9zM645.2 755h2.9v2.9h-2.9zM639.7 754.5h2.9v2.9h-2.9zM615.3 734.8h2.9v2.9h-2.9zM600.1 759.6h2.9v2.9h-2.9zM628.3 755.9h2.9v2.9h-2.9zM635.1 754.6h2.9v2.9h-2.9zM611.2 753.1h2.9v2.9h-2.9zM616.4 760h2.9v2.9h-2.9zM634.3 748.3h2.9v2.9h-2.9zM626.9 768.3h2.9v2.9h-2.9zM647.3 757.6h2.9v2.9h-2.9zM633.9 768.1h2.9v2.9h-2.9zM602.4 731.1h2.9v2.9h-2.9zM627.7 759.6h2.9v2.9h-2.9zM622.8 731.7h2.9v2.9h-2.9zM627 756.5h2.9v2.9h-2.9zM644 754.3h2.9v2.9h-2.9zM616 744.6h2.9v2.9h-2.9zM648.2 762h2.9v2.9h-2.9zM596 747h2.9v2.9h-2.9zM632 743.7h2.9v2.9h-2.9zM629.7 728.1h2.9v2.9h-2.9zM613.5 726.7h2.9v2.9h-2.9zM633.5 756.4h2.9v2.9h-2.9zM643.6 766h2.9v2.9h-2.9zM626.7 736.8h2.9v2.9h-2.9zM643.6 744.5h2.9v2.9h-2.9zM620.4 749.6h2.9v2.9h-2.9zM612.9 737.9h2.9v2.9h-2.9zM647 765.4h2.9v2.9h-2.9zM609.2 734.1h2.9v2.9h-2.9zM647.6 761.2h2.9v2.9h-2.9zM596.9 735.2h2.9v2.9h-2.9zM631.7 755.9h2.9v2.9h-2.9zM593.3 761.3h2.9v2.9h-2.9zM635.5 750.2h2.9v2.9h-2.9zM632.3 763.8h2.9v2.9h-2.9zM638.8 766.6h2.9v2.9h-2.9zM607.5 725.3h2.9v2.9h-2.9zM637.1 766.3h2.9v2.9h-2.9zM625.8 756.7h2.9v2.9h-2.9zM641.9 763.6h2.9v2.9h-2.9zM607.1 740.7h2.9v2.9h-2.9zM617.7 737.9h2.9v2.9h-2.9zM610.5 765.5h2.9v2.9h-2.9zM626 749.9h2.9v2.9h-2.9zM611.7 752.4h2.9v2.9h-2.9zM617.5 760.7h2.9v2.9h-2.9zM625.2 750.1h2.9v2.9h-2.9zM620.2 734.1h2.9v2.9h-2.9zM619.5 738.9h2.9v2.9h-2.9zM631.4 760.8h2.9v2.9h-2.9zM623.4 718.7h2.9v2.9h-2.9zM614.2 746.3h2.9v2.9h-2.9zM616.5 739.9h2.9v2.9h-2.9zM634.5 749.1h2.9v2.9h-2.9zM617.9 743.6h2.9v2.9h-2.9zM625.4 750.2h2.9v2.9h-2.9zM623.2 751.9h2.9v2.9h-2.9zM634.8 734.6h2.9v2.9h-2.9zM617.2 762.1h2.9v2.9h-2.9zM628.2 768h2.9v2.9h-2.9zM616.8 769h2.9v2.9h-2.9zM605.1 739.8h2.9v2.9h-2.9zM595.9 764.4h2.9v2.9h-2.9zM619.9 752.6h2.9v2.9h-2.9zM607.8 725.7h2.9v2.9h-2.9zM629.6 767.8h2.9v2.9h-2.9zM616.6 759.7h2.9v2.9h-2.9zM634.9 759.7h2.9v2.9h-2.9zM635.3 768.2h2.9v2.9h-2.9zM621.4 749.8h2.9v2.9h-2.9zM623.3 733.4h2.9v2.9h-2.9zM636.8 736.4h2.9v2.9h-2.9zM621.5 754.1h2.9v2.9h-2.9zM629.6 733.5h2.9v2.9h-2.9zM609.8 746.6h2.9v2.9h-2.9zM627.6 738.3h2.9v2.9h-2.9zM632.8 741.6h2.9v2.9h-2.9zM614.6 754.3h2.9v2.9h-2.9zM618.1 745.2h2.9v2.9h-2.9zM603 763.4h2.9v2.9h-2.9zM626.8 757.4h2.9v2.9h-2.9zM614.1 765.4h2.9v2.9h-2.9zM629.4 755.6h2.9v2.9h-2.9zM632.5 753.9h2.9v2.9h-2.9zM620.3 737.3h2.9v2.9h-2.9zM614.2 745.8h2.9v2.9h-2.9zM607.6 744.7h2.9v2.9h-2.9zM634.2 768.9h2.9v2.9h-2.9zM626.5 763.6h2.9v2.9h-2.9zM633 734.1h2.9v2.9h-2.9zM625.5 761.6h2.9v2.9h-2.9zM615.2 760.9h2.9v2.9h-2.9zM642.9 761.7h2.9v2.9h-2.9zM608.9 760.5h2.9v2.9h-2.9zM631.7 740.9h2.9v2.9h-2.9zM614.7 728.1h2.9v2.9h-2.9zM644.4 757.6h2.9v2.9h-2.9zM636.4 763.3h2.9v2.9h-2.9zM620 750.6h2.9v2.9h-2.9zM624.6 750.3h2.9v2.9h-2.9zM580.6 739.3h2.9v2.9h-2.9zM609 765.3h2.9v2.9h-2.9zM623.2 743.6h2.9v2.9h-2.9zM639.7 750.2h2.9v2.9h-2.9zM612.3 729.3h2.9v2.9h-2.9zM638.6 744.1h2.9v2.9h-2.9zM594.7 768.5h2.9v2.9h-2.9zM612.3 740.1h2.9v2.9h-2.9zM603.6 761h2.9v2.9h-2.9zM604.8 750.6h2.9v2.9h-2.9zM636.2 743.6h2.9v2.9h-2.9zM631.1 747.2h2.9v2.9h-2.9zM620.6 760.3h2.9v2.9h-2.9zM644.9 759.2h2.9v2.9h-2.9zM647.6 715.2h2.9v2.9h-2.9zM619.7 740.1h2.9v2.9h-2.9zM616.9 744.1h2.9v2.9h-2.9zM644.4 751.1h2.9v2.9h-2.9zM618.8 762.9h2.9v2.9h-2.9zM641.2 764.3h2.9v2.9h-2.9zM621.7 716.2h2.9v2.9h-2.9zM632.5 736.1h2.9v2.9h-2.9zM617.6 743h2.9v2.9h-2.9zM643.3 753.2h2.9v2.9h-2.9zM618.2 733.5h2.9v2.9h-2.9zM616.6 754.4h2.9v2.9h-2.9zM631.1 739.2h2.9v2.9h-2.9zM619.1 746.3h2.9v2.9h-2.9zM625.7 740.8h2.9v2.9h-2.9zM632.7 760.5h2.9v2.9h-2.9zM639.9 757.1h2.9v2.9h-2.9zM632.4 756.2h2.9v2.9h-2.9zM620.1 738.2h2.9v2.9h-2.9zM634.8 765.5h2.9v2.9h-2.9zM605.8 753.6h2.9v2.9h-2.9zM610.1 736.8h2.9v2.9h-2.9zM617.1 743.6h2.9v2.9h-2.9zM638.7 759.6h2.9v2.9h-2.9zM625.9 738.3h2.9v2.9h-2.9zM606.6 755.9h2.9v2.9h-2.9zM620.6 767.8h2.9v2.9h-2.9zM627.9 763.1h2.9v2.9h-2.9zM616.8 764.4h2.9v2.9h-2.9zM625.8 766.6h2.9v2.9h-2.9zM624.3 759.5h2.9v2.9h-2.9zM620.5 727.4h2.9v2.9h-2.9zM618.9 763.4h2.9v2.9h-2.9zM596.3 750.4h2.9v2.9h-2.9zM624.7 743.3h2.9v2.9h-2.9zM629.1 767.1h2.9v2.9h-2.9zM615.7 763.9h2.9v2.9h-2.9zM612.8 735.6h2.9v2.9h-2.9zM643.7 764.7h2.9v2.9h-2.9zM622.1 745.3h2.9v2.9h-2.9zM605 749.7h2.9v2.9h-2.9zM629.2 758.5h2.9v2.9h-2.9zM580.4 742.7h2.9v2.9h-2.9zM648.8 758.3h2.9v2.9h-2.9zM641.9 752.3h2.9v2.9h-2.9zM627.4 763.4h2.9v2.9h-2.9zM629.8 741.1h2.9v2.9h-2.9zM608.3 739.6h2.9v2.9h-2.9zM635.3 729.8h2.9v2.9h-2.9zM628.5 762.7h2.9v2.9h-2.9zM619.3 758.1h2.9v2.9h-2.9zM621.5 758.2h2.9v2.9h-2.9zM610.3 763.2h2.9v2.9h-2.9zM596.7 746.2h2.9v2.9h-2.9zM635 743.7h2.9v2.9h-2.9zM617.4 753.5h2.9v2.9h-2.9zM648.3 754.9h2.9v2.9h-2.9zM640.8 765.7h2.9v2.9h-2.9zM615.5 746.9h2.9v2.9h-2.9zM627.3 750.2h2.9v2.9h-2.9zM621.3 762.5h2.9v2.9h-2.9zM628.3 768.1h2.9v2.9h-2.9zM634.2 762.6h2.9v2.9h-2.9zM623.9 767.4h2.9v2.9h-2.9zM607.8 715.7h2.9v2.9h-2.9zM631.3 767h2.9v2.9h-2.9zM641.8 769.2h2.9v2.9h-2.9zM604.6 757.3h2.9v2.9h-2.9zM640.3 766.6h2.9v2.9h-2.9zM623.9 753.1h2.9v2.9h-2.9zM620.4 764.8h2.9v2.9h-2.9zM585.3 763.6h2.9v2.9h-2.9zM632.1 738.8h2.9v2.9h-2.9zM641.3 745.9h2.9v2.9h-2.9zM606.1 761.6h2.9v2.9h-2.9zM624.6 746.1h2.9v2.9h-2.9zM610.1 741.3h2.9v2.9h-2.9zM627.7 720.3h2.9v2.9h-2.9zM613.6 725.9h2.9v2.9h-2.9zM612 767.6h2.9v2.9h-2.9zM606.9 767.9h2.9v2.9h-2.9zM603 763.8h2.9v2.9h-2.9zM605.4 723.4h2.9v2.9h-2.9zM631.6 756.1h2.9v2.9h-2.9zM623.3 763.3h2.9v2.9h-2.9zM608.1 723.8h2.9v2.9h-2.9zM589.3 750.8h2.9v2.9h-2.9zM640.1 769.4h2.9v2.9h-2.9zM585.6 743.9h2.9v2.9h-2.9zM619.1 761.8h2.9v2.9h-2.9zM600.5 745h2.9v2.9h-2.9zM636.1 763.7h2.9v2.9h-2.9zM621.2 753.7h2.9v2.9h-2.9zM637 766.1h2.9v2.9h-2.9zM631.1 766.3h2.9v2.9h-2.9zM622.2 762.5h2.9v2.9h-2.9zM636.3 748.9h2.9v2.9h-2.9zM616.3 764.8h2.9v2.9h-2.9zM629.5 753h2.9v2.9h-2.9zM639.1 767.5h2.9v2.9h-2.9zM615.2 746.7h2.9v2.9h-2.9zM629.1 751.8h2.9v2.9h-2.9zM624.8 767.6h2.9v2.9h-2.9zM633.8 738.8h2.9v2.9h-2.9zM605.1 763.2h2.9v2.9h-2.9zM635.3 759.3h2.9v2.9h-2.9zM637.7 766.2h2.9v2.9h-2.9zM639.6 759.9h2.9v2.9h-2.9zM637.4 747.7h2.9v2.9h-2.9zM633 757.4h2.9v2.9h-2.9zM617.1 767.5h2.9v2.9h-2.9zM639.7 753.2h2.9v2.9h-2.9zM625.3 728.9h2.9v2.9h-2.9zM602.6 748.3h2.9v2.9h-2.9zM636.9 765.4h2.9v2.9h-2.9zM612.2 761.5h2.9v2.9h-2.9zM598.7 742h2.9v2.9h-2.9zM642.8 735.6h2.9v2.9h-2.9zM621.8 764.9h2.9v2.9h-2.9zM626.6 763.8h2.9v2.9h-2.9zM630.2 753.6h2.9v2.9h-2.9zM647.5 765.8h2.9v2.9h-2.9zM624.5 723.8h2.9v2.9h-2.9zM628.7 752.4h2.9v2.9h-2.9zM585.5 752.1h2.9v2.9h-2.9zM612.2 756.8h2.9v2.9h-2.9zM621.6 763.1h2.9v2.9h-2.9zM628.8 769.2h2.9v2.9h-2.9zM635.6 741.8h2.9v2.9h-2.9zM636 733.4h2.9v2.9h-2.9zM599.3 747.4h2.9v2.9h-2.9zM624.7 731.1h2.9v2.9h-2.9zM641.2 735.7h2.9v2.9h-2.9zM644.1 738.2h2.9v2.9h-2.9zM628.4 719.5h2.9v2.9h-2.9zM635.5 769.2h2.9v2.9h-2.9zM628.8 718.8h2.9v2.9h-2.9zM624.5 736.8h2.9v2.9h-2.9zM610.4 741.6h2.9v2.9h-2.9zM627.2 758.2h2.9v2.9h-2.9zM591.9 758.8h2.9v2.9h-2.9zM613.7 757.8h2.9v2.9h-2.9zM632.1 754.2h2.9v2.9h-2.9zM642 759.9h2.9v2.9h-2.9zM637 743h2.9v2.9h-2.9zM591.6 721h2.9v2.9h-2.9zM615.9 748.9h2.9v2.9h-2.9zM641.4 753.8h2.9v2.9h-2.9zM608.7 743.1h2.9v2.9h-2.9zM626.8 747.8h2.9v2.9h-2.9zM634.2 725.8h2.9v2.9h-2.9zM639.3 769.5h2.9v2.9h-2.9zM643.7 762.1h2.9v2.9h-2.9zM616.6 752.9h2.9v2.9h-2.9zM612.5 718.7h2.9v2.9h-2.9zM622.9 758.7h2.9v2.9h-2.9zM645.9 761.3h2.9v2.9h-2.9zM604.2 724.2h2.9v2.9h-2.9zM648.3 749.7h2.9v2.9h-2.9zM618.9 758.3h2.9v2.9h-2.9zM644.8 751.3h2.9v2.9h-2.9zM626.6 769.4h2.9v2.9h-2.9zM645.8 735.8h2.9v2.9h-2.9zM638 742.5h2.9v2.9h-2.9zM629.3 741.7h2.9v2.9h-2.9zM637.7 762.1h2.9v2.9h-2.9zM644.6 769.3h2.9v2.9h-2.9zM640.2 740.9h2.9v2.9h-2.9zM634 757.5h2.9v2.9h-2.9zM621.1 756.6h2.9v2.9h-2.9zM635.4 747.9h2.9v2.9h-2.9zM647.2 755.8h2.9v2.9h-2.9zM609.2 729.4h2.9v2.9h-2.9zM614.9 733.7h2.9v2.9h-2.9zM627.2 761.7h2.9v2.9h-2.9zM623.3 744.2h2.9v2.9h-2.9zM638.6 766.9h2.9v2.9h-2.9zM639.3 764.5h2.9v2.9h-2.9zM631.4 742.3h2.9v2.9h-2.9zM625.9 747.2h2.9v2.9h-2.9zM590.3 741.7h2.9v2.9h-2.9zM634.9 760.9h2.9v2.9h-2.9zM593 740.8h2.9v2.9h-2.9zM637.4 756.3h2.9v2.9h-2.9zM611.7 762h2.9v2.9h-2.9zM610 720.6h2.9v2.9h-2.9zM623.3 759h2.9v2.9h-2.9zM597.5 751h2.9v2.9h-2.9zM629.4 769.1h2.9v2.9h-2.9zM642.6 753h2.9v2.9h-2.9zM627.1 748.9h2.9v2.9h-2.9zM595.7 762.8h2.9v2.9h-2.9zM635.3 764.4h2.9v2.9h-2.9zM635.5 766.5h2.9v2.9h-2.9zM609.2 741.4h2.9v2.9h-2.9zM644.9 764.5h2.9v2.9h-2.9zM616.9 768.5h2.9v2.9h-2.9zM616.5 729.3h2.9v2.9h-2.9zM632 751h2.9v2.9h-2.9zM621.9 753.6h2.9v2.9h-2.9zM612.8 751.1h2.9v2.9h-2.9zM614.4 759.5h2.9v2.9h-2.9zM619.6 768.8h2.9v2.9h-2.9zM634 742.7h2.9v2.9h-2.9zM632.2 762.4h2.9v2.9h-2.9zM628.1 762.4h2.9v2.9h-2.9zM598.9 736.8h2.9v2.9h-2.9zM636.7 728.3h2.9v2.9h-2.9zM620.4 752.2h2.9v2.9h-2.9zM625.3 761.7h2.9v2.9h-2.9zM624.7 764.3h2.9v2.9h-2.9zM621.2 743h2.9v2.9h-2.9zM589.9 751.8h2.9v2.9h-2.9zM619.4 733h2.9v2.9h-2.9zM648.1 754.3h2.9v2.9h-2.9zM618.7 742.7h2.9v2.9h-2.9zM629.4 743.3h2.9v2.9h-2.9zM641.1 764.7h2.9v2.9h-2.9zM638.1 731.7h2.9v2.9h-2.9zM621.8 750.6h2.9v2.9h-2.9zM644.7 739.9h2.9v2.9h-2.9zM632.4 753.4h2.9v2.9h-2.9zM635.1 722.1h2.9v2.9h-2.9zM634.1 763.8h2.9v2.9h-2.9zM632.5 767.4h2.9v2.9h-2.9zM644.4 727.3h2.9v2.9h-2.9zM605.5 746.5h2.9v2.9h-2.9zM637.8 755h2.9v2.9h-2.9zM627.7 767.6h2.9v2.9h-2.9zM631 763.5h2.9v2.9h-2.9zM606.7 750h2.9v2.9h-2.9zM627.2 753.9h2.9v2.9h-2.9zM619.1 740.9h2.9v2.9h-2.9zM613.8 758.1h2.9v2.9h-2.9zM622.1 758.1h2.9v2.9h-2.9zM627.7 754.5h2.9v2.9h-2.9zM633 768.4h2.9v2.9h-2.9zM634.9 758.1h2.9v2.9h-2.9zM633.9 762.5h2.9v2.9h-2.9zM608.9 762.4h2.9v2.9h-2.9zM627.9 742.8h2.9v2.9h-2.9zM609.7 760.2h2.9v2.9h-2.9zM626 736.3h2.9v2.9h-2.9zM635.8 755.4h2.9v2.9h-2.9zM640.2 748.4h2.9v2.9h-2.9zM623.9 748.3h2.9v2.9h-2.9zM573.9 762.1h2.9v2.9h-2.9zM639.2 729.5h2.9v2.9h-2.9zM612.6 766h2.9v2.9h-2.9zM640.7 750.1h2.9v2.9h-2.9zM625 765h2.9v2.9h-2.9zM606.9 768.4h2.9v2.9h-2.9zM626.1 745.3h2.9v2.9h-2.9zM634 718.5h2.9v2.9h-2.9zM633.5 725.4h2.9v2.9h-2.9zM605.3 769h2.9v2.9h-2.9zM615.6 759.4h2.9v2.9h-2.9zM623 759.6h2.9v2.9h-2.9zM645.6 762.7h2.9v2.9h-2.9zM586.5 756.1h2.9v2.9h-2.9zM637.2 768.8h2.9v2.9h-2.9zM621.8 753.2h2.9v2.9h-2.9zM623.5 749.1h2.9v2.9h-2.9zM603.3 753.8h2.9v2.9h-2.9zM642.5 742.2h2.9v2.9h-2.9zM630.1 728.4h2.9v2.9h-2.9zM638.7 742.9h2.9v2.9h-2.9zM614.1 747.6h2.9v2.9h-2.9zM647.9 767.5h2.9v2.9h-2.9zM631.2 728h2.9v2.9h-2.9zM641.3 724.6h2.9v2.9h-2.9zM629.7 750.6h2.9v2.9h-2.9zM605.5 765.4h2.9v2.9h-2.9zM601.8 746.8h2.9v2.9h-2.9zM602.5 719.6h2.9v2.9h-2.9zM620.3 760.3h2.9v2.9h-2.9zM618.2 728.8h2.9v2.9h-2.9zM613.6 768.9h2.9v2.9h-2.9zM605.2 758.3h2.9v2.9h-2.9zM630.8 760.8h2.9v2.9h-2.9zM619.2 733.9h2.9v2.9h-2.9zM638.5 744.4h2.9v2.9h-2.9zM648.7 718.9h2.9v2.9h-2.9zM624.2 745.7h2.9v2.9h-2.9zM615.4 753.8h2.9v2.9h-2.9zM622.8 767.9h2.9v2.9h-2.9zM647.7 721.4h2.9v2.9h-2.9zM639.5 754.2h2.9v2.9h-2.9zM622.3 736.2h2.9v2.9h-2.9zM636.3 761.4h2.9v2.9h-2.9zM629.7 760.9h2.9v2.9h-2.9zM642.2 763.3h2.9v2.9h-2.9zM613.9 762h2.9v2.9h-2.9zM577.4 744.1h2.9v2.9h-2.9zM604.4 764.6h2.9v2.9h-2.9zM633.2 757.7h2.9v2.9h-2.9zM644.3 760.7h2.9v2.9h-2.9zM644.4 756.9h2.9v2.9h-2.9zM616.2 764.6h2.9v2.9h-2.9zM641.2 746.4h2.9v2.9h-2.9zM637.3 736.3h2.9v2.9h-2.9zM616.5 730.6h2.9v2.9h-2.9zM636.9 703.5h2.9v2.9h-2.9zM607.5 699.2h2.9v2.9h-2.9zM632.2 700.5h2.9v2.9h-2.9zM582.9 722.9h2.9v2.9h-2.9zM622.4 732.7h2.9v2.9h-2.9zM647.4 695.6h2.9v2.9h-2.9zM641.8 695.6h2.9v2.9h-2.9zM637 707.9h2.9v2.9h-2.9zM638 720.4h2.9v2.9h-2.9zM631.6 733h2.9v2.9h-2.9zM619.5 711.2h2.9v2.9h-2.9zM604.3 706.4h2.9v2.9h-2.9zM635.3 706.5h2.9v2.9h-2.9zM616 735.1h2.9v2.9h-2.9zM608.5 731.3h2.9v2.9h-2.9zM621 708.2h2.9v2.9h-2.9zM631.4 702.3h2.9v2.9h-2.9zM607.1 709.2h2.9v2.9h-2.9zM635.3 695.8h2.9v2.9h-2.9zM614.1 716.8h2.9v2.9h-2.9zM641.6 703.6h2.9v2.9h-2.9zM648.2 728.8h2.9v2.9h-2.9zM647.4 724.4h2.9v2.9h-2.9zM643.1 734.8h2.9v2.9h-2.9zM642.2 698.5h2.9v2.9h-2.9zM619.8 731.7h2.9v2.9h-2.9zM612.4 718.8h2.9v2.9h-2.9zM620.5 733.3h2.9v2.9h-2.9zM590.8 702.8h2.9v2.9h-2.9zM643.6 704.4h2.9v2.9h-2.9zM619.6 696.4h2.9v2.9h-2.9zM618.2 718.9h2.9v2.9h-2.9zM632 706.9h2.9v2.9h-2.9zM605.5 700h2.9v2.9h-2.9zM633.6 728.2h2.9v2.9h-2.9zM642.7 705h2.9v2.9h-2.9zM607.8 728.8h2.9v2.9h-2.9zM642.4 705.1h2.9v2.9h-2.9zM644 700.1h2.9v2.9h-2.9zM620.8 701.4h2.9v2.9h-2.9zM611 729.9h2.9v2.9h-2.9zM626.1 702.5h2.9v2.9h-2.9zM637 692.7h2.9v2.9h-2.9zM645.8 721.5h2.9v2.9h-2.9zM632.4 703.6h2.9v2.9h-2.9zM635.7 721h2.9v2.9h-2.9zM631.6 720.7h2.9v2.9h-2.9zM623.7 725.3h2.9v2.9h-2.9zM635.8 702.6h2.9v2.9h-2.9zM641.1 727.6h2.9v2.9h-2.9zM627.9 694.3h2.9v2.9h-2.9zM639.2 706.2h2.9v2.9h-2.9zM627 707.5h2.9v2.9h-2.9zM633.5 695.4h2.9v2.9h-2.9zM622.5 693.8h2.9v2.9h-2.9zM644.9 695.8h2.9v2.9h-2.9zM620.5 697.3h2.9v2.9h-2.9zM600.6 712.7h2.9v2.9h-2.9zM598 722h2.9v2.9h-2.9zM608.9 700.1h2.9v2.9h-2.9zM646.7 710.4h2.9v2.9h-2.9zM616.2 735.3h2.9v2.9h-2.9zM626.9 700.9h2.9v2.9h-2.9zM610 724.3h2.9v2.9h-2.9zM647.2 734.4h2.9v2.9h-2.9zM603.9 717.1h2.9v2.9h-2.9zM624.6 698.8h2.9v2.9h-2.9zM627.5 710.6h2.9v2.9h-2.9zM644.3 720.8h2.9v2.9h-2.9zM607.2 724h2.9v2.9h-2.9zM604.2 706h2.9v2.9h-2.9zM598.1 710.3h2.9v2.9h-2.9zM632.4 718.9h2.9v2.9h-2.9zM643.4 706.4h2.9v2.9h-2.9zM647.2 728.1h2.9v2.9h-2.9zM647.2 697.9h2.9v2.9h-2.9zM641.9 714h2.9v2.9h-2.9zM648.1 725.8h2.9v2.9h-2.9zM597.7 727.2h2.9v2.9h-2.9zM606.7 705.9h2.9v2.9h-2.9zM637.8 729h2.9v2.9h-2.9zM648.8 726.1h2.9v2.9h-2.9zM594 712.1h2.9v2.9h-2.9zM648.7 719.1h2.9v2.9h-2.9zM590.6 724h2.9v2.9h-2.9zM648.4 700.2h2.9v2.9h-2.9zM618.8 726.6h2.9v2.9h-2.9zM634.8 714.8h2.9v2.9h-2.9zM638.8 719.6h2.9v2.9h-2.9zM606.3 733.7h2.9v2.9h-2.9zM621.2 731.6h2.9v2.9h-2.9zM628.8 695.2h2.9v2.9h-2.9zM630.5 702.8h2.9v2.9h-2.9zM635.1 719.5h2.9v2.9h-2.9zM632 708h2.9v2.9h-2.9zM642.7 726h2.9v2.9h-2.9zM640.7 697.7h2.9v2.9h-2.9zM590 720h2.9v2.9h-2.9zM643.9 704.4h2.9v2.9h-2.9zM602.4 716.6h2.9v2.9h-2.9zM641.2 716.8h2.9v2.9h-2.9zM644.3 696.6h2.9v2.9h-2.9zM624.8 713.6h2.9v2.9h-2.9zM637.6 711.8h2.9v2.9h-2.9zM648.3 705.2h2.9v2.9h-2.9zM631.4 732h2.9v2.9h-2.9zM602.2 722.7h2.9v2.9h-2.9zM646.1 727.6h2.9v2.9h-2.9zM646.7 703h2.9v2.9h-2.9zM620.4 726.6h2.9v2.9h-2.9zM609.1 706.2h2.9v2.9h-2.9zM625.7 721.8h2.9v2.9h-2.9zM639.9 734h2.9v2.9h-2.9zM580.3 726.7h2.9v2.9h-2.9zM639.3 707.1h2.9v2.9h-2.9zM590.7 698.7h2.9v2.9h-2.9zM583.9 703.6h2.9v2.9h-2.9zM626.2 713.8h2.9v2.9h-2.9zM632 729.5h2.9v2.9h-2.9zM604.9 723.2h2.9v2.9h-2.9zM613.3 713h2.9v2.9h-2.9zM639.4 705.4h2.9v2.9h-2.9zM643.8 727.1h2.9v2.9h-2.9zM604.2 707h2.9v2.9h-2.9zM630.3 724.7h2.9v2.9h-2.9zM556.9 756.7h2.9v2.9h-2.9zM494.1 759.3h2.9v2.9h-2.9zM526.1 723.9h2.9v2.9h-2.9zM574.7 760.1h2.9v2.9h-2.9zM449.5 769.3h2.9v2.9h-2.9zM534.9 761.7h2.9v2.9h-2.9zM537.3 744.6h2.9v2.9h-2.9zM577.6 700.9h2.9v2.9h-2.9zM471.8 730.8h2.9v2.9h-2.9zM567.2 776h2.9v2.9h-2.9zM515.6 759.1h2.9v2.9h-2.9zM598 739.9h2.9v2.9h-2.9zM543.5 763.2h2.9v2.9h-2.9zM501.9 763.2h2.9v2.9h-2.9zM509.4 742.6h2.9v2.9h-2.9zM421.5 770.4h2.9v2.9h-2.9zM473.2 752.2h2.9v2.9h-2.9zM446.3 735.1h2.9v2.9h-2.9zM556.9 773.1h2.9v2.9h-2.9zM460.8 767.5h2.9v2.9h-2.9zM469.6 775.9h2.9v2.9h-2.9zM514.3 737.1h2.9v2.9h-2.9zM443 774.5h2.9v2.9h-2.9zM488.1 733.9h2.9v2.9h-2.9zM596.2 720.6h2.9v2.9h-2.9zM494.7 759.3h2.9v2.9h-2.9zM566.9 743.5h2.9v2.9h-2.9zM580.5 753.4h2.9v2.9h-2.9zM444.5 736.6h2.9v2.9h-2.9zM572.3 714.9h2.9v2.9h-2.9zM574.7 763.2h2.9v2.9h-2.9zM551.1 737.2h2.9v2.9h-2.9zM540 771h2.9v2.9h-2.9zM550.3 757.1h2.9v2.9h-2.9zM404.6 774.9h2.9v2.9h-2.9zM476.1 717h2.9v2.9h-2.9zM556.9 775.4h2.9v2.9h-2.9zM507.9 715.8h2.9v2.9h-2.9zM541.3 767.7h2.9v2.9h-2.9zM418.7 766.2h2.9v2.9h-2.9zM584.1 765.3h2.9v2.9h-2.9zM425.7 765.2h2.9v2.9h-2.9zM581.9 747.2h2.9v2.9h-2.9zM534.3 740.8h2.9v2.9h-2.9zM412.8 775h2.9v2.9h-2.9zM502.1 763.6h2.9v2.9h-2.9zM518.7 747.8h2.9v2.9h-2.9zM512 748.8h2.9v2.9h-2.9zM437.7 772.5h2.9v2.9h-2.9zM559.3 772.5h2.9v2.9h-2.9zM415.9 773.3h2.9v2.9h-2.9zM521.2 731.6h2.9v2.9h-2.9zM583.2 742.8h2.9v2.9h-2.9zM570.9 743.6h2.9v2.9h-2.9zM453.7 753.9h2.9v2.9h-2.9zM516.8 762.8h2.9v2.9h-2.9zM431.2 769.9h2.9v2.9h-2.9zM416.7 773.3h2.9v2.9h-2.9zM414.1 736h2.9v2.9h-2.9zM460.1 762h2.9v2.9h-2.9zM478.6 758.6h2.9v2.9h-2.9zM424.1 697.7h2.9v2.9h-2.9zM406.6 731.5h2.9v2.9h-2.9zM529.4 769.6h2.9v2.9h-2.9zM544.8 745.1h2.9v2.9h-2.9zM541.2 723.4h2.9v2.9h-2.9zM501.7 758.9h2.9v2.9h-2.9zM448.5 761h2.9v2.9h-2.9zM549.9 755.7h2.9v2.9h-2.9zM424.8 748.4h2.9v2.9h-2.9zM475.4 775.3h2.9v2.9h-2.9zM526.4 741.8h2.9v2.9h-2.9zM550.5 738.9h2.9v2.9h-2.9zM413.2 759.9h2.9v2.9h-2.9zM564.7 763.4h2.9v2.9h-2.9zM530.5 703.3h2.9v2.9h-2.9zM453.4 774.3h2.9v2.9h-2.9zM505.7 770.9h2.9v2.9h-2.9zM525.1 702.6h2.9v2.9h-2.9zM490.3 771.1h2.9v2.9h-2.9zM565.8 729.3h2.9v2.9h-2.9zM499.1 764.9h2.9v2.9h-2.9zM550 759.8h2.9v2.9h-2.9zM500.5 737h2.9v2.9h-2.9zM595.3 726.7h2.9v2.9h-2.9zM596.5 757.3h2.9v2.9h-2.9zM446.2 751.1h2.9v2.9h-2.9zM444.9 729.7h2.9v2.9h-2.9zM544.9 767.7h2.9v2.9h-2.9zM460 767.3h2.9v2.9h-2.9zM548.2 754.5h2.9v2.9h-2.9zM410 754.4h2.9v2.9h-2.9zM548.1 772.4h2.9v2.9h-2.9zM555.5 755.6h2.9v2.9h-2.9zM550.8 768.6h2.9v2.9h-2.9zM460.3 743.5h2.9v2.9h-2.9zM554.9 751h2.9v2.9h-2.9zM505.4 722.4h2.9v2.9h-2.9zM455.5 768.4h2.9v2.9h-2.9zM484 773.2h2.9v2.9h-2.9zM421.6 700.6h2.9v2.9h-2.9zM453 754.9h2.9v2.9h-2.9zM598.5 756.7h2.9v2.9h-2.9zM549.2 710.9h2.9v2.9h-2.9zM506.4 758.5h2.9v2.9h-2.9zM438.1 750.9h2.9v2.9h-2.9zM597.3 773.8h2.9v2.9h-2.9zM406 765.6h2.9v2.9h-2.9zM492.5 765.9h2.9v2.9h-2.9zM534.5 736.4h2.9v2.9h-2.9zM501.1 699.2h2.9v2.9h-2.9zM426.8 707.3h2.9v2.9h-2.9zM481 749.1h2.9v2.9h-2.9zM561 744.7h2.9v2.9h-2.9zM529.2 767.8h2.9v2.9h-2.9zM587.7 697.9h2.9v2.9h-2.9zM489.4 757.7h2.9v2.9h-2.9zM533.8 737.6h2.9v2.9h-2.9zM518.1 746.1h2.9v2.9h-2.9zM496.3 761.7h2.9v2.9h-2.9zM429.1 740.7h2.9v2.9h-2.9zM570.8 717.3h2.9v2.9h-2.9zM418.9 749.5h2.9v2.9h-2.9zM480.7 756.2h2.9v2.9h-2.9zM423.6 705.1h2.9v2.9h-2.9zM487.1 768.7h2.9v2.9h-2.9zM430 715.3h2.9v2.9h-2.9zM498.3 776.2h2.9v2.9h-2.9zM461.7 734.5h2.9v2.9h-2.9zM443.2 720.2h2.9v2.9h-2.9zM430.1 734.3h2.9v2.9h-2.9zM542.4 735.9h2.9v2.9h-2.9zM507.6 765.5h2.9v2.9h-2.9zM435.9 760.3h2.9v2.9h-2.9zM440.5 766.4h2.9v2.9h-2.9zM405.4 757.9h2.9v2.9h-2.9zM494.9 764.6h2.9v2.9h-2.9zM530 748.6h2.9v2.9h-2.9zM540.6 712.8h2.9v2.9h-2.9z"/>
<path fill="#3b48a8" d="M628.5 586.9h3v3h-3zM637.4 578.4h3v3h-3zM630 577.7h3v3h-3zM615.9 570h3v3h-3zM620.2 595.1h3v3h-3zM633.7 583.7h3v3h-3zM611.7 584.4h3v3h-3zM619 575h3v3h-3zM630.1 582.4h3v3h-3zM636.4 567.3h3v3h-3zM617 589.2h3v3h-3zM615.6 577.8h3v3h-3zM644.8 577.7h3v3h-3zM616.8 597.3h3v3h-3zM626.3 582.4h3v3h-3zM613.6 597.1h3v3h-3zM641.4 575.5h3v3h-3zM637.2 585.6h3v3h-3zM631.7 588.5h3v3h-3zM623.8 585.4h3v3h-3zM626.4 563.6h3v3h-3zM634.1 600.1h3v3h-3zM631 566.9h3v3h-3zM624 580.6h3v3h-3zM636.4 579.2h3v3h-3zM626.8 578.5h3v3h-3zM637.3 587.9h3v3h-3zM643 589h3v3h-3zM626.7 596.8h3v3h-3zM624.7 590.6h3v3h-3zM640.1 598.7h3v3h-3zM622 568h3v3h-3zM622.1 567.8h3v3h-3zM640.6 601.3h3v3h-3zM627.4 595.6h3v3h-3zM626.6 578.7h3v3h-3zM623.6 558.7h3v3h-3zM635.4 591.9h3v3h-3zM627 585.1h3v3h-3zM629 584.5h3v3h-3zM626.7 573.6h3v3h-3zM615 570.1h3v3h-3zM606.3 584.1h3v3h-3zM642.2 577.7h3v3h-3zM626.6 587.6h3v3h-3zM625.3 582.1h3v3h-3zM620.6 581.2h3v3h-3zM623.2 590.6h3v3h-3zM625.4 601.5h3v3h-3zM618.3 598.5h3v3h-3zM632.5 574.2h3v3h-3zM638.8 578.7h3v3h-3zM624.9 574.4h3v3h-3zM617.8 575.7h3v3h-3zM638.3 568.3h3v3h-3zM643.9 588.6h3v3h-3zM634.7 597.3h3v3h-3zM624 555h3v3h-3zM647.2 567.8h3v3h-3zM628.7 571h3v3h-3zM640.2 588.4h3v3h-3zM625.2 585.2h3v3h-3zM614.9 567.3h3v3h-3zM625.6 579h3v3h-3zM621.6 593.3h3v3h-3zM622.1 584.4h3v3h-3zM624.4 572.9h3v3h-3zM641.9 573.1h3v3h-3zM626.3 580.8h3v3h-3zM625.1 582.2h3v3h-3zM613.9 589.6h3v3h-3zM631.4 580.5h3v3h-3zM629.5 574.9h3v3h-3zM632.3 577.3h3v3h-3zM630.2 566.8h3v3h-3zM632 569.9h3v3h-3zM621.8 582.1h3v3h-3zM610.1 574.8h3v3h-3zM637.2 570.8h3v3h-3zM607.8 591.7h3v3h-3zM637.7 569.4h3v3h-3zM638.7 560.8h3v3h-3zM620.9 587.2h3v3h-3zM625.1 584.2h3v3h-3zM637.2 578.2h3v3h-3zM640.2 580.8h3v3h-3zM636.3 585.4h3v3h-3zM628.8 582.5h3v3h-3zM628.9 592.3h3v3h-3zM622.5 586.9h3v3h-3zM628.7 573.8h3v3h-3zM619.8 606.6h3v3h-3zM645.5 588.2h3v3h-3zM613.8 583.7h3v3h-3zM620.8 589.6h3v3h-3zM628.5 571.6h3v3h-3zM622.8 571.9h3v3h-3zM618.3 598.9h3v3h-3zM632.5 569.7h3v3h-3zM631.9 573h3v3h-3zM626 578.1h3v3h-3zM612.8 584.3h3v3h-3zM648 573.8h3v3h-3zM631.6 584.1h3v3h-3zM622.2 574.7h3v3h-3zM636.1 582.9h3v3h-3zM645.7 572.8h3v3h-3zM609.7 581.6h3v3h-3zM634.4 579.5h3v3h-3zM625.5 592h3v3h-3zM635.5 570.4h3v3h-3zM627.7 589.2h3v3h-3zM633.1 596h3v3h-3zM608.3 590.8h3v3h-3zM623.1 574.6h3v3h-3zM645.1 592.6h3v3h-3zM638.9 578.8h3v3h-3zM623.3 582.5h3v3h-3zM637.9 575.7h3v3h-3zM625.5 560.1h3v3h-3zM624.5 583.5h3v3h-3zM642.1 609.7h3v3h-3zM627.2 587.4h3v3h-3zM632 588h3v3h-3zM621.2 598h3v3h-3zM634.2 574.1h3v3h-3zM645.2 590.9h3v3h-3zM624.5 581.5h3v3h-3zM640.5 579.7h3v3h-3zM623.3 590.3h3v3h-3zM637.8 585.4h3v3h-3zM627.1 569.3h3v3h-3zM631.7 589h3v3h-3zM632.7 589.9h3v3h-3zM645.6 583h3v3h-3zM624.7 577.1h3v3h-3zM626.9 587.5h3v3h-3zM618 562.2h3v3h-3zM626.5 595h3v3h-3zM613.8 574.4h3v3h-3zM637.4 600.6h3v3h-3zM635.2 594h3v3h-3zM639.7 596.7h3v3h-3zM631.8 594h3v3h-3zM615.4 578.8h3v3h-3zM621.3 599.5h3v3h-3zM630.3 568.1h3v3h-3zM628.6 574.7h3v3h-3zM614.9 596.7h3v3h-3zM639.4 585.9h3v3h-3zM630 583.9h3v3h-3zM624.7 589.3h3v3h-3zM637.1 587.8h3v3h-3zM619.1 601.2h3v3h-3zM636.5 578.3h3v3h-3zM620.1 579.2h3v3h-3zM637 574.2h3v3h-3zM633.7 567h3v3h-3zM635.8 579.7h3v3h-3zM640.3 572h3v3h-3zM635.7 570.2h3v3h-3zM634.1 583.7h3v3h-3zM633.8 594.2h3v3h-3zM637.7 575.2h3v3h-3zM630.3 572.3h3v3h-3zM640.2 584.6h3v3h-3zM615.5 573.1h3v3h-3zM639.7 578.5h3v3h-3zM635.7 582h3v3h-3zM625.8 567.9h3v3h-3zM627.2 576.5h3v3h-3zM607.6 585.9h3v3h-3zM622.3 579.3h3v3h-3zM633.3 604.3h3v3h-3zM623.6 574.3h3v3h-3zM628.5 600h3v3h-3zM608 573.4h3v3h-3zM603 586.7h3v3h-3zM626.4 579.4h3v3h-3zM628 573.4h3v3h-3zM621.3 590.1h3v3h-3zM647.2 567.7h3v3h-3zM632 604.8h3v3h-3zM616.1 579.8h3v3h-3zM608.4 577.8h3v3h-3zM646.7 572.5h3v3h-3zM628.1 593.2h3v3h-3zM630.9 582.8h3v3h-3zM639.1 570.5h3v3h-3zM606.4 587.7h3v3h-3zM640.9 596.8h3v3h-3zM611.3 556.6h3v3h-3zM637.6 596.3h3v3h-3zM626.3 588.3h3v3h-3zM620.7 592.4h3v3h-3zM630.6 568.6h3v3h-3zM593.3 569.5h3v3h-3zM614.6 580.5h3v3h-3zM621.8 582h3v3h-3zM623.9 582.3h3v3h-3zM622.3 570.3h3v3h-3zM618.8 588.1h3v3h-3zM620.2 573.5h3v3h-3zM639.6 603.5h3v3h-3zM615.9 578.3h3v3h-3zM614.2 574.6h3v3h-3zM621.2 578.5h3v3h-3zM648 579h3v3h-3zM619.9 594.7h3v3h-3zM638 581.5h3v3h-3zM629.7 596h3v3h-3zM617.6 586h3v3h-3zM634.3 568.5h3v3h-3zM645.2 549.7h3v3h-3zM637.6 591.3h3v3h-3zM630.8 572.4h3v3h-3zM602.4 582.3h3v3h-3zM619.6 588.6h3v3h-3zM645.8 579.9h3v3h-3zM622.7 567.4h3v3h-3zM630.9 598.6h3v3h-3zM621.5 603.7h3v3h-3zM627.4 592.8h3v3h-3zM632.1 596.6h3v3h-3zM641.4 585.6h3v3h-3zM626.7 591.1h3v3h-3zM643.1 589.5h3v3h-3zM629.3 588.1h3v3h-3zM625.3 592.2h3v3h-3zM626.6 571.8h3v3h-3zM631.3 593.5h3v3h-3zM635.2 583.1h3v3h-3zM609.8 603.7h3v3h-3zM615.3 591h3v3h-3zM635.9 585.3h3v3h-3zM635.5 577.5h3v3h-3zM642 578.7h3v3h-3zM624.6 585.2h3v3h-3zM644.9 588.4h3v3h-3zM613.9 592.8h3v3h-3zM626.3 598.5h3v3h-3zM617.1 578.7h3v3h-3zM619.3 591.7h3v3h-3zM642 580.8h3v3h-3zM630.3 583.6h3v3h-3zM640.8 570.7h3v3h-3zM623.1 591.5h3v3h-3zM631.7 585.7h3v3h-3zM631.2 585.9h3v3h-3zM640.6 577.8h3v3h-3zM629.6 584.1h3v3h-3zM614.3 598h3v3h-3zM625.4 580.1h3v3h-3zM631 573.1h3v3h-3zM626 592.3h3v3h-3zM632 592.3h3v3h-3zM636.5 583.8h3v3h-3zM616 584.8h3v3h-3zM627.1 580.4h3v3h-3zM627 591.6h3v3h-3zM629.8 581.3h3v3h-3zM623.6 583.9h3v3h-3zM625.5 591.7h3v3h-3zM612.1 588.1h3v3h-3zM627 594.2h3v3h-3zM630.6 574.3h3v3h-3zM638.2 575.7h3v3h-3zM628.4 583.5h3v3h-3zM632.7 583.1h3v3h-3zM621.9 584.1h3v3h-3zM626.4 587.6h3v3h-3zM615.3 582.1h3v3h-3zM635.1 590.7h3v3h-3zM624.3 593.1h3v3h-3zM630.8 569.2h3v3h-3zM608.2 580.3h3v3h-3zM635 560.8h3v3h-3zM630.2 588.5h3v3h-3zM619.6 588.3h3v3h-3zM627.1 581.5h3v3h-3zM613.3 582.8h3v3h-3zM631.1 607.9h3v3h-3zM611.7 583h3v3h-3zM648.1 573h3v3h-3zM621.9 578.9h3v3h-3zM632 580h3v3h-3zM627.7 577.3h3v3h-3zM625.7 570.3h3v3h-3zM634.3 555.7h3v3h-3zM627.2 580.6h3v3h-3zM633.5 585.9h3v3h-3zM617.6 592.5h3v3h-3zM618.5 583.7h3v3h-3zM631.3 591.9h3v3h-3zM637.4 593.3h3v3h-3zM626.4 586.9h3v3h-3zM626.2 575.7h3v3h-3zM626.4 569.2h3v3h-3zM628.7 600.7h3v3h-3zM631.2 569.7h3v3h-3zM629.5 581.2h3v3h-3zM624.8 590.3h3v3h-3zM629.5 586.3h3v3h-3zM628.4 600.3h3v3h-3zM618.2 591.1h3v3h-3zM629.6 570.4h3v3h-3zM623.3 577.6h3v3h-3zM619.7 600.8h3v3h-3zM625.4 587.8h3v3h-3zM626.7 588.7h3v3h-3zM626.6 584.9h3v3h-3zM627.4 582.1h3v3h-3zM607 579.8h3v3h-3zM623 577.1h3v3h-3zM634.7 574.3h3v3h-3zM636.3 578.7h3v3h-3zM639.5 585.4h3v3h-3zM629.8 569.2h3v3h-3zM634.7 579.7h3v3h-3zM624.7 572.5h3v3h-3zM625.3 567h3v3h-3zM632.2 586.3h3v3h-3zM635.3 574.9h3v3h-3zM605.5 579h3v3h-3zM618.4 584.9h3v3h-3zM617.6 586.9h3v3h-3zM646.8 569.4h3v3h-3zM646.1 590.2h3v3h-3zM614.4 577h3v3h-3zM618.1 575.8h3v3h-3zM609.9 594.8h3v3h-3zM620.5 585.7h3v3h-3zM632.6 582.2h3v3h-3zM634.2 576h3v3h-3zM634 589.2h3v3h-3zM638.4 586h3v3h-3zM629.7 579.9h3v3h-3zM638.9 578.6h3v3h-3zM648.8 591.6h3v3h-3zM625.2 575.7h3v3h-3zM633.7 572.7h3v3h-3zM620.3 569.3h3v3h-3zM638.9 562.3h3v3h-3zM619.5 590.2h3v3h-3zM633.3 570.2h3v3h-3zM629.5 591.8h3v3h-3zM614.3 592.6h3v3h-3zM627 578.4h3v3h-3zM633.4 570.9h3v3h-3zM619.1 567.1h3v3h-3zM619.2 577.2h3v3h-3zM606.2 587.2h3v3h-3zM646.7 580.7h3v3h-3zM639.8 624.4h3v3h-3zM626.1 589.5h3v3h-3zM590 604.9h3v3h-3zM608.4 584.8h3v3h-3zM588.2 557.7h3v3h-3zM606.4 591.4h3v3h-3zM627.5 609.9h3v3h-3zM631.7 599.8h3v3h-3zM578.1 583.5h3v3h-3zM610.3 585.6h3v3h-3zM580.1 603.4h3v3h-3zM564.6 579.9h3v3h-3zM628 589h3v3h-3zM585.9 604h3v3h-3zM616.2 624h3v3h-3zM629 595.1h3v3h-3zM627.8 625.5h3v3h-3zM617.5 588.4h3v3h-3zM625.2 585.9h3v3h-3zM597.8 606.2h3v3h-3zM595 576.5h3v3h-3zM613.9 606.8h3v3h-3zM601.1 594.6h3v3h-3zM569.7 579.4h3v3h-3zM610.4 575.2h3v3h-3zM617.8 596.8h3v3h-3zM632.4 584.3h3v3h-3zM612.4 585.8h3v3h-3zM632.1 582.2h3v3h-3zM617.5 591.4h3v3h-3zM623.6 557h3v3h-3zM643.2 595.5h3v3h-3zM616.9 592.3h3v3h-3zM646.1 571.6h3v3h-3zM641.9 624.3h3v3h-3zM639.4 612.2h3v3h-3zM619.9 601.8h3v3h-3zM631.9 558.5h3v3h-3zM631.4 587.7h3v3h-3zM630.5 621.1h3v3h-3zM633.6 557.4h3v3h-3zM606.6 587.2h3v3h-3zM627.9 573.1h3v3h-3zM632.5 576.9h3v3h-3zM631.5 535.7h3v3h-3zM622.9 622.4h3v3h-3zM640.4 586.2h3v3h-3zM618.1 572.5h3v3h-3zM623.7 579.5h3v3h-3zM625.2 568.9h3v3h-3zM626.7 596.4h3v3h-3zM591.7 560.1h3v3h-3zM642.4 594.5h3v3h-3zM576.8 596.5h3v3h-3zM582.2 569.7h3v3h-3zM637 610h3v3h-3zM628.3 593.9h3v3h-3zM640.9 627.9h3v3h-3zM606.8 601.9h3v3h-3zM627.1 542.4h3v3h-3zM572.3 587h3v3h-3zM624.8 595.8h3v3h-3zM631.8 579.4h3v3h-3zM587.3 574.3h3v3h-3zM639.6 555.3h3v3h-3zM637.9 554.3h3v3h-3zM612.8 584.6h3v3h-3zM636.3 628.2h3v3h-3zM597.8 559.2h3v3h-3zM634.7 590.2h3v3h-3zM633.4 588.6h3v3h-3zM634.6 576h3v3h-3zM626.3 548h3v3h-3zM634.1 565h3v3h-3zM624.7 630.1h3v3h-3zM579.8 628.5h3v3h-3zM637.9 588.9h3v3h-3zM634.4 608.4h3v3h-3zM615.9 602.2h3v3h-3zM604 576.6h3v3h-3zM628.8 549.5h3v3h-3zM592.9 619.4h3v3h-3zM627.3 586.4h3v3h-3zM616.3 583.7h3v3h-3zM590.5 600.6h3v3h-3zM588.4 607.1h3v3h-3zM638.5 568.4h3v3h-3zM618.2 623h3v3h-3zM631.7 586h3v3h-3zM622.8 548.2h3v3h-3zM616 556.3h3v3h-3zM610.2 565.2h3v3h-3zM608.5 574.8h3v3h-3zM636.1 601.8h3v3h-3zM623.3 564.7h3v3h-3zM602.1 600.6h3v3h-3zM642.3 578.5h3v3h-3zM648 580.4h3v3h-3zM613.6 605.2h3v3h-3zM644.3 596.3h3v3h-3zM613.1 553.9h3v3h-3zM604.7 599h3v3h-3zM645.6 615.4h3v3h-3zM608.4 619.1h3v3h-3zM579.4 597.9h3v3h-3zM619.1 626.4h3v3h-3zM629.9 608.7h3v3h-3zM622.2 613.9h3v3h-3zM595.7 588h3v3h-3zM597.9 628.3h3v3h-3zM629 561.9h3v3h-3zM636.4 588.5h3v3h-3zM626.8 628.5h3v3h-3zM596.1 620.4h3v3h-3zM645.5 616.2h3v3h-3zM602.5 612.3h3v3h-3zM648.9 568.3h3v3h-3zM614.6 583.8h3v3h-3zM613.5 586.6h3v3h-3zM569 613.9h3v3h-3zM607.8 601.6h3v3h-3zM627.8 596.7h3v3h-3zM598.3 565.6h3v3h-3zM598.6 629.6h3v3h-3zM611.8 570.5h3v3h-3zM592.3 631h3v3h-3zM637.2 572.6h3v3h-3zM620.9 604.8h3v3h-3zM604.7 598.7h3v3h-3zM634.8 593h3v3h-3zM615.9 562.7h3v3h-3zM585.7 601h3v3h-3zM615.2 594.9h3v3h-3zM643.2 585.7h3v3h-3zM612.2 608.9h3v3h-3zM621.4 595.3h3v3h-3zM578.6 576.4h3v3h-3zM600.2 605.2h3v3h-3zM626.2 571.4h3v3h-3zM587.7 582.5h3v3h-3zM626.9 597.9h3v3h-3zM632.4 585.2h3v3h-3zM610.1 592.7h3v3h-3zM602.5 580.2h3v3h-3zM620 574.9h3v3h-3zM630.5 538.5h3v3h-3zM606.7 585.5h3v3h-3zM641.2 623.8h3v3h-3zM602.6 593.1h3v3h-3zM575.9 602.3h3v3h-3zM618.3 606h3v3h-3zM636 568.1h3v3h-3zM588.9 615.8h3v3h-3zM626.7 587.5h3v3h-3zM640.4 608h3v3h-3zM648 579.2h3v3h-3zM647.3 625.3h3v3h-3zM605.9 555h3v3h-3zM609.3 620.4h3v3h-3zM608.8 553.3h3v3h-3zM619.4 553.1h3v3h-3zM643.8 557.8h3v3h-3zM603.2 629h3v3h-3zM630 578.9h3v3h-3zM596.9 605.4h3v3h-3zM615.1 582.5h3v3h-3zM623.7 553h3v3h-3zM612.5 577.9h3v3h-3zM633.9 586.4h3v3h-3zM644.6 622.3h3v3h-3zM600.3 624.5h3v3h-3zM598 602.6h3v3h-3zM639.4 601.1h3v3h-3zM587.4 586.5h3v3h-3zM611.5 587h3v3h-3zM576.7 605.4h3v3h-3zM607 560.4h3v3h-3zM607.8 613.3h3v3h-3zM636.8 562.1h3v3h-3zM616.2 600.1h3v3h-3zM624.2 589.3h3v3h-3zM634.2 567.5h3v3h-3zM640.6 577.1h3v3h-3zM626 617.8h3v3h-3zM582.3 619.8h3v3h-3zM599 557.2h3v3h-3zM604.1 594.2h3v3h-3zM616.2 541.4h3v3h-3zM605.7 579.1h3v3h-3zM608 600.4h3v3h-3zM621.7 615.4h3v3h-3zM618.2 586.9h3v3h-3zM646.4 608.3h3v3h-3zM607.7 604.9h3v3h-3zM597 588.1h3v3h-3zM576.2 610.5h3v3h-3zM641 613.5h3v3h-3zM579.5 599.3h3v3h-3zM627.7 639.4h3v3h-3zM632.8 595.6h3v3h-3zM644.1 613.7h3v3h-3zM563.6 585.5h3v3h-3zM621.4 620.9h3v3h-3zM608.2 616.3h3v3h-3zM636.8 565.9h3v3h-3zM620.7 559.5h3v3h-3zM634.4 593.5h3v3h-3zM638.9 582.1h3v3h-3zM608.9 587h3v3h-3zM617.9 554.2h3v3h-3zM608.3 586.7h3v3h-3zM625.1 602.7h3v3h-3zM626.4 609.8h3v3h-3zM586.8 606h3v3h-3zM620.5 605h3v3h-3zM610.1 598.5h3v3h-3zM594.8 591.9h3v3h-3zM647.7 575h3v3h-3zM642.8 538.1h3v3h-3zM629.5 550.7h3v3h-3zM628.1 603.6h3v3h-3zM592.5 574h3v3h-3zM602.8 628.5h3v3h-3zM588.2 586.8h3v3h-3zM590.8 597.2h3v3h-3zM611.9 606.4h3v3h-3zM630.9 589.9h3v3h-3zM627 587.2h3v3h-3zM618.4 572.8h3v3h-3zM602.3 571h3v3h-3zM630.6 573.8h3v3h-3zM611.9 597.8h3v3h-3zM605.9 591.4h3v3h-3zM618.2 557.6h3v3h-3zM570.7 595.2h3v3h-3zM638.4 557.1h3v3h-3zM601.7 565.5h3v3h-3zM637.9 624h3v3h-3zM615.1 575.8h3v3h-3zM623.5 609.4h3v3h-3zM620.1 604.8h3v3h-3zM594.6 574.1h3v3h-3zM608.7 640.4h3v3h-3zM625.8 580.4h3v3h-3zM636 597.4h3v3h-3zM633.7 602.4h3v3h-3zM624.3 605.4h3v3h-3zM571.6 603.7h3v3h-3zM588.1 590.3h3v3h-3zM627.3 600h3v3h-3zM585.5 615.3h3v3h-3zM568.9 575.6h3v3h-3zM494.7 613.6h3v3h-3zM481.6 637.5h3v3h-3zM567.9 571.9h3v3h-3zM405 610.3h3v3h-3zM408.5 591.5h3v3h-3zM565.1 608.3h3v3h-3zM439.4 563.7h3v3h-3zM576.1 539.7h3v3h-3zM457 620.6h3v3h-3zM410.3 592.5h3v3h-3zM546.8 576.5h3v3h-3zM558 572.3h3v3h-3zM536.4 625h3v3h-3zM475 582.2h3v3h-3zM533.1 616.3h3v3h-3zM525.1 636.3h3v3h-3zM494.9 561.7h3v3h-3zM453.5 549.4h3v3h-3zM518.9 541.8h3v3h-3zM466.9 553h3v3h-3zM473.3 613.1h3v3h-3zM467.2 532.1h3v3h-3zM479.3 558.7h3v3h-3zM574.3 596.8h3v3h-3zM580.6 551.7h3v3h-3zM447.7 560.9h3v3h-3zM456.4 585.2h3v3h-3zM443.7 560.6h3v3h-3zM462.2 632.3h3v3h-3zM546.8 608.8h3v3h-3zM492.4 566.7h3v3h-3zM490.6 559.3h3v3h-3zM520.4 584.1h3v3h-3zM444.1 578.2h3v3h-3zM504.4 599.1h3v3h-3zM485.7 561.7h3v3h-3zM522.8 568.1h3v3h-3zM469.8 559.4h3v3h-3zM406.9 545.6h3v3h-3zM531.4 627.5h3v3h-3zM407.9 581.5h3v3h-3zM481.1 610.1h3v3h-3zM449 626.9h3v3h-3zM490.2 557.5h3v3h-3zM514.3 576.2h3v3h-3zM513.6 537.7h3v3h-3zM551.4 557.8h3v3h-3zM466.5 551.6h3v3h-3zM448.4 591.9h3v3h-3zM487.3 579h3v3h-3zM496.4 551.4h3v3h-3zM428.1 586.4h3v3h-3zM466.5 585.2h3v3h-3zM576.3 579.1h3v3h-3zM454.6 556.3h3v3h-3zM518.1 546.2h3v3h-3zM477.3 618.6h3v3h-3zM585.2 586.8h3v3h-3zM444 544.6h3v3h-3zM408.4 558.7h3v3h-3zM471.2 606.1h3v3h-3zM538.4 565.6h3v3h-3zM538.5 573.3h3v3h-3zM525.6 605.3h3v3h-3zM449.7 560.9h3v3h-3zM451.4 572.5h3v3h-3zM432.6 634.7h3v3h-3zM460.5 642.3h3v3h-3zM498.4 597.7h3v3h-3zM537.4 541.2h3v3h-3zM422.1 566.7h3v3h-3zM555.2 594h3v3h-3zM568.8 624.7h3v3h-3zM493.8 532.9h3v3h-3zM449.3 582.8h3v3h-3zM452.6 571.1h3v3h-3zM529.3 642.9h3v3h-3zM486.3 572.4h3v3h-3zM436.8 591.5h3v3h-3zM578.8 592.7h3v3h-3zM510.1 605.6h3v3h-3zM496.6 592.8h3v3h-3zM500.3 571.3h3v3h-3zM542.8 572.8h3v3h-3zM469.7 562.8h3v3h-3zM546.3 556.2h3v3h-3zM419.1 598.3h3v3h-3zM540.3 585.7h3v3h-3zM482.2 547.5h3v3h-3zM423.2 634.3h3v3h-3zM558.5 551.2h3v3h-3zM575.4 540.4h3v3h-3zM413.6 603.2h3v3h-3zM588 616.6h3v3h-3zM542.3 575.5h3v3h-3zM553.7 540.8h3v3h-3zM486.7 546.3h3v3h-3zM571 561.8h3v3h-3zM582.9 571.5h3v3h-3zM553.2 566.7h3v3h-3zM415.5 629h3v3h-3zM483.7 609.8h3v3h-3zM448.6 570.5h3v3h-3zM623.8 657h3v3h-3zM612.2 652.8h3v3h-3zM572.5 667.2h3v3h-3zM603 664.2h3v3h-3zM643.6 676.3h3v3h-3zM645.2 675.3h3v3h-3zM614.7 684.5h3v3h-3zM596.2 664.4h3v3h-3zM629.5 663.2h3v3h-3zM578.7 675.4h3v3h-3zM647.5 663.3h3v3h-3zM604.9 671.1h3v3h-3z"/>
<rect x="310.3" y="484.4" width="341.6" height="341.5" fill="none" stroke="#1d1d1b" stroke-width="1.9"/>
<rect x="650.7" y="691.6" width="2.2" height="135.1" fill="#69b42d"/>
<path fill="#3b48a8" d="M650.3 527.7h2.6v2.6h-2.6zM650.3 530.1h2.6v2.6h-2.6zM650.3 532.5h2.6v2.6h-2.6zM650.3 534.9h2.6v2.6h-2.6zM650.3 537.3h2.6v2.6h-2.6zM650.3 539.7h2.6v2.6h-2.6zM650.3 546.9h2.6v2.6h-2.6zM650.3 549.3h2.6v2.6h-2.6zM650.3 554.1h2.6v2.6h-2.6zM650.3 556.5h2.6v2.6h-2.6zM650.3 558.9h2.6v2.6h-2.6zM650.3 561.3h2.6v2.6h-2.6zM650.3 563.7h2.6v2.6h-2.6zM650.3 568.5h2.6v2.6h-2.6zM650.3 570.9h2.6v2.6h-2.6zM650.3 575.7h2.6v2.6h-2.6zM650.3 578.1h2.6v2.6h-2.6zM650.3 582.9h2.6v2.6h-2.6zM650.3 585.3h2.6v2.6h-2.6zM650.3 587.7h2.6v2.6h-2.6zM650.3 592.5h2.6v2.6h-2.6zM650.3 594.9h2.6v2.6h-2.6zM650.3 597.3h2.6v2.6h-2.6zM650.3 602.1h2.6v2.6h-2.6zM650.3 604.5h2.6v2.6h-2.6zM650.3 609.3h2.6v2.6h-2.6zM650.3 614.1h2.6v2.6h-2.6zM650.3 621.3h2.6v2.6h-2.6zM650.3 623.7h2.6v2.6h-2.6zM650.3 633.3h2.6v2.6h-2.6zM650.3 638.1h2.6v2.6h-2.6zM650.3 645.3h2.6v2.6h-2.6zM650.3 647.7h2.6v2.6h-2.6zM650.3 650.1h2.6v2.6h-2.6zM650.3 652.5h2.6v2.6h-2.6zM650.3 654.9h2.6v2.6h-2.6zM650.3 657.3h2.6v2.6h-2.6zM650.3 662.1h2.6v2.6h-2.6zM650.3 666.9h2.6v2.6h-2.6zM650.3 671.7h2.6v2.6h-2.6zM650.3 674.1h2.6v2.6h-2.6zM650.3 676.5h2.6v2.6h-2.6zM650.3 678.9h2.6v2.6h-2.6zM650.3 681.3h2.6v2.6h-2.6zM650.3 688.5h2.6v2.6h-2.6z"/>
<line x1="404.2" y1="484.4" x2="404.2" y2="825.9" stroke="#1d1d1b" stroke-width="1.5"/>
<polyline fill="none" stroke="#1d1d1b" stroke-width="1.4" points="310.3,695.9 404.2,692.9 651.9,691"/>
<line x1="302.2" y1="485.2" x2="310.3" y2="485.2" stroke="#1d1d1b" stroke-width="1.8"/>
<line x1="302.2" y1="561.4" x2="310.3" y2="561.4" stroke="#1d1d1b" stroke-width="1.8"/>
<line x1="302.2" y1="636.9" x2="310.3" y2="636.9" stroke="#1d1d1b" stroke-width="1.8"/>
<line x1="302.2" y1="719.9" x2="310.3" y2="719.9" stroke="#1d1d1b" stroke-width="1.8"/>
<line x1="302.2" y1="791.5" x2="310.3" y2="791.5" stroke="#1d1d1b" stroke-width="1.8"/>
<line x1="306.4" y1="538.5" x2="310.3" y2="538.5" stroke="#1d1d1b" stroke-width="1.5"/>
<line x1="306.4" y1="525" x2="310.3" y2="525" stroke="#1d1d1b" stroke-width="1.5"/>
<line x1="306.4" y1="515.5" x2="310.3" y2="515.5" stroke="#1d1d1b" stroke-width="1.5"/>
<line x1="306.4" y1="508.1" x2="310.3" y2="508.1" stroke="#1d1d1b" stroke-width="1.5"/>
<line x1="306.4" y1="502.1" x2="310.3" y2="502.1" stroke="#1d1d1b" stroke-width="1.5"/>
<line x1="306.4" y1="497" x2="310.3" y2="497" stroke="#1d1d1b" stroke-width="1.5"/>
<line x1="306.4" y1="492.6" x2="310.3" y2="492.6" stroke="#1d1d1b" stroke-width="1.5"/>
<line x1="306.4" y1="488.7" x2="310.3" y2="488.7" stroke="#1d1d1b" stroke-width="1.5"/>
<line x1="306.4" y1="614.2" x2="310.3" y2="614.2" stroke="#1d1d1b" stroke-width="1.5"/>
<line x1="306.4" y1="600.9" x2="310.3" y2="600.9" stroke="#1d1d1b" stroke-width="1.5"/>
<line x1="306.4" y1="591.4" x2="310.3" y2="591.4" stroke="#1d1d1b" stroke-width="1.5"/>
<line x1="306.4" y1="584.1" x2="310.3" y2="584.1" stroke="#1d1d1b" stroke-width="1.5"/>
<line x1="306.4" y1="578.1" x2="310.3" y2="578.1" stroke="#1d1d1b" stroke-width="1.5"/>
<line x1="306.4" y1="573.1" x2="310.3" y2="573.1" stroke="#1d1d1b" stroke-width="1.5"/>
<line x1="306.4" y1="568.7" x2="310.3" y2="568.7" stroke="#1d1d1b" stroke-width="1.5"/>
<line x1="306.4" y1="564.9" x2="310.3" y2="564.9" stroke="#1d1d1b" stroke-width="1.5"/>
<line x1="306.4" y1="694.9" x2="310.3" y2="694.9" stroke="#1d1d1b" stroke-width="1.5"/>
<line x1="306.4" y1="680.3" x2="310.3" y2="680.3" stroke="#1d1d1b" stroke-width="1.5"/>
<line x1="306.4" y1="669.9" x2="310.3" y2="669.9" stroke="#1d1d1b" stroke-width="1.5"/>
<line x1="306.4" y1="661.9" x2="310.3" y2="661.9" stroke="#1d1d1b" stroke-width="1.5"/>
<line x1="306.4" y1="655.3" x2="310.3" y2="655.3" stroke="#1d1d1b" stroke-width="1.5"/>
<line x1="306.4" y1="649.8" x2="310.3" y2="649.8" stroke="#1d1d1b" stroke-width="1.5"/>
<line x1="306.4" y1="644.9" x2="310.3" y2="644.9" stroke="#1d1d1b" stroke-width="1.5"/>
<line x1="306.4" y1="640.7" x2="310.3" y2="640.7" stroke="#1d1d1b" stroke-width="1.5"/>
<line x1="306.4" y1="724.1" x2="310.3" y2="724.1" stroke="#1d1d1b" stroke-width="1.5"/>
<line x1="306.4" y1="728.3" x2="310.3" y2="728.3" stroke="#1d1d1b" stroke-width="1.5"/>
<line x1="306.4" y1="733" x2="310.3" y2="733" stroke="#1d1d1b" stroke-width="1.5"/>
<line x1="306.4" y1="738.7" x2="310.3" y2="738.7" stroke="#1d1d1b" stroke-width="1.5"/>
<line x1="306.4" y1="745.8" x2="310.3" y2="745.8" stroke="#1d1d1b" stroke-width="1.5"/>
<line x1="306.4" y1="752.9" x2="310.3" y2="752.9" stroke="#1d1d1b" stroke-width="1.5"/>
<line x1="306.4" y1="770" x2="310.3" y2="770" stroke="#1d1d1b" stroke-width="1.5"/>
<line x1="306.4" y1="813.3" x2="310.3" y2="813.3" stroke="#1d1d1b" stroke-width="1.5"/>
<line x1="344.1" y1="825.9" x2="344.1" y2="833.9" stroke="#1d1d1b" stroke-width="1.8"/>
<line x1="415.4" y1="825.9" x2="415.4" y2="833.9" stroke="#1d1d1b" stroke-width="1.8"/>
<line x1="498.9" y1="825.9" x2="498.9" y2="833.9" stroke="#1d1d1b" stroke-width="1.8"/>
<line x1="575.3" y1="825.9" x2="575.3" y2="833.9" stroke="#1d1d1b" stroke-width="1.8"/>
<line x1="650.9" y1="825.9" x2="650.9" y2="833.9" stroke="#1d1d1b" stroke-width="1.8"/>
<line x1="322.6" y1="825.9" x2="322.6" y2="829.7" stroke="#1d1d1b" stroke-width="1.5"/>
<line x1="365.9" y1="825.9" x2="365.9" y2="829.7" stroke="#1d1d1b" stroke-width="1.5"/>
<line x1="382.6" y1="825.9" x2="382.6" y2="829.7" stroke="#1d1d1b" stroke-width="1.5"/>
<line x1="389.7" y1="825.9" x2="389.7" y2="829.7" stroke="#1d1d1b" stroke-width="1.5"/>
<line x1="395.4" y1="825.9" x2="395.4" y2="829.7" stroke="#1d1d1b" stroke-width="1.5"/>
<line x1="399.7" y1="825.9" x2="399.7" y2="829.7" stroke="#1d1d1b" stroke-width="1.5"/>
<line x1="403.3" y1="825.9" x2="403.3" y2="829.7" stroke="#1d1d1b" stroke-width="1.5"/>
<line x1="406.8" y1="825.9" x2="406.8" y2="829.7" stroke="#1d1d1b" stroke-width="1.5"/>
<line x1="410.4" y1="825.9" x2="410.4" y2="829.7" stroke="#1d1d1b" stroke-width="1.5"/>
<line x1="440.5" y1="825.9" x2="440.5" y2="829.7" stroke="#1d1d1b" stroke-width="1.5"/>
<line x1="455.2" y1="825.9" x2="455.2" y2="829.7" stroke="#1d1d1b" stroke-width="1.5"/>
<line x1="465.7" y1="825.9" x2="465.7" y2="829.7" stroke="#1d1d1b" stroke-width="1.5"/>
<line x1="473.8" y1="825.9" x2="473.8" y2="829.7" stroke="#1d1d1b" stroke-width="1.5"/>
<line x1="480.4" y1="825.9" x2="480.4" y2="829.7" stroke="#1d1d1b" stroke-width="1.5"/>
<line x1="486" y1="825.9" x2="486" y2="829.7" stroke="#1d1d1b" stroke-width="1.5"/>
<line x1="490.8" y1="825.9" x2="490.8" y2="829.7" stroke="#1d1d1b" stroke-width="1.5"/>
<line x1="495.1" y1="825.9" x2="495.1" y2="829.7" stroke="#1d1d1b" stroke-width="1.5"/>
<line x1="521.9" y1="825.9" x2="521.9" y2="829.7" stroke="#1d1d1b" stroke-width="1.5"/>
<line x1="535.4" y1="825.9" x2="535.4" y2="829.7" stroke="#1d1d1b" stroke-width="1.5"/>
<line x1="544.9" y1="825.9" x2="544.9" y2="829.7" stroke="#1d1d1b" stroke-width="1.5"/>
<line x1="552.3" y1="825.9" x2="552.3" y2="829.7" stroke="#1d1d1b" stroke-width="1.5"/>
<line x1="558.4" y1="825.9" x2="558.4" y2="829.7" stroke="#1d1d1b" stroke-width="1.5"/>
<line x1="563.5" y1="825.9" x2="563.5" y2="829.7" stroke="#1d1d1b" stroke-width="1.5"/>
<line x1="567.9" y1="825.9" x2="567.9" y2="829.7" stroke="#1d1d1b" stroke-width="1.5"/>
<line x1="571.8" y1="825.9" x2="571.8" y2="829.7" stroke="#1d1d1b" stroke-width="1.5"/>
<line x1="598.1" y1="825.9" x2="598.1" y2="829.7" stroke="#1d1d1b" stroke-width="1.5"/>
<line x1="611.4" y1="825.9" x2="611.4" y2="829.7" stroke="#1d1d1b" stroke-width="1.5"/>
<line x1="620.8" y1="825.9" x2="620.8" y2="829.7" stroke="#1d1d1b" stroke-width="1.5"/>
<line x1="628.1" y1="825.9" x2="628.1" y2="829.7" stroke="#1d1d1b" stroke-width="1.5"/>
<line x1="634.1" y1="825.9" x2="634.1" y2="829.7" stroke="#1d1d1b" stroke-width="1.5"/>
<line x1="639.2" y1="825.9" x2="639.2" y2="829.7" stroke="#1d1d1b" stroke-width="1.5"/>
<line x1="643.6" y1="825.9" x2="643.6" y2="829.7" stroke="#1d1d1b" stroke-width="1.5"/>
<line x1="647.4" y1="825.9" x2="647.4" y2="829.7" stroke="#1d1d1b" stroke-width="1.5"/>
<text x="278.8" y="490.9" font-size="16" fill="#1d1d1b" textLength="16" lengthAdjust="spacingAndGlyphs">10</text>
<text x="294.8" y="484.8" font-size="10" fill="#1d1d1b" textLength="4.6" lengthAdjust="spacingAndGlyphs">3</text>
<text x="278.8" y="567.1" font-size="16" fill="#1d1d1b" textLength="16" lengthAdjust="spacingAndGlyphs">10</text>
<text x="294.8" y="561" font-size="10" fill="#1d1d1b" textLength="4.6" lengthAdjust="spacingAndGlyphs">2</text>
<text x="278.8" y="642.6" font-size="16" fill="#1d1d1b" textLength="16" lengthAdjust="spacingAndGlyphs">10</text>
<text x="294.8" y="636.5" font-size="10" fill="#1d1d1b" textLength="4.6" lengthAdjust="spacingAndGlyphs">1</text>
<text x="278.8" y="725.6" font-size="16" fill="#1d1d1b" textLength="16" lengthAdjust="spacingAndGlyphs">10</text>
<text x="294.8" y="719.5" font-size="10" fill="#1d1d1b" textLength="4.6" lengthAdjust="spacingAndGlyphs">0</text>
<text x="291.2" y="797.2" font-size="16" fill="#1d1d1b" textLength="8.2" lengthAdjust="spacingAndGlyphs">0</text>
<text x="340" y="852.1" font-size="16" fill="#1d1d1b" textLength="8.2" lengthAdjust="spacingAndGlyphs">0</text>
<text x="405.4" y="852.1" font-size="16" fill="#1d1d1b" textLength="16" lengthAdjust="spacingAndGlyphs">10</text>
<text x="421.4" y="846" font-size="10" fill="#1d1d1b" textLength="4.6" lengthAdjust="spacingAndGlyphs">0</text>
<text x="488.9" y="852.1" font-size="16" fill="#1d1d1b" textLength="16" lengthAdjust="spacingAndGlyphs">10</text>
<text x="504.9" y="846" font-size="10" fill="#1d1d1b" textLength="4.6" lengthAdjust="spacingAndGlyphs">1</text>
<text x="565.3" y="852.1" font-size="16" fill="#1d1d1b" textLength="16" lengthAdjust="spacingAndGlyphs">10</text>
<text x="581.3" y="846" font-size="10" fill="#1d1d1b" textLength="4.6" lengthAdjust="spacingAndGlyphs">2</text>
<text x="640.9" y="852.1" font-size="16" fill="#1d1d1b" textLength="16" lengthAdjust="spacingAndGlyphs">10</text>
<text x="656.9" y="846" font-size="10" fill="#1d1d1b" textLength="4.6" lengthAdjust="spacingAndGlyphs">3</text>
<text x="320.7" y="516.2" font-size="30" fill="#1d1d1b" font-weight="bold" textLength="81.3" lengthAdjust="spacingAndGlyphs">8.74%</text>
<text x="513" y="516.2" font-size="30" fill="#1d1d1b" font-weight="bold" textLength="81.5" lengthAdjust="spacingAndGlyphs">6.50%</text>
<text x="465.9" y="819.9" font-size="30" fill="#1d1d1b" font-weight="bold" textLength="96" lengthAdjust="spacingAndGlyphs">26.71%</text>
<path fill="#3b48a8" d="M888.1 317.3h3v3h-3zM900.7 354.3h3v3h-3zM930.4 365.3h3v3h-3zM946.4 365.3h3v3h-3zM965.3 346.5h3v3h-3zM965.3 351.8h3v3h-3zM970.9 343.7h3v3h-3zM984.1 351.8h3v3h-3zM986.9 346.5h3v3h-3zM992.5 346.5h3v3h-3zM1002.9 314.2h3v3h-3zM1000.1 354.3h3v3h-3zM1000.1 357.2h3v3h-3zM997.2 362.5h3v3h-3zM1005.7 362.5h3v3h-3zM1008.5 367.8h3v3h-3zM1013.9 343.7h3v3h-3zM1013.9 360h3v3h-3zM1027 327.7h3v3h-3zM887.8 354.3h3v3h-3zM887.8 356.5h3v3h-3zM887.8 358.7h3v3h-3zM887.8 360.9h3v3h-3zM887.8 363.1h3v3h-3zM887.8 365.3h3v3h-3zM887.8 367.5h3v3h-3zM887.8 372.8h3v3h-3z"/>
<path fill="#e7343a" d="M1013.9 367.8h3v3h-3zM1032.4 346.5h3v3h-3zM1032.4 357.2h3v3h-3zM1029.9 365.3h3v3h-3zM1043 351.8h3v3h-3zM1051.2 365.3h3v3h-3zM1174.4 282.2h3v3h-3zM1177.5 351.8h3v3h-3z"/>
<rect x="888.4" y="47.6" width="342.4" height="341" fill="none" stroke="#1d1d1b" stroke-width="2.2"/>
<polyline fill="none" stroke="#1d1d1b" stroke-width="1.5" points="1001.6,388.6 1208.8,64.8 1230.8,47.6"/>
<line x1="880.4" y1="55.4" x2="888.4" y2="55.4" stroke="#1d1d1b" stroke-width="1.9"/>
<text x="847.5" y="61.1" font-size="16" fill="#1d1d1b" textLength="30.4" lengthAdjust="spacingAndGlyphs">1000</text>
<line x1="880.4" y1="121.3" x2="888.4" y2="121.3" stroke="#1d1d1b" stroke-width="1.9"/>
<text x="855.1" y="127" font-size="16" fill="#1d1d1b" textLength="22.8" lengthAdjust="spacingAndGlyphs">800</text>
<line x1="880.4" y1="188.4" x2="888.4" y2="188.4" stroke="#1d1d1b" stroke-width="1.9"/>
<text x="855.1" y="194.1" font-size="16" fill="#1d1d1b" textLength="22.8" lengthAdjust="spacingAndGlyphs">600</text>
<line x1="880.4" y1="255.2" x2="888.4" y2="255.2" stroke="#1d1d1b" stroke-width="1.9"/>
<text x="855.1" y="260.9" font-size="16" fill="#1d1d1b" textLength="22.8" lengthAdjust="spacingAndGlyphs">400</text>
<line x1="880.4" y1="321.6" x2="888.4" y2="321.6" stroke="#1d1d1b" stroke-width="1.9"/>
<text x="855.1" y="327.3" font-size="16" fill="#1d1d1b" textLength="22.8" lengthAdjust="spacingAndGlyphs">200</text>
<line x1="880.4" y1="388.5" x2="888.4" y2="388.5" stroke="#1d1d1b" stroke-width="1.9"/>
<text x="870.3" y="394.2" font-size="16" fill="#1d1d1b" textLength="7.6" lengthAdjust="spacingAndGlyphs">0</text>
<line x1="884.6" y1="88.3" x2="888.4" y2="88.3" stroke="#1d1d1b" stroke-width="1.6"/>
<line x1="884.6" y1="154.8" x2="888.4" y2="154.8" stroke="#1d1d1b" stroke-width="1.6"/>
<line x1="884.6" y1="221.8" x2="888.4" y2="221.8" stroke="#1d1d1b" stroke-width="1.6"/>
<line x1="884.6" y1="288.4" x2="888.4" y2="288.4" stroke="#1d1d1b" stroke-width="1.6"/>
<line x1="884.6" y1="355.1" x2="888.4" y2="355.1" stroke="#1d1d1b" stroke-width="1.6"/>
<line x1="891" y1="388.6" x2="891" y2="396.8" stroke="#1d1d1b" stroke-width="1.9"/>
<line x1="928.5" y1="388.6" x2="928.5" y2="396.8" stroke="#1d1d1b" stroke-width="1.9"/>
<line x1="1001.6" y1="388.6" x2="1001.6" y2="396.8" stroke="#1d1d1b" stroke-width="1.9"/>
<line x1="1076.9" y1="388.6" x2="1076.9" y2="396.8" stroke="#1d1d1b" stroke-width="1.9"/>
<line x1="1152.8" y1="388.6" x2="1152.8" y2="396.8" stroke="#1d1d1b" stroke-width="1.9"/>
<line x1="1228.9" y1="388.6" x2="1228.9" y2="396.8" stroke="#1d1d1b" stroke-width="1.9"/>
<line x1="895.5" y1="388.6" x2="895.5" y2="392.6" stroke="#1d1d1b" stroke-width="1.6"/>
<line x1="900.2" y1="388.6" x2="900.2" y2="392.6" stroke="#1d1d1b" stroke-width="1.6"/>
<line x1="904.1" y1="388.6" x2="904.1" y2="392.6" stroke="#1d1d1b" stroke-width="1.6"/>
<line x1="907.7" y1="388.6" x2="907.7" y2="392.6" stroke="#1d1d1b" stroke-width="1.6"/>
<line x1="911.1" y1="388.6" x2="911.1" y2="392.6" stroke="#1d1d1b" stroke-width="1.6"/>
<line x1="914.1" y1="388.6" x2="914.1" y2="392.6" stroke="#1d1d1b" stroke-width="1.6"/>
<line x1="916.7" y1="388.6" x2="916.7" y2="392.6" stroke="#1d1d1b" stroke-width="1.6"/>
<line x1="919.1" y1="388.6" x2="919.1" y2="392.6" stroke="#1d1d1b" stroke-width="1.6"/>
<line x1="921.4" y1="388.6" x2="921.4" y2="392.6" stroke="#1d1d1b" stroke-width="1.6"/>
<line x1="923.6" y1="388.6" x2="923.6" y2="392.6" stroke="#1d1d1b" stroke-width="1.6"/>
<line x1="925.6" y1="388.6" x2="925.6" y2="392.6" stroke="#1d1d1b" stroke-width="1.6"/>
<line x1="927.2" y1="388.6" x2="927.2" y2="392.6" stroke="#1d1d1b" stroke-width="1.6"/>
<line x1="950.5" y1="388.6" x2="950.5" y2="392.6" stroke="#1d1d1b" stroke-width="1.6"/>
<line x1="963.4" y1="388.6" x2="963.4" y2="392.6" stroke="#1d1d1b" stroke-width="1.6"/>
<line x1="972.5" y1="388.6" x2="972.5" y2="392.6" stroke="#1d1d1b" stroke-width="1.6"/>
<line x1="979.6" y1="388.6" x2="979.6" y2="392.6" stroke="#1d1d1b" stroke-width="1.6"/>
<line x1="985.4" y1="388.6" x2="985.4" y2="392.6" stroke="#1d1d1b" stroke-width="1.6"/>
<line x1="990.3" y1="388.6" x2="990.3" y2="392.6" stroke="#1d1d1b" stroke-width="1.6"/>
<line x1="994.5" y1="388.6" x2="994.5" y2="392.6" stroke="#1d1d1b" stroke-width="1.6"/>
<line x1="998.3" y1="388.6" x2="998.3" y2="392.6" stroke="#1d1d1b" stroke-width="1.6"/>
<line x1="1024.3" y1="388.6" x2="1024.3" y2="392.6" stroke="#1d1d1b" stroke-width="1.6"/>
<line x1="1037.5" y1="388.6" x2="1037.5" y2="392.6" stroke="#1d1d1b" stroke-width="1.6"/>
<line x1="1046.9" y1="388.6" x2="1046.9" y2="392.6" stroke="#1d1d1b" stroke-width="1.6"/>
<line x1="1054.2" y1="388.6" x2="1054.2" y2="392.6" stroke="#1d1d1b" stroke-width="1.6"/>
<line x1="1060.2" y1="388.6" x2="1060.2" y2="392.6" stroke="#1d1d1b" stroke-width="1.6"/>
<line x1="1065.2" y1="388.6" x2="1065.2" y2="392.6" stroke="#1d1d1b" stroke-width="1.6"/>
<line x1="1069.6" y1="388.6" x2="1069.6" y2="392.6" stroke="#1d1d1b" stroke-width="1.6"/>
<line x1="1073.5" y1="388.6" x2="1073.5" y2="392.6" stroke="#1d1d1b" stroke-width="1.6"/>
<line x1="1099.7" y1="388.6" x2="1099.7" y2="392.6" stroke="#1d1d1b" stroke-width="1.6"/>
<line x1="1113.1" y1="388.6" x2="1113.1" y2="392.6" stroke="#1d1d1b" stroke-width="1.6"/>
<line x1="1122.6" y1="388.6" x2="1122.6" y2="392.6" stroke="#1d1d1b" stroke-width="1.6"/>
<line x1="1130" y1="388.6" x2="1130" y2="392.6" stroke="#1d1d1b" stroke-width="1.6"/>
<line x1="1136" y1="388.6" x2="1136" y2="392.6" stroke="#1d1d1b" stroke-width="1.6"/>
<line x1="1141" y1="388.6" x2="1141" y2="392.6" stroke="#1d1d1b" stroke-width="1.6"/>
<line x1="1145.4" y1="388.6" x2="1145.4" y2="392.6" stroke="#1d1d1b" stroke-width="1.6"/>
<line x1="1149.3" y1="388.6" x2="1149.3" y2="392.6" stroke="#1d1d1b" stroke-width="1.6"/>
<line x1="1175.7" y1="388.6" x2="1175.7" y2="392.6" stroke="#1d1d1b" stroke-width="1.6"/>
<line x1="1189.1" y1="388.6" x2="1189.1" y2="392.6" stroke="#1d1d1b" stroke-width="1.6"/>
<line x1="1198.6" y1="388.6" x2="1198.6" y2="392.6" stroke="#1d1d1b" stroke-width="1.6"/>
<line x1="1206" y1="388.6" x2="1206" y2="392.6" stroke="#1d1d1b" stroke-width="1.6"/>
<line x1="1212" y1="388.6" x2="1212" y2="392.6" stroke="#1d1d1b" stroke-width="1.6"/>
<line x1="1217.1" y1="388.6" x2="1217.1" y2="392.6" stroke="#1d1d1b" stroke-width="1.6"/>
<line x1="1221.5" y1="388.6" x2="1221.5" y2="392.6" stroke="#1d1d1b" stroke-width="1.6"/>
<line x1="1225.4" y1="388.6" x2="1225.4" y2="392.6" stroke="#1d1d1b" stroke-width="1.6"/>
<text x="887.1" y="414.1" font-size="16" fill="#1d1d1b" textLength="8.2" lengthAdjust="spacingAndGlyphs">0</text>
<text x="916.4" y="414.1" font-size="16" fill="#1d1d1b" textLength="16" lengthAdjust="spacingAndGlyphs">10</text>
<text x="932.4" y="408" font-size="10" fill="#1d1d1b" textLength="9.2" lengthAdjust="spacingAndGlyphs">-1</text>
<text x="991.8" y="414.1" font-size="16" fill="#1d1d1b" textLength="16" lengthAdjust="spacingAndGlyphs">10</text>
<text x="1007.8" y="408" font-size="10" fill="#1d1d1b" textLength="4.6" lengthAdjust="spacingAndGlyphs">0</text>
<text x="1067.1" y="414.1" font-size="16" fill="#1d1d1b" textLength="16" lengthAdjust="spacingAndGlyphs">10</text>
<text x="1083.1" y="408" font-size="10" fill="#1d1d1b" textLength="4.6" lengthAdjust="spacingAndGlyphs">1</text>
<text x="1143" y="414.1" font-size="16" fill="#1d1d1b" textLength="16" lengthAdjust="spacingAndGlyphs">10</text>
<text x="1159" y="408" font-size="10" fill="#1d1d1b" textLength="4.6" lengthAdjust="spacingAndGlyphs">2</text>
<text x="1219.1" y="414.1" font-size="16" fill="#1d1d1b" textLength="16" lengthAdjust="spacingAndGlyphs">10</text>
<text x="1235.1" y="408" font-size="10" fill="#1d1d1b" textLength="4.6" lengthAdjust="spacingAndGlyphs">3</text>
<text x="1119.8" y="239" font-size="30" fill="#1d1d1b" font-weight="bold" textLength="96.8" lengthAdjust="spacingAndGlyphs">20.51%</text>
<path fill="#3b48a8" d="M1001.5 806.3h3v3h-3zM1003.3 807.5h3v3h-3zM983.4 798.1h3v3h-3zM979.8 796.5h3v3h-3zM960.8 795.8h3v3h-3zM1016.2 801.4h3v3h-3zM1009.2 799.8h3v3h-3zM1004.7 792.1h3v3h-3zM1019.6 790.6h3v3h-3zM981.4 802.5h3v3h-3zM984 796.6h3v3h-3zM1000.7 786.8h3v3h-3zM1012.4 795.1h3v3h-3zM994.6 805h3v3h-3zM975.2 806.6h3v3h-3zM1005.1 803.8h3v3h-3zM980.1 804h3v3h-3zM975 805.1h3v3h-3zM985.3 795.8h3v3h-3zM991.2 791.5h3v3h-3zM1015 792.2h3v3h-3zM986.3 799.1h3v3h-3zM997 803.1h3v3h-3zM1004.8 806.7h3v3h-3zM996.9 804h3v3h-3zM969 806.5h3v3h-3zM987.3 798.5h3v3h-3zM958.7 801.8h3v3h-3zM976.1 784.9h3v3h-3zM966 794h3v3h-3zM997.1 798.5h3v3h-3zM1016.2 789.3h3v3h-3zM995.5 806.9h3v3h-3zM982.2 801.7h3v3h-3zM986 799h3v3h-3zM1001.3 803.5h3v3h-3zM999.7 803.5h3v3h-3zM1008.2 802h3v3h-3zM977.1 778.1h3v3h-3zM1015.5 795.6h3v3h-3zM1015.5 804.6h3v3h-3zM1011.4 807.5h3v3h-3zM965.4 807.5h3v3h-3zM1004.8 796h3v3h-3zM1002.5 798.1h3v3h-3zM976.8 795.9h3v3h-3zM992.7 805.4h3v3h-3zM992.8 795.5h3v3h-3zM993.1 777.1h3v3h-3zM994.7 797h3v3h-3zM973.9 801.4h3v3h-3zM984.4 772.4h3v3h-3zM977.2 792.2h3v3h-3zM987.4 806.6h3v3h-3zM1002.4 792.2h3v3h-3zM982.2 798.8h3v3h-3zM962.9 797.4h3v3h-3zM972 804.4h3v3h-3zM983.2 799.6h3v3h-3zM997.7 785.2h3v3h-3zM987.5 791.6h3v3h-3zM980.4 793.2h3v3h-3zM987.6 795.2h3v3h-3zM984.3 778.8h3v3h-3zM997.6 805.7h3v3h-3zM952.4 794.6h3v3h-3zM991.3 807h3v3h-3zM977.2 764.5h3v3h-3zM987.2 787.8h3v3h-3zM956.3 806.3h3v3h-3zM1004.8 801.1h3v3h-3zM986.1 805.9h3v3h-3zM999.8 804.9h3v3h-3zM1001.7 800.7h3v3h-3zM1000.6 796.7h3v3h-3zM958.8 795.4h3v3h-3zM983.6 797.8h3v3h-3zM986.2 803.1h3v3h-3zM1001.6 805.8h3v3h-3zM996.6 779.2h3v3h-3zM1007.2 792.4h3v3h-3zM1005.2 803.1h3v3h-3zM1006.6 790.1h3v3h-3zM969.3 804.4h3v3h-3zM980.4 793.3h3v3h-3zM983.5 802.1h3v3h-3zM1001.1 805.1h3v3h-3zM994.6 801.6h3v3h-3zM976.8 798.5h3v3h-3zM1012.3 802.1h3v3h-3zM994.2 796.2h3v3h-3zM988.8 798.1h3v3h-3zM981.8 797.6h3v3h-3zM1012.7 796.6h3v3h-3zM967.2 805.1h3v3h-3zM982.4 803.7h3v3h-3zM973.9 795.5h3v3h-3zM1014.7 806.1h3v3h-3zM984.8 805.3h3v3h-3zM1014.7 804.2h3v3h-3zM994 803.1h3v3h-3zM989.7 801.5h3v3h-3zM975.4 798.7h3v3h-3zM1010.8 799.3h3v3h-3zM993.5 792.3h3v3h-3zM996.7 804.2h3v3h-3zM982 806.7h3v3h-3zM979.5 807.4h3v3h-3zM967.5 803.5h3v3h-3zM994 800.8h3v3h-3zM1003.1 793.1h3v3h-3zM1006 796.9h3v3h-3zM981.5 795h3v3h-3zM1004.2 804.7h3v3h-3zM976.1 801.5h3v3h-3zM1010.6 791.4h3v3h-3zM970.8 796.8h3v3h-3zM977.8 796h3v3h-3zM987.5 805.3h3v3h-3zM1002.8 800.8h3v3h-3zM969.6 797.7h3v3h-3zM987.6 795.6h3v3h-3zM998.5 793.6h3v3h-3zM979 803.4h3v3h-3zM993.5 806.8h3v3h-3zM962.3 803.1h3v3h-3zM997.7 806.5h3v3h-3zM1003.3 791.3h3v3h-3zM1008.9 796.3h3v3h-3zM975.9 795h3v3h-3zM974.2 800.3h3v3h-3zM979.6 803.2h3v3h-3zM1004.4 778.5h3v3h-3zM1004.1 802.2h3v3h-3zM994.6 799.7h3v3h-3zM1007.1 797.4h3v3h-3zM1007.5 801.3h3v3h-3zM994.1 799.7h3v3h-3zM1002.7 802.6h3v3h-3zM991 799.6h3v3h-3zM991.5 804.3h3v3h-3zM963.4 795.8h3v3h-3zM994.9 802.7h3v3h-3zM1011.2 804.5h3v3h-3zM1006 801.8h3v3h-3zM997 797.9h3v3h-3zM983.4 807h3v3h-3zM993.5 800h3v3h-3zM995.6 805.1h3v3h-3zM994.4 796.7h3v3h-3zM993.4 803.1h3v3h-3zM980.9 795.8h3v3h-3zM989.2 806.6h3v3h-3zM997.7 799.6h3v3h-3zM964.2 799.8h3v3h-3zM1007.7 795.1h3v3h-3zM1005.4 807.1h3v3h-3zM985 794h3v3h-3zM973.3 796.4h3v3h-3zM990.9 799.5h3v3h-3zM988.4 797.4h3v3h-3zM948.4 795.5h3v3h-3zM1007.1 807.1h3v3h-3zM972.7 781.8h3v3h-3zM994.2 798.5h3v3h-3zM970.4 796.4h3v3h-3zM963.3 805.3h3v3h-3zM980.7 799.7h3v3h-3zM976.6 791.2h3v3h-3zM955.8 783.3h3v3h-3zM980.6 800.4h3v3h-3zM983 806.8h3v3h-3zM976.1 784.6h3v3h-3zM990.3 806.3h3v3h-3zM992.7 793.9h3v3h-3zM966.3 796.5h3v3h-3zM987.1 806.9h3v3h-3zM995.4 801.8h3v3h-3zM999.5 806.4h3v3h-3zM937.8 805h3v3h-3zM925.8 802.3h3v3h-3zM904.7 802.9h3v3h-3zM901.7 802h3v3h-3zM925.6 803.5h3v3h-3zM945 801.8h3v3h-3zM915.8 804.9h3v3h-3zM945.1 802.2h3v3h-3zM951.6 803.1h3v3h-3zM925.9 801.9h3v3h-3zM927.5 802.5h3v3h-3zM929.2 801.7h3v3h-3zM913.1 803.3h3v3h-3zM941.7 804.1h3v3h-3zM928 802.1h3v3h-3zM917.2 803.5h3v3h-3zM919.4 802.5h3v3h-3zM910 803.9h3v3h-3zM913.7 801.8h3v3h-3zM932 801h3v3h-3zM948.3 802.3h3v3h-3zM919.7 802.1h3v3h-3zM926.3 802.7h3v3h-3zM902.6 801h3v3h-3zM936.8 791.6h3v3h-3zM946.1 788.1h3v3h-3zM928.9 781.1h3v3h-3zM937.6 793.2h3v3h-3zM925.8 789.4h3v3h-3zM892.2 794.8h3v3h-3zM892.2 793.1h3v3h-3zM892.2 778.7h3v3h-3zM892.2 772.5h3v3h-3zM892.2 769.4h3v3h-3zM892.2 781.9h3v3h-3zM892.2 808h3v3h-3zM892.2 786.9h3v3h-3zM892.2 811.9h3v3h-3zM892.2 804.8h3v3h-3zM892.2 794.2h3v3h-3zM892.2 787.9h3v3h-3zM892.2 793.2h3v3h-3zM892.2 805.5h3v3h-3zM892.2 783.2h3v3h-3zM892.2 775.4h3v3h-3zM892.2 808h3v3h-3zM892.2 796.3h3v3h-3zM892.2 785.1h3v3h-3zM892.2 786.1h3v3h-3zM892.2 773h3v3h-3zM892.2 793.5h3v3h-3zM892.2 803.1h3v3h-3zM892.2 790.4h3v3h-3zM892.2 799.2h3v3h-3zM892.2 801h3v3h-3zM892.2 783.1h3v3h-3zM892.2 796.6h3v3h-3zM892.2 811.3h3v3h-3zM892.2 800h3v3h-3zM1018.5 709h3v3h-3zM1037.5 727.5h3v3h-3zM1007.5 759.5h3v3h-3z"/>
<path fill="#e7343a" d="M1031.5 793.7h3v3h-3zM1040.8 793.5h3v3h-3zM1032.6 785.3h3v3h-3zM1033.1 807.4h3v3h-3zM1025.6 808.1h3v3h-3zM1029 808h3v3h-3zM1044.3 801.7h3v3h-3zM1030.6 805.6h3v3h-3zM1033.7 808.4h3v3h-3zM1051.1 807.4h3v3h-3zM1026.1 797.1h3v3h-3zM1036.2 798.5h3v3h-3zM1032.7 786.5h3v3h-3zM1031.3 807.1h3v3h-3zM1029.5 807.9h3v3h-3zM1025.9 798h3v3h-3zM1033 798.2h3v3h-3zM1021 805.9h3v3h-3zM1035.2 801.1h3v3h-3zM1024.1 804h3v3h-3zM1045.4 799.6h3v3h-3zM1029.4 798.1h3v3h-3zM1046.4 793.9h3v3h-3zM1040.5 790.1h3v3h-3zM1035.2 805.5h3v3h-3zM1061.7 806.3h3v3h-3zM1036.4 800.1h3v3h-3zM1047.8 798.2h3v3h-3zM1046.9 804.6h3v3h-3zM1021.1 805.3h3v3h-3zM1040.2 797.5h3v3h-3zM1044.1 807.9h3v3h-3zM1032.6 803.9h3v3h-3zM1032.1 801h3v3h-3zM1046 806.6h3v3h-3zM1023.7 797.4h3v3h-3zM1059.8 807.7h3v3h-3zM1026.3 802.8h3v3h-3zM1052.9 808.1h3v3h-3zM1039.1 800.3h3v3h-3zM1039 796.8h3v3h-3zM1040.5 788.3h3v3h-3zM1042 796.2h3v3h-3zM1031.8 802.7h3v3h-3zM1055.1 794.3h3v3h-3zM1038.8 800.1h3v3h-3zM1033.1 808.4h3v3h-3zM1049.7 800.3h3v3h-3zM1032.5 796h3v3h-3zM1035.1 808.3h3v3h-3zM1032.8 801h3v3h-3zM1026.4 804.5h3v3h-3zM1029.9 802.6h3v3h-3zM1029 797.3h3v3h-3zM1037.8 793.3h3v3h-3zM1026.8 803.5h3v3h-3zM1029 790.3h3v3h-3zM1019.7 808h3v3h-3zM1047.4 797.5h3v3h-3zM1026.8 807.7h3v3h-3zM1045.5 802h3v3h-3zM1043.6 792h3v3h-3zM1038.5 786.7h3v3h-3zM1022.1 802.3h3v3h-3zM1047.4 788.3h3v3h-3zM1043.7 795.9h3v3h-3zM1029.6 796.1h3v3h-3zM1049.6 807.6h3v3h-3zM1030.8 808.5h3v3h-3zM1047.3 791.5h3v3h-3zM1024.8 806.5h3v3h-3zM1050.2 806.5h3v3h-3zM1029.9 787h3v3h-3zM1050.2 804.4h3v3h-3zM1052.6 803h3v3h-3zM1026.1 797.4h3v3h-3zM1037.2 807.6h3v3h-3zM1030.6 806.4h3v3h-3zM1046.3 792.7h3v3h-3zM1041.3 779.2h3v3h-3zM1029.2 804.6h3v3h-3zM1055.8 783h3v3h-3zM1041 804h3v3h-3zM1030.1 797.1h3v3h-3zM1023.2 797.9h3v3h-3zM1037 807.1h3v3h-3zM1023.3 802.9h3v3h-3zM1026.9 798.2h3v3h-3zM1020.2 807.3h3v3h-3zM1032.1 806h3v3h-3zM1028.7 790.1h3v3h-3zM1030.2 792.6h3v3h-3zM1034.9 808.4h3v3h-3zM1025.2 796.9h3v3h-3zM1040.5 805.6h3v3h-3zM1052.7 804.3h3v3h-3zM1033 794.4h3v3h-3zM1033.2 783.6h3v3h-3zM1021.6 802.1h3v3h-3zM1038.3 798.9h3v3h-3zM1034 802.8h3v3h-3zM1027.8 804.3h3v3h-3zM1041.7 802.5h3v3h-3zM1035.1 793.2h3v3h-3zM1041.9 801.8h3v3h-3zM1036.6 798.9h3v3h-3zM1033.1 793h3v3h-3zM1044.1 807.7h3v3h-3zM1030.3 796.9h3v3h-3zM1042.6 807.9h3v3h-3zM1034.4 807.3h3v3h-3zM1028.6 793.8h3v3h-3zM1066.9 804.4h3v3h-3zM1065.7 800h3v3h-3zM1084.5 800.7h3v3h-3zM1080.8 805.7h3v3h-3zM1062.9 803.8h3v3h-3zM1089.8 797.9h3v3h-3zM1071.3 797.1h3v3h-3zM1076.5 789.2h3v3h-3zM1064.6 799.5h3v3h-3zM1062.5 795.7h3v3h-3zM1080.2 795.1h3v3h-3zM1072.9 805h3v3h-3zM1088.7 801h3v3h-3zM1071.1 801.7h3v3h-3zM1150.9 805.3h3v3h-3zM1145.6 799.6h3v3h-3zM1176.8 807.1h3v3h-3zM1166.9 801.6h3v3h-3zM1159.3 787.5h3v3h-3zM1222.7 806.3h3v3h-3zM1195 799h3v3h-3zM1126.6 796h3v3h-3zM1189.7 804.6h3v3h-3zM1167.3 803.6h3v3h-3zM1127.1 787.8h3v3h-3zM1144.8 797.4h3v3h-3zM1139.3 803.9h3v3h-3zM1208.3 805.4h3v3h-3zM1184.5 806.2h3v3h-3zM1211.5 804.7h3v3h-3zM1184.5 796.6h3v3h-3zM1207.8 799.5h3v3h-3zM1158.4 800.9h3v3h-3zM1185.1 794.1h3v3h-3zM1175.5 799.6h3v3h-3zM1141.8 794.5h3v3h-3zM1141.9 787.4h3v3h-3zM1215.4 801.5h3v3h-3zM1204 807.6h3v3h-3zM1144.3 789.7h3v3h-3zM1166.3 804.4h3v3h-3zM1153.3 804.5h3v3h-3zM1148.9 807.6h3v3h-3zM1175.9 806.4h3v3h-3zM1112.9 799.3h3v3h-3zM1160 803h3v3h-3zM1116.9 801.6h3v3h-3zM1126.2 788.5h3v3h-3zM1182.2 797.2h3v3h-3zM1203.3 795.1h3v3h-3zM1115.5 805.7h3v3h-3zM1125.5 801.7h3v3h-3zM1201.7 792h3v3h-3zM1206.8 791.4h3v3h-3zM1177.6 790.1h3v3h-3zM1183.3 798.7h3v3h-3zM1165.7 798.3h3v3h-3zM1146 802.5h3v3h-3zM1136.1 786.4h3v3h-3zM1173.1 808.5h3v3h-3zM1140 798h3v3h-3zM1126 800.1h3v3h-3zM1186.9 802.1h3v3h-3zM1158.9 803h3v3h-3zM1144.4 804.2h3v3h-3zM1198.6 783.7h3v3h-3zM1195.5 797.4h3v3h-3zM1159.7 790.9h3v3h-3zM1154.8 806.8h3v3h-3zM1161.5 777.4h3v3h-3zM1158.2 805h3v3h-3zM1160.6 803.2h3v3h-3zM1191.2 799.8h3v3h-3zM1169 806.1h3v3h-3zM1101.6 807.7h3v3h-3zM1141 805.6h3v3h-3zM1153.1 801.8h3v3h-3zM1161.3 801.2h3v3h-3zM1110.3 796.5h3v3h-3zM1129.4 789.3h3v3h-3zM1127.8 808.4h3v3h-3zM1140.8 807.1h3v3h-3zM1200.6 797.5h3v3h-3zM1179.9 798.5h3v3h-3zM1140.2 798.4h3v3h-3zM1153.6 801.7h3v3h-3zM1138.8 771.1h3v3h-3zM1166.5 783.6h3v3h-3zM1183.6 804.3h3v3h-3zM1123.6 804h3v3h-3zM1133.8 807.2h3v3h-3zM1141.9 795.4h3v3h-3zM1175 804.8h3v3h-3zM1169.4 805.2h3v3h-3zM1167.4 805.2h3v3h-3zM1205.2 797.3h3v3h-3zM1186.5 789.9h3v3h-3zM1120.6 796.9h3v3h-3zM1113.7 799.5h3v3h-3zM1142.7 802.6h3v3h-3zM1211.6 800.3h3v3h-3zM1115.8 797.5h3v3h-3zM1164.7 790.7h3v3h-3zM1174.8 807.1h3v3h-3zM1160.1 801.5h3v3h-3zM1172.4 794.1h3v3h-3zM1125.2 808.1h3v3h-3zM1201.2 794.1h3v3h-3zM1191.7 798.6h3v3h-3zM1198.7 792.7h3v3h-3zM1188.8 808.3h3v3h-3zM1148.1 800.4h3v3h-3zM1178.2 808.2h3v3h-3zM1142.5 806.9h3v3h-3zM1136.8 793.4h3v3h-3zM1194.6 808.5h3v3h-3zM1203.1 805.7h3v3h-3zM1212 807h3v3h-3zM1132.4 784.6h3v3h-3zM1225.2 788.3h3v3h-3zM1168.1 797.6h3v3h-3zM1161.4 797.6h3v3h-3zM1164.4 806h3v3h-3zM1175.6 802.2h3v3h-3zM1138 794.6h3v3h-3zM1179.1 798.8h3v3h-3zM1197.1 802.2h3v3h-3zM1135.9 799.6h3v3h-3zM1148 796.2h3v3h-3zM1152.5 787.3h3v3h-3zM1171.1 808.1h3v3h-3zM1201.6 802.4h3v3h-3zM1221.3 807.5h3v3h-3zM1161.6 807.6h3v3h-3zM1213.1 796.1h3v3h-3zM1180.1 808.3h3v3h-3zM1157.5 792.3h3v3h-3zM1165.5 804.3h3v3h-3zM1218.7 803.1h3v3h-3zM1209.4 807.3h3v3h-3zM1160.4 800.4h3v3h-3zM1105.9 785.1h3v3h-3zM1223.7 804.1h3v3h-3zM1182.2 806.3h3v3h-3zM1174.6 807.2h3v3h-3zM1167.7 806.1h3v3h-3zM1178.6 801.6h3v3h-3zM1140.8 803.4h3v3h-3zM1219.8 804.3h3v3h-3zM1180.7 806.3h3v3h-3zM1160.5 785.9h3v3h-3zM1188.8 785.9h3v3h-3zM1202.9 793.4h3v3h-3zM1116.9 799.8h3v3h-3zM1195.1 787.8h3v3h-3zM1197.4 797.9h3v3h-3zM1206.4 799.4h3v3h-3zM1148.2 779.5h3v3h-3zM1169.3 781.9h3v3h-3zM1193.3 802.7h3v3h-3zM1205.3 801.2h3v3h-3zM1140.8 803h3v3h-3zM1139.5 808.2h3v3h-3zM1166.4 799h3v3h-3zM1130.5 801.4h3v3h-3zM1218.2 804.8h3v3h-3zM1143.1 804.4h3v3h-3zM1134 784.5h3v3h-3zM1200 807.1h3v3h-3zM1159.6 787.4h3v3h-3zM1169.4 807.7h3v3h-3zM1195 800.8h3v3h-3zM1179.3 804.1h3v3h-3zM1190.9 804.4h3v3h-3zM1211.3 798.9h3v3h-3zM1191.2 798.4h3v3h-3zM1152.7 797.2h3v3h-3zM1162 795.2h3v3h-3zM1132.3 804.4h3v3h-3zM1148.4 802.7h3v3h-3zM1145.7 786.3h3v3h-3zM1211.3 804.9h3v3h-3zM1170.2 808.1h3v3h-3zM1217.5 807.2h3v3h-3zM1177.5 800.6h3v3h-3zM1188.5 797.5h3v3h-3zM1190.1 806h3v3h-3zM1198.7 779.4h3v3h-3zM1162.1 771.8h3v3h-3zM1216.9 726.5h3v3h-3zM1197.8 777.3h3v3h-3zM1205.3 776.2h3v3h-3zM1184.1 756.6h3v3h-3zM1188.9 769.5h3v3h-3zM1193.4 770h3v3h-3zM1194.6 784.4h3v3h-3zM1199.1 782h3v3h-3zM1206.2 730h3v3h-3zM1213.3 763.8h3v3h-3zM1191.3 707h3v3h-3zM1215.1 775.9h3v3h-3zM1187.2 749.8h3v3h-3zM1185.2 736.5h3v3h-3zM1142.4 763.9h3v3h-3zM1174.9 747.9h3v3h-3zM1165.9 779.3h3v3h-3zM1188.9 766.1h3v3h-3zM1188.3 758.6h3v3h-3zM1181.7 786.6h3v3h-3zM1165.9 722.8h3v3h-3zM1160.1 760h3v3h-3zM1168.2 758.4h3v3h-3zM1160.3 756.7h3v3h-3z"/>
<rect x="892.4" y="484.6" width="342.4" height="341" fill="none" stroke="#1d1d1b" stroke-width="2.2"/>
<polyline fill="none" stroke="#1d1d1b" stroke-width="1.5" points="1005.6,825.6 1212.8,501.8 1234.8,484.6"/>
<line x1="884.4" y1="492.4" x2="892.4" y2="492.4" stroke="#1d1d1b" stroke-width="1.9"/>
<text x="851.5" y="498.1" font-size="16" fill="#1d1d1b" textLength="30.4" lengthAdjust="spacingAndGlyphs">1000</text>
<line x1="884.4" y1="558.3" x2="892.4" y2="558.3" stroke="#1d1d1b" stroke-width="1.9"/>
<text x="859.1" y="564" font-size="16" fill="#1d1d1b" textLength="22.8" lengthAdjust="spacingAndGlyphs">800</text>
<line x1="884.4" y1="625.4" x2="892.4" y2="625.4" stroke="#1d1d1b" stroke-width="1.9"/>
<text x="859.1" y="631.1" font-size="16" fill="#1d1d1b" textLength="22.8" lengthAdjust="spacingAndGlyphs">600</text>
<line x1="884.4" y1="692.2" x2="892.4" y2="692.2" stroke="#1d1d1b" stroke-width="1.9"/>
<text x="859.1" y="697.9" font-size="16" fill="#1d1d1b" textLength="22.8" lengthAdjust="spacingAndGlyphs">400</text>
<line x1="884.4" y1="758.6" x2="892.4" y2="758.6" stroke="#1d1d1b" stroke-width="1.9"/>
<text x="859.1" y="764.3" font-size="16" fill="#1d1d1b" textLength="22.8" lengthAdjust="spacingAndGlyphs">200</text>
<line x1="884.4" y1="825.5" x2="892.4" y2="825.5" stroke="#1d1d1b" stroke-width="1.9"/>
<text x="874.3" y="831.2" font-size="16" fill="#1d1d1b" textLength="7.6" lengthAdjust="spacingAndGlyphs">0</text>
<line x1="888.6" y1="525.4" x2="892.4" y2="525.4" stroke="#1d1d1b" stroke-width="1.6"/>
<line x1="888.6" y1="591.9" x2="892.4" y2="591.9" stroke="#1d1d1b" stroke-width="1.6"/>
<line x1="888.6" y1="658.8" x2="892.4" y2="658.8" stroke="#1d1d1b" stroke-width="1.6"/>
<line x1="888.6" y1="725.4" x2="892.4" y2="725.4" stroke="#1d1d1b" stroke-width="1.6"/>
<line x1="888.6" y1="792" x2="892.4" y2="792" stroke="#1d1d1b" stroke-width="1.6"/>
<line x1="895" y1="825.6" x2="895" y2="833.8" stroke="#1d1d1b" stroke-width="1.9"/>
<line x1="932.5" y1="825.6" x2="932.5" y2="833.8" stroke="#1d1d1b" stroke-width="1.9"/>
<line x1="1005.6" y1="825.6" x2="1005.6" y2="833.8" stroke="#1d1d1b" stroke-width="1.9"/>
<line x1="1080.9" y1="825.6" x2="1080.9" y2="833.8" stroke="#1d1d1b" stroke-width="1.9"/>
<line x1="1156.8" y1="825.6" x2="1156.8" y2="833.8" stroke="#1d1d1b" stroke-width="1.9"/>
<line x1="1232.9" y1="825.6" x2="1232.9" y2="833.8" stroke="#1d1d1b" stroke-width="1.9"/>
<line x1="899.5" y1="825.6" x2="899.5" y2="829.6" stroke="#1d1d1b" stroke-width="1.6"/>
<line x1="904.2" y1="825.6" x2="904.2" y2="829.6" stroke="#1d1d1b" stroke-width="1.6"/>
<line x1="908.1" y1="825.6" x2="908.1" y2="829.6" stroke="#1d1d1b" stroke-width="1.6"/>
<line x1="911.7" y1="825.6" x2="911.7" y2="829.6" stroke="#1d1d1b" stroke-width="1.6"/>
<line x1="915.1" y1="825.6" x2="915.1" y2="829.6" stroke="#1d1d1b" stroke-width="1.6"/>
<line x1="918.1" y1="825.6" x2="918.1" y2="829.6" stroke="#1d1d1b" stroke-width="1.6"/>
<line x1="920.7" y1="825.6" x2="920.7" y2="829.6" stroke="#1d1d1b" stroke-width="1.6"/>
<line x1="923.1" y1="825.6" x2="923.1" y2="829.6" stroke="#1d1d1b" stroke-width="1.6"/>
<line x1="925.4" y1="825.6" x2="925.4" y2="829.6" stroke="#1d1d1b" stroke-width="1.6"/>
<line x1="927.6" y1="825.6" x2="927.6" y2="829.6" stroke="#1d1d1b" stroke-width="1.6"/>
<line x1="929.6" y1="825.6" x2="929.6" y2="829.6" stroke="#1d1d1b" stroke-width="1.6"/>
<line x1="931.2" y1="825.6" x2="931.2" y2="829.6" stroke="#1d1d1b" stroke-width="1.6"/>
<line x1="954.5" y1="825.6" x2="954.5" y2="829.6" stroke="#1d1d1b" stroke-width="1.6"/>
<line x1="967.4" y1="825.6" x2="967.4" y2="829.6" stroke="#1d1d1b" stroke-width="1.6"/>
<line x1="976.5" y1="825.6" x2="976.5" y2="829.6" stroke="#1d1d1b" stroke-width="1.6"/>
<line x1="983.6" y1="825.6" x2="983.6" y2="829.6" stroke="#1d1d1b" stroke-width="1.6"/>
<line x1="989.4" y1="825.6" x2="989.4" y2="829.6" stroke="#1d1d1b" stroke-width="1.6"/>
<line x1="994.3" y1="825.6" x2="994.3" y2="829.6" stroke="#1d1d1b" stroke-width="1.6"/>
<line x1="998.5" y1="825.6" x2="998.5" y2="829.6" stroke="#1d1d1b" stroke-width="1.6"/>
<line x1="1002.3" y1="825.6" x2="1002.3" y2="829.6" stroke="#1d1d1b" stroke-width="1.6"/>
<line x1="1028.3" y1="825.6" x2="1028.3" y2="829.6" stroke="#1d1d1b" stroke-width="1.6"/>
<line x1="1041.5" y1="825.6" x2="1041.5" y2="829.6" stroke="#1d1d1b" stroke-width="1.6"/>
<line x1="1050.9" y1="825.6" x2="1050.9" y2="829.6" stroke="#1d1d1b" stroke-width="1.6"/>
<line x1="1058.2" y1="825.6" x2="1058.2" y2="829.6" stroke="#1d1d1b" stroke-width="1.6"/>
<line x1="1064.2" y1="825.6" x2="1064.2" y2="829.6" stroke="#1d1d1b" stroke-width="1.6"/>
<line x1="1069.2" y1="825.6" x2="1069.2" y2="829.6" stroke="#1d1d1b" stroke-width="1.6"/>
<line x1="1073.6" y1="825.6" x2="1073.6" y2="829.6" stroke="#1d1d1b" stroke-width="1.6"/>
<line x1="1077.5" y1="825.6" x2="1077.5" y2="829.6" stroke="#1d1d1b" stroke-width="1.6"/>
<line x1="1103.7" y1="825.6" x2="1103.7" y2="829.6" stroke="#1d1d1b" stroke-width="1.6"/>
<line x1="1117.1" y1="825.6" x2="1117.1" y2="829.6" stroke="#1d1d1b" stroke-width="1.6"/>
<line x1="1126.6" y1="825.6" x2="1126.6" y2="829.6" stroke="#1d1d1b" stroke-width="1.6"/>
<line x1="1134" y1="825.6" x2="1134" y2="829.6" stroke="#1d1d1b" stroke-width="1.6"/>
<line x1="1140" y1="825.6" x2="1140" y2="829.6" stroke="#1d1d1b" stroke-width="1.6"/>
<line x1="1145" y1="825.6" x2="1145" y2="829.6" stroke="#1d1d1b" stroke-width="1.6"/>
<line x1="1149.4" y1="825.6" x2="1149.4" y2="829.6" stroke="#1d1d1b" stroke-width="1.6"/>
<line x1="1153.3" y1="825.6" x2="1153.3" y2="829.6" stroke="#1d1d1b" stroke-width="1.6"/>
<line x1="1179.7" y1="825.6" x2="1179.7" y2="829.6" stroke="#1d1d1b" stroke-width="1.6"/>
<line x1="1193.1" y1="825.6" x2="1193.1" y2="829.6" stroke="#1d1d1b" stroke-width="1.6"/>
<line x1="1202.6" y1="825.6" x2="1202.6" y2="829.6" stroke="#1d1d1b" stroke-width="1.6"/>
<line x1="1210" y1="825.6" x2="1210" y2="829.6" stroke="#1d1d1b" stroke-width="1.6"/>
<line x1="1216" y1="825.6" x2="1216" y2="829.6" stroke="#1d1d1b" stroke-width="1.6"/>
<line x1="1221.1" y1="825.6" x2="1221.1" y2="829.6" stroke="#1d1d1b" stroke-width="1.6"/>
<line x1="1225.5" y1="825.6" x2="1225.5" y2="829.6" stroke="#1d1d1b" stroke-width="1.6"/>
<line x1="1229.4" y1="825.6" x2="1229.4" y2="829.6" stroke="#1d1d1b" stroke-width="1.6"/>
<text x="891.1" y="851.1" font-size="16" fill="#1d1d1b" textLength="8.2" lengthAdjust="spacingAndGlyphs">0</text>
<text x="920.4" y="851.1" font-size="16" fill="#1d1d1b" textLength="16" lengthAdjust="spacingAndGlyphs">10</text>
<text x="936.4" y="845" font-size="10" fill="#1d1d1b" textLength="9.2" lengthAdjust="spacingAndGlyphs">-1</text>
<text x="995.8" y="851.1" font-size="16" fill="#1d1d1b" textLength="16" lengthAdjust="spacingAndGlyphs">10</text>
<text x="1011.8" y="845" font-size="10" fill="#1d1d1b" textLength="4.6" lengthAdjust="spacingAndGlyphs">0</text>
<text x="1071.1" y="851.1" font-size="16" fill="#1d1d1b" textLength="16" lengthAdjust="spacingAndGlyphs">10</text>
<text x="1087.1" y="845" font-size="10" fill="#1d1d1b" textLength="4.6" lengthAdjust="spacingAndGlyphs">1</text>
<text x="1147" y="851.1" font-size="16" fill="#1d1d1b" textLength="16" lengthAdjust="spacingAndGlyphs">10</text>
<text x="1163" y="845" font-size="10" fill="#1d1d1b" textLength="4.6" lengthAdjust="spacingAndGlyphs">2</text>
<text x="1223.1" y="851.1" font-size="16" fill="#1d1d1b" textLength="16" lengthAdjust="spacingAndGlyphs">10</text>
<text x="1239.1" y="845" font-size="10" fill="#1d1d1b" textLength="4.6" lengthAdjust="spacingAndGlyphs">3</text>
<text x="1119.6" y="683.4" font-size="30" fill="#1d1d1b" font-weight="bold" textLength="96.8" lengthAdjust="spacingAndGlyphs">55.50%</text>
<path fill="#5b97cd" d="M634.8 187.7 H730.4 V179.2 L752.3 190.2 L730.4 201.2 V192.7 H634.8 z"/>
<path fill="#5b97cd" d="M634.8 622.5 H730.4 V614 L752.3 625 L730.4 636 V627.5 H634.8 z"/>
<path fill="#1d1d1b" d="M163.1 907 V709 H154.8 L167.6 685 L180.4 709 H172.1 V902.4 H347.8 V894.5 L373.4 906.9 L347.8 919.3 V911.4 H163.1 z"/>
<path fill="#1d1d1b" d="M818.6 907 V709 H810.3 L823.1 685 L835.9 709 H827.6 V902.4 H1003.3 V894.5 L1028.9 906.9 L1003.3 919.3 V911.4 H818.6 z"/>
<text x="0" y="0" font-size="37" fill="#8e1c1c" font-weight="bold" textLength="129" lengthAdjust="spacingAndGlyphs" transform="translate(150.3 880.6) rotate(-90)">RFP670</text>
<text x="166.4" y="948.4" font-size="34.5" fill="#1fa64a" font-weight="bold" textLength="146" lengthAdjust="spacingAndGlyphs">ZsGreen</text>
<text x="0" y="0" font-size="36.5" fill="#1d1d1b" font-weight="bold" textLength="72.3" lengthAdjust="spacingAndGlyphs" transform="translate(812.8 882.6) rotate(-90)">SSC</text>
<text x="824.2" y="943" font-size="34.5" fill="#e3232b" font-weight="bold" textLength="146" lengthAdjust="spacingAndGlyphs">mCherry</text>
<text x="-1.3" y="1039.1" font-size="50.5" fill="#1d1d1b" font-weight="bold" textLength="29.5" lengthAdjust="spacingAndGlyphs">B</text>
<text x="746.4" y="1039.4" font-size="51.5" fill="#1d1d1b" font-weight="bold" textLength="29.5" lengthAdjust="spacingAndGlyphs">C</text>
<text x="-2.3" y="1718.9" font-size="50" fill="#1d1d1b" font-weight="bold" textLength="34" lengthAdjust="spacingAndGlyphs">D</text>
<text x="769.5" y="1719.1" font-size="50" fill="#1d1d1b" font-weight="bold" textLength="25" lengthAdjust="spacingAndGlyphs">E</text>
<line x1="187.7" y1="1570.4" x2="590.9" y2="1570.4" stroke="#dddddd" stroke-width="3.4"/>
<text x="158" y="1579.6" font-size="27.5" fill="#737373" text-anchor="end">0</text>
<text x="158" y="1523.8" font-size="27.5" fill="#737373" text-anchor="end">5</text>
<text x="158" y="1468" font-size="27.5" fill="#737373" text-anchor="end">10</text>
<text x="158" y="1412.2" font-size="27.5" fill="#737373" text-anchor="end">15</text>
<text x="158" y="1356.4" font-size="27.5" fill="#737373" text-anchor="end">20</text>
<text x="158" y="1300.6" font-size="27.5" fill="#737373" text-anchor="end">25</text>
<text x="158" y="1244.8" font-size="27.5" fill="#737373" text-anchor="end">30</text>
<text x="158" y="1189" font-size="27.5" fill="#737373" text-anchor="end">35</text>
<path fill="#fff" stroke="#0c0c0c" stroke-width="3.6" stroke-linejoin="round" d="M217.8 1568.7 V1438.1 H361 V1568.7"/>
<rect x="416.8" y="1320.5" width="146.8" height="248.2" fill="#1d1d1b"/>
<line x1="289.3" y1="1425.5" x2="289.3" y2="1438.6" stroke="#747474" stroke-width="3.5"/>
<line x1="280.8" y1="1425.5" x2="297.8" y2="1425.5" stroke="#747474" stroke-width="3.4"/>
<line x1="490.2" y1="1236.6" x2="490.2" y2="1321.5" stroke="#747474" stroke-width="3.5"/>
<line x1="481.7" y1="1236.6" x2="498.7" y2="1236.6" stroke="#747474" stroke-width="3.4"/>
<line x1="240.8" y1="1214" x2="480.9" y2="1214" stroke="#0c0c0c" stroke-width="2.9"/>
<path fill="#0c0c0c" stroke="#0c0c0c" stroke-width="0.8" stroke-linejoin="round" d="M359.20 1183.00L360.25 1171.30L356.35 1171.30L357.40 1183.00zM358.75 1182.22L349.75 1175.81L347.80 1179.19L357.85 1183.78zM357.85 1182.22L347.80 1186.81L349.75 1190.19L358.75 1183.78zM357.40 1183.00L356.35 1194.70L360.25 1194.70L359.20 1183.00zM357.85 1183.78L366.85 1190.19L368.80 1186.81L358.75 1182.22zM358.75 1183.78L368.80 1179.19L366.85 1175.81L357.85 1182.22z"/>
<circle cx="358.3" cy="1183" r="2.6" fill="#0c0c0c"/>
<text x="191.2" y="1123.3" font-size="43.5" fill="#737373" textLength="93.7" lengthAdjust="spacingAndGlyphs">HSC,</text>
<text x="296" y="1123.3" font-size="43.5" fill="#737373" textLength="167.2" lengthAdjust="spacingAndGlyphs">ZsGreen</text>
<text x="0" y="0" font-size="33.5" fill="#737373" textLength="24.1" lengthAdjust="spacingAndGlyphs" transform="translate(103.5 1484.9) rotate(-90)">%</text>
<text x="0" y="0" font-size="33.5" fill="#737373" textLength="114.8" lengthAdjust="spacingAndGlyphs" transform="translate(103.5 1453.7) rotate(-90)">positive</text>
<text x="0" y="0" font-size="33.5" fill="#737373" textLength="63.4" lengthAdjust="spacingAndGlyphs" transform="translate(103.5 1330.3) rotate(-90)">cells</text>
<text x="212.5" y="1622" font-size="28.5" fill="#737373" textLength="52.5" lengthAdjust="spacingAndGlyphs">HSC</text>
<text x="271.4" y="1622" font-size="28.5" fill="#737373" textLength="95" lengthAdjust="spacingAndGlyphs">control</text>
<text x="436" y="1622" font-size="28.5" fill="#737373" textLength="52.5" lengthAdjust="spacingAndGlyphs">HSC</text>
<text x="494.9" y="1622" font-size="28.5" fill="#737373" textLength="50.2" lengthAdjust="spacingAndGlyphs">CsH</text>
<line x1="999.3" y1="1553.2" x2="1403" y2="1553.2" stroke="#dddddd" stroke-width="3.4"/>
<text x="969.6" y="1562.7" font-size="27.5" fill="#737373" text-anchor="end">0</text>
<text x="969.6" y="1497.6" font-size="27.5" fill="#737373" text-anchor="end">5</text>
<text x="969.6" y="1432.5" font-size="27.5" fill="#737373" text-anchor="end">10</text>
<text x="969.6" y="1367.4" font-size="27.5" fill="#737373" text-anchor="end">15</text>
<text x="969.6" y="1302.3" font-size="27.5" fill="#737373" text-anchor="end">20</text>
<text x="969.6" y="1237.2" font-size="27.5" fill="#737373" text-anchor="end">25</text>
<text x="969.6" y="1172.1" font-size="27.5" fill="#737373" text-anchor="end">30</text>
<path fill="#fff" stroke="#0c0c0c" stroke-width="3.6" stroke-linejoin="round" d="M1029.2 1551.5 V1431 H1172.4 V1551.5"/>
<rect x="1228.4" y="1299.8" width="146.7" height="251.7" fill="#1d1d1b"/>
<line x1="1100.9" y1="1412.5" x2="1100.9" y2="1431.5" stroke="#747474" stroke-width="3.5"/>
<line x1="1092.4" y1="1412.5" x2="1109.4" y2="1412.5" stroke="#747474" stroke-width="3.4"/>
<line x1="1301.6" y1="1227.3" x2="1301.6" y2="1301" stroke="#747474" stroke-width="3.5"/>
<line x1="1293.1" y1="1227.3" x2="1310.1" y2="1227.3" stroke="#747474" stroke-width="3.4"/>
<line x1="1068" y1="1212.1" x2="1307.4" y2="1212.1" stroke="#0c0c0c" stroke-width="2.9"/>
<path fill="#0c0c0c" stroke="#0c0c0c" stroke-width="0.8" stroke-linejoin="round" d="M1172.10 1182.90L1173.15 1171.20L1169.25 1171.20L1170.30 1182.90zM1171.65 1182.12L1162.65 1175.71L1160.70 1179.09L1170.75 1183.68zM1170.75 1182.12L1160.70 1186.71L1162.65 1190.09L1171.65 1183.68zM1170.30 1182.90L1169.25 1194.60L1173.15 1194.60L1172.10 1182.90zM1170.75 1183.68L1179.75 1190.09L1181.70 1186.71L1171.65 1182.12zM1171.65 1183.68L1181.70 1179.09L1179.75 1175.71L1170.75 1182.12z"/>
<circle cx="1171.2" cy="1182.9" r="2.6" fill="#0c0c0c"/>
<path fill="#0c0c0c" stroke="#0c0c0c" stroke-width="0.8" stroke-linejoin="round" d="M1203.80 1182.90L1204.85 1171.20L1200.95 1171.20L1202.00 1182.90zM1203.35 1182.12L1194.35 1175.71L1192.40 1179.09L1202.45 1183.68zM1202.45 1182.12L1192.40 1186.71L1194.35 1190.09L1203.35 1183.68zM1202.00 1182.90L1200.95 1194.60L1204.85 1194.60L1203.80 1182.90zM1202.45 1183.68L1211.45 1190.09L1213.40 1186.71L1203.35 1182.12zM1203.35 1183.68L1213.40 1179.09L1211.45 1175.71L1202.45 1182.12z"/>
<circle cx="1202.9" cy="1182.9" r="2.6" fill="#0c0c0c"/>
<text x="1073" y="1104.4" font-size="43.5" fill="#737373" textLength="93.7" lengthAdjust="spacingAndGlyphs">HSC,</text>
<text x="1176.1" y="1104.4" font-size="43.5" fill="#737373" textLength="175.1" lengthAdjust="spacingAndGlyphs">mCherry</text>
<text x="0" y="0" font-size="33.5" fill="#737373" textLength="24.1" lengthAdjust="spacingAndGlyphs" transform="translate(914.7 1467.5) rotate(-90)">%</text>
<text x="0" y="0" font-size="33.5" fill="#737373" textLength="114.9" lengthAdjust="spacingAndGlyphs" transform="translate(914.7 1436.3) rotate(-90)">positive</text>
<text x="0" y="0" font-size="33.5" fill="#737373" textLength="63.5" lengthAdjust="spacingAndGlyphs" transform="translate(914.7 1312.8) rotate(-90)">cells</text>
<text x="1024.5" y="1604.6" font-size="28.5" fill="#737373" textLength="52.5" lengthAdjust="spacingAndGlyphs">HSC</text>
<text x="1083.4" y="1604.6" font-size="28.5" fill="#737373" textLength="94.3" lengthAdjust="spacingAndGlyphs">control</text>
<text x="1247" y="1604.6" font-size="28.5" fill="#737373" textLength="52.5" lengthAdjust="spacingAndGlyphs">HSC</text>
<text x="1305.9" y="1604.6" font-size="28.5" fill="#737373" textLength="50.4" lengthAdjust="spacingAndGlyphs">CsH</text>
<line x1="187.7" y1="2228.3" x2="590.9" y2="2228.3" stroke="#dddddd" stroke-width="3.4"/>
<text x="158" y="2237.9" font-size="27.5" fill="#737373" text-anchor="end">0</text>
<text x="158" y="2188.9" font-size="27.5" fill="#737373" text-anchor="end">2</text>
<text x="158" y="2139.8" font-size="27.5" fill="#737373" text-anchor="end">4</text>
<text x="158" y="2090.8" font-size="27.5" fill="#737373" text-anchor="end">6</text>
<text x="158" y="2041.8" font-size="27.5" fill="#737373" text-anchor="end">8</text>
<text x="158" y="1992.8" font-size="27.5" fill="#737373" text-anchor="end">10</text>
<text x="158" y="1943.7" font-size="27.5" fill="#737373" text-anchor="end">12</text>
<text x="158" y="1894.7" font-size="27.5" fill="#737373" text-anchor="end">14</text>
<text x="158" y="1845.7" font-size="27.5" fill="#737373" text-anchor="end">16</text>
<path fill="#fff" stroke="#0c0c0c" stroke-width="3.6" stroke-linejoin="round" d="M217.8 2226.6 V2100.6 H360.7 V2226.6"/>
<rect x="416.8" y="1959" width="146.8" height="267.6" fill="#1d1d1b"/>
<line x1="289.3" y1="2071.6" x2="289.3" y2="2101.2" stroke="#747474" stroke-width="3.5"/>
<line x1="280.8" y1="2071.6" x2="297.8" y2="2071.6" stroke="#747474" stroke-width="3.4"/>
<line x1="490" y1="1873.8" x2="490" y2="1960.2" stroke="#747474" stroke-width="3.5"/>
<line x1="481.5" y1="1873.8" x2="498.5" y2="1873.8" stroke="#747474" stroke-width="3.4"/>
<line x1="252.9" y1="1858" x2="492.7" y2="1858" stroke="#0c0c0c" stroke-width="2.9"/>
<path fill="#0c0c0c" stroke="#0c0c0c" stroke-width="0.8" stroke-linejoin="round" d="M356.40 1831.80L357.45 1820.10L353.55 1820.10L354.60 1831.80zM355.95 1831.02L346.95 1824.61L345.00 1827.99L355.05 1832.58zM355.05 1831.02L345.00 1835.61L346.95 1838.99L355.95 1832.58zM354.60 1831.80L353.55 1843.50L357.45 1843.50L356.40 1831.80zM355.05 1832.58L364.05 1838.99L366.00 1835.61L355.95 1831.02zM355.95 1832.58L366.00 1827.99L364.05 1824.61L355.05 1831.02z"/>
<circle cx="355.5" cy="1831.8" r="2.6" fill="#0c0c0c"/>
<path fill="#0c0c0c" stroke="#0c0c0c" stroke-width="0.8" stroke-linejoin="round" d="M389.80 1831.80L390.85 1820.10L386.95 1820.10L388.00 1831.80zM389.35 1831.02L380.35 1824.61L378.40 1827.99L388.45 1832.58zM388.45 1831.02L378.40 1835.61L380.35 1838.99L389.35 1832.58zM388.00 1831.80L386.95 1843.50L390.85 1843.50L389.80 1831.80zM388.45 1832.58L397.45 1838.99L399.40 1835.61L389.35 1831.02zM389.35 1832.58L399.40 1827.99L397.45 1824.61L388.45 1831.02z"/>
<circle cx="388.9" cy="1831.8" r="2.6" fill="#0c0c0c"/>
<text x="266.9" y="1780.1" font-size="43.5" fill="#737373" textLength="93.7" lengthAdjust="spacingAndGlyphs">HSC,</text>
<text x="369.6" y="1780.1" font-size="43.5" fill="#737373" textLength="154.7" lengthAdjust="spacingAndGlyphs">RFP670</text>
<text x="0" y="0" font-size="33.5" fill="#737373" textLength="23.8" lengthAdjust="spacingAndGlyphs" transform="translate(103.5 2140.6) rotate(-90)">%</text>
<text x="0" y="0" font-size="33.5" fill="#737373" textLength="113.8" lengthAdjust="spacingAndGlyphs" transform="translate(103.5 2109.7) rotate(-90)">positive</text>
<text x="0" y="0" font-size="33.5" fill="#737373" textLength="62.9" lengthAdjust="spacingAndGlyphs" transform="translate(103.5 1987.4) rotate(-90)">cells</text>
<text x="212.5" y="2279.4" font-size="28.5" fill="#737373" textLength="52.5" lengthAdjust="spacingAndGlyphs">HSC</text>
<text x="271.4" y="2279.4" font-size="28.5" fill="#737373" textLength="95" lengthAdjust="spacingAndGlyphs">control</text>
<text x="436" y="2279.4" font-size="28.5" fill="#737373" textLength="52.5" lengthAdjust="spacingAndGlyphs">HSC</text>
<text x="494.9" y="2279.4" font-size="28.5" fill="#737373" textLength="50.2" lengthAdjust="spacingAndGlyphs">CsH</text>
<line x1="1008.7" y1="2222.2" x2="1403" y2="2222.2" stroke="#dddddd" stroke-width="3.4"/>
<text x="978.6" y="2231.4" font-size="27.5" fill="#737373" text-anchor="end">0</text>
<text x="978.6" y="2175.6" font-size="27.5" fill="#737373" text-anchor="end">0.5</text>
<text x="978.6" y="2119.8" font-size="27.5" fill="#737373" text-anchor="end">1</text>
<text x="978.6" y="2064" font-size="27.5" fill="#737373" text-anchor="end">1.5</text>
<text x="978.6" y="2008.2" font-size="27.5" fill="#737373" text-anchor="end">2</text>
<text x="978.6" y="1952.4" font-size="27.5" fill="#737373" text-anchor="end">2.5</text>
<text x="978.6" y="1896.6" font-size="27.5" fill="#737373" text-anchor="end">3</text>
<text x="978.6" y="1840.8" font-size="27.5" fill="#737373" text-anchor="end">3.5</text>
<path fill="#fff" stroke="#0c0c0c" stroke-width="3.6" stroke-linejoin="round" d="M1036.8 2220.5 V2186.3 H1177.8 V2220.5"/>
<rect x="1232.5" y="2000.4" width="143.3" height="220.1" fill="#1d1d1b"/>
<line x1="1107.4" y1="2165.8" x2="1107.4" y2="2186.8" stroke="#747474" stroke-width="3.5"/>
<line x1="1098.9" y1="2165.8" x2="1115.9" y2="2165.8" stroke="#747474" stroke-width="3.4"/>
<line x1="1304.2" y1="1870.4" x2="1304.2" y2="2001.4" stroke="#747474" stroke-width="3.5"/>
<line x1="1295.7" y1="1870.4" x2="1312.7" y2="1870.4" stroke="#747474" stroke-width="3.4"/>
<line x1="1067.5" y1="1858" x2="1307.5" y2="1858" stroke="#0c0c0c" stroke-width="2.9"/>
<path fill="#0c0c0c" stroke="#0c0c0c" stroke-width="0.8" stroke-linejoin="round" d="M1188.80 1831.60L1189.85 1819.90L1185.95 1819.90L1187.00 1831.60zM1188.35 1830.82L1179.35 1824.41L1177.40 1827.79L1187.45 1832.38zM1187.45 1830.82L1177.40 1835.41L1179.35 1838.79L1188.35 1832.38zM1187.00 1831.60L1185.95 1843.30L1189.85 1843.30L1188.80 1831.60zM1187.45 1832.38L1196.45 1838.79L1198.40 1835.41L1188.35 1830.82zM1188.35 1832.38L1198.40 1827.79L1196.45 1824.41L1187.45 1830.82z"/>
<circle cx="1187.9" cy="1831.6" r="2.6" fill="#0c0c0c"/>
<text x="943.2" y="1774" font-size="43.5" fill="#737373" textLength="93.7" lengthAdjust="spacingAndGlyphs">HSC,</text>
<text x="1048.4" y="1774" font-size="43.5" fill="#737373" textLength="286.6" lengthAdjust="spacingAndGlyphs">Triple-positive</text>
<text x="0" y="0" font-size="33.5" fill="#737373" textLength="23.9" lengthAdjust="spacingAndGlyphs" transform="translate(914.6 2135.8) rotate(-90)">%</text>
<text x="0" y="0" font-size="33.5" fill="#737373" textLength="113.9" lengthAdjust="spacingAndGlyphs" transform="translate(914.6 2104.9) rotate(-90)">positive</text>
<text x="0" y="0" font-size="33.5" fill="#737373" textLength="62.9" lengthAdjust="spacingAndGlyphs" transform="translate(914.6 1982.5) rotate(-90)">cells</text>
<text x="1030.6" y="2273.6" font-size="28.5" fill="#737373" textLength="52.5" lengthAdjust="spacingAndGlyphs">HSC</text>
<text x="1089.5" y="2273.6" font-size="28.5" fill="#737373" textLength="94.2" lengthAdjust="spacingAndGlyphs">control</text>
<text x="1249.1" y="2273.6" font-size="28.5" fill="#737373" textLength="52.5" lengthAdjust="spacingAndGlyphs">HSC</text>
<text x="1308" y="2273.6" font-size="28.5" fill="#737373" textLength="50.4" lengthAdjust="spacingAndGlyphs">CsH</text>
</svg></body></html>
